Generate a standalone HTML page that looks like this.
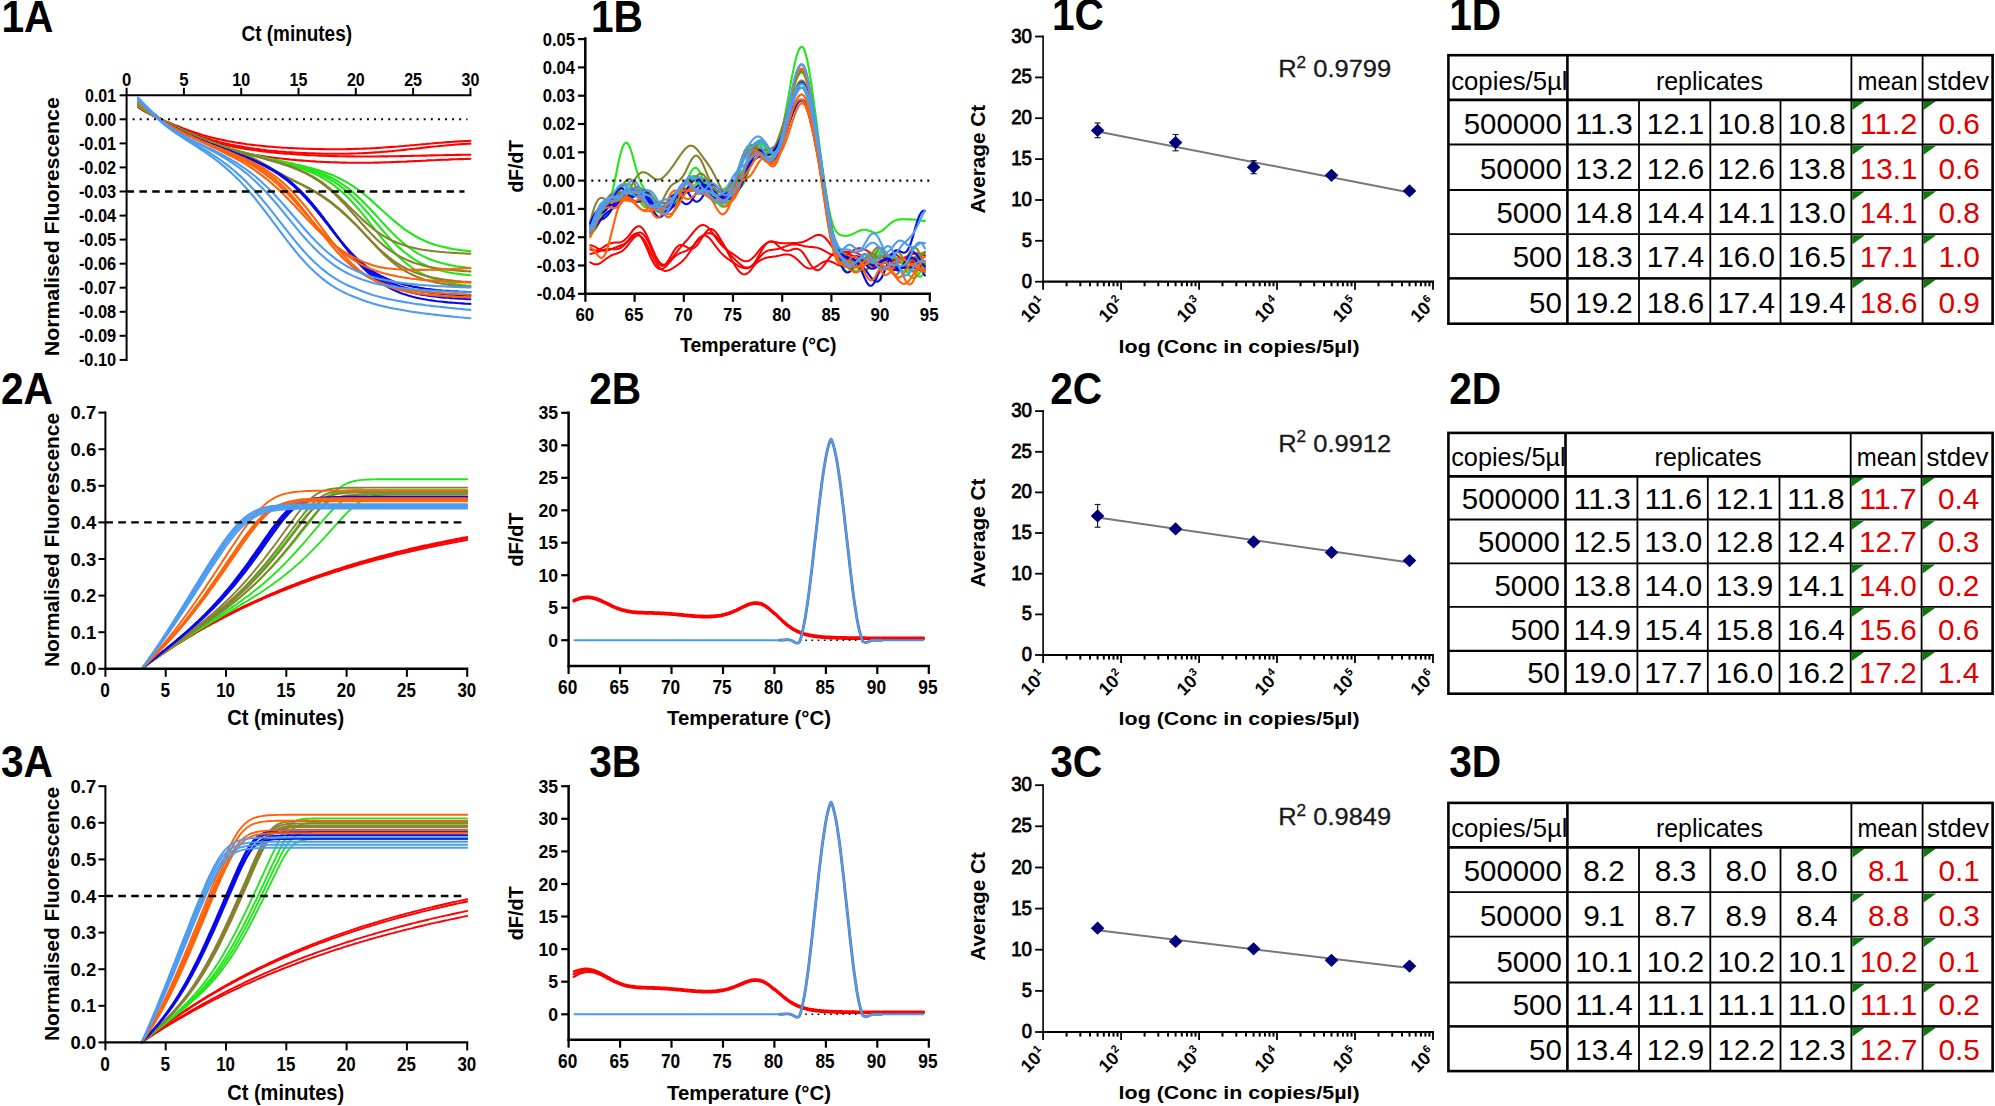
<!DOCTYPE html>
<html lang="en"><head><meta charset="utf-8"><title>Figure</title>
<style>html,body{margin:0;padding:0;background:#fff;}svg{display:block;}text{font-family:'Liberation Sans', Arial, Helvetica, sans-serif;}</style></head>
<body>
<svg width="1995" height="1106" viewBox="0 0 1995 1106">
<rect width="1995" height="1106" fill="#fff"/>
<text x="1.4" y="31.7" font-size="43.5" font-weight="bold" textLength="52" lengthAdjust="spacingAndGlyphs">1A</text>
<text x="590.9" y="31.8" font-size="43.5" font-weight="bold" textLength="52" lengthAdjust="spacingAndGlyphs">1B</text>
<text x="1051.9" y="30" font-size="43.5" font-weight="bold" textLength="52" lengthAdjust="spacingAndGlyphs">1C</text>
<text x="1449.2" y="29.8" font-size="43.5" font-weight="bold" textLength="52" lengthAdjust="spacingAndGlyphs">1D</text>
<text x="0.9" y="404.4" font-size="43.5" font-weight="bold" textLength="52" lengthAdjust="spacingAndGlyphs">2A</text>
<text x="589.2" y="404.4" font-size="43.5" font-weight="bold" textLength="52" lengthAdjust="spacingAndGlyphs">2B</text>
<text x="1050.2" y="404.4" font-size="43.5" font-weight="bold" textLength="52" lengthAdjust="spacingAndGlyphs">2C</text>
<text x="1449.2" y="404.4" font-size="43.5" font-weight="bold" textLength="52" lengthAdjust="spacingAndGlyphs">2D</text>
<text x="0.9" y="776.8" font-size="43.5" font-weight="bold" textLength="52" lengthAdjust="spacingAndGlyphs">3A</text>
<text x="589.2" y="776.8" font-size="43.5" font-weight="bold" textLength="52" lengthAdjust="spacingAndGlyphs">3B</text>
<text x="1050.2" y="776.8" font-size="43.5" font-weight="bold" textLength="52" lengthAdjust="spacingAndGlyphs">3C</text>
<text x="1449.2" y="776.8" font-size="43.5" font-weight="bold" textLength="52" lengthAdjust="spacingAndGlyphs">3D</text>
<polyline points="138.1,107.2 140.9,109.1 143.6,110.8 146.4,112.4 149.2,113.9 152,115.4 154.8,116.7 157.6,117.9 160.4,119.1 163.2,120.2 166,121.4 168.8,122.5 171.6,123.7 174.4,124.9 177.2,126 180,127.1 182.7,128.2 185.5,129.2 188.3,130.3 191.1,131.3 193.9,132.2 196.7,133.1 199.5,134 202.3,134.9 205.1,135.7 207.9,136.5 210.7,137.2 213.5,137.9 216.3,138.6 219.1,139.2 221.8,139.8 224.6,140.4 227.4,141 230.2,141.5 233,142 235.8,142.5 238.6,142.9 241.4,143.4 244.2,143.8 247,144.2 249.8,144.5 252.6,144.9 255.4,145.2 258.1,145.5 260.9,145.8 263.7,146.1 266.5,146.4 269.3,146.6 272.1,146.8 274.9,147.1 277.7,147.3 280.5,147.5 283.3,147.7 286.1,147.8 288.9,148 291.7,148.1 294.5,148.3 297.2,148.4 300,148.5 302.8,148.6 305.6,148.7 308.4,148.8 311.2,148.9 314,149 316.8,149 319.6,149.1 322.4,149.1 325.2,149.2 328,149.2 330.8,149.2 333.6,149.2 336.3,149.2 339.1,149.2 341.9,149.2 344.7,149.2 347.5,149.1 350.3,149.1 353.1,149 355.9,148.9 358.7,148.8 361.5,148.7 364.3,148.6 367.1,148.5 369.9,148.4 372.7,148.2 375.4,148.1 378.2,147.9 381,147.7 383.8,147.5 386.6,147.3 389.4,147.1 392.2,146.9 395,146.7 397.8,146.5 400.6,146.2 403.4,146 406.2,145.7 409,145.5 411.8,145.2 414.5,145 417.3,144.7 420.1,144.5 422.9,144.2 425.7,144 428.5,143.7 431.3,143.5 434.1,143.2 436.9,143 439.7,142.8 442.5,142.6 445.3,142.3 448.1,142.1 450.9,142 453.6,141.8 456.4,141.6 459.2,141.4 462,141.3 464.8,141.1 467.6,141 470.4,140.8" fill="none" stroke="#ff0000" stroke-width="2.1" stroke-linejoin="round" stroke-linecap="round"/>
<polyline points="138.1,105.2 140.9,107.3 143.6,109.2 146.4,111.1 149.2,112.9 152,114.6 154.8,116.1 157.6,117.6 160.4,119.1 163.2,120.4 166,121.8 168.8,123.1 171.6,124.5 174.4,125.8 177.2,127.1 180,128.3 182.7,129.5 185.5,130.7 188.3,131.9 191.1,133 193.9,134 196.7,135.1 199.5,136 202.3,137 205.1,137.9 207.9,138.8 210.7,139.6 213.5,140.4 216.3,141.1 219.1,141.9 221.8,142.6 224.6,143.2 227.4,143.9 230.2,144.5 233,145 235.8,145.6 238.6,146.1 241.4,146.6 244.2,147.1 247,147.5 249.8,148 252.6,148.4 255.4,148.8 258.1,149.1 260.9,149.5 263.7,149.8 266.5,150.2 269.3,150.5 272.1,150.7 274.9,151 277.7,151.3 280.5,151.5 283.3,151.7 286.1,152 288.9,152.2 291.7,152.3 294.5,152.5 297.2,152.7 300,152.8 302.8,153 305.6,153.1 308.4,153.2 311.2,153.3 314,153.4 316.8,153.5 319.6,153.6 322.4,153.7 325.2,153.7 328,153.7 330.8,153.8 333.6,153.8 336.3,153.8 339.1,153.8 341.9,153.8 344.7,153.7 347.5,153.7 350.3,153.6 353.1,153.5 355.9,153.5 358.7,153.3 361.5,153.2 364.3,153.1 367.1,153 369.9,152.8 372.7,152.6 375.4,152.4 378.2,152.2 381,152 383.8,151.8 386.6,151.6 389.4,151.3 392.2,151.1 395,150.8 397.8,150.5 400.6,150.2 403.4,149.9 406.2,149.6 409,149.3 411.8,149 414.5,148.7 417.3,148.4 420.1,148.1 422.9,147.7 425.7,147.4 428.5,147.1 431.3,146.8 434.1,146.5 436.9,146.3 439.7,146 442.5,145.7 445.3,145.5 448.1,145.2 450.9,145 453.6,144.8 456.4,144.5 459.2,144.3 462,144.1 464.8,144 467.6,143.8 470.4,143.6" fill="none" stroke="#ff0000" stroke-width="2.1" stroke-linejoin="round" stroke-linecap="round"/>
<polyline points="138.1,102.9 140.9,105.3 143.6,107.6 146.4,109.7 149.2,111.8 152,113.7 154.8,115.6 157.6,117.4 160.4,119 163.2,120.6 166,122.2 168.8,123.7 171.6,125.2 174.4,126.6 177.2,128 180,129.3 182.7,130.6 185.5,131.9 188.3,133.1 191.1,134.2 193.9,135.3 196.7,136.4 199.5,137.4 202.3,138.4 205.1,139.3 207.9,140.2 210.7,141 213.5,141.8 216.3,142.6 219.1,143.4 221.8,144.1 224.6,144.7 227.4,145.4 230.2,146 233,146.6 235.8,147.1 238.6,147.7 241.4,148.2 244.2,148.6 247,149.1 249.8,149.5 252.6,150 255.4,150.3 258.1,150.7 260.9,151.1 263.7,151.4 266.5,151.8 269.3,152.1 272.1,152.4 274.9,152.6 277.7,152.9 280.5,153.2 283.3,153.4 286.1,153.6 288.9,153.8 291.7,154 294.5,154.2 297.2,154.4 300,154.6 302.8,154.8 305.6,154.9 308.4,155.1 311.2,155.2 314,155.3 316.8,155.5 319.6,155.6 322.4,155.7 325.2,155.8 328,155.9 330.8,156 333.6,156.1 336.3,156.1 339.1,156.2 341.9,156.3 344.7,156.3 347.5,156.4 350.3,156.4 353.1,156.4 355.9,156.5 358.7,156.5 361.5,156.5 364.3,156.5 367.1,156.5 369.9,156.5 372.7,156.5 375.4,156.5 378.2,156.5 381,156.4 383.8,156.4 386.6,156.4 389.4,156.3 392.2,156.3 395,156.3 397.8,156.2 400.6,156.1 403.4,156.1 406.2,156 409,156 411.8,155.9 414.5,155.8 417.3,155.8 420.1,155.7 422.9,155.6 425.7,155.6 428.5,155.5 431.3,155.4 434.1,155.4 436.9,155.3 439.7,155.3 442.5,155.2 445.3,155.1 448.1,155.1 450.9,155 453.6,155 456.4,154.9 459.2,154.9 462,154.8 464.8,154.8 467.6,154.8 470.4,154.7" fill="none" stroke="#ff0000" stroke-width="2.1" stroke-linejoin="round" stroke-linecap="round"/>
<polyline points="138.1,100.9 140.9,103.5 143.6,106 146.4,108.4 149.2,110.7 152,112.9 154.8,115 157.6,117 160.4,119 163.2,120.8 166,122.6 168.8,124.3 171.6,126 174.4,127.6 177.2,129.2 180,130.7 182.7,132.2 185.5,133.6 188.3,134.9 191.1,136.2 193.9,137.4 196.7,138.6 199.5,139.8 202.3,140.9 205.1,141.9 207.9,142.9 210.7,143.9 213.5,144.8 216.3,145.7 219.1,146.6 221.8,147.4 224.6,148.2 227.4,149 230.2,149.7 233,150.4 235.8,151 238.6,151.7 241.4,152.3 244.2,152.9 247,153.4 249.8,154 252.6,154.5 255.4,155 258.1,155.4 260.9,155.9 263.7,156.3 266.5,156.7 269.3,157.1 272.1,157.5 274.9,157.9 277.7,158.2 280.5,158.5 283.3,158.8 286.1,159.1 288.9,159.4 291.7,159.7 294.5,159.9 297.2,160.2 300,160.4 302.8,160.6 305.6,160.8 308.4,161 311.2,161.2 314,161.4 316.8,161.6 319.6,161.7 322.4,161.9 325.2,162 328,162.1 330.8,162.2 333.6,162.3 336.3,162.4 339.1,162.5 341.9,162.6 344.7,162.6 347.5,162.7 350.3,162.7 353.1,162.7 355.9,162.8 358.7,162.8 361.5,162.8 364.3,162.8 367.1,162.7 369.9,162.7 372.7,162.7 375.4,162.6 378.2,162.6 381,162.5 383.8,162.4 386.6,162.3 389.4,162.2 392.2,162.1 395,162 397.8,161.9 400.6,161.8 403.4,161.7 406.2,161.6 409,161.4 411.8,161.3 414.5,161.1 417.3,161 420.1,160.9 422.9,160.7 425.7,160.6 428.5,160.4 431.3,160.3 434.1,160.2 436.9,160 439.7,159.9 442.5,159.8 445.3,159.7 448.1,159.6 450.9,159.4 453.6,159.3 456.4,159.2 459.2,159.1 462,159.1 464.8,159 467.6,158.9 470.4,158.8" fill="none" stroke="#ff0000" stroke-width="2.1" stroke-linejoin="round" stroke-linecap="round"/>
<polyline points="138.1,106.1 140.9,107.9 143.6,109.7 146.4,111.4 149.2,113 152,114.6 154.8,116.1 157.6,117.6 160.4,119.1 163.2,120.5 166,121.9 168.8,123.3 171.6,124.7 174.4,126.1 177.2,127.5 180,128.8 182.7,130.2 185.5,131.5 188.3,132.8 191.1,134 193.9,135.2 196.7,136.4 199.5,137.6 202.3,138.7 205.1,139.8 207.9,140.9 210.7,142 213.5,143 216.3,144 219.1,144.9 221.8,145.9 224.6,146.8 227.4,147.7 230.2,148.5 233,149.4 235.8,150.2 238.6,151 241.4,151.7 244.2,152.5 247,153.2 249.8,153.9 252.6,154.6 255.4,155.3 258.1,156 260.9,156.7 263.7,157.3 266.5,157.9 269.3,158.6 272.1,159.2 274.9,159.8 277.7,160.4 280.5,161 283.3,161.6 286.1,162.2 288.9,162.8 291.7,163.4 294.5,164 297.2,164.7 300,165.3 302.8,166 305.6,166.6 308.4,167.4 311.2,168.1 314,168.9 316.8,169.7 319.6,170.5 322.4,171.4 325.2,172.4 328,173.4 330.8,174.5 333.6,175.6 336.3,176.9 339.1,178.2 341.9,179.6 344.7,181.1 347.5,182.7 350.3,184.4 353.1,186.2 355.9,188.1 358.7,190.1 361.5,192.3 364.3,194.5 367.1,196.8 369.9,199.1 372.7,201.6 375.4,204.1 378.2,206.6 381,209.2 383.8,211.7 386.6,214.2 389.4,216.8 392.2,219.2 395,221.6 397.8,223.9 400.6,226.1 403.4,228.3 406.2,230.3 409,232.2 411.8,234 414.5,235.7 417.3,237.2 420.1,238.7 422.9,240 425.7,241.3 428.5,242.4 431.3,243.4 434.1,244.4 436.9,245.3 439.7,246.1 442.5,246.8 445.3,247.4 448.1,248 450.9,248.6 453.6,249.1 456.4,249.5 459.2,249.9 462,250.3 464.8,250.6 467.6,250.9 470.4,251.2" fill="none" stroke="#22e61a" stroke-width="2.1" stroke-linejoin="round" stroke-linecap="round"/>
<polyline points="138.1,105.4 140.9,107.3 143.6,109.1 146.4,110.9 149.2,112.6 152,114.3 154.8,115.9 157.6,117.5 160.4,119 163.2,120.5 166,122 168.8,123.5 171.6,124.9 174.4,126.3 177.2,127.7 180,129.1 182.7,130.4 185.5,131.7 188.3,133 191.1,134.3 193.9,135.5 196.7,136.7 199.5,137.8 202.3,139 205.1,140 207.9,141.1 210.7,142.1 213.5,143.2 216.3,144.1 219.1,145.1 221.8,146 224.6,146.9 227.4,147.8 230.2,148.7 233,149.5 235.8,150.3 238.6,151.1 241.4,151.9 244.2,152.6 247,153.4 249.8,154.1 252.6,154.8 255.4,155.5 258.1,156.2 260.9,156.9 263.7,157.5 266.5,158.2 269.3,158.8 272.1,159.5 274.9,160.1 277.7,160.8 280.5,161.4 283.3,162 286.1,162.7 288.9,163.4 291.7,164 294.5,164.7 297.2,165.4 300,166.2 302.8,166.9 305.6,167.7 308.4,168.6 311.2,169.5 314,170.4 316.8,171.4 319.6,172.4 322.4,173.5 325.2,174.7 328,176 330.8,177.4 333.6,178.9 336.3,180.4 339.1,182.1 341.9,184 344.7,185.9 347.5,187.9 350.3,190.1 353.1,192.4 355.9,194.9 358.7,197.5 361.5,200.1 364.3,202.9 367.1,205.8 369.9,208.7 372.7,211.7 375.4,214.8 378.2,217.9 381,220.9 383.8,224 386.6,227 389.4,229.9 392.2,232.8 395,235.5 397.8,238.2 400.6,240.7 403.4,243.1 406.2,245.4 409,247.5 411.8,249.5 414.5,251.3 417.3,253.1 420.1,254.6 422.9,256.1 425.7,257.4 428.5,258.7 431.3,259.8 434.1,260.8 436.9,261.7 439.7,262.6 442.5,263.3 445.3,264 448.1,264.6 450.9,265.2 453.6,265.7 456.4,266.2 459.2,266.6 462,267 464.8,267.4 467.6,267.7 470.4,268" fill="none" stroke="#22e61a" stroke-width="2.1" stroke-linejoin="round" stroke-linecap="round"/>
<polyline points="138.1,104.6 140.9,106.6 143.6,108.6 146.4,110.4 149.2,112.3 152,114 154.8,115.7 157.6,117.4 160.4,119 163.2,120.6 166,122.1 168.8,123.7 171.6,125.1 174.4,126.6 177.2,128 180,129.4 182.7,130.7 185.5,132 188.3,133.3 191.1,134.5 193.9,135.7 196.7,136.9 199.5,138.1 202.3,139.2 205.1,140.3 207.9,141.3 210.7,142.3 213.5,143.3 216.3,144.3 219.1,145.3 221.8,146.2 224.6,147.1 227.4,148 230.2,148.8 233,149.6 235.8,150.5 238.6,151.2 241.4,152 244.2,152.8 247,153.5 249.8,154.2 252.6,155 255.4,155.7 258.1,156.4 260.9,157 263.7,157.7 266.5,158.4 269.3,159.1 272.1,159.7 274.9,160.4 277.7,161.1 280.5,161.7 283.3,162.4 286.1,163.1 288.9,163.8 291.7,164.6 294.5,165.3 297.2,166.1 300,166.9 302.8,167.8 305.6,168.7 308.4,169.6 311.2,170.6 314,171.7 316.8,172.8 319.6,174 322.4,175.3 325.2,176.7 328,178.2 330.8,179.8 333.6,181.5 336.3,183.3 339.1,185.3 341.9,187.4 344.7,189.6 347.5,192 350.3,194.5 353.1,197.2 355.9,200 358.7,202.9 361.5,205.9 364.3,209 367.1,212.2 369.9,215.4 372.7,218.7 375.4,222 378.2,225.3 381,228.5 383.8,231.7 386.6,234.9 389.4,237.9 392.2,240.9 395,243.7 397.8,246.4 400.6,248.9 403.4,251.3 406.2,253.5 409,255.6 411.8,257.6 414.5,259.4 417.3,261.1 420.1,262.6 422.9,264 425.7,265.3 428.5,266.5 431.3,267.5 434.1,268.5 436.9,269.4 439.7,270.2 442.5,270.9 445.3,271.6 448.1,272.2 450.9,272.7 453.6,273.2 456.4,273.6 459.2,274 462,274.4 464.8,274.7 467.6,275 470.4,275.3" fill="none" stroke="#22e61a" stroke-width="2.1" stroke-linejoin="round" stroke-linecap="round"/>
<polyline points="138.1,103.9 140.9,106 143.6,108 146.4,110 149.2,111.9 152,113.8 154.8,115.6 157.6,117.3 160.4,119 163.2,120.7 166,122.3 168.8,123.8 171.6,125.4 174.4,126.8 177.2,128.3 180,129.6 182.7,131 185.5,132.3 188.3,133.6 191.1,134.8 193.9,136 196.7,137.2 199.5,138.3 202.3,139.4 205.1,140.5 207.9,141.5 210.7,142.6 213.5,143.5 216.3,144.5 219.1,145.5 221.8,146.4 224.6,147.3 227.4,148.1 230.2,149 233,149.8 235.8,150.6 238.6,151.4 241.4,152.2 244.2,153 247,153.7 249.8,154.5 252.6,155.2 255.4,155.9 258.1,156.6 260.9,157.3 263.7,158 266.5,158.7 269.3,159.4 272.1,160.2 274.9,160.9 277.7,161.6 280.5,162.3 283.3,163.1 286.1,163.8 288.9,164.6 291.7,165.4 294.5,166.3 297.2,167.1 300,168.1 302.8,169 305.6,170.1 308.4,171.2 311.2,172.3 314,173.6 316.8,174.9 319.6,176.3 322.4,177.8 325.2,179.4 328,181.2 330.8,183 333.6,185 336.3,187.2 339.1,189.4 341.9,191.9 344.7,194.4 347.5,197.1 350.3,200 353.1,203 355.9,206.1 358.7,209.3 361.5,212.6 364.3,216.1 367.1,219.5 369.9,223.1 372.7,226.6 375.4,230.2 378.2,233.7 381,237.1 383.8,240.5 386.6,243.8 389.4,247 392.2,250.1 395,253.1 397.8,255.9 400.6,258.5 403.4,261 406.2,263.3 409,265.5 411.8,267.5 414.5,269.4 417.3,271.1 420.1,272.7 422.9,274.1 425.7,275.5 428.5,276.7 431.3,277.8 434.1,278.8 436.9,279.7 439.7,280.6 442.5,281.3 445.3,282 448.1,282.6 450.9,283.2 453.6,283.7 456.4,284.2 459.2,284.6 462,285 464.8,285.3 467.6,285.7 470.4,285.9" fill="none" stroke="#22e61a" stroke-width="2.1" stroke-linejoin="round" stroke-linecap="round"/>
<polyline points="138.1,104.6 140.9,106.6 143.6,108.6 146.4,110.4 149.2,112.3 152,114 154.8,115.8 157.6,117.4 160.4,119 163.2,120.6 166,122.2 168.8,123.7 171.6,125.1 174.4,126.6 177.2,128 180,129.4 182.7,130.7 185.5,132 188.3,133.3 191.1,134.6 193.9,135.8 196.7,136.9 199.5,138.1 202.3,139.2 205.1,140.3 207.9,141.4 210.7,142.4 213.5,143.4 216.3,144.4 219.1,145.3 221.8,146.3 224.6,147.2 227.4,148.1 230.2,148.9 233,149.8 235.8,150.6 238.6,151.4 241.4,152.2 244.2,153 247,153.8 249.8,154.6 252.6,155.3 255.4,156.1 258.1,156.8 260.9,157.6 263.7,158.3 266.5,159.1 269.3,159.9 272.1,160.6 274.9,161.4 277.7,162.3 280.5,163.1 283.3,164 286.1,164.9 288.9,165.8 291.7,166.8 294.5,167.8 297.2,169 300,170.1 302.8,171.4 305.6,172.7 308.4,174.1 311.2,175.6 314,177.2 316.8,179 319.6,180.8 322.4,182.7 325.2,184.8 328,187 330.8,189.3 333.6,191.7 336.3,194.2 339.1,196.8 341.9,199.4 344.7,202.1 347.5,204.9 350.3,207.7 353.1,210.4 355.9,213.2 358.7,215.9 361.5,218.6 364.3,221.1 367.1,223.6 369.9,226 372.7,228.3 375.4,230.4 378.2,232.4 381,234.3 383.8,236.1 386.6,237.7 389.4,239.2 392.2,240.6 395,241.8 397.8,243 400.6,244.1 403.4,245 406.2,245.9 409,246.7 411.8,247.4 414.5,248.1 417.3,248.7 420.1,249.2 422.9,249.7 425.7,250.1 428.5,250.5 431.3,250.9 434.1,251.2 436.9,251.5 439.7,251.8 442.5,252 445.3,252.3 448.1,252.5 450.9,252.7 453.6,252.9 456.4,253 459.2,253.2 462,253.3 464.8,253.5 467.6,253.6 470.4,253.7" fill="none" stroke="#86822e" stroke-width="2.1" stroke-linejoin="round" stroke-linecap="round"/>
<polyline points="138.1,103.9 140.9,106 143.6,108 146.4,110 149.2,111.9 152,113.8 154.8,115.6 157.6,117.3 160.4,119 163.2,120.7 166,122.3 168.8,123.8 171.6,125.4 174.4,126.8 177.2,128.3 180,129.7 182.7,131 185.5,132.3 188.3,133.6 191.1,134.8 193.9,136 196.7,137.2 199.5,138.3 202.3,139.5 205.1,140.5 207.9,141.6 210.7,142.6 213.5,143.6 216.3,144.6 219.1,145.5 221.8,146.5 224.6,147.4 227.4,148.3 230.2,149.1 233,150 235.8,150.8 238.6,151.6 241.4,152.4 244.2,153.2 247,154 249.8,154.8 252.6,155.6 255.4,156.3 258.1,157.1 260.9,157.8 263.7,158.6 266.5,159.4 269.3,160.2 272.1,161 274.9,161.8 277.7,162.6 280.5,163.5 283.3,164.4 286.1,165.3 288.9,166.3 291.7,167.3 294.5,168.4 297.2,169.5 300,170.7 302.8,172 305.6,173.4 308.4,174.8 311.2,176.4 314,178 316.8,179.8 319.6,181.7 322.4,183.7 325.2,185.9 328,188.1 330.8,190.5 333.6,193.1 336.3,195.7 339.1,198.5 341.9,201.4 344.7,204.3 347.5,207.4 350.3,210.5 353.1,213.7 355.9,216.9 358.7,220 361.5,223.2 364.3,226.3 367.1,229.4 369.9,232.4 372.7,235.3 375.4,238 378.2,240.7 381,243.2 383.8,245.6 386.6,247.8 389.4,249.9 392.2,251.9 395,253.7 397.8,255.4 400.6,256.9 403.4,258.3 406.2,259.6 409,260.8 411.8,261.9 414.5,262.9 417.3,263.8 420.1,264.6 422.9,265.4 425.7,266 428.5,266.7 431.3,267.2 434.1,267.7 436.9,268.2 439.7,268.6 442.5,269 445.3,269.3 448.1,269.7 450.9,269.9 453.6,270.2 456.4,270.4 459.2,270.7 462,270.9 464.8,271.1 467.6,271.2 470.4,271.4" fill="none" stroke="#86822e" stroke-width="2.1" stroke-linejoin="round" stroke-linecap="round"/>
<polyline points="138.1,103.2 140.9,105.4 143.6,107.5 146.4,109.5 149.2,111.5 152,113.5 154.8,115.4 157.6,117.2 160.4,119 163.2,120.7 166,122.4 168.8,124 171.6,125.6 174.4,127.1 177.2,128.5 180,129.9 182.7,131.3 185.5,132.6 188.3,133.9 191.1,135.1 193.9,136.3 196.7,137.5 199.5,138.6 202.3,139.7 205.1,140.8 207.9,141.8 210.7,142.9 213.5,143.9 216.3,144.9 219.1,145.8 221.8,146.8 224.6,147.8 227.4,148.7 230.2,149.7 233,150.6 235.8,151.6 238.6,152.6 241.4,153.6 244.2,154.7 247,155.8 249.8,157 252.6,158.2 255.4,159.5 258.1,160.9 260.9,162.4 263.7,164 266.5,165.6 269.3,167.2 272.1,168.9 274.9,170.6 277.7,172.2 280.5,173.8 283.3,175.4 286.1,176.9 288.9,178.3 291.7,179.7 294.5,181.1 297.2,182.5 300,183.9 302.8,185.3 305.6,186.8 308.4,188.3 311.2,189.8 314,191.4 316.8,193.1 319.6,194.9 322.4,196.7 325.2,198.6 328,200.6 330.8,202.7 333.6,204.9 336.3,207.2 339.1,209.5 341.9,211.9 344.7,214.4 347.5,217 350.3,219.7 353.1,222.4 355.9,225.1 358.7,228 361.5,230.8 364.3,233.7 367.1,236.6 369.9,239.5 372.7,242.4 375.4,245.1 378.2,247.9 381,250.5 383.8,253 386.6,255.4 389.4,257.7 392.2,259.8 395,261.8 397.8,263.7 400.6,265.4 403.4,267 406.2,268.5 409,269.9 411.8,271.1 414.5,272.3 417.3,273.3 420.1,274.3 422.9,275.1 425.7,275.9 428.5,276.6 431.3,277.3 434.1,277.9 436.9,278.4 439.7,278.9 442.5,279.3 445.3,279.7 448.1,280.1 450.9,280.4 453.6,280.7 456.4,281 459.2,281.2 462,281.5 464.8,281.7 467.6,281.9 470.4,282.1" fill="none" stroke="#86822e" stroke-width="2.1" stroke-linejoin="round" stroke-linecap="round"/>
<polyline points="138.1,102.5 140.9,104.7 143.6,106.9 146.4,109.1 149.2,111.2 152,113.2 154.8,115.2 157.6,117.1 160.4,119 163.2,120.8 166,122.5 168.8,124.2 171.6,125.8 174.4,127.3 177.2,128.8 180,130.2 182.7,131.5 185.5,132.8 188.3,134.1 191.1,135.3 193.9,136.5 196.7,137.7 199.5,138.8 202.3,139.9 205.1,141 207.9,142 210.7,143 213.5,144 216.3,145 219.1,146 221.8,146.9 224.6,147.9 227.4,148.8 230.2,149.8 233,150.7 235.8,151.7 238.6,152.6 241.4,153.7 244.2,154.7 247,155.8 249.8,157 252.6,158.2 255.4,159.5 258.1,160.9 260.9,162.4 263.7,163.9 266.5,165.5 269.3,167.2 272.1,168.8 274.9,170.4 277.7,172.1 280.5,173.6 283.3,175.2 286.1,176.7 288.9,178.1 291.7,179.5 294.5,180.9 297.2,182.2 300,183.6 302.8,185 305.6,186.4 308.4,187.8 311.2,189.3 314,190.9 316.8,192.5 319.6,194.2 322.4,196 325.2,197.9 328,199.8 330.8,201.9 333.6,204.1 336.3,206.3 339.1,208.6 341.9,211.1 344.7,213.6 347.5,216.2 350.3,218.9 353.1,221.7 355.9,224.6 358.7,227.5 361.5,230.5 364.3,233.6 367.1,236.7 369.9,239.8 372.7,242.8 375.4,245.8 378.2,248.8 381,251.6 383.8,254.4 386.6,257 389.4,259.5 392.2,261.9 395,264.1 397.8,266.2 400.6,268.1 403.4,269.9 406.2,271.6 409,273.1 411.8,274.5 414.5,275.8 417.3,277 420.1,278 422.9,279 425.7,279.9 428.5,280.7 431.3,281.4 434.1,282.1 436.9,282.7 439.7,283.2 442.5,283.7 445.3,284.2 448.1,284.6 450.9,284.9 453.6,285.3 456.4,285.6 459.2,285.8 462,286.1 464.8,286.3 467.6,286.5 470.4,286.7" fill="none" stroke="#86822e" stroke-width="2.1" stroke-linejoin="round" stroke-linecap="round"/>
<polyline points="138.1,102.3 140.9,104.6 143.6,106.8 146.4,109 149.2,111.1 152,113.2 154.8,115.2 157.6,117.2 160.4,119.1 163.2,121 166,122.7 168.8,124.4 171.6,126.1 174.4,127.6 177.2,129.1 180,130.5 182.7,131.9 185.5,133.3 188.3,134.6 191.1,135.9 193.9,137.1 196.7,138.3 199.5,139.5 202.3,140.6 205.1,141.8 207.9,142.9 210.7,144 213.5,145 216.3,146.1 219.1,147.2 221.8,148.2 224.6,149.3 227.4,150.3 230.2,151.3 233,152.4 235.8,153.5 238.6,154.5 241.4,155.6 244.2,156.7 247,157.9 249.8,159 252.6,160.2 255.4,161.5 258.1,162.8 260.9,164.1 263.7,165.5 266.5,167 269.3,168.5 272.1,170.2 274.9,171.9 277.7,173.7 280.5,175.6 283.3,177.6 286.1,179.7 288.9,182 291.7,184.4 294.5,186.8 297.2,189.5 300,192.2 302.8,195.1 305.6,198.1 308.4,201.2 311.2,204.4 314,207.7 316.8,211.1 319.6,214.6 322.4,218.1 325.2,221.7 328,225.2 330.8,228.8 333.6,232.3 336.3,235.8 339.1,239.2 341.9,242.6 344.7,245.8 347.5,248.9 350.3,251.9 353.1,254.8 355.9,257.6 358.7,260.2 361.5,262.6 364.3,264.9 367.1,267.1 369.9,269.1 372.7,271 375.4,272.8 378.2,274.4 381,275.9 383.8,277.3 386.6,278.6 389.4,279.8 392.2,280.9 395,281.9 397.8,282.8 400.6,283.6 403.4,284.4 406.2,285.1 409,285.8 411.8,286.4 414.5,286.9 417.3,287.4 420.1,287.9 422.9,288.3 425.7,288.7 428.5,289 431.3,289.4 434.1,289.7 436.9,290 439.7,290.2 442.5,290.5 445.3,290.7 448.1,290.9 450.9,291.1 453.6,291.2 456.4,291.4 459.2,291.6 462,291.7 464.8,291.8 467.6,292 470.4,292.1" fill="none" stroke="#0808ee" stroke-width="2.1" stroke-linejoin="round" stroke-linecap="round"/>
<polyline points="138.1,101.6 140.9,103.9 143.6,106.3 146.4,108.5 149.2,110.7 152,112.9 154.8,115 157.6,117.1 160.4,119.1 163.2,121 166,122.9 168.8,124.6 171.6,126.3 174.4,127.8 177.2,129.3 180,130.8 182.7,132.2 185.5,133.5 188.3,134.8 191.1,136.1 193.9,137.3 196.7,138.5 199.5,139.7 202.3,140.8 205.1,141.9 207.9,143 210.7,144.1 213.5,145.1 216.3,146.2 219.1,147.2 221.8,148.2 224.6,149.3 227.4,150.3 230.2,151.3 233,152.3 235.8,153.4 238.6,154.4 241.4,155.5 244.2,156.6 247,157.7 249.8,158.8 252.6,160 255.4,161.2 258.1,162.4 260.9,163.7 263.7,165.1 266.5,166.5 269.3,168 272.1,169.6 274.9,171.3 277.7,173 280.5,174.9 283.3,176.8 286.1,178.9 288.9,181.1 291.7,183.4 294.5,185.8 297.2,188.4 300,191.1 302.8,194 305.6,196.9 308.4,200 311.2,203.2 314,206.5 316.8,210 319.6,213.4 322.4,217 325.2,220.6 328,224.3 330.8,227.9 333.6,231.6 336.3,235.2 339.1,238.7 341.9,242.2 344.7,245.6 347.5,249 350.3,252.2 353.1,255.2 355.9,258.2 358.7,260.9 361.5,263.6 364.3,266.1 367.1,268.4 369.9,270.6 372.7,272.7 375.4,274.6 378.2,276.4 381,278 383.8,279.6 386.6,281 389.4,282.3 392.2,283.4 395,284.5 397.8,285.6 400.6,286.5 403.4,287.3 406.2,288.1 409,288.8 411.8,289.5 414.5,290.1 417.3,290.6 420.1,291.1 422.9,291.6 425.7,292 428.5,292.4 431.3,292.7 434.1,293.1 436.9,293.4 439.7,293.6 442.5,293.9 445.3,294.1 448.1,294.4 450.9,294.6 453.6,294.8 456.4,294.9 459.2,295.1 462,295.2 464.8,295.4 467.6,295.5 470.4,295.6" fill="none" stroke="#0808ee" stroke-width="2.1" stroke-linejoin="round" stroke-linecap="round"/>
<polyline points="138.1,100.8 140.9,103.3 143.6,105.7 146.4,108.1 149.2,110.4 152,112.6 154.8,114.8 157.6,117 160.4,119.1 163.2,121.1 166,123 168.8,124.8 171.6,126.5 174.4,128.1 177.2,129.6 180,131 182.7,132.4 185.5,133.8 188.3,135.1 191.1,136.3 193.9,137.5 196.7,138.7 199.5,139.9 202.3,141 205.1,142.1 207.9,143.2 210.7,144.2 213.5,145.3 216.3,146.3 219.1,147.3 221.8,148.3 224.6,149.3 227.4,150.3 230.2,151.3 233,152.3 235.8,153.4 238.6,154.4 241.4,155.4 244.2,156.5 247,157.6 249.8,158.7 252.6,159.8 255.4,161 258.1,162.3 260.9,163.5 263.7,164.9 266.5,166.3 269.3,167.7 272.1,169.3 274.9,170.9 277.7,172.6 280.5,174.4 283.3,176.4 286.1,178.4 288.9,180.6 291.7,182.8 294.5,185.3 297.2,187.8 300,190.5 302.8,193.3 305.6,196.3 308.4,199.3 311.2,202.6 314,205.9 316.8,209.3 319.6,212.9 322.4,216.5 325.2,220.1 328,223.9 330.8,227.6 333.6,231.3 336.3,235.1 339.1,238.8 341.9,242.4 344.7,246 347.5,249.4 350.3,252.8 353.1,256 355.9,259.1 358.7,262 361.5,264.9 364.3,267.5 367.1,270 369.9,272.4 372.7,274.6 375.4,276.6 378.2,278.5 381,280.3 383.8,281.9 386.6,283.4 389.4,284.8 392.2,286.1 395,287.3 397.8,288.4 400.6,289.4 403.4,290.3 406.2,291.1 409,291.9 411.8,292.6 414.5,293.2 417.3,293.8 420.1,294.4 422.9,294.9 425.7,295.3 428.5,295.7 431.3,296.1 434.1,296.5 436.9,296.8 439.7,297.1 442.5,297.4 445.3,297.6 448.1,297.8 450.9,298.1 453.6,298.3 456.4,298.5 459.2,298.6 462,298.8 464.8,298.9 467.6,299.1 470.4,299.2" fill="none" stroke="#0808ee" stroke-width="2.1" stroke-linejoin="round" stroke-linecap="round"/>
<polyline points="138.1,100.1 140.9,102.7 143.6,105.2 146.4,107.6 149.2,110 152,112.4 154.8,114.6 157.6,116.9 160.4,119.1 163.2,121.2 166,123.1 168.8,125 171.6,126.7 174.4,128.3 177.2,129.9 180,131.3 182.7,132.7 185.5,134.1 188.3,135.4 191.1,136.6 193.9,137.8 196.7,139 199.5,140.1 202.3,141.3 205.1,142.4 207.9,143.4 210.7,144.5 213.5,145.5 216.3,146.5 219.1,147.6 221.8,148.6 224.6,149.6 227.4,150.6 230.2,151.6 233,152.6 235.8,153.6 238.6,154.6 241.4,155.7 244.2,156.7 247,157.8 249.8,159 252.6,160.1 255.4,161.3 258.1,162.5 260.9,163.8 263.7,165.2 266.5,166.6 269.3,168 272.1,169.6 274.9,171.2 277.7,172.9 280.5,174.7 283.3,176.7 286.1,178.7 288.9,180.8 291.7,183.1 294.5,185.5 297.2,188 300,190.7 302.8,193.5 305.6,196.4 308.4,199.5 311.2,202.7 314,206 316.8,209.5 319.6,213 322.4,216.6 325.2,220.3 328,224 330.8,227.8 333.6,231.6 336.3,235.4 339.1,239.2 341.9,242.9 344.7,246.5 347.5,250.1 350.3,253.6 353.1,257 355.9,260.2 358.7,263.3 361.5,266.3 364.3,269.1 367.1,271.8 369.9,274.3 372.7,276.6 375.4,278.9 378.2,280.9 381,282.9 383.8,284.6 386.6,286.3 389.4,287.8 392.2,289.3 395,290.6 397.8,291.8 400.6,292.9 403.4,293.9 406.2,294.8 409,295.7 411.8,296.5 414.5,297.2 417.3,297.9 420.1,298.5 422.9,299 425.7,299.5 428.5,300 431.3,300.4 434.1,300.8 436.9,301.2 439.7,301.5 442.5,301.8 445.3,302.1 448.1,302.4 450.9,302.6 453.6,302.8 456.4,303 459.2,303.2 462,303.4 464.8,303.6 467.6,303.7 470.4,303.9" fill="none" stroke="#0808ee" stroke-width="2.1" stroke-linejoin="round" stroke-linecap="round"/>
<polyline points="138.1,103 140.9,105.2 143.6,107.4 146.4,109.6 149.2,111.7 152,113.7 154.8,115.7 157.6,117.6 160.4,119.5 163.2,121.4 166,123.2 168.8,124.9 171.6,126.5 174.4,128.1 177.2,129.7 180,131.2 182.7,132.7 185.5,134.1 188.3,135.5 191.1,136.9 193.9,138.3 196.7,139.6 199.5,140.9 202.3,142.2 205.1,143.6 207.9,144.9 210.7,146.2 213.5,147.5 216.3,148.8 219.1,150.1 221.8,151.5 224.6,152.8 227.4,154.2 230.2,155.7 233,157.1 235.8,158.6 238.6,160.1 241.4,161.7 244.2,163.4 247,165.1 249.8,166.8 252.6,168.7 255.4,170.6 258.1,172.6 260.9,174.6 263.7,176.8 266.5,179 269.3,181.3 272.1,183.7 274.9,186.2 277.7,188.8 280.5,191.4 283.3,194.1 286.1,196.9 288.9,199.8 291.7,202.7 294.5,205.6 297.2,208.5 300,211.5 302.8,214.5 305.6,217.5 308.4,220.4 311.2,223.3 314,226.2 316.8,229 319.6,231.8 322.4,234.4 325.2,237 328,239.5 330.8,241.8 333.6,244.1 336.3,246.3 339.1,248.3 341.9,250.3 344.7,252.1 347.5,253.8 350.3,255.5 353.1,257 355.9,258.4 358.7,259.8 361.5,261 364.3,262.2 367.1,263.2 369.9,264.2 372.7,265.2 375.4,266 378.2,266.8 381,267.4 383.8,267.8 386.6,268.2 389.4,268.5 392.2,268.8 395,269 397.8,269.2 400.6,269.4 403.4,269.6 406.2,269.7 409,269.8 411.8,269.8 414.5,269.9 417.3,269.9 420.1,269.9 422.9,269.9 425.7,269.9 428.5,269.8 431.3,269.8 434.1,269.7 436.9,269.6 439.7,269.5 442.5,269.4 445.3,269.3 448.1,269.2 450.9,269.1 453.6,268.9 456.4,268.8 459.2,268.6 462,268.5 464.8,268.3 467.6,268.2 470.4,268" fill="none" stroke="#ff6208" stroke-width="2.1" stroke-linejoin="round" stroke-linecap="round"/>
<polyline points="138.1,102.2 140.9,104.5 143.6,106.8 146.4,109 149.2,111.1 152,113.3 154.8,115.3 157.6,117.4 160.4,119.3 163.2,121.2 166,123.1 168.8,124.8 171.6,126.5 174.4,128.1 177.2,129.6 180,131.1 182.7,132.5 185.5,133.9 188.3,135.3 191.1,136.6 193.9,137.9 196.7,139.2 199.5,140.5 202.3,141.7 205.1,142.9 207.9,144.2 210.7,145.4 213.5,146.6 216.3,147.8 219.1,149 221.8,150.2 224.6,151.5 227.4,152.7 230.2,154 233,155.3 235.8,156.7 238.6,158.1 241.4,159.5 244.2,160.9 247,162.5 249.8,164 252.6,165.7 255.4,167.4 258.1,169.2 260.9,171.1 263.7,173 266.5,175.1 269.3,177.3 272.1,179.5 274.9,181.9 277.7,184.3 280.5,186.9 283.3,189.5 286.1,192.3 288.9,195.1 291.7,198.1 294.5,201.1 297.2,204.2 300,207.3 302.8,210.5 305.6,213.7 308.4,216.9 311.2,220.1 314,223.3 316.8,226.5 319.6,229.6 322.4,232.7 325.2,235.7 328,238.6 330.8,241.4 333.6,244.1 336.3,246.7 339.1,249.2 341.9,251.5 344.7,253.7 347.5,255.8 350.3,257.8 353.1,259.6 355.9,261.4 358.7,263 361.5,264.5 364.3,265.9 367.1,267.2 369.9,268.4 372.7,269.5 375.4,270.6 378.2,271.5 381,272.4 383.8,273.3 386.6,274 389.4,274.7 392.2,275.3 395,275.9 397.8,276.5 400.6,277 403.4,277.5 406.2,277.9 409,278.3 411.8,278.7 414.5,279 417.3,279.3 420.1,279.6 422.9,279.9 425.7,280.2 428.5,280.4 431.3,280.6 434.1,280.8 436.9,281 439.7,281.2 442.5,281.4 445.3,281.5 448.1,281.7 450.9,281.8 453.6,282 456.4,282.1 459.2,282.2 462,282.3 464.8,282.4 467.6,282.5 470.4,282.6" fill="none" stroke="#ff6208" stroke-width="2.1" stroke-linejoin="round" stroke-linecap="round"/>
<polyline points="138.1,101.4 140.9,103.8 143.6,106.1 146.4,108.4 149.2,110.7 152,112.9 154.8,115 157.6,117.1 160.4,119.2 163.2,121.2 166,123 168.8,124.8 171.6,126.5 174.4,128.1 177.2,129.6 180,131.1 182.7,132.5 185.5,133.9 188.3,135.2 191.1,136.5 193.9,137.8 196.7,139 199.5,140.3 202.3,141.4 205.1,142.6 207.9,143.8 210.7,144.9 213.5,146.1 216.3,147.2 219.1,148.4 221.8,149.5 224.6,150.7 227.4,151.9 230.2,153 233,154.3 235.8,155.5 238.6,156.8 241.4,158.1 244.2,159.4 247,160.8 249.8,162.3 252.6,163.8 255.4,165.4 258.1,167.1 260.9,168.8 263.7,170.7 266.5,172.6 269.3,174.7 272.1,176.9 274.9,179.1 277.7,181.6 280.5,184.1 283.3,186.7 286.1,189.5 288.9,192.5 291.7,195.5 294.5,198.7 297.2,201.9 300,205.3 302.8,208.8 305.6,212.3 308.4,215.9 311.2,219.6 314,223.2 316.8,226.9 319.6,230.5 322.4,234.1 325.2,237.7 328,241.2 330.8,244.6 333.6,247.8 336.3,251 339.1,254 341.9,256.9 344.7,259.7 347.5,262.3 350.3,264.8 353.1,267.1 355.9,269.2 358.7,271.3 361.5,273.1 364.3,274.9 367.1,276.5 369.9,278 372.7,279.4 375.4,280.7 378.2,281.8 381,282.9 383.8,283.9 386.6,284.8 389.4,285.7 392.2,286.4 395,287.1 397.8,287.8 400.6,288.4 403.4,288.9 406.2,289.4 409,289.9 411.8,290.3 414.5,290.7 417.3,291.1 420.1,291.4 422.9,291.7 425.7,292 428.5,292.3 431.3,292.5 434.1,292.7 436.9,293 439.7,293.1 442.5,293.3 445.3,293.5 448.1,293.7 450.9,293.8 453.6,294 456.4,294.1 459.2,294.2 462,294.3 464.8,294.4 467.6,294.6 470.4,294.7" fill="none" stroke="#ff6208" stroke-width="2.1" stroke-linejoin="round" stroke-linecap="round"/>
<polyline points="138.1,100.6 140.9,103.1 143.6,105.6 146.4,108 149.2,110.3 152,112.6 154.8,114.8 157.6,117 160.4,119.1 163.2,121.2 166,123.1 168.8,124.9 171.6,126.6 174.4,128.3 177.2,129.8 180,131.3 182.7,132.7 185.5,134.1 188.3,135.4 191.1,136.6 193.9,137.9 196.7,139.1 199.5,140.3 202.3,141.4 205.1,142.6 207.9,143.7 210.7,144.8 213.5,145.9 216.3,147 219.1,148.1 221.8,149.1 224.6,150.2 227.4,151.3 230.2,152.4 233,153.6 235.8,154.7 238.6,155.9 241.4,157.1 244.2,158.3 247,159.6 249.8,160.9 252.6,162.3 255.4,163.8 258.1,165.3 260.9,166.8 263.7,168.5 266.5,170.2 269.3,172.1 272.1,174 274.9,176.1 277.7,178.2 280.5,180.5 283.3,182.9 286.1,185.5 288.9,188.2 291.7,191 294.5,193.9 297.2,197 300,200.2 302.8,203.5 305.6,206.9 308.4,210.4 311.2,214 314,217.7 316.8,221.4 319.6,225.1 322.4,228.8 325.2,232.5 328,236.2 330.8,239.8 333.6,243.4 336.3,246.8 339.1,250.2 341.9,253.4 344.7,256.5 347.5,259.4 350.3,262.2 353.1,264.9 355.9,267.4 358.7,269.8 361.5,272 364.3,274 367.1,275.9 369.9,277.7 372.7,279.4 375.4,280.9 378.2,282.3 381,283.6 383.8,284.8 386.6,285.9 389.4,286.9 392.2,287.8 395,288.7 397.8,289.5 400.6,290.2 403.4,290.8 406.2,291.4 409,292 411.8,292.5 414.5,292.9 417.3,293.4 420.1,293.8 422.9,294.1 425.7,294.5 428.5,294.8 431.3,295.1 434.1,295.3 436.9,295.6 439.7,295.8 442.5,296 445.3,296.2 448.1,296.4 450.9,296.5 453.6,296.7 456.4,296.9 459.2,297 462,297.1 464.8,297.2 467.6,297.4 470.4,297.5" fill="none" stroke="#ff6208" stroke-width="2.1" stroke-linejoin="round" stroke-linecap="round"/>
<polyline points="138.1,100.5 140.9,103.2 143.6,105.9 146.4,108.6 149.2,111.2 152,113.8 154.8,116.3 157.6,118.8 160.4,121.3 163.2,123.7 166,126 168.8,128.1 171.6,130.2 174.4,132.1 177.2,134.1 180,135.9 182.7,137.7 185.5,139.5 188.3,141.3 191.1,143.1 193.9,144.8 196.7,146.6 199.5,148.5 202.3,150.3 205.1,152.2 207.9,154.1 210.7,156.1 213.5,158.1 216.3,160.2 219.1,162.4 221.8,164.6 224.6,166.9 227.4,169.4 230.2,171.9 233,174.5 235.8,177.2 238.6,179.9 241.4,182.9 244.2,185.9 247,189 249.8,192.2 252.6,195.5 255.4,198.9 258.1,202.3 260.9,205.9 263.7,209.5 266.5,213.2 269.3,216.9 272.1,220.6 274.9,224.4 277.7,228.1 280.5,231.9 283.3,235.6 286.1,239.3 288.9,242.9 291.7,246.5 294.5,250 297.2,253.4 300,256.7 302.8,259.8 305.6,262.9 308.4,265.8 311.2,268.7 314,271.3 316.8,273.9 319.6,276.3 322.4,278.6 325.2,280.8 328,282.9 330.8,284.8 333.6,286.6 336.3,288.3 339.1,289.9 341.9,291.4 344.7,292.8 347.5,294.1 350.3,295.3 353.1,296.4 355.9,297.5 358.7,298.6 361.5,299.7 364.3,300.7 367.1,301.7 369.9,302.6 372.7,303.4 375.4,304.2 378.2,305 381,305.7 383.8,306.4 386.6,307 389.4,307.7 392.2,308.2 395,308.8 397.8,309.3 400.6,309.8 403.4,310.3 406.2,310.8 409,311.2 411.8,311.7 414.5,312.1 417.3,312.5 420.1,312.9 422.9,313.2 425.7,313.6 428.5,313.9 431.3,314.3 434.1,314.6 436.9,314.9 439.7,315.2 442.5,315.6 445.3,315.9 448.1,316.1 450.9,316.4 453.6,316.7 456.4,317 459.2,317.3 462,317.5 464.8,317.8 467.6,318 470.4,318.3" fill="none" stroke="#4d9cf0" stroke-width="2.1" stroke-linejoin="round" stroke-linecap="round"/>
<polyline points="138.1,99.5 140.9,102.3 143.6,105 146.4,107.7 149.2,110.4 152,113 154.8,115.6 157.6,118.1 160.4,120.7 163.2,123.1 166,125.4 168.8,127.5 171.6,129.5 174.4,131.4 177.2,133.2 180,135 182.7,136.7 185.5,138.4 188.3,140.1 191.1,141.7 193.9,143.4 196.7,145 199.5,146.6 202.3,148.3 205.1,150 207.9,151.7 210.7,153.5 213.5,155.3 216.3,157.1 219.1,159 221.8,161 224.6,163.1 227.4,165.2 230.2,167.4 233,169.7 235.8,172.1 238.6,174.6 241.4,177.1 244.2,179.8 247,182.6 249.8,185.5 252.6,188.4 255.4,191.5 258.1,194.7 260.9,197.9 263.7,201.3 266.5,204.7 269.3,208.2 272.1,211.7 274.9,215.2 277.7,218.8 280.5,222.4 283.3,226 286.1,229.6 288.9,233.2 291.7,236.7 294.5,240.1 297.2,243.5 300,246.8 302.8,250 305.6,253.1 308.4,256.1 311.2,258.9 314,261.7 316.8,264.3 319.6,266.8 322.4,269.2 325.2,271.4 328,273.6 330.8,275.6 333.6,277.4 336.3,279.2 339.1,280.9 341.9,282.4 344.7,283.9 347.5,285.2 350.3,286.5 353.1,287.6 355.9,288.7 358.7,289.9 361.5,291 364.3,292.1 367.1,293.1 369.9,294 372.7,294.9 375.4,295.7 378.2,296.5 381,297.2 383.8,297.9 386.6,298.6 389.4,299.2 392.2,299.8 395,300.3 397.8,300.9 400.6,301.4 403.4,301.9 406.2,302.4 409,302.8 411.8,303.2 414.5,303.7 417.3,304.1 420.1,304.4 422.9,304.8 425.7,305.2 428.5,305.5 431.3,305.9 434.1,306.2 436.9,306.5 439.7,306.8 442.5,307.1 445.3,307.4 448.1,307.7 450.9,308 453.6,308.3 456.4,308.6 459.2,308.8 462,309.1 464.8,309.4 467.6,309.6 470.4,309.9" fill="none" stroke="#4d9cf0" stroke-width="2.1" stroke-linejoin="round" stroke-linecap="round"/>
<polyline points="138.1,98.4 140.9,101.2 143.6,104 146.4,106.8 149.2,109.5 152,112.2 154.8,114.8 157.6,117.3 160.4,119.9 163.2,122.3 166,124.6 168.8,126.7 171.6,128.6 174.4,130.5 177.2,132.2 180,133.9 182.7,135.5 185.5,137 188.3,138.5 191.1,140 193.9,141.4 196.7,142.9 199.5,144.3 202.3,145.7 205.1,147.1 207.9,148.6 210.7,150.1 213.5,151.6 216.3,153.1 219.1,154.7 221.8,156.3 224.6,158 227.4,159.7 230.2,161.5 233,163.3 235.8,165.3 238.6,167.3 241.4,169.4 244.2,171.6 247,173.8 249.8,176.2 252.6,178.7 255.4,181.3 258.1,184 260.9,186.7 263.7,189.6 266.5,192.6 269.3,195.7 272.1,198.8 274.9,202 277.7,205.3 280.5,208.7 283.3,212 286.1,215.5 288.9,218.9 291.7,222.3 294.5,225.7 297.2,229.1 300,232.4 302.8,235.6 305.6,238.8 308.4,241.9 311.2,244.9 314,247.8 316.8,250.6 319.6,253.3 322.4,255.8 325.2,258.2 328,260.5 330.8,262.7 333.6,264.8 336.3,266.7 339.1,268.5 341.9,270.2 344.7,271.8 347.5,273.3 350.3,274.6 353.1,275.9 355.9,277.1 358.7,278.2 361.5,279.3 364.3,280.2 367.1,281.1 369.9,281.9 372.7,282.7 375.4,283.4 378.2,284.1 381,284.7 383.8,285.2 386.6,285.8 389.4,286.2 392.2,286.7 395,287.1 397.8,287.5 400.6,287.9 403.4,288.2 406.2,288.5 409,288.8 411.8,289.1 414.5,289.4 417.3,289.6 420.1,289.8 422.9,290.1 425.7,290.3 428.5,290.4 431.3,290.6 434.1,290.8 436.9,290.9 439.7,291.1 442.5,291.2 445.3,291.4 448.1,291.5 450.9,291.6 453.6,291.7 456.4,291.9 459.2,292 462,292.1 464.8,292.2 467.6,292.3 470.4,292.3" fill="none" stroke="#4d9cf0" stroke-width="2.1" stroke-linejoin="round" stroke-linecap="round"/>
<polyline points="138.1,97.5 140.9,100.5 143.6,103.4 146.4,106.2 149.2,109 152,111.7 154.8,114.4 157.6,117 160.4,119.6 163.2,122.1 166,124.4 168.8,126.5 171.6,128.5 174.4,130.3 177.2,132 180,133.7 182.7,135.2 185.5,136.7 188.3,138.2 191.1,139.6 193.9,140.9 196.7,142.3 199.5,143.6 202.3,144.9 205.1,146.3 207.9,147.6 210.7,148.9 213.5,150.3 216.3,151.7 219.1,153.1 221.8,154.5 224.6,156 227.4,157.6 230.2,159.1 233,160.8 235.8,162.5 238.6,164.2 241.4,166.1 244.2,168 247,170 249.8,172.1 252.6,174.2 255.4,176.5 258.1,178.9 260.9,181.3 263.7,183.9 266.5,186.5 269.3,189.3 272.1,192.1 274.9,195 277.7,198.1 280.5,201.1 283.3,204.3 286.1,207.5 288.9,210.7 291.7,214 294.5,217.2 297.2,220.5 300,223.8 302.8,227 305.6,230.2 308.4,233.3 311.2,236.4 314,239.3 316.8,242.2 319.6,245 322.4,247.7 325.2,250.2 328,252.7 330.8,255 333.6,257.2 336.3,259.3 339.1,261.2 341.9,263.1 344.7,264.8 347.5,266.5 350.3,268 353.1,269.4 355.9,270.7 358.7,272 361.5,273.1 364.3,274.2 367.1,275.2 369.9,276.1 372.7,276.9 375.4,277.7 378.2,278.5 381,279.1 383.8,279.8 386.6,280.3 389.4,280.9 392.2,281.4 395,281.9 397.8,282.3 400.6,282.7 403.4,283.1 406.2,283.4 409,283.7 411.8,284 414.5,284.3 417.3,284.6 420.1,284.8 422.9,285.1 425.7,285.3 428.5,285.5 431.3,285.7 434.1,285.9 436.9,286 439.7,286.2 442.5,286.3 445.3,286.5 448.1,286.6 450.9,286.8 453.6,286.9 456.4,287 459.2,287.1 462,287.2 464.8,287.3 467.6,287.4 470.4,287.5" fill="none" stroke="#4d9cf0" stroke-width="2.1" stroke-linejoin="round" stroke-linecap="round"/>
<line x1="132.6" y1="119.3" x2="467.5" y2="119.3" stroke="#000" stroke-width="2.1" stroke-dasharray="2 5.1"/>
<line x1="126.6" y1="191.5" x2="464.5" y2="191.5" stroke="#000" stroke-width="2.3" stroke-dasharray="7.5 5.3"/>
<line x1="125.6" y1="95.3" x2="471.4" y2="95.3" stroke="#000" stroke-width="2"/>
<line x1="126.6" y1="95.3" x2="126.6" y2="360.9" stroke="#000" stroke-width="2"/>
<line x1="126.6" y1="87.8" x2="126.6" y2="95.3" stroke="#000" stroke-width="2"/>
<text x="126.6" y="85.9" font-size="18.5" text-anchor="middle" font-weight="bold" textLength="9.3" lengthAdjust="spacingAndGlyphs">0</text>
<line x1="183.9" y1="87.8" x2="183.9" y2="95.3" stroke="#000" stroke-width="2"/>
<text x="183.9" y="85.9" font-size="18.5" text-anchor="middle" font-weight="bold" textLength="9.3" lengthAdjust="spacingAndGlyphs">5</text>
<line x1="241.2" y1="87.8" x2="241.2" y2="95.3" stroke="#000" stroke-width="2"/>
<text x="241.2" y="85.9" font-size="18.5" text-anchor="middle" font-weight="bold" textLength="17.8" lengthAdjust="spacingAndGlyphs">10</text>
<line x1="298.5" y1="87.8" x2="298.5" y2="95.3" stroke="#000" stroke-width="2"/>
<text x="298.5" y="85.9" font-size="18.5" text-anchor="middle" font-weight="bold" textLength="17.8" lengthAdjust="spacingAndGlyphs">15</text>
<line x1="355.8" y1="87.8" x2="355.8" y2="95.3" stroke="#000" stroke-width="2"/>
<text x="355.8" y="85.9" font-size="18.5" text-anchor="middle" font-weight="bold" textLength="17.8" lengthAdjust="spacingAndGlyphs">20</text>
<line x1="413.1" y1="87.8" x2="413.1" y2="95.3" stroke="#000" stroke-width="2"/>
<text x="413.1" y="85.9" font-size="18.5" text-anchor="middle" font-weight="bold" textLength="17.8" lengthAdjust="spacingAndGlyphs">25</text>
<line x1="470.4" y1="87.8" x2="470.4" y2="95.3" stroke="#000" stroke-width="2"/>
<text x="470.4" y="85.9" font-size="18.5" text-anchor="middle" font-weight="bold" textLength="17.8" lengthAdjust="spacingAndGlyphs">30</text>
<line x1="119.6" y1="95.3" x2="126.6" y2="95.3" stroke="#000" stroke-width="2"/>
<text x="116.2" y="101.5" font-size="19" text-anchor="end" font-weight="bold" textLength="31.2" lengthAdjust="spacingAndGlyphs">0.01</text>
<line x1="119.6" y1="119.3" x2="126.6" y2="119.3" stroke="#000" stroke-width="2"/>
<text x="116.2" y="125.5" font-size="19" text-anchor="end" font-weight="bold" textLength="31.2" lengthAdjust="spacingAndGlyphs">0.00</text>
<line x1="119.6" y1="143.4" x2="126.6" y2="143.4" stroke="#000" stroke-width="2"/>
<text x="116.2" y="149.6" font-size="19" text-anchor="end" font-weight="bold" textLength="37.3" lengthAdjust="spacingAndGlyphs">-0.01</text>
<line x1="119.6" y1="167.4" x2="126.6" y2="167.4" stroke="#000" stroke-width="2"/>
<text x="116.2" y="173.6" font-size="19" text-anchor="end" font-weight="bold" textLength="37.3" lengthAdjust="spacingAndGlyphs">-0.02</text>
<line x1="119.6" y1="191.5" x2="126.6" y2="191.5" stroke="#000" stroke-width="2"/>
<text x="116.2" y="197.7" font-size="19" text-anchor="end" font-weight="bold" textLength="37.3" lengthAdjust="spacingAndGlyphs">-0.03</text>
<line x1="119.6" y1="215.6" x2="126.6" y2="215.6" stroke="#000" stroke-width="2"/>
<text x="116.2" y="221.8" font-size="19" text-anchor="end" font-weight="bold" textLength="37.3" lengthAdjust="spacingAndGlyphs">-0.04</text>
<line x1="119.6" y1="239.6" x2="126.6" y2="239.6" stroke="#000" stroke-width="2"/>
<text x="116.2" y="245.8" font-size="19" text-anchor="end" font-weight="bold" textLength="37.3" lengthAdjust="spacingAndGlyphs">-0.05</text>
<line x1="119.6" y1="263.7" x2="126.6" y2="263.7" stroke="#000" stroke-width="2"/>
<text x="116.2" y="269.9" font-size="19" text-anchor="end" font-weight="bold" textLength="37.3" lengthAdjust="spacingAndGlyphs">-0.06</text>
<line x1="119.6" y1="287.7" x2="126.6" y2="287.7" stroke="#000" stroke-width="2"/>
<text x="116.2" y="293.9" font-size="19" text-anchor="end" font-weight="bold" textLength="37.3" lengthAdjust="spacingAndGlyphs">-0.07</text>
<line x1="119.6" y1="311.8" x2="126.6" y2="311.8" stroke="#000" stroke-width="2"/>
<text x="116.2" y="317.9" font-size="19" text-anchor="end" font-weight="bold" textLength="37.3" lengthAdjust="spacingAndGlyphs">-0.08</text>
<line x1="119.6" y1="335.8" x2="126.6" y2="335.8" stroke="#000" stroke-width="2"/>
<text x="116.2" y="342" font-size="19" text-anchor="end" font-weight="bold" textLength="37.3" lengthAdjust="spacingAndGlyphs">-0.09</text>
<line x1="119.6" y1="359.9" x2="126.6" y2="359.9" stroke="#000" stroke-width="2"/>
<text x="116.2" y="366.1" font-size="19" text-anchor="end" font-weight="bold" textLength="37.3" lengthAdjust="spacingAndGlyphs">-0.10</text>
<text x="241.5" y="41" font-size="22.7" font-weight="bold" textLength="110.5" lengthAdjust="spacingAndGlyphs">Ct (minutes)</text>
<text x="58.7" y="356.2" font-size="21" font-weight="bold" transform="rotate(-90 58.7 356.2)" textLength="259" lengthAdjust="spacingAndGlyphs">Normalised Fluorescence</text>
<polyline points="141.6,668.8 143.8,667.2 146,665.5 148.1,663.9 150.3,662.4 152.5,660.8 154.7,659.2 156.9,657.7 159.1,656.2 161.2,654.7 163.4,653.2 165.6,651.7 167.8,650.2 170,648.7 172.2,647.3 174.4,645.9 176.5,644.5 178.7,643.1 180.9,641.7 183.1,640.3 185.3,638.9 187.5,637.6 189.7,636.2 191.8,634.9 194,633.6 196.2,632.3 198.4,631 200.6,629.7 202.8,628.5 205,627.2 207.1,626 209.3,624.8 211.5,623.6 213.7,622.4 215.9,621.2 218.1,620 220.3,618.8 222.4,617.7 224.6,616.5 226.8,615.4 229,614.2 231.2,613.1 233.4,612 235.6,610.9 237.7,609.8 239.9,608.8 242.1,607.7 244.3,606.7 246.5,605.6 248.7,604.6 250.8,603.6 253,602.5 255.2,601.5 257.4,600.5 259.6,599.6 261.8,598.6 264,597.6 266.1,596.7 268.3,595.7 270.5,594.8 272.7,593.8 274.9,592.9 277.1,592 279.3,591.1 281.4,590.2 283.6,589.3 285.8,588.4 288,587.6 290.2,586.7 292.4,585.9 294.6,585 296.7,584.2 298.9,583.3 301.1,582.5 303.3,581.7 305.5,580.9 307.7,580.1 309.9,579.3 312,578.5 314.2,577.8 316.4,577 318.6,576.2 320.8,575.5 323,574.7 325.2,574 327.3,573.3 329.5,572.5 331.7,571.8 333.9,571.1 336.1,570.4 338.3,569.7 340.4,569 342.6,568.3 344.8,567.6 347,567 349.2,566.3 351.4,565.6 353.6,565 355.7,564.3 357.9,563.7 360.1,563.1 362.3,562.4 364.5,561.8 366.7,561.2 368.9,560.6 371,560 373.2,559.4 375.4,558.8 377.6,558.2 379.8,557.6 382,557 384.2,556.5 386.3,555.9 388.5,555.3 390.7,554.8 392.9,554.2 395.1,553.7 397.3,553.1 399.5,552.6 401.6,552.1 403.8,551.5 406,551 408.2,550.5 410.4,550 412.6,549.5 414.8,549 416.9,548.5 419.1,548 421.3,547.5 423.5,547 425.7,546.6 427.9,546.1 430,545.6 432.2,545.2 434.4,544.7 436.6,544.2 438.8,543.8 441,543.4 443.2,542.9 445.3,542.5 447.5,542 449.7,541.6 451.9,541.2 454.1,540.8 456.3,540.3 458.5,539.9 460.6,539.5 462.8,539.1 465,538.7 467.2,538.3" fill="none" stroke="#ff0000" stroke-width="1.9" stroke-linejoin="round" stroke-linecap="round"/>
<polyline points="141.6,668.8 143.8,667.2 146,665.6 148.1,664 150.3,662.4 152.5,660.9 154.7,659.4 156.9,657.8 159.1,656.3 161.2,654.8 163.4,653.4 165.6,651.9 167.8,650.4 170,649 172.2,647.6 174.4,646.2 176.5,644.8 178.7,643.4 180.9,642 183.1,640.7 185.3,639.3 187.5,638 189.7,636.7 191.8,635.4 194,634.1 196.2,632.8 198.4,631.5 200.6,630.2 202.8,629 205,627.8 207.1,626.5 209.3,625.3 211.5,624.1 213.7,622.9 215.9,621.8 218.1,620.6 220.3,619.4 222.4,618.3 224.6,617.2 226.8,616.1 229,614.9 231.2,613.8 233.4,612.7 235.6,611.7 237.7,610.6 239.9,609.5 242.1,608.5 244.3,607.5 246.5,606.4 248.7,605.4 250.8,604.4 253,603.4 255.2,602.4 257.4,601.4 259.6,600.4 261.8,599.5 264,598.5 266.1,597.6 268.3,596.6 270.5,595.7 272.7,594.8 274.9,593.9 277.1,593 279.3,592.1 281.4,591.2 283.6,590.3 285.8,589.5 288,588.6 290.2,587.8 292.4,586.9 294.6,586.1 296.7,585.3 298.9,584.4 301.1,583.6 303.3,582.8 305.5,582 307.7,581.2 309.9,580.5 312,579.7 314.2,578.9 316.4,578.2 318.6,577.4 320.8,576.7 323,575.9 325.2,575.2 327.3,574.5 329.5,573.8 331.7,573 333.9,572.3 336.1,571.6 338.3,571 340.4,570.3 342.6,569.6 344.8,568.9 347,568.3 349.2,567.6 351.4,567 353.6,566.3 355.7,565.7 357.9,565 360.1,564.4 362.3,563.8 364.5,563.2 366.7,562.6 368.9,562 371,561.4 373.2,560.8 375.4,560.2 377.6,559.6 379.8,559 382,558.5 384.2,557.9 386.3,557.3 388.5,556.8 390.7,556.2 392.9,555.7 395.1,555.1 397.3,554.6 399.5,554.1 401.6,553.6 403.8,553 406,552.5 408.2,552 410.4,551.5 412.6,551 414.8,550.5 416.9,550 419.1,549.6 421.3,549.1 423.5,548.6 425.7,548.1 427.9,547.7 430,547.2 432.2,546.7 434.4,546.3 436.6,545.8 438.8,545.4 441,545 443.2,544.5 445.3,544.1 447.5,543.7 449.7,543.2 451.9,542.8 454.1,542.4 456.3,542 458.5,541.6 460.6,541.2 462.8,540.8 465,540.4 467.2,540" fill="none" stroke="#ff0000" stroke-width="1.9" stroke-linejoin="round" stroke-linecap="round"/>
<polyline points="141.6,668.8 143.8,667.2 146,665.5 148.1,663.9 150.3,662.3 152.5,660.7 154.7,659.2 156.9,657.6 159.1,656.1 161.2,654.5 163.4,653 165.6,651.5 167.8,650.1 170,648.6 172.2,647.1 174.4,645.7 176.5,644.3 178.7,642.9 180.9,641.5 183.1,640.1 185.3,638.7 187.5,637.3 189.7,636 191.8,634.6 194,633.3 196.2,632 198.4,630.7 200.6,629.4 202.8,628.2 205,626.9 207.1,625.6 209.3,624.4 211.5,623.2 213.7,622 215.9,620.8 218.1,619.6 220.3,618.4 222.4,617.2 224.6,616.1 226.8,614.9 229,613.8 231.2,612.7 233.4,611.5 235.6,610.4 237.7,609.3 239.9,608.3 242.1,607.2 244.3,606.1 246.5,605.1 248.7,604 250.8,603 253,602 255.2,601 257.4,600 259.6,599 261.8,598 264,597 266.1,596 268.3,595.1 270.5,594.1 272.7,593.2 274.9,592.3 277.1,591.3 279.3,590.4 281.4,589.5 283.6,588.6 285.8,587.7 288,586.8 290.2,586 292.4,585.1 294.6,584.3 296.7,583.4 298.9,582.6 301.1,581.7 303.3,580.9 305.5,580.1 307.7,579.3 309.9,578.5 312,577.7 314.2,576.9 316.4,576.1 318.6,575.4 320.8,574.6 323,573.9 325.2,573.1 327.3,572.4 329.5,571.6 331.7,570.9 333.9,570.2 336.1,569.5 338.3,568.8 340.4,568.1 342.6,567.4 344.8,566.7 347,566 349.2,565.3 351.4,564.7 353.6,564 355.7,563.3 357.9,562.7 360.1,562 362.3,561.4 364.5,560.8 366.7,560.2 368.9,559.5 371,558.9 373.2,558.3 375.4,557.7 377.6,557.1 379.8,556.5 382,555.9 384.2,555.4 386.3,554.8 388.5,554.2 390.7,553.7 392.9,553.1 395.1,552.5 397.3,552 399.5,551.5 401.6,550.9 403.8,550.4 406,549.9 408.2,549.3 410.4,548.8 412.6,548.3 414.8,547.8 416.9,547.3 419.1,546.8 421.3,546.3 423.5,545.8 425.7,545.3 427.9,544.9 430,544.4 432.2,543.9 434.4,543.4 436.6,543 438.8,542.5 441,542.1 443.2,541.6 445.3,541.2 447.5,540.7 449.7,540.3 451.9,539.9 454.1,539.4 456.3,539 458.5,538.6 460.6,538.2 462.8,537.8 465,537.4 467.2,537" fill="none" stroke="#ff0000" stroke-width="1.9" stroke-linejoin="round" stroke-linecap="round"/>
<polyline points="141.6,668.8 143.8,667.1 146,665.4 148.1,663.8 150.3,662.1 152.5,660.5 154.7,658.8 156.9,657.2 159.1,655.6 161.2,654 163.4,652.4 165.6,650.8 167.8,649.2 170,647.6 172.2,646 174.4,644.4 176.5,642.8 178.7,641.2 180.9,639.7 183.1,638.1 185.3,636.5 187.5,634.9 189.7,633.3 191.8,631.7 194,630.1 196.2,628.5 198.4,626.9 200.6,625.3 202.8,623.7 205,622 207.1,620.3 209.3,618.7 211.5,617 213.7,615.3 215.9,613.5 218.1,611.8 220.3,610 222.4,608.2 224.6,606.4 226.8,604.5 229,602.6 231.2,600.7 233.4,598.8 235.6,596.8 237.7,594.8 239.9,592.7 242.1,590.6 244.3,588.5 246.5,586.4 248.7,584.2 250.8,582 253,579.7 255.2,577.4 257.4,575 259.6,572.7 261.8,570.2 264,567.8 266.1,565.3 268.3,562.8 270.5,560.2 272.7,557.6 274.9,555 277.1,552.4 279.3,549.7 281.4,547 283.6,544.2 285.8,541.5 288,538.7 290.2,535.9 292.4,533.1 294.6,530.3 296.7,527.5 298.9,524.7 301.1,522 303.3,519.2 305.5,516.5 307.7,513.9 309.9,511.3 312,508.9 314.2,506.5 316.4,504.4 318.6,502.3 320.8,500.5 323,498.9 325.2,497.5 327.3,496.3 329.5,495.2 331.7,494.4 333.9,493.7 336.1,493.2 338.3,492.7 340.4,492.4 342.6,492.1 344.8,491.9 347,491.8 349.2,491.7 351.4,491.6 353.6,491.5 355.7,491.5 357.9,491.4 360.1,491.4 362.3,491.4 364.5,491.3 366.7,491.3 368.9,491.3 371,491.3 373.2,491.3 375.4,491.3 377.6,491.3 379.8,491.3 382,491.3 384.2,491.3 386.3,491.3 388.5,491.3 390.7,491.3 392.9,491.3 395.1,491.3 397.3,491.3 399.5,491.3 401.6,491.3 403.8,491.3 406,491.3 408.2,491.3 410.4,491.3 412.6,491.3 414.8,491.3 416.9,491.3 419.1,491.3 421.3,491.3 423.5,491.3 425.7,491.3 427.9,491.3 430,491.3 432.2,491.3 434.4,491.3 436.6,491.3 438.8,491.3 441,491.3 443.2,491.3 445.3,491.3 447.5,491.3 449.7,491.3 451.9,491.3 454.1,491.3 456.3,491.3 458.5,491.3 460.6,491.3 462.8,491.3 465,491.3 467.2,491.3" fill="none" stroke="#22e61a" stroke-width="1.9" stroke-linejoin="round" stroke-linecap="round"/>
<polyline points="141.6,668.8 143.8,667.1 146,665.5 148.1,663.8 150.3,662.2 152.5,660.6 154.7,659 156.9,657.4 159.1,655.8 161.2,654.2 163.4,652.6 165.6,651.1 167.8,649.5 170,648 172.2,646.4 174.4,644.9 176.5,643.4 178.7,641.9 180.9,640.3 183.1,638.8 185.3,637.3 187.5,635.8 189.7,634.3 191.8,632.8 194,631.3 196.2,629.8 198.4,628.3 200.6,626.8 202.8,625.2 205,623.7 207.1,622.2 209.3,620.6 211.5,619.1 213.7,617.5 215.9,616 218.1,614.4 220.3,612.8 222.4,611.2 224.6,609.5 226.8,607.9 229,606.2 231.2,604.5 233.4,602.8 235.6,601 237.7,599.2 239.9,597.4 242.1,595.6 244.3,593.7 246.5,591.8 248.7,589.9 250.8,587.9 253,585.9 255.2,583.9 257.4,581.8 259.6,579.7 261.8,577.6 264,575.4 266.1,573.1 268.3,570.9 270.5,568.6 272.7,566.2 274.9,563.9 277.1,561.5 279.3,559 281.4,556.5 283.6,554 285.8,551.4 288,548.9 290.2,546.2 292.4,543.6 294.6,540.9 296.7,538.2 298.9,535.5 301.1,532.7 303.3,530 305.5,527.2 307.7,524.4 309.9,521.6 312,518.8 314.2,516 316.4,513.2 318.6,510.4 320.8,507.6 323,504.9 325.2,502.3 327.3,499.7 329.5,497.3 331.7,494.9 333.9,492.7 336.1,490.7 338.3,488.8 340.4,487.2 342.6,485.7 344.8,484.5 347,483.4 349.2,482.5 351.4,481.8 353.6,481.2 355.7,480.8 357.9,480.4 360.1,480.1 362.3,479.9 364.5,479.8 366.7,479.6 368.9,479.5 371,479.5 373.2,479.4 375.4,479.4 377.6,479.3 379.8,479.3 382,479.3 384.2,479.3 386.3,479.2 388.5,479.2 390.7,479.2 392.9,479.2 395.1,479.2 397.3,479.2 399.5,479.2 401.6,479.2 403.8,479.2 406,479.2 408.2,479.2 410.4,479.2 412.6,479.2 414.8,479.2 416.9,479.2 419.1,479.2 421.3,479.2 423.5,479.2 425.7,479.2 427.9,479.2 430,479.2 432.2,479.2 434.4,479.2 436.6,479.2 438.8,479.2 441,479.2 443.2,479.2 445.3,479.2 447.5,479.2 449.7,479.2 451.9,479.2 454.1,479.2 456.3,479.2 458.5,479.2 460.6,479.2 462.8,479.2 465,479.2 467.2,479.2" fill="none" stroke="#22e61a" stroke-width="1.9" stroke-linejoin="round" stroke-linecap="round"/>
<polyline points="141.6,668.8 143.8,667.1 146,665.5 148.1,663.9 150.3,662.3 152.5,660.7 154.7,659.1 156.9,657.5 159.1,655.9 161.2,654.4 163.4,652.8 165.6,651.3 167.8,649.8 170,648.3 172.2,646.8 174.4,645.3 176.5,643.8 178.7,642.4 180.9,640.9 183.1,639.4 185.3,638 187.5,636.5 189.7,635.1 191.8,633.7 194,632.3 196.2,630.8 198.4,629.4 200.6,628 202.8,626.6 205,625.2 207.1,623.8 209.3,622.3 211.5,620.9 213.7,619.5 215.9,618.1 218.1,616.6 220.3,615.2 222.4,613.8 224.6,612.3 226.8,610.8 229,609.4 231.2,607.9 233.4,606.4 235.6,604.9 237.7,603.3 239.9,601.8 242.1,600.2 244.3,598.6 246.5,597 248.7,595.4 250.8,593.7 253,592 255.2,590.3 257.4,588.5 259.6,586.8 261.8,584.9 264,583.1 266.1,581.2 268.3,579.3 270.5,577.3 272.7,575.4 274.9,573.3 277.1,571.3 279.3,569.2 281.4,567 283.6,564.8 285.8,562.6 288,560.4 290.2,558.1 292.4,555.7 294.6,553.4 296.7,551 298.9,548.5 301.1,546.1 303.3,543.6 305.5,541.1 307.7,538.5 309.9,535.9 312,533.4 314.2,530.8 316.4,528.2 318.6,525.6 320.8,523 323,520.4 325.2,517.9 327.3,515.4 329.5,513 331.7,510.7 333.9,508.4 336.1,506.4 338.3,504.4 340.4,502.6 342.6,501 344.8,499.6 347,498.4 349.2,497.4 351.4,496.5 353.6,495.8 355.7,495.2 357.9,494.8 360.1,494.4 362.3,494.1 364.5,493.9 366.7,493.7 368.9,493.6 371,493.5 373.2,493.4 375.4,493.3 377.6,493.3 379.8,493.2 382,493.2 384.2,493.2 386.3,493.2 388.5,493.2 390.7,493.1 392.9,493.1 395.1,493.1 397.3,493.1 399.5,493.1 401.6,493.1 403.8,493.1 406,493.1 408.2,493.1 410.4,493.1 412.6,493.1 414.8,493.1 416.9,493.1 419.1,493.1 421.3,493.1 423.5,493.1 425.7,493.1 427.9,493.1 430,493.1 432.2,493.1 434.4,493.1 436.6,493.1 438.8,493.1 441,493.1 443.2,493.1 445.3,493.1 447.5,493.1 449.7,493.1 451.9,493.1 454.1,493.1 456.3,493.1 458.5,493.1 460.6,493.1 462.8,493.1 465,493.1 467.2,493.1" fill="none" stroke="#22e61a" stroke-width="1.9" stroke-linejoin="round" stroke-linecap="round"/>
<polyline points="141.6,668.8 143.8,667.2 146,665.5 148.1,663.9 150.3,662.3 152.5,660.7 154.7,659.2 156.9,657.6 159.1,656.1 161.2,654.5 163.4,653 165.6,651.5 167.8,650 170,648.5 172.2,647.1 174.4,645.6 176.5,644.2 178.7,642.7 180.9,641.3 183.1,639.9 185.3,638.5 187.5,637.1 189.7,635.7 191.8,634.4 194,633 196.2,631.6 198.4,630.3 200.6,628.9 202.8,627.6 205,626.3 207.1,625 209.3,623.6 211.5,622.3 213.7,621 215.9,619.7 218.1,618.4 220.3,617.1 222.4,615.8 224.6,614.5 226.8,613.2 229,612 231.2,610.7 233.4,609.4 235.6,608.1 237.7,606.7 239.9,605.4 242.1,604.1 244.3,602.8 246.5,601.5 248.7,600.1 250.8,598.7 253,597.4 255.2,596 257.4,594.6 259.6,593.2 261.8,591.7 264,590.3 266.1,588.8 268.3,587.3 270.5,585.8 272.7,584.2 274.9,582.6 277.1,581 279.3,579.4 281.4,577.7 283.6,576 285.8,574.3 288,572.5 290.2,570.7 292.4,568.9 294.6,567 296.7,565.1 298.9,563.2 301.1,561.2 303.3,559.1 305.5,557.1 307.7,555 309.9,552.8 312,550.6 314.2,548.4 316.4,546.2 318.6,543.9 320.8,541.6 323,539.2 325.2,536.8 327.3,534.4 329.5,532 331.7,529.6 333.9,527.2 336.1,524.7 338.3,522.3 340.4,519.9 342.6,517.5 344.8,515.2 347,512.9 349.2,510.7 351.4,508.6 353.6,506.6 355.7,504.8 357.9,503.1 360.1,501.6 362.3,500.3 364.5,499.1 366.7,498.1 368.9,497.3 371,496.6 373.2,496 375.4,495.5 377.6,495.2 379.8,494.9 382,494.6 384.2,494.5 386.3,494.3 388.5,494.2 390.7,494.1 392.9,494.1 395.1,494 397.3,494 399.5,493.9 401.6,493.9 403.8,493.9 406,493.9 408.2,493.9 410.4,493.9 412.6,493.9 414.8,493.9 416.9,493.9 419.1,493.9 421.3,493.9 423.5,493.9 425.7,493.9 427.9,493.9 430,493.9 432.2,493.9 434.4,493.9 436.6,493.9 438.8,493.9 441,493.9 443.2,493.9 445.3,493.9 447.5,493.9 449.7,493.9 451.9,493.9 454.1,493.9 456.3,493.9 458.5,493.9 460.6,493.9 462.8,493.9 465,493.9 467.2,493.9" fill="none" stroke="#22e61a" stroke-width="1.9" stroke-linejoin="round" stroke-linecap="round"/>
<polyline points="141.6,668.8 143.8,667.1 146,665.4 148.1,663.7 150.3,662 152.5,660.3 154.7,658.7 156.9,657 159.1,655.3 161.2,653.7 163.4,652 165.6,650.4 167.8,648.7 170,647.1 172.2,645.5 174.4,643.8 176.5,642.2 178.7,640.5 180.9,638.9 183.1,637.2 185.3,635.5 187.5,633.9 189.7,632.2 191.8,630.5 194,628.8 196.2,627 198.4,625.3 200.6,623.6 202.8,621.8 205,620 207.1,618.2 209.3,616.3 211.5,614.5 213.7,612.6 215.9,610.7 218.1,608.7 220.3,606.7 222.4,604.7 224.6,602.7 226.8,600.6 229,598.5 231.2,596.3 233.4,594.1 235.6,591.9 237.7,589.6 239.9,587.3 242.1,584.9 244.3,582.5 246.5,580.1 248.7,577.6 250.8,575.1 253,572.5 255.2,569.9 257.4,567.2 259.6,564.5 261.8,561.8 264,559 266.1,556.2 268.3,553.4 270.5,550.5 272.7,547.6 274.9,544.7 277.1,541.7 279.3,538.7 281.4,535.7 283.6,532.7 285.8,529.7 288,526.7 290.2,523.7 292.4,520.7 294.6,517.7 296.7,514.8 298.9,512 301.1,509.2 303.3,506.6 305.5,504.1 307.7,501.7 309.9,499.5 312,497.6 314.2,495.8 316.4,494.3 318.6,493 320.8,491.9 323,491 325.2,490.3 327.3,489.7 329.5,489.2 331.7,488.8 333.9,488.6 336.1,488.3 338.3,488.2 340.4,488 342.6,487.9 344.8,487.9 347,487.8 349.2,487.8 351.4,487.7 353.6,487.7 355.7,487.7 357.9,487.7 360.1,487.7 362.3,487.7 364.5,487.6 366.7,487.6 368.9,487.6 371,487.6 373.2,487.6 375.4,487.6 377.6,487.6 379.8,487.6 382,487.6 384.2,487.6 386.3,487.6 388.5,487.6 390.7,487.6 392.9,487.6 395.1,487.6 397.3,487.6 399.5,487.6 401.6,487.6 403.8,487.6 406,487.6 408.2,487.6 410.4,487.6 412.6,487.6 414.8,487.6 416.9,487.6 419.1,487.6 421.3,487.6 423.5,487.6 425.7,487.6 427.9,487.6 430,487.6 432.2,487.6 434.4,487.6 436.6,487.6 438.8,487.6 441,487.6 443.2,487.6 445.3,487.6 447.5,487.6 449.7,487.6 451.9,487.6 454.1,487.6 456.3,487.6 458.5,487.6 460.6,487.6 462.8,487.6 465,487.6 467.2,487.6" fill="none" stroke="#86822e" stroke-width="1.9" stroke-linejoin="round" stroke-linecap="round"/>
<polyline points="141.6,668.8 143.8,667.1 146,665.4 148.1,663.8 150.3,662.1 152.5,660.4 154.7,658.8 156.9,657.2 159.1,655.5 161.2,653.9 163.4,652.3 165.6,650.7 167.8,649.1 170,647.5 172.2,645.9 174.4,644.3 176.5,642.7 178.7,641.1 180.9,639.5 183.1,637.9 185.3,636.3 187.5,634.7 189.7,633.1 191.8,631.5 194,629.9 196.2,628.3 198.4,626.6 200.6,625 202.8,623.3 205,621.6 207.1,619.9 209.3,618.2 211.5,616.5 213.7,614.7 215.9,613 218.1,611.2 220.3,609.3 222.4,607.5 224.6,605.6 226.8,603.7 229,601.8 231.2,599.8 233.4,597.8 235.6,595.7 237.7,593.6 239.9,591.5 242.1,589.3 244.3,587.1 246.5,584.9 248.7,582.6 250.8,580.3 253,577.9 255.2,575.5 257.4,573 259.6,570.5 261.8,568 264,565.4 266.1,562.8 268.3,560.1 270.5,557.4 272.7,554.7 274.9,551.9 277.1,549.1 279.3,546.3 281.4,543.4 283.6,540.5 285.8,537.6 288,534.7 290.2,531.7 292.4,528.8 294.6,525.9 296.7,522.9 298.9,520.1 301.1,517.2 303.3,514.4 305.5,511.7 307.7,509.1 309.9,506.6 312,504.3 314.2,502.2 316.4,500.2 318.6,498.5 320.8,497 323,495.7 325.2,494.6 327.3,493.7 329.5,492.9 331.7,492.3 333.9,491.8 336.1,491.5 338.3,491.2 340.4,490.9 342.6,490.8 344.8,490.6 347,490.5 349.2,490.4 351.4,490.4 353.6,490.3 355.7,490.3 357.9,490.3 360.1,490.3 362.3,490.2 364.5,490.2 366.7,490.2 368.9,490.2 371,490.2 373.2,490.2 375.4,490.2 377.6,490.2 379.8,490.2 382,490.2 384.2,490.2 386.3,490.2 388.5,490.2 390.7,490.2 392.9,490.2 395.1,490.2 397.3,490.2 399.5,490.2 401.6,490.2 403.8,490.2 406,490.2 408.2,490.2 410.4,490.2 412.6,490.2 414.8,490.2 416.9,490.2 419.1,490.2 421.3,490.2 423.5,490.2 425.7,490.2 427.9,490.2 430,490.2 432.2,490.2 434.4,490.2 436.6,490.2 438.8,490.2 441,490.2 443.2,490.2 445.3,490.2 447.5,490.2 449.7,490.2 451.9,490.2 454.1,490.2 456.3,490.2 458.5,490.2 460.6,490.2 462.8,490.2 465,490.2 467.2,490.2" fill="none" stroke="#86822e" stroke-width="1.9" stroke-linejoin="round" stroke-linecap="round"/>
<polyline points="141.6,668.8 143.8,667.1 146,665.5 148.1,663.8 150.3,662.1 152.5,660.5 154.7,658.9 156.9,657.3 159.1,655.7 161.2,654.1 163.4,652.5 165.6,650.9 167.8,649.3 170,647.7 172.2,646.2 174.4,644.6 176.5,643 178.7,641.5 180.9,639.9 183.1,638.4 185.3,636.8 187.5,635.3 189.7,633.7 191.8,632.2 194,630.6 196.2,629 198.4,627.5 200.6,625.9 202.8,624.3 205,622.7 207.1,621.1 209.3,619.4 211.5,617.8 213.7,616.1 215.9,614.5 218.1,612.8 220.3,611 222.4,609.3 224.6,607.5 226.8,605.8 229,603.9 231.2,602.1 233.4,600.2 235.6,598.3 237.7,596.3 239.9,594.4 242.1,592.3 244.3,590.3 246.5,588.2 248.7,586.1 250.8,583.9 253,581.7 255.2,579.4 257.4,577.1 259.6,574.8 261.8,572.4 264,569.9 266.1,567.5 268.3,565 270.5,562.4 272.7,559.8 274.9,557.2 277.1,554.5 279.3,551.8 281.4,549.1 283.6,546.3 285.8,543.5 288,540.7 290.2,537.8 292.4,535 294.6,532.1 296.7,529.2 298.9,526.4 301.1,523.5 303.3,520.7 305.5,517.9 307.7,515.2 309.9,512.6 312,510.1 314.2,507.8 316.4,505.5 318.6,503.5 320.8,501.7 323,500 325.2,498.6 327.3,497.4 329.5,496.4 331.7,495.6 333.9,494.9 336.1,494.3 338.3,493.9 340.4,493.5 342.6,493.3 344.8,493.1 347,492.9 349.2,492.8 351.4,492.7 353.6,492.6 355.7,492.6 357.9,492.5 360.1,492.5 362.3,492.5 364.5,492.4 366.7,492.4 368.9,492.4 371,492.4 373.2,492.4 375.4,492.4 377.6,492.4 379.8,492.4 382,492.4 384.2,492.4 386.3,492.4 388.5,492.4 390.7,492.4 392.9,492.4 395.1,492.4 397.3,492.4 399.5,492.4 401.6,492.4 403.8,492.4 406,492.4 408.2,492.4 410.4,492.4 412.6,492.4 414.8,492.4 416.9,492.4 419.1,492.4 421.3,492.4 423.5,492.4 425.7,492.4 427.9,492.4 430,492.4 432.2,492.4 434.4,492.4 436.6,492.4 438.8,492.4 441,492.4 443.2,492.4 445.3,492.4 447.5,492.4 449.7,492.4 451.9,492.4 454.1,492.4 456.3,492.4 458.5,492.4 460.6,492.4 462.8,492.4 465,492.4 467.2,492.4" fill="none" stroke="#86822e" stroke-width="1.9" stroke-linejoin="round" stroke-linecap="round"/>
<polyline points="141.6,668.8 143.8,667.1 146,665.5 148.1,663.8 150.3,662.2 152.5,660.6 154.7,659 156.9,657.4 159.1,655.8 161.2,654.2 163.4,652.6 165.6,651.1 167.8,649.5 170,648 172.2,646.4 174.4,644.9 176.5,643.4 178.7,641.9 180.9,640.3 183.1,638.8 185.3,637.3 187.5,635.8 189.7,634.3 191.8,632.8 194,631.3 196.2,629.8 198.4,628.3 200.6,626.8 202.8,625.3 205,623.7 207.1,622.2 209.3,620.7 211.5,619.1 213.7,617.5 215.9,616 218.1,614.4 220.3,612.8 222.4,611.2 224.6,609.5 226.8,607.9 229,606.2 231.2,604.5 233.4,602.7 235.6,601 237.7,599.2 239.9,597.4 242.1,595.5 244.3,593.6 246.5,591.7 248.7,589.8 250.8,587.8 253,585.7 255.2,583.7 257.4,581.6 259.6,579.4 261.8,577.2 264,575 266.1,572.7 268.3,570.4 270.5,568 272.7,565.6 274.9,563.2 277.1,560.7 279.3,558.1 281.4,555.6 283.6,553 285.8,550.3 288,547.7 290.2,545 292.4,542.2 294.6,539.5 296.7,536.7 298.9,533.9 301.1,531.1 303.3,528.3 305.5,525.6 307.7,522.8 309.9,520.1 312,517.5 314.2,514.9 316.4,512.5 318.6,510.1 320.8,507.9 323,505.9 325.2,504.1 327.3,502.4 329.5,501 331.7,499.8 333.9,498.8 336.1,497.9 338.3,497.2 340.4,496.6 342.6,496.2 344.8,495.8 347,495.5 349.2,495.3 351.4,495.1 353.6,495 355.7,494.9 357.9,494.8 360.1,494.8 362.3,494.7 364.5,494.7 366.7,494.7 368.9,494.6 371,494.6 373.2,494.6 375.4,494.6 377.6,494.6 379.8,494.6 382,494.6 384.2,494.6 386.3,494.6 388.5,494.6 390.7,494.6 392.9,494.6 395.1,494.6 397.3,494.6 399.5,494.6 401.6,494.6 403.8,494.6 406,494.6 408.2,494.6 410.4,494.6 412.6,494.6 414.8,494.6 416.9,494.6 419.1,494.6 421.3,494.6 423.5,494.6 425.7,494.6 427.9,494.6 430,494.6 432.2,494.6 434.4,494.6 436.6,494.6 438.8,494.6 441,494.6 443.2,494.6 445.3,494.6 447.5,494.6 449.7,494.6 451.9,494.6 454.1,494.6 456.3,494.6 458.5,494.6 460.6,494.6 462.8,494.6 465,494.6 467.2,494.6" fill="none" stroke="#86822e" stroke-width="1.9" stroke-linejoin="round" stroke-linecap="round"/>
<polyline points="141.6,668.8 143.8,667 146,665.2 148.1,663.5 150.3,661.7 152.5,659.9 154.7,658.1 156.9,656.4 159.1,654.6 161.2,652.8 163.4,651 165.6,649.2 167.8,647.4 170,645.6 172.2,643.8 174.4,642 176.5,640.1 178.7,638.3 180.9,636.4 183.1,634.5 185.3,632.6 187.5,630.6 189.7,628.7 191.8,626.7 194,624.7 196.2,622.6 198.4,620.6 200.6,618.4 202.8,616.3 205,614.1 207.1,611.9 209.3,609.7 211.5,607.4 213.7,605 215.9,602.7 218.1,600.2 220.3,597.8 222.4,595.3 224.6,592.7 226.8,590.1 229,587.5 231.2,584.8 233.4,582 235.6,579.2 237.7,576.4 239.9,573.6 242.1,570.6 244.3,567.7 246.5,564.7 248.7,561.7 250.8,558.6 253,555.6 255.2,552.5 257.4,549.3 259.6,546.2 261.8,543.1 264,539.9 266.1,536.8 268.3,533.7 270.5,530.6 272.7,527.6 274.9,524.7 277.1,521.9 279.3,519.1 281.4,516.5 283.6,514.1 285.8,511.8 288,509.7 290.2,507.8 292.4,506.2 294.6,504.7 296.7,503.4 298.9,502.3 301.1,501.4 303.3,500.7 305.5,500 307.7,499.5 309.9,499.1 312,498.8 314.2,498.5 316.4,498.3 318.6,498.1 320.8,498 323,497.9 325.2,497.8 327.3,497.8 329.5,497.7 331.7,497.7 333.9,497.6 336.1,497.6 338.3,497.6 340.4,497.6 342.6,497.6 344.8,497.5 347,497.5 349.2,497.5 351.4,497.5 353.6,497.5 355.7,497.5 357.9,497.5 360.1,497.5 362.3,497.5 364.5,497.5 366.7,497.5 368.9,497.5 371,497.5 373.2,497.5 375.4,497.5 377.6,497.5 379.8,497.5 382,497.5 384.2,497.5 386.3,497.5 388.5,497.5 390.7,497.5 392.9,497.5 395.1,497.5 397.3,497.5 399.5,497.5 401.6,497.5 403.8,497.5 406,497.5 408.2,497.5 410.4,497.5 412.6,497.5 414.8,497.5 416.9,497.5 419.1,497.5 421.3,497.5 423.5,497.5 425.7,497.5 427.9,497.5 430,497.5 432.2,497.5 434.4,497.5 436.6,497.5 438.8,497.5 441,497.5 443.2,497.5 445.3,497.5 447.5,497.5 449.7,497.5 451.9,497.5 454.1,497.5 456.3,497.5 458.5,497.5 460.6,497.5 462.8,497.5 465,497.5 467.2,497.5" fill="none" stroke="#0808ee" stroke-width="1.9" stroke-linejoin="round" stroke-linecap="round"/>
<polyline points="141.6,668.8 143.8,667 146,665.3 148.1,663.5 150.3,661.7 152.5,660 154.7,658.2 156.9,656.4 159.1,654.7 161.2,652.9 163.4,651.1 165.6,649.4 167.8,647.6 170,645.8 172.2,644 174.4,642.2 176.5,640.4 178.7,638.6 180.9,636.7 183.1,634.8 185.3,633 187.5,631.1 189.7,629.1 191.8,627.2 194,625.2 196.2,623.2 198.4,621.2 200.6,619.1 202.8,617 205,614.9 207.1,612.7 209.3,610.5 211.5,608.3 213.7,606 215.9,603.7 218.1,601.3 220.3,598.9 222.4,596.4 224.6,593.9 226.8,591.4 229,588.8 231.2,586.1 233.4,583.5 235.6,580.7 237.7,578 239.9,575.1 242.1,572.3 244.3,569.4 246.5,566.4 248.7,563.5 250.8,560.5 253,557.4 255.2,554.4 257.4,551.3 259.6,548.2 261.8,545.1 264,542 266.1,538.9 268.3,535.8 270.5,532.7 272.7,529.7 274.9,526.7 277.1,523.9 279.3,521.1 281.4,518.4 283.6,515.9 285.8,513.6 288,511.4 290.2,509.5 292.4,507.7 294.6,506.1 296.7,504.8 298.9,503.6 301.1,502.6 303.3,501.8 305.5,501.1 307.7,500.5 309.9,500.1 312,499.7 314.2,499.4 316.4,499.1 318.6,499 320.8,498.8 323,498.7 325.2,498.6 327.3,498.5 329.5,498.5 331.7,498.4 333.9,498.4 336.1,498.3 338.3,498.3 340.4,498.3 342.6,498.3 344.8,498.3 347,498.3 349.2,498.3 351.4,498.3 353.6,498.3 355.7,498.3 357.9,498.3 360.1,498.3 362.3,498.2 364.5,498.2 366.7,498.2 368.9,498.2 371,498.2 373.2,498.2 375.4,498.2 377.6,498.2 379.8,498.2 382,498.2 384.2,498.2 386.3,498.2 388.5,498.2 390.7,498.2 392.9,498.2 395.1,498.2 397.3,498.2 399.5,498.2 401.6,498.2 403.8,498.2 406,498.2 408.2,498.2 410.4,498.2 412.6,498.2 414.8,498.2 416.9,498.2 419.1,498.2 421.3,498.2 423.5,498.2 425.7,498.2 427.9,498.2 430,498.2 432.2,498.2 434.4,498.2 436.6,498.2 438.8,498.2 441,498.2 443.2,498.2 445.3,498.2 447.5,498.2 449.7,498.2 451.9,498.2 454.1,498.2 456.3,498.2 458.5,498.2 460.6,498.2 462.8,498.2 465,498.2 467.2,498.2" fill="none" stroke="#0808ee" stroke-width="1.9" stroke-linejoin="round" stroke-linecap="round"/>
<polyline points="141.6,668.8 143.8,667 146,665.3 148.1,663.5 150.3,661.8 152.5,660 154.7,658.3 156.9,656.5 159.1,654.8 161.2,653 163.4,651.3 165.6,649.5 167.8,647.8 170,646 172.2,644.2 174.4,642.4 176.5,640.6 178.7,638.8 180.9,637 183.1,635.2 185.3,633.3 187.5,631.5 189.7,629.6 191.8,627.6 194,625.7 196.2,623.7 198.4,621.8 200.6,619.7 202.8,617.7 205,615.6 207.1,613.5 209.3,611.3 211.5,609.1 213.7,606.9 215.9,604.6 218.1,602.3 220.3,599.9 222.4,597.5 224.6,595.1 226.8,592.6 229,590 231.2,587.5 233.4,584.8 235.6,582.2 237.7,579.4 239.9,576.7 242.1,573.9 244.3,571 246.5,568.1 248.7,565.2 250.8,562.2 253,559.2 255.2,556.2 257.4,553.2 259.6,550.1 261.8,547 264,543.9 266.1,540.9 268.3,537.8 270.5,534.7 272.7,531.7 274.9,528.8 277.1,525.9 279.3,523.1 281.4,520.4 283.6,517.8 285.8,515.4 288,513.2 290.2,511.1 292.4,509.2 294.6,507.6 296.7,506.1 298.9,504.9 301.1,503.8 303.3,502.9 305.5,502.1 307.7,501.5 309.9,501 312,500.6 314.2,500.3 316.4,500 318.6,499.8 320.8,499.6 323,499.5 325.2,499.4 327.3,499.3 329.5,499.2 331.7,499.2 333.9,499.1 336.1,499.1 338.3,499.1 340.4,499 342.6,499 344.8,499 347,499 349.2,499 351.4,499 353.6,499 355.7,499 357.9,499 360.1,499 362.3,499 364.5,499 366.7,499 368.9,499 371,499 373.2,499 375.4,499 377.6,499 379.8,499 382,499 384.2,499 386.3,499 388.5,499 390.7,499 392.9,499 395.1,499 397.3,499 399.5,499 401.6,499 403.8,499 406,499 408.2,499 410.4,499 412.6,499 414.8,499 416.9,499 419.1,499 421.3,499 423.5,499 425.7,499 427.9,499 430,499 432.2,499 434.4,499 436.6,499 438.8,499 441,499 443.2,499 445.3,499 447.5,499 449.7,499 451.9,499 454.1,499 456.3,499 458.5,499 460.6,499 462.8,499 465,499 467.2,499" fill="none" stroke="#0808ee" stroke-width="1.9" stroke-linejoin="round" stroke-linecap="round"/>
<polyline points="141.6,668.8 143.8,667 146,665.3 148.1,663.6 150.3,661.8 152.5,660.1 154.7,658.4 156.9,656.6 159.1,654.9 161.2,653.2 163.4,651.4 165.6,649.7 167.8,648 170,646.2 172.2,644.5 174.4,642.7 176.5,641 178.7,639.2 180.9,637.4 183.1,635.6 185.3,633.8 187.5,632 189.7,630.1 191.8,628.3 194,626.4 196.2,624.5 198.4,622.5 200.6,620.5 202.8,618.5 205,616.5 207.1,614.5 209.3,612.4 211.5,610.2 213.7,608.1 215.9,605.9 218.1,603.6 220.3,601.3 222.4,599 224.6,596.6 226.8,594.2 229,591.7 231.2,589.2 233.4,586.7 235.6,584.1 237.7,581.4 239.9,578.7 242.1,576 244.3,573.2 246.5,570.4 248.7,567.5 250.8,564.6 253,561.7 255.2,558.7 257.4,555.7 259.6,552.7 261.8,549.6 264,546.5 266.1,543.5 268.3,540.4 270.5,537.3 272.7,534.2 274.9,531.2 277.1,528.2 279.3,525.3 281.4,522.4 283.6,519.7 285.8,517.1 288,514.6 290.2,512.2 292.4,510.1 294.6,508.1 296.7,506.3 298.9,504.8 301.1,503.4 303.3,502.2 305.5,501.2 307.7,500.4 309.9,499.7 312,499.1 314.2,498.6 316.4,498.3 318.6,497.9 320.8,497.7 323,497.5 325.2,497.4 327.3,497.2 329.5,497.1 331.7,497.1 333.9,497 336.1,497 338.3,496.9 340.4,496.9 342.6,496.9 344.8,496.8 347,496.8 349.2,496.8 351.4,496.8 353.6,496.8 355.7,496.8 357.9,496.8 360.1,496.8 362.3,496.8 364.5,496.8 366.7,496.8 368.9,496.8 371,496.8 373.2,496.8 375.4,496.8 377.6,496.8 379.8,496.8 382,496.8 384.2,496.8 386.3,496.8 388.5,496.8 390.7,496.8 392.9,496.8 395.1,496.8 397.3,496.8 399.5,496.8 401.6,496.8 403.8,496.8 406,496.8 408.2,496.8 410.4,496.8 412.6,496.8 414.8,496.8 416.9,496.8 419.1,496.8 421.3,496.8 423.5,496.8 425.7,496.8 427.9,496.8 430,496.8 432.2,496.8 434.4,496.8 436.6,496.8 438.8,496.8 441,496.8 443.2,496.8 445.3,496.8 447.5,496.8 449.7,496.8 451.9,496.8 454.1,496.8 456.3,496.8 458.5,496.8 460.6,496.8 462.8,496.8 465,496.8 467.2,496.8" fill="none" stroke="#0808ee" stroke-width="1.9" stroke-linejoin="round" stroke-linecap="round"/>
<polyline points="141.6,668.8 143.8,666.5 146,664.1 148.1,661.7 150.3,659.3 152.5,656.8 154.7,654.3 156.9,651.8 159.1,649.3 161.2,646.7 163.4,644.1 165.6,641.4 167.8,638.8 170,636 172.2,633.3 174.4,630.5 176.5,627.7 178.7,624.8 180.9,621.9 183.1,619 185.3,616 187.5,613 189.7,610 191.8,606.9 194,603.8 196.2,600.7 198.4,597.5 200.6,594.3 202.8,591.1 205,587.9 207.1,584.6 209.3,581.4 211.5,578.1 213.7,574.8 215.9,571.4 218.1,568.1 220.3,564.8 222.4,561.4 224.6,558.1 226.8,554.7 229,551.4 231.2,548.1 233.4,544.8 235.6,541.5 237.7,538.2 239.9,535 242.1,531.8 244.3,528.7 246.5,525.7 248.7,522.7 250.8,519.9 253,517.1 255.2,514.5 257.4,512 259.6,509.6 261.8,507.4 264,505.4 266.1,503.5 268.3,501.8 270.5,500.2 272.7,498.9 274.9,497.7 277.1,496.6 279.3,495.7 281.4,494.9 283.6,494.2 285.8,493.6 288,493.1 290.2,492.7 292.4,492.3 294.6,492 296.7,491.8 298.9,491.6 301.1,491.4 303.3,491.3 305.5,491.1 307.7,491 309.9,491 312,490.9 314.2,490.8 316.4,490.8 318.6,490.8 320.8,490.7 323,490.7 325.2,490.7 327.3,490.6 329.5,490.6 331.7,490.6 333.9,490.6 336.1,490.6 338.3,490.6 340.4,490.6 342.6,490.6 344.8,490.6 347,490.6 349.2,490.6 351.4,490.6 353.6,490.6 355.7,490.6 357.9,490.6 360.1,490.6 362.3,490.6 364.5,490.6 366.7,490.6 368.9,490.6 371,490.6 373.2,490.6 375.4,490.6 377.6,490.6 379.8,490.6 382,490.6 384.2,490.6 386.3,490.6 388.5,490.6 390.7,490.6 392.9,490.6 395.1,490.6 397.3,490.6 399.5,490.6 401.6,490.6 403.8,490.6 406,490.6 408.2,490.6 410.4,490.6 412.6,490.6 414.8,490.6 416.9,490.6 419.1,490.6 421.3,490.6 423.5,490.6 425.7,490.6 427.9,490.6 430,490.6 432.2,490.6 434.4,490.6 436.6,490.6 438.8,490.6 441,490.6 443.2,490.6 445.3,490.6 447.5,490.6 449.7,490.6 451.9,490.6 454.1,490.6 456.3,490.6 458.5,490.6 460.6,490.6 462.8,490.6 465,490.6 467.2,490.6" fill="none" stroke="#ff6208" stroke-width="1.9" stroke-linejoin="round" stroke-linecap="round"/>
<polyline points="141.6,668.8 143.8,666.6 146,664.4 148.1,662.2 150.3,660 152.5,657.7 154.7,655.5 156.9,653.2 159.1,650.8 161.2,648.5 163.4,646.1 165.6,643.7 167.8,641.2 170,638.7 172.2,636.2 174.4,633.6 176.5,631.1 178.7,628.4 180.9,625.8 183.1,623.1 185.3,620.3 187.5,617.6 189.7,614.8 191.8,611.9 194,609 196.2,606.1 198.4,603.2 200.6,600.2 202.8,597.2 205,594.2 207.1,591.1 209.3,588 211.5,584.9 213.7,581.7 215.9,578.6 218.1,575.4 220.3,572.2 222.4,569 224.6,565.8 226.8,562.6 229,559.4 231.2,556.2 233.4,553 235.6,549.8 237.7,546.6 239.9,543.5 242.1,540.4 244.3,537.4 246.5,534.4 248.7,531.5 250.8,528.7 253,526 255.2,523.5 257.4,521 259.6,518.7 261.8,516.5 264,514.5 266.1,512.6 268.3,511 270.5,509.4 272.7,508.1 274.9,506.9 277.1,505.8 279.3,504.9 281.4,504.1 283.6,503.4 285.8,502.8 288,502.3 290.2,501.9 292.4,501.5 294.6,501.2 296.7,501 298.9,500.8 301.1,500.6 303.3,500.4 305.5,500.3 307.7,500.2 309.9,500.1 312,500.1 314.2,500 316.4,499.9 318.6,499.9 320.8,499.9 323,499.8 325.2,499.8 327.3,499.8 329.5,499.8 331.7,499.8 333.9,499.8 336.1,499.8 338.3,499.7 340.4,499.7 342.6,499.7 344.8,499.7 347,499.7 349.2,499.7 351.4,499.7 353.6,499.7 355.7,499.7 357.9,499.7 360.1,499.7 362.3,499.7 364.5,499.7 366.7,499.7 368.9,499.7 371,499.7 373.2,499.7 375.4,499.7 377.6,499.7 379.8,499.7 382,499.7 384.2,499.7 386.3,499.7 388.5,499.7 390.7,499.7 392.9,499.7 395.1,499.7 397.3,499.7 399.5,499.7 401.6,499.7 403.8,499.7 406,499.7 408.2,499.7 410.4,499.7 412.6,499.7 414.8,499.7 416.9,499.7 419.1,499.7 421.3,499.7 423.5,499.7 425.7,499.7 427.9,499.7 430,499.7 432.2,499.7 434.4,499.7 436.6,499.7 438.8,499.7 441,499.7 443.2,499.7 445.3,499.7 447.5,499.7 449.7,499.7 451.9,499.7 454.1,499.7 456.3,499.7 458.5,499.7 460.6,499.7 462.8,499.7 465,499.7 467.2,499.7" fill="none" stroke="#ff6208" stroke-width="1.9" stroke-linejoin="round" stroke-linecap="round"/>
<polyline points="141.6,668.8 143.8,666.7 146,664.5 148.1,662.3 150.3,660.1 152.5,657.9 154.7,655.6 156.9,653.4 159.1,651.1 161.2,648.8 163.4,646.4 165.6,644 167.8,641.6 170,639.2 172.2,636.7 174.4,634.2 176.5,631.6 178.7,629 180.9,626.4 183.1,623.8 185.3,621.1 187.5,618.3 189.7,615.6 191.8,612.8 194,609.9 196.2,607.1 198.4,604.2 200.6,601.2 202.8,598.3 205,595.3 207.1,592.2 209.3,589.2 211.5,586.1 213.7,583 215.9,579.9 218.1,576.7 220.3,573.5 222.4,570.4 224.6,567.2 226.8,564 229,560.8 231.2,557.6 233.4,554.4 235.6,551.3 237.7,548.2 239.9,545 242.1,542 244.3,539 246.5,536 248.7,533.1 250.8,530.3 253,527.7 255.2,525.1 257.4,522.6 259.6,520.3 261.8,518.1 264,516.1 266.1,514.2 268.3,512.5 270.5,511 272.7,509.6 274.9,508.4 277.1,507.4 279.3,506.4 281.4,505.6 283.6,504.9 285.8,504.3 288,503.8 290.2,503.4 292.4,503 294.6,502.7 296.7,502.5 298.9,502.2 301.1,502.1 303.3,501.9 305.5,501.8 307.7,501.7 309.9,501.6 312,501.5 314.2,501.5 316.4,501.4 318.6,501.4 320.8,501.3 323,501.3 325.2,501.3 327.3,501.3 329.5,501.3 331.7,501.2 333.9,501.2 336.1,501.2 338.3,501.2 340.4,501.2 342.6,501.2 344.8,501.2 347,501.2 349.2,501.2 351.4,501.2 353.6,501.2 355.7,501.2 357.9,501.2 360.1,501.2 362.3,501.2 364.5,501.2 366.7,501.2 368.9,501.2 371,501.2 373.2,501.2 375.4,501.2 377.6,501.2 379.8,501.2 382,501.2 384.2,501.2 386.3,501.2 388.5,501.2 390.7,501.2 392.9,501.2 395.1,501.2 397.3,501.2 399.5,501.2 401.6,501.2 403.8,501.2 406,501.2 408.2,501.2 410.4,501.2 412.6,501.2 414.8,501.2 416.9,501.2 419.1,501.2 421.3,501.2 423.5,501.2 425.7,501.2 427.9,501.2 430,501.2 432.2,501.2 434.4,501.2 436.6,501.2 438.8,501.2 441,501.2 443.2,501.2 445.3,501.2 447.5,501.2 449.7,501.2 451.9,501.2 454.1,501.2 456.3,501.2 458.5,501.2 460.6,501.2 462.8,501.2 465,501.2 467.2,501.2" fill="none" stroke="#ff6208" stroke-width="1.9" stroke-linejoin="round" stroke-linecap="round"/>
<polyline points="141.6,668.8 143.8,666.7 146,664.6 148.1,662.5 150.3,660.3 152.5,658.2 154.7,656 156.9,653.8 159.1,651.6 161.2,649.3 163.4,647.1 165.6,644.8 167.8,642.4 170,640.1 172.2,637.7 174.4,635.3 176.5,632.8 178.7,630.3 180.9,627.8 183.1,625.2 185.3,622.6 187.5,620 189.7,617.3 191.8,614.6 194,611.8 196.2,609.1 198.4,606.2 200.6,603.4 202.8,600.5 205,597.6 207.1,594.6 209.3,591.6 211.5,588.6 213.7,585.6 215.9,582.5 218.1,579.4 220.3,576.3 222.4,573.2 224.6,570.1 226.8,566.9 229,563.7 231.2,560.6 233.4,557.4 235.6,554.2 237.7,551.1 239.9,547.9 242.1,544.8 244.3,541.7 246.5,538.7 248.7,535.7 250.8,532.8 253,529.9 255.2,527.1 257.4,524.5 259.6,521.9 261.8,519.5 264,517.2 266.1,515 268.3,513 270.5,511.2 272.7,509.5 274.9,508 277.1,506.6 279.3,505.4 281.4,504.4 283.6,503.5 285.8,502.7 288,502 290.2,501.4 292.4,500.9 294.6,500.4 296.7,500.1 298.9,499.8 301.1,499.5 303.3,499.3 305.5,499.1 307.7,499 309.9,498.9 312,498.8 314.2,498.7 316.4,498.6 318.6,498.5 320.8,498.5 323,498.4 325.2,498.4 327.3,498.4 329.5,498.4 331.7,498.3 333.9,498.3 336.1,498.3 338.3,498.3 340.4,498.3 342.6,498.3 344.8,498.3 347,498.3 349.2,498.3 351.4,498.3 353.6,498.3 355.7,498.3 357.9,498.3 360.1,498.3 362.3,498.3 364.5,498.3 366.7,498.2 368.9,498.2 371,498.2 373.2,498.2 375.4,498.2 377.6,498.2 379.8,498.2 382,498.2 384.2,498.2 386.3,498.2 388.5,498.2 390.7,498.2 392.9,498.2 395.1,498.2 397.3,498.2 399.5,498.2 401.6,498.2 403.8,498.2 406,498.2 408.2,498.2 410.4,498.2 412.6,498.2 414.8,498.2 416.9,498.2 419.1,498.2 421.3,498.2 423.5,498.2 425.7,498.2 427.9,498.2 430,498.2 432.2,498.2 434.4,498.2 436.6,498.2 438.8,498.2 441,498.2 443.2,498.2 445.3,498.2 447.5,498.2 449.7,498.2 451.9,498.2 454.1,498.2 456.3,498.2 458.5,498.2 460.6,498.2 462.8,498.2 465,498.2 467.2,498.2" fill="none" stroke="#ff6208" stroke-width="1.9" stroke-linejoin="round" stroke-linecap="round"/>
<polyline points="141.6,668.8 143.8,665.8 146,662.7 148.1,659.5 150.3,656.4 152.5,653.2 154.7,650 156.9,646.7 159.1,643.5 161.2,640.2 163.4,636.8 165.6,633.5 167.8,630.1 170,626.7 172.2,623.2 174.4,619.8 176.5,616.3 178.7,612.8 180.9,609.3 183.1,605.8 185.3,602.2 187.5,598.7 189.7,595.1 191.8,591.6 194,588 196.2,584.4 198.4,580.9 200.6,577.3 202.8,573.8 205,570.3 207.1,566.8 209.3,563.3 211.5,559.8 213.7,556.4 215.9,553 218.1,549.7 220.3,546.5 222.4,543.3 224.6,540.2 226.8,537.2 229,534.3 231.2,531.5 233.4,528.8 235.6,526.3 237.7,524 239.9,521.8 242.1,519.7 244.3,517.8 246.5,516.1 248.7,514.6 250.8,513.2 253,511.9 255.2,510.8 257.4,509.9 259.6,509 261.8,508.3 264,507.7 266.1,507.1 268.3,506.7 270.5,506.3 272.7,505.9 274.9,505.7 277.1,505.4 279.3,505.2 281.4,505 283.6,504.9 285.8,504.8 288,504.7 290.2,504.6 292.4,504.5 294.6,504.4 296.7,504.4 298.9,504.3 301.1,504.3 303.3,504.3 305.5,504.2 307.7,504.2 309.9,504.2 312,504.2 314.2,504.2 316.4,504.2 318.6,504.2 320.8,504.1 323,504.1 325.2,504.1 327.3,504.1 329.5,504.1 331.7,504.1 333.9,504.1 336.1,504.1 338.3,504.1 340.4,504.1 342.6,504.1 344.8,504.1 347,504.1 349.2,504.1 351.4,504.1 353.6,504.1 355.7,504.1 357.9,504.1 360.1,504.1 362.3,504.1 364.5,504.1 366.7,504.1 368.9,504.1 371,504.1 373.2,504.1 375.4,504.1 377.6,504.1 379.8,504.1 382,504.1 384.2,504.1 386.3,504.1 388.5,504.1 390.7,504.1 392.9,504.1 395.1,504.1 397.3,504.1 399.5,504.1 401.6,504.1 403.8,504.1 406,504.1 408.2,504.1 410.4,504.1 412.6,504.1 414.8,504.1 416.9,504.1 419.1,504.1 421.3,504.1 423.5,504.1 425.7,504.1 427.9,504.1 430,504.1 432.2,504.1 434.4,504.1 436.6,504.1 438.8,504.1 441,504.1 443.2,504.1 445.3,504.1 447.5,504.1 449.7,504.1 451.9,504.1 454.1,504.1 456.3,504.1 458.5,504.1 460.6,504.1 462.8,504.1 465,504.1 467.2,504.1" fill="none" stroke="#4d9cf0" stroke-width="1.9" stroke-linejoin="round" stroke-linecap="round"/>
<polyline points="141.6,668.8 143.8,665.9 146,662.9 148.1,659.9 150.3,656.9 152.5,653.8 154.7,650.7 156.9,647.6 159.1,644.4 161.2,641.2 163.4,638 165.6,634.7 167.8,631.4 170,628.1 172.2,624.8 174.4,621.4 176.5,618 178.7,614.6 180.9,611.2 183.1,607.7 185.3,604.2 187.5,600.8 189.7,597.3 191.8,593.8 194,590.3 196.2,586.8 198.4,583.3 200.6,579.7 202.8,576.2 205,572.8 207.1,569.3 209.3,565.8 211.5,562.4 213.7,559 215.9,555.6 218.1,552.3 220.3,549.1 222.4,545.9 224.6,542.8 226.8,539.8 229,536.8 231.2,534 233.4,531.3 235.6,528.8 237.7,526.4 239.9,524.1 242.1,522 244.3,520.1 246.5,518.3 248.7,516.7 250.8,515.2 253,513.9 255.2,512.8 257.4,511.8 259.6,510.9 261.8,510.1 264,509.4 266.1,508.8 268.3,508.3 270.5,507.9 272.7,507.6 274.9,507.2 277.1,507 279.3,506.8 281.4,506.6 283.6,506.4 285.8,506.3 288,506.2 290.2,506.1 292.4,506 294.6,505.9 296.7,505.9 298.9,505.8 301.1,505.8 303.3,505.7 305.5,505.7 307.7,505.7 309.9,505.7 312,505.7 314.2,505.6 316.4,505.6 318.6,505.6 320.8,505.6 323,505.6 325.2,505.6 327.3,505.6 329.5,505.6 331.7,505.6 333.9,505.6 336.1,505.6 338.3,505.6 340.4,505.6 342.6,505.6 344.8,505.6 347,505.6 349.2,505.6 351.4,505.6 353.6,505.6 355.7,505.6 357.9,505.6 360.1,505.6 362.3,505.6 364.5,505.6 366.7,505.6 368.9,505.6 371,505.6 373.2,505.6 375.4,505.6 377.6,505.6 379.8,505.6 382,505.6 384.2,505.6 386.3,505.6 388.5,505.6 390.7,505.6 392.9,505.6 395.1,505.6 397.3,505.6 399.5,505.6 401.6,505.6 403.8,505.6 406,505.6 408.2,505.6 410.4,505.6 412.6,505.6 414.8,505.6 416.9,505.6 419.1,505.6 421.3,505.6 423.5,505.6 425.7,505.6 427.9,505.6 430,505.6 432.2,505.6 434.4,505.6 436.6,505.6 438.8,505.6 441,505.6 443.2,505.6 445.3,505.6 447.5,505.6 449.7,505.6 451.9,505.6 454.1,505.6 456.3,505.6 458.5,505.6 460.6,505.6 462.8,505.6 465,505.6 467.2,505.6" fill="none" stroke="#4d9cf0" stroke-width="1.9" stroke-linejoin="round" stroke-linecap="round"/>
<polyline points="141.6,668.8 143.8,666 146,663.1 148.1,660.2 150.3,657.3 152.5,654.3 154.7,651.3 156.9,648.3 159.1,645.2 161.2,642.1 163.4,639 165.6,635.8 167.8,632.6 170,629.4 172.2,626.1 174.4,622.9 176.5,619.5 178.7,616.2 180.9,612.9 183.1,609.5 185.3,606.1 187.5,602.7 189.7,599.2 191.8,595.8 194,592.4 196.2,588.9 198.4,585.4 200.6,582 202.8,578.5 205,575.1 207.1,571.6 209.3,568.2 211.5,564.8 213.7,561.4 215.9,558.1 218.1,554.8 220.3,551.5 222.4,548.4 224.6,545.2 226.8,542.2 229,539.3 231.2,536.4 233.4,533.7 235.6,531.1 237.7,528.7 239.9,526.4 242.1,524.2 244.3,522.2 246.5,520.4 248.7,518.7 250.8,517.2 253,515.9 255.2,514.7 257.4,513.6 259.6,512.7 261.8,511.8 264,511.1 266.1,510.5 268.3,510 270.5,509.5 272.7,509.2 274.9,508.8 277.1,508.6 279.3,508.3 281.4,508.1 283.6,507.9 285.8,507.8 288,507.7 290.2,507.6 292.4,507.5 294.6,507.4 296.7,507.4 298.9,507.3 301.1,507.3 303.3,507.2 305.5,507.2 307.7,507.2 309.9,507.1 312,507.1 314.2,507.1 316.4,507.1 318.6,507.1 320.8,507.1 323,507.1 325.2,507.1 327.3,507.1 329.5,507.1 331.7,507 333.9,507 336.1,507 338.3,507 340.4,507 342.6,507 344.8,507 347,507 349.2,507 351.4,507 353.6,507 355.7,507 357.9,507 360.1,507 362.3,507 364.5,507 366.7,507 368.9,507 371,507 373.2,507 375.4,507 377.6,507 379.8,507 382,507 384.2,507 386.3,507 388.5,507 390.7,507 392.9,507 395.1,507 397.3,507 399.5,507 401.6,507 403.8,507 406,507 408.2,507 410.4,507 412.6,507 414.8,507 416.9,507 419.1,507 421.3,507 423.5,507 425.7,507 427.9,507 430,507 432.2,507 434.4,507 436.6,507 438.8,507 441,507 443.2,507 445.3,507 447.5,507 449.7,507 451.9,507 454.1,507 456.3,507 458.5,507 460.6,507 462.8,507 465,507 467.2,507" fill="none" stroke="#4d9cf0" stroke-width="1.9" stroke-linejoin="round" stroke-linecap="round"/>
<polyline points="141.6,668.8 143.8,666.1 146,663.4 148.1,660.6 150.3,657.8 152.5,654.9 154.7,652.1 156.9,649.2 159.1,646.2 161.2,643.2 163.4,640.2 165.6,637.2 167.8,634.1 170,631 172.2,627.8 174.4,624.6 176.5,621.4 178.7,618.2 180.9,615 183.1,611.7 185.3,608.4 187.5,605 189.7,601.7 191.8,598.3 194,595 196.2,591.6 198.4,588.2 200.6,584.8 202.8,581.4 205,578 207.1,574.6 209.3,571.2 211.5,567.8 213.7,564.5 215.9,561.2 218.1,557.9 220.3,554.6 222.4,551.5 224.6,548.3 226.8,545.3 229,542.3 231.2,539.4 233.4,536.7 235.6,534 237.7,531.5 239.9,529.1 242.1,526.9 244.3,524.8 246.5,522.9 248.7,521.2 250.8,519.6 253,518.1 255.2,516.8 257.4,515.7 259.6,514.7 261.8,513.8 264,513 266.1,512.4 268.3,511.8 270.5,511.3 272.7,510.9 274.9,510.5 277.1,510.2 279.3,509.9 281.4,509.7 283.6,509.5 285.8,509.4 288,509.2 290.2,509.1 292.4,509 294.6,508.9 296.7,508.9 298.9,508.8 301.1,508.8 303.3,508.7 305.5,508.7 307.7,508.6 309.9,508.6 312,508.6 314.2,508.6 316.4,508.6 318.6,508.6 320.8,508.5 323,508.5 325.2,508.5 327.3,508.5 329.5,508.5 331.7,508.5 333.9,508.5 336.1,508.5 338.3,508.5 340.4,508.5 342.6,508.5 344.8,508.5 347,508.5 349.2,508.5 351.4,508.5 353.6,508.5 355.7,508.5 357.9,508.5 360.1,508.5 362.3,508.5 364.5,508.5 366.7,508.5 368.9,508.5 371,508.5 373.2,508.5 375.4,508.5 377.6,508.5 379.8,508.5 382,508.5 384.2,508.5 386.3,508.5 388.5,508.5 390.7,508.5 392.9,508.5 395.1,508.5 397.3,508.5 399.5,508.5 401.6,508.5 403.8,508.5 406,508.5 408.2,508.5 410.4,508.5 412.6,508.5 414.8,508.5 416.9,508.5 419.1,508.5 421.3,508.5 423.5,508.5 425.7,508.5 427.9,508.5 430,508.5 432.2,508.5 434.4,508.5 436.6,508.5 438.8,508.5 441,508.5 443.2,508.5 445.3,508.5 447.5,508.5 449.7,508.5 451.9,508.5 454.1,508.5 456.3,508.5 458.5,508.5 460.6,508.5 462.8,508.5 465,508.5 467.2,508.5" fill="none" stroke="#4d9cf0" stroke-width="1.9" stroke-linejoin="round" stroke-linecap="round"/>
<line x1="105.4" y1="522.4" x2="464" y2="522.4" stroke="#000" stroke-width="2.3" stroke-dasharray="7.6 5.3"/>
<line x1="104.4" y1="668.8" x2="468.2" y2="668.8" stroke="#000" stroke-width="2.4"/>
<line x1="105.4" y1="411.6" x2="105.4" y2="668.8" stroke="#000" stroke-width="2"/>
<line x1="105.4" y1="668.8" x2="105.4" y2="676.8" stroke="#000" stroke-width="2"/>
<text x="105" y="696.7" font-size="19.6" text-anchor="middle" font-weight="bold" textLength="9.6" lengthAdjust="spacingAndGlyphs">0</text>
<line x1="165.7" y1="668.8" x2="165.7" y2="676.8" stroke="#000" stroke-width="2"/>
<text x="165.3" y="696.7" font-size="19.6" text-anchor="middle" font-weight="bold" textLength="9.6" lengthAdjust="spacingAndGlyphs">5</text>
<line x1="226" y1="668.8" x2="226" y2="676.8" stroke="#000" stroke-width="2"/>
<text x="225.6" y="696.7" font-size="19.6" text-anchor="middle" font-weight="bold" textLength="18.8" lengthAdjust="spacingAndGlyphs">10</text>
<line x1="286.3" y1="668.8" x2="286.3" y2="676.8" stroke="#000" stroke-width="2"/>
<text x="285.9" y="696.7" font-size="19.6" text-anchor="middle" font-weight="bold" textLength="18.8" lengthAdjust="spacingAndGlyphs">15</text>
<line x1="346.6" y1="668.8" x2="346.6" y2="676.8" stroke="#000" stroke-width="2"/>
<text x="346.2" y="696.7" font-size="19.6" text-anchor="middle" font-weight="bold" textLength="18.8" lengthAdjust="spacingAndGlyphs">20</text>
<line x1="406.9" y1="668.8" x2="406.9" y2="676.8" stroke="#000" stroke-width="2"/>
<text x="406.5" y="696.7" font-size="19.6" text-anchor="middle" font-weight="bold" textLength="18.8" lengthAdjust="spacingAndGlyphs">25</text>
<line x1="467.2" y1="668.8" x2="467.2" y2="676.8" stroke="#000" stroke-width="2"/>
<text x="466.8" y="696.7" font-size="19.6" text-anchor="middle" font-weight="bold" textLength="18.8" lengthAdjust="spacingAndGlyphs">30</text>
<line x1="98.4" y1="668.8" x2="105.4" y2="668.8" stroke="#000" stroke-width="2"/>
<text x="96.2" y="675.3" font-size="18.7" text-anchor="end" font-weight="bold" textLength="25.6" lengthAdjust="spacingAndGlyphs">0.0</text>
<line x1="98.4" y1="632.2" x2="105.4" y2="632.2" stroke="#000" stroke-width="2"/>
<text x="96.2" y="638.7" font-size="18.7" text-anchor="end" font-weight="bold" textLength="25.6" lengthAdjust="spacingAndGlyphs">0.1</text>
<line x1="98.4" y1="595.6" x2="105.4" y2="595.6" stroke="#000" stroke-width="2"/>
<text x="96.2" y="602.1" font-size="18.7" text-anchor="end" font-weight="bold" textLength="25.6" lengthAdjust="spacingAndGlyphs">0.2</text>
<line x1="98.4" y1="559" x2="105.4" y2="559" stroke="#000" stroke-width="2"/>
<text x="96.2" y="565.5" font-size="18.7" text-anchor="end" font-weight="bold" textLength="25.6" lengthAdjust="spacingAndGlyphs">0.3</text>
<line x1="98.4" y1="522.4" x2="105.4" y2="522.4" stroke="#000" stroke-width="2"/>
<text x="96.2" y="528.9" font-size="18.7" text-anchor="end" font-weight="bold" textLength="25.6" lengthAdjust="spacingAndGlyphs">0.4</text>
<line x1="98.4" y1="485.8" x2="105.4" y2="485.8" stroke="#000" stroke-width="2"/>
<text x="96.2" y="492.3" font-size="18.7" text-anchor="end" font-weight="bold" textLength="25.6" lengthAdjust="spacingAndGlyphs">0.5</text>
<line x1="98.4" y1="449.2" x2="105.4" y2="449.2" stroke="#000" stroke-width="2"/>
<text x="96.2" y="455.7" font-size="18.7" text-anchor="end" font-weight="bold" textLength="25.6" lengthAdjust="spacingAndGlyphs">0.6</text>
<line x1="98.4" y1="412.6" x2="105.4" y2="412.6" stroke="#000" stroke-width="2"/>
<text x="96.2" y="419.1" font-size="18.7" text-anchor="end" font-weight="bold" textLength="25.6" lengthAdjust="spacingAndGlyphs">0.7</text>
<text x="227.2" y="724.8" font-size="21.5" font-weight="bold" textLength="117" lengthAdjust="spacingAndGlyphs">Ct (minutes)</text>
<text x="59.4" y="667" font-size="20.5" font-weight="bold" transform="rotate(-90 59.4 667)" textLength="254" lengthAdjust="spacingAndGlyphs">Normalised Fluorescence</text>
<polyline points="141.6,1042.4 143.8,1040.7 146,1038.9 148.1,1037.2 150.3,1035.5 152.5,1033.8 154.7,1032.2 156.9,1030.5 159.1,1028.9 161.2,1027.3 163.4,1025.7 165.6,1024.1 167.8,1022.5 170,1020.9 172.2,1019.4 174.4,1017.8 176.5,1016.3 178.7,1014.8 180.9,1013.3 183.1,1011.8 185.3,1010.4 187.5,1008.9 189.7,1007.5 191.8,1006 194,1004.6 196.2,1003.2 198.4,1001.8 200.6,1000.5 202.8,999.1 205,997.7 207.1,996.4 209.3,995.1 211.5,993.8 213.7,992.5 215.9,991.2 218.1,989.9 220.3,988.6 222.4,987.4 224.6,986.1 226.8,984.9 229,983.7 231.2,982.4 233.4,981.2 235.6,980 237.7,978.9 239.9,977.7 242.1,976.5 244.3,975.4 246.5,974.2 248.7,973.1 250.8,972 253,970.9 255.2,969.8 257.4,968.7 259.6,967.6 261.8,966.6 264,965.5 266.1,964.5 268.3,963.4 270.5,962.4 272.7,961.4 274.9,960.3 277.1,959.3 279.3,958.4 281.4,957.4 283.6,956.4 285.8,955.4 288,954.5 290.2,953.5 292.4,952.6 294.6,951.6 296.7,950.7 298.9,949.8 301.1,948.9 303.3,948 305.5,947.1 307.7,946.2 309.9,945.3 312,944.5 314.2,943.6 316.4,942.8 318.6,941.9 320.8,941.1 323,940.3 325.2,939.4 327.3,938.6 329.5,937.8 331.7,937 333.9,936.2 336.1,935.4 338.3,934.7 340.4,933.9 342.6,933.1 344.8,932.4 347,931.6 349.2,930.9 351.4,930.1 353.6,929.4 355.7,928.7 357.9,928 360.1,927.2 362.3,926.5 364.5,925.8 366.7,925.2 368.9,924.5 371,923.8 373.2,923.1 375.4,922.4 377.6,921.8 379.8,921.1 382,920.5 384.2,919.8 386.3,919.2 388.5,918.6 390.7,917.9 392.9,917.3 395.1,916.7 397.3,916.1 399.5,915.5 401.6,914.9 403.8,914.3 406,913.7 408.2,913.1 410.4,912.6 412.6,912 414.8,911.4 416.9,910.9 419.1,910.3 421.3,909.7 423.5,909.2 425.7,908.7 427.9,908.1 430,907.6 432.2,907.1 434.4,906.5 436.6,906 438.8,905.5 441,905 443.2,904.5 445.3,904 447.5,903.5 449.7,903 451.9,902.5 454.1,902 456.3,901.6 458.5,901.1 460.6,900.6 462.8,900.2 465,899.7 467.2,899.2" fill="none" stroke="#ff0000" stroke-width="1.9" stroke-linejoin="round" stroke-linecap="round"/>
<polyline points="141.6,1042.4 143.8,1040.7 146,1039 148.1,1037.3 150.3,1035.7 152.5,1034 154.7,1032.4 156.9,1030.8 159.1,1029.2 161.2,1027.6 163.4,1026 165.6,1024.4 167.8,1022.9 170,1021.4 172.2,1019.9 174.4,1018.3 176.5,1016.9 178.7,1015.4 180.9,1013.9 183.1,1012.5 185.3,1011 187.5,1009.6 189.7,1008.2 191.8,1006.8 194,1005.4 196.2,1004 198.4,1002.7 200.6,1001.3 202.8,1000 205,998.6 207.1,997.3 209.3,996 211.5,994.7 213.7,993.4 215.9,992.2 218.1,990.9 220.3,989.7 222.4,988.4 224.6,987.2 226.8,986 229,984.8 231.2,983.6 233.4,982.4 235.6,981.3 237.7,980.1 239.9,978.9 242.1,977.8 244.3,976.7 246.5,975.6 248.7,974.4 250.8,973.3 253,972.3 255.2,971.2 257.4,970.1 259.6,969 261.8,968 264,967 266.1,965.9 268.3,964.9 270.5,963.9 272.7,962.9 274.9,961.9 277.1,960.9 279.3,959.9 281.4,958.9 283.6,958 285.8,957 288,956.1 290.2,955.2 292.4,954.2 294.6,953.3 296.7,952.4 298.9,951.5 301.1,950.6 303.3,949.7 305.5,948.8 307.7,948 309.9,947.1 312,946.2 314.2,945.4 316.4,944.6 318.6,943.7 320.8,942.9 323,942.1 325.2,941.3 327.3,940.5 329.5,939.7 331.7,938.9 333.9,938.1 336.1,937.3 338.3,936.6 340.4,935.8 342.6,935 344.8,934.3 347,933.6 349.2,932.8 351.4,932.1 353.6,931.4 355.7,930.7 357.9,930 360.1,929.3 362.3,928.6 364.5,927.9 366.7,927.2 368.9,926.5 371,925.8 373.2,925.2 375.4,924.5 377.6,923.9 379.8,923.2 382,922.6 384.2,921.9 386.3,921.3 388.5,920.7 390.7,920.1 392.9,919.4 395.1,918.8 397.3,918.2 399.5,917.6 401.6,917 403.8,916.5 406,915.9 408.2,915.3 410.4,914.7 412.6,914.2 414.8,913.6 416.9,913 419.1,912.5 421.3,911.9 423.5,911.4 425.7,910.9 427.9,910.3 430,909.8 432.2,909.3 434.4,908.8 436.6,908.3 438.8,907.8 441,907.2 443.2,906.7 445.3,906.3 447.5,905.8 449.7,905.3 451.9,904.8 454.1,904.3 456.3,903.8 458.5,903.4 460.6,902.9 462.8,902.5 465,902 467.2,901.5" fill="none" stroke="#ff0000" stroke-width="1.9" stroke-linejoin="round" stroke-linecap="round"/>
<polyline points="141.6,1042.4 143.8,1040.9 146,1039.4 148.1,1037.9 150.3,1036.4 152.5,1034.9 154.7,1033.4 156.9,1032 159.1,1030.5 161.2,1029.1 163.4,1027.7 165.6,1026.3 167.8,1024.9 170,1023.5 172.2,1022.1 174.4,1020.8 176.5,1019.4 178.7,1018.1 180.9,1016.8 183.1,1015.5 185.3,1014.2 187.5,1012.9 189.7,1011.6 191.8,1010.3 194,1009.1 196.2,1007.8 198.4,1006.6 200.6,1005.3 202.8,1004.1 205,1002.9 207.1,1001.7 209.3,1000.5 211.5,999.3 213.7,998.1 215.9,997 218.1,995.8 220.3,994.7 222.4,993.6 224.6,992.4 226.8,991.3 229,990.2 231.2,989.1 233.4,988 235.6,986.9 237.7,985.9 239.9,984.8 242.1,983.8 244.3,982.7 246.5,981.7 248.7,980.7 250.8,979.6 253,978.6 255.2,977.6 257.4,976.6 259.6,975.6 261.8,974.7 264,973.7 266.1,972.7 268.3,971.8 270.5,970.8 272.7,969.9 274.9,969 277.1,968 279.3,967.1 281.4,966.2 283.6,965.3 285.8,964.4 288,963.5 290.2,962.7 292.4,961.8 294.6,960.9 296.7,960.1 298.9,959.2 301.1,958.4 303.3,957.5 305.5,956.7 307.7,955.9 309.9,955.1 312,954.3 314.2,953.5 316.4,952.7 318.6,951.9 320.8,951.1 323,950.3 325.2,949.6 327.3,948.8 329.5,948 331.7,947.3 333.9,946.5 336.1,945.8 338.3,945.1 340.4,944.3 342.6,943.6 344.8,942.9 347,942.2 349.2,941.5 351.4,940.8 353.6,940.1 355.7,939.4 357.9,938.7 360.1,938.1 362.3,937.4 364.5,936.7 366.7,936.1 368.9,935.4 371,934.8 373.2,934.1 375.4,933.5 377.6,932.9 379.8,932.2 382,931.6 384.2,931 386.3,930.4 388.5,929.8 390.7,929.2 392.9,928.6 395.1,928 397.3,927.4 399.5,926.8 401.6,926.2 403.8,925.7 406,925.1 408.2,924.5 410.4,924 412.6,923.4 414.8,922.9 416.9,922.3 419.1,921.8 421.3,921.3 423.5,920.7 425.7,920.2 427.9,919.7 430,919.2 432.2,918.6 434.4,918.1 436.6,917.6 438.8,917.1 441,916.6 443.2,916.1 445.3,915.6 447.5,915.2 449.7,914.7 451.9,914.2 454.1,913.7 456.3,913.3 458.5,912.8 460.6,912.3 462.8,911.9 465,911.4 467.2,911" fill="none" stroke="#ff0000" stroke-width="1.9" stroke-linejoin="round" stroke-linecap="round"/>
<polyline points="141.6,1042.4 143.8,1040.9 146,1039.5 148.1,1038.1 150.3,1036.6 152.5,1035.2 154.7,1033.8 156.9,1032.4 159.1,1031.1 161.2,1029.7 163.4,1028.3 165.6,1027 167.8,1025.7 170,1024.3 172.2,1023 174.4,1021.7 176.5,1020.4 178.7,1019.2 180.9,1017.9 183.1,1016.6 185.3,1015.4 187.5,1014.2 189.7,1012.9 191.8,1011.7 194,1010.5 196.2,1009.3 198.4,1008.1 200.6,1006.9 202.8,1005.8 205,1004.6 207.1,1003.4 209.3,1002.3 211.5,1001.2 213.7,1000 215.9,998.9 218.1,997.8 220.3,996.7 222.4,995.6 224.6,994.6 226.8,993.5 229,992.4 231.2,991.4 233.4,990.3 235.6,989.3 237.7,988.3 239.9,987.3 242.1,986.2 244.3,985.2 246.5,984.2 248.7,983.3 250.8,982.3 253,981.3 255.2,980.3 257.4,979.4 259.6,978.4 261.8,977.5 264,976.6 266.1,975.6 268.3,974.7 270.5,973.8 272.7,972.9 274.9,972 277.1,971.1 279.3,970.3 281.4,969.4 283.6,968.5 285.8,967.7 288,966.8 290.2,966 292.4,965.1 294.6,964.3 296.7,963.5 298.9,962.6 301.1,961.8 303.3,961 305.5,960.2 307.7,959.4 309.9,958.6 312,957.9 314.2,957.1 316.4,956.3 318.6,955.6 320.8,954.8 323,954.1 325.2,953.3 327.3,952.6 329.5,951.9 331.7,951.1 333.9,950.4 336.1,949.7 338.3,949 340.4,948.3 342.6,947.6 344.8,946.9 347,946.2 349.2,945.5 351.4,944.9 353.6,944.2 355.7,943.5 357.9,942.9 360.1,942.2 362.3,941.6 364.5,940.9 366.7,940.3 368.9,939.7 371,939 373.2,938.4 375.4,937.8 377.6,937.2 379.8,936.6 382,936 384.2,935.4 386.3,934.8 388.5,934.2 390.7,933.6 392.9,933.1 395.1,932.5 397.3,931.9 399.5,931.4 401.6,930.8 403.8,930.2 406,929.7 408.2,929.1 410.4,928.6 412.6,928.1 414.8,927.5 416.9,927 419.1,926.5 421.3,926 423.5,925.5 425.7,924.9 427.9,924.4 430,923.9 432.2,923.4 434.4,922.9 436.6,922.4 438.8,922 441,921.5 443.2,921 445.3,920.5 447.5,920.1 449.7,919.6 451.9,919.1 454.1,918.7 456.3,918.2 458.5,917.8 460.6,917.3 462.8,916.9 465,916.4 467.2,916" fill="none" stroke="#ff0000" stroke-width="1.9" stroke-linejoin="round" stroke-linecap="round"/>
<polyline points="141.6,1042.4 143.8,1040.6 146,1038.7 148.1,1036.9 150.3,1035.1 152.5,1033.3 154.7,1031.4 156.9,1029.6 159.1,1027.8 161.2,1025.9 163.4,1024.1 165.6,1022.2 167.8,1020.3 170,1018.4 172.2,1016.5 174.4,1014.6 176.5,1012.6 178.7,1010.6 180.9,1008.5 183.1,1006.4 185.3,1004.3 187.5,1002.1 189.7,999.8 191.8,997.5 194,995.1 196.2,992.6 198.4,990.1 200.6,987.5 202.8,984.7 205,981.9 207.1,979 209.3,976 211.5,972.9 213.7,969.7 215.9,966.4 218.1,963 220.3,959.5 222.4,955.9 224.6,952.1 226.8,948.3 229,944.4 231.2,940.4 233.4,936.3 235.6,932.1 237.7,927.8 239.9,923.5 242.1,919.1 244.3,914.6 246.5,910.1 248.7,905.5 250.8,900.9 253,896.2 255.2,891.5 257.4,886.8 259.6,882 261.8,877.2 264,872.4 266.1,867.6 268.3,862.8 270.5,858.1 272.7,853.4 274.9,848.8 277.1,844.3 279.3,840.1 281.4,836.1 283.6,832.5 285.8,829.3 288,826.6 290.2,824.4 292.4,822.7 294.6,821.4 296.7,820.5 298.9,819.8 301.1,819.4 303.3,819 305.5,818.8 307.7,818.7 309.9,818.6 312,818.5 314.2,818.5 316.4,818.5 318.6,818.4 320.8,818.4 323,818.4 325.2,818.4 327.3,818.4 329.5,818.4 331.7,818.4 333.9,818.4 336.1,818.4 338.3,818.4 340.4,818.4 342.6,818.4 344.8,818.4 347,818.4 349.2,818.4 351.4,818.4 353.6,818.4 355.7,818.4 357.9,818.4 360.1,818.4 362.3,818.4 364.5,818.4 366.7,818.4 368.9,818.4 371,818.4 373.2,818.4 375.4,818.4 377.6,818.4 379.8,818.4 382,818.4 384.2,818.4 386.3,818.4 388.5,818.4 390.7,818.4 392.9,818.4 395.1,818.4 397.3,818.4 399.5,818.4 401.6,818.4 403.8,818.4 406,818.4 408.2,818.4 410.4,818.4 412.6,818.4 414.8,818.4 416.9,818.4 419.1,818.4 421.3,818.4 423.5,818.4 425.7,818.4 427.9,818.4 430,818.4 432.2,818.4 434.4,818.4 436.6,818.4 438.8,818.4 441,818.4 443.2,818.4 445.3,818.4 447.5,818.4 449.7,818.4 451.9,818.4 454.1,818.4 456.3,818.4 458.5,818.4 460.6,818.4 462.8,818.4 465,818.4 467.2,818.4" fill="none" stroke="#22e61a" stroke-width="1.9" stroke-linejoin="round" stroke-linecap="round"/>
<polyline points="141.6,1042.4 143.8,1040.6 146,1038.8 148.1,1037 150.3,1035.2 152.5,1033.4 154.7,1031.6 156.9,1029.9 159.1,1028.1 161.2,1026.3 163.4,1024.5 165.6,1022.7 167.8,1020.9 170,1019.1 172.2,1017.3 174.4,1015.4 176.5,1013.6 178.7,1011.7 180.9,1009.8 183.1,1007.8 185.3,1005.9 187.5,1003.8 189.7,1001.8 191.8,999.7 194,997.5 196.2,995.3 198.4,993 200.6,990.6 202.8,988.2 205,985.7 207.1,983.1 209.3,980.4 211.5,977.6 213.7,974.8 215.9,971.8 218.1,968.7 220.3,965.5 222.4,962.3 224.6,958.9 226.8,955.4 229,951.8 231.2,948.1 233.4,944.3 235.6,940.4 237.7,936.4 239.9,932.3 242.1,928.2 244.3,924 246.5,919.6 248.7,915.3 250.8,910.8 253,906.3 255.2,901.8 257.4,897.2 259.6,892.5 261.8,887.9 264,883.2 266.1,878.4 268.3,873.7 270.5,869 272.7,864.2 274.9,859.6 277.1,855 279.3,850.5 281.4,846.2 283.6,842.1 285.8,838.4 288,835 290.2,832.1 292.4,829.7 294.6,827.8 296.7,826.3 298.9,825.3 301.1,824.5 303.3,823.9 305.5,823.6 307.7,823.3 309.9,823.1 312,823 314.2,823 316.4,822.9 318.6,822.9 320.8,822.8 323,822.8 325.2,822.8 327.3,822.8 329.5,822.8 331.7,822.8 333.9,822.8 336.1,822.8 338.3,822.8 340.4,822.8 342.6,822.8 344.8,822.8 347,822.8 349.2,822.8 351.4,822.8 353.6,822.8 355.7,822.8 357.9,822.8 360.1,822.8 362.3,822.8 364.5,822.8 366.7,822.8 368.9,822.8 371,822.8 373.2,822.8 375.4,822.8 377.6,822.8 379.8,822.8 382,822.8 384.2,822.8 386.3,822.8 388.5,822.8 390.7,822.8 392.9,822.8 395.1,822.8 397.3,822.8 399.5,822.8 401.6,822.8 403.8,822.8 406,822.8 408.2,822.8 410.4,822.8 412.6,822.8 414.8,822.8 416.9,822.8 419.1,822.8 421.3,822.8 423.5,822.8 425.7,822.8 427.9,822.8 430,822.8 432.2,822.8 434.4,822.8 436.6,822.8 438.8,822.8 441,822.8 443.2,822.8 445.3,822.8 447.5,822.8 449.7,822.8 451.9,822.8 454.1,822.8 456.3,822.8 458.5,822.8 460.6,822.8 462.8,822.8 465,822.8 467.2,822.8" fill="none" stroke="#22e61a" stroke-width="1.9" stroke-linejoin="round" stroke-linecap="round"/>
<polyline points="141.6,1042.4 143.8,1040.6 146,1038.8 148.1,1037 150.3,1035.3 152.5,1033.5 154.7,1031.7 156.9,1030 159.1,1028.2 161.2,1026.5 163.4,1024.7 165.6,1023 167.8,1021.2 170,1019.5 172.2,1017.7 174.4,1015.9 176.5,1014.1 178.7,1012.3 180.9,1010.5 183.1,1008.6 185.3,1006.7 187.5,1004.8 189.7,1002.8 191.8,1000.8 194,998.8 196.2,996.7 198.4,994.6 200.6,992.4 202.8,990.1 205,987.8 207.1,985.4 209.3,982.9 211.5,980.3 213.7,977.6 215.9,974.9 218.1,972 220.3,969.1 222.4,966 224.6,962.9 226.8,959.6 229,956.2 231.2,952.7 233.4,949.2 235.6,945.5 237.7,941.7 239.9,937.8 242.1,933.9 244.3,929.8 246.5,925.7 248.7,921.5 250.8,917.2 253,912.8 255.2,908.4 257.4,903.9 259.6,899.4 261.8,894.8 264,890.2 266.1,885.6 268.3,880.9 270.5,876.3 272.7,871.7 274.9,867.1 277.1,862.6 279.3,858.2 281.4,854 283.6,850.1 285.8,846.4 288,843.2 290.2,840.5 292.4,838.3 294.6,836.5 296.7,835.1 298.9,834.2 301.1,833.5 303.3,833 305.5,832.6 307.7,832.4 309.9,832.3 312,832.2 314.2,832.1 316.4,832 318.6,832 320.8,832 323,832 325.2,832 327.3,832 329.5,832 331.7,832 333.9,832 336.1,832 338.3,832 340.4,832 342.6,832 344.8,832 347,832 349.2,832 351.4,832 353.6,832 355.7,832 357.9,832 360.1,832 362.3,832 364.5,832 366.7,832 368.9,832 371,832 373.2,832 375.4,832 377.6,832 379.8,832 382,832 384.2,832 386.3,832 388.5,832 390.7,832 392.9,832 395.1,832 397.3,832 399.5,832 401.6,832 403.8,832 406,832 408.2,832 410.4,832 412.6,832 414.8,832 416.9,832 419.1,832 421.3,832 423.5,832 425.7,832 427.9,832 430,832 432.2,832 434.4,832 436.6,832 438.8,832 441,832 443.2,832 445.3,832 447.5,832 449.7,832 451.9,832 454.1,832 456.3,832 458.5,832 460.6,832 462.8,832 465,832 467.2,832" fill="none" stroke="#22e61a" stroke-width="1.9" stroke-linejoin="round" stroke-linecap="round"/>
<polyline points="141.6,1042.4 143.8,1040.6 146,1038.8 148.1,1037.1 150.3,1035.3 152.5,1033.6 154.7,1031.8 156.9,1030.1 159.1,1028.4 161.2,1026.6 163.4,1024.9 165.6,1023.2 167.8,1021.5 170,1019.8 172.2,1018 174.4,1016.3 176.5,1014.5 178.7,1012.8 180.9,1011 183.1,1009.2 185.3,1007.4 187.5,1005.6 189.7,1003.7 191.8,1001.8 194,999.9 196.2,997.9 198.4,995.9 200.6,993.9 202.8,991.8 205,989.6 207.1,987.4 209.3,985 211.5,982.7 213.7,980.2 215.9,977.6 218.1,975 220.3,972.3 222.4,969.4 224.6,966.5 226.8,963.5 229,960.4 231.2,957.1 233.4,953.8 235.6,950.3 237.7,946.8 239.9,943.1 242.1,939.4 244.3,935.5 246.5,931.6 248.7,927.5 250.8,923.4 253,919.2 255.2,915 257.4,910.6 259.6,906.2 261.8,901.8 264,897.3 266.1,892.8 268.3,888.2 270.5,883.7 272.7,879.1 274.9,874.6 277.1,870.1 279.3,865.8 281.4,861.6 283.6,857.6 285.8,854 288,850.7 290.2,847.9 292.4,845.6 294.6,843.8 296.7,842.4 298.9,841.3 301.1,840.6 303.3,840 305.5,839.7 307.7,839.4 309.9,839.2 312,839.1 314.2,839.1 316.4,839 318.6,839 320.8,838.9 323,838.9 325.2,838.9 327.3,838.9 329.5,838.9 331.7,838.9 333.9,838.9 336.1,838.9 338.3,838.9 340.4,838.9 342.6,838.9 344.8,838.9 347,838.9 349.2,838.9 351.4,838.9 353.6,838.9 355.7,838.9 357.9,838.9 360.1,838.9 362.3,838.9 364.5,838.9 366.7,838.9 368.9,838.9 371,838.9 373.2,838.9 375.4,838.9 377.6,838.9 379.8,838.9 382,838.9 384.2,838.9 386.3,838.9 388.5,838.9 390.7,838.9 392.9,838.9 395.1,838.9 397.3,838.9 399.5,838.9 401.6,838.9 403.8,838.9 406,838.9 408.2,838.9 410.4,838.9 412.6,838.9 414.8,838.9 416.9,838.9 419.1,838.9 421.3,838.9 423.5,838.9 425.7,838.9 427.9,838.9 430,838.9 432.2,838.9 434.4,838.9 436.6,838.9 438.8,838.9 441,838.9 443.2,838.9 445.3,838.9 447.5,838.9 449.7,838.9 451.9,838.9 454.1,838.9 456.3,838.9 458.5,838.9 460.6,838.9 462.8,838.9 465,838.9 467.2,838.9" fill="none" stroke="#22e61a" stroke-width="1.9" stroke-linejoin="round" stroke-linecap="round"/>
<polyline points="141.6,1042.4 143.8,1040.4 146,1038.5 148.1,1036.5 150.3,1034.5 152.5,1032.5 154.7,1030.4 156.9,1028.4 159.1,1026.3 161.2,1024.1 163.4,1022 165.6,1019.8 167.8,1017.5 170,1015.2 172.2,1012.8 174.4,1010.4 176.5,1007.9 178.7,1005.3 180.9,1002.6 183.1,999.9 185.3,997 187.5,994.1 189.7,991.1 191.8,987.9 194,984.7 196.2,981.3 198.4,977.9 200.6,974.3 202.8,970.6 205,966.8 207.1,962.9 209.3,958.9 211.5,954.8 213.7,950.6 215.9,946.3 218.1,941.9 220.3,937.4 222.4,932.8 224.6,928.2 226.8,923.4 229,918.7 231.2,913.8 233.4,908.9 235.6,904 237.7,899 239.9,893.9 242.1,888.9 244.3,883.8 246.5,878.7 248.7,873.6 250.8,868.5 253,863.5 255.2,858.5 257.4,853.7 259.6,848.9 261.8,844.4 264,840.2 266.1,836.4 268.3,833.1 270.5,830.2 272.7,827.9 274.9,826 277.1,824.7 279.3,823.6 281.4,822.9 283.6,822.4 285.8,822.1 288,821.8 290.2,821.7 292.4,821.6 294.6,821.5 296.7,821.4 298.9,821.4 301.1,821.4 303.3,821.4 305.5,821.4 307.7,821.3 309.9,821.3 312,821.3 314.2,821.3 316.4,821.3 318.6,821.3 320.8,821.3 323,821.3 325.2,821.3 327.3,821.3 329.5,821.3 331.7,821.3 333.9,821.3 336.1,821.3 338.3,821.3 340.4,821.3 342.6,821.3 344.8,821.3 347,821.3 349.2,821.3 351.4,821.3 353.6,821.3 355.7,821.3 357.9,821.3 360.1,821.3 362.3,821.3 364.5,821.3 366.7,821.3 368.9,821.3 371,821.3 373.2,821.3 375.4,821.3 377.6,821.3 379.8,821.3 382,821.3 384.2,821.3 386.3,821.3 388.5,821.3 390.7,821.3 392.9,821.3 395.1,821.3 397.3,821.3 399.5,821.3 401.6,821.3 403.8,821.3 406,821.3 408.2,821.3 410.4,821.3 412.6,821.3 414.8,821.3 416.9,821.3 419.1,821.3 421.3,821.3 423.5,821.3 425.7,821.3 427.9,821.3 430,821.3 432.2,821.3 434.4,821.3 436.6,821.3 438.8,821.3 441,821.3 443.2,821.3 445.3,821.3 447.5,821.3 449.7,821.3 451.9,821.3 454.1,821.3 456.3,821.3 458.5,821.3 460.6,821.3 462.8,821.3 465,821.3 467.2,821.3" fill="none" stroke="#86822e" stroke-width="1.9" stroke-linejoin="round" stroke-linecap="round"/>
<polyline points="141.6,1042.4 143.8,1040.5 146,1038.5 148.1,1036.5 150.3,1034.5 152.5,1032.5 154.7,1030.5 156.9,1028.5 159.1,1026.4 161.2,1024.3 163.4,1022.2 165.6,1020 167.8,1017.8 170,1015.5 172.2,1013.2 174.4,1010.8 176.5,1008.4 178.7,1005.8 180.9,1003.2 183.1,1000.5 185.3,997.8 187.5,994.9 189.7,991.9 191.8,988.9 194,985.7 196.2,982.4 198.4,979 200.6,975.5 202.8,971.9 205,968.2 207.1,964.4 209.3,960.4 211.5,956.4 213.7,952.2 215.9,948 218.1,943.6 220.3,939.2 222.4,934.7 224.6,930.1 226.8,925.4 229,920.7 231.2,915.9 233.4,911 235.6,906.1 237.7,901.2 239.9,896.2 242.1,891.1 244.3,886.1 246.5,881 248.7,875.9 250.8,870.9 253,865.9 255.2,860.9 257.4,856 259.6,851.3 261.8,846.8 264,842.6 266.1,838.8 268.3,835.4 270.5,832.5 272.7,830.2 274.9,828.3 277.1,826.9 279.3,825.9 281.4,825.2 283.6,824.6 285.8,824.3 288,824 290.2,823.9 292.4,823.8 294.6,823.7 296.7,823.6 298.9,823.6 301.1,823.6 303.3,823.6 305.5,823.6 307.7,823.5 309.9,823.5 312,823.5 314.2,823.5 316.4,823.5 318.6,823.5 320.8,823.5 323,823.5 325.2,823.5 327.3,823.5 329.5,823.5 331.7,823.5 333.9,823.5 336.1,823.5 338.3,823.5 340.4,823.5 342.6,823.5 344.8,823.5 347,823.5 349.2,823.5 351.4,823.5 353.6,823.5 355.7,823.5 357.9,823.5 360.1,823.5 362.3,823.5 364.5,823.5 366.7,823.5 368.9,823.5 371,823.5 373.2,823.5 375.4,823.5 377.6,823.5 379.8,823.5 382,823.5 384.2,823.5 386.3,823.5 388.5,823.5 390.7,823.5 392.9,823.5 395.1,823.5 397.3,823.5 399.5,823.5 401.6,823.5 403.8,823.5 406,823.5 408.2,823.5 410.4,823.5 412.6,823.5 414.8,823.5 416.9,823.5 419.1,823.5 421.3,823.5 423.5,823.5 425.7,823.5 427.9,823.5 430,823.5 432.2,823.5 434.4,823.5 436.6,823.5 438.8,823.5 441,823.5 443.2,823.5 445.3,823.5 447.5,823.5 449.7,823.5 451.9,823.5 454.1,823.5 456.3,823.5 458.5,823.5 460.6,823.5 462.8,823.5 465,823.5 467.2,823.5" fill="none" stroke="#86822e" stroke-width="1.9" stroke-linejoin="round" stroke-linecap="round"/>
<polyline points="141.6,1042.4 143.8,1040.5 146,1038.5 148.1,1036.6 150.3,1034.6 152.5,1032.6 154.7,1030.6 156.9,1028.6 159.1,1026.6 161.2,1024.5 163.4,1022.4 165.6,1020.3 167.8,1018.1 170,1015.9 172.2,1013.6 174.4,1011.3 176.5,1008.9 178.7,1006.4 180.9,1003.9 183.1,1001.2 185.3,998.5 187.5,995.7 189.7,992.8 191.8,989.9 194,986.8 196.2,983.6 198.4,980.3 200.6,976.9 202.8,973.3 205,969.7 207.1,965.9 209.3,962.1 211.5,958.1 213.7,954 215.9,949.9 218.1,945.6 220.3,941.2 222.4,936.8 224.6,932.3 226.8,927.6 229,923 231.2,918.2 233.4,913.4 235.6,908.5 237.7,903.6 239.9,898.6 242.1,893.6 244.3,888.6 246.5,883.6 248.7,878.5 250.8,873.5 253,868.5 255.2,863.5 257.4,858.7 259.6,854 261.8,849.4 264,845.2 266.1,841.3 268.3,837.9 270.5,835 272.7,832.6 274.9,830.7 277.1,829.2 279.3,828.2 281.4,827.4 283.6,826.9 285.8,826.5 288,826.3 290.2,826.1 292.4,826 294.6,825.9 296.7,825.8 298.9,825.8 301.1,825.8 303.3,825.8 305.5,825.8 307.7,825.7 309.9,825.7 312,825.7 314.2,825.7 316.4,825.7 318.6,825.7 320.8,825.7 323,825.7 325.2,825.7 327.3,825.7 329.5,825.7 331.7,825.7 333.9,825.7 336.1,825.7 338.3,825.7 340.4,825.7 342.6,825.7 344.8,825.7 347,825.7 349.2,825.7 351.4,825.7 353.6,825.7 355.7,825.7 357.9,825.7 360.1,825.7 362.3,825.7 364.5,825.7 366.7,825.7 368.9,825.7 371,825.7 373.2,825.7 375.4,825.7 377.6,825.7 379.8,825.7 382,825.7 384.2,825.7 386.3,825.7 388.5,825.7 390.7,825.7 392.9,825.7 395.1,825.7 397.3,825.7 399.5,825.7 401.6,825.7 403.8,825.7 406,825.7 408.2,825.7 410.4,825.7 412.6,825.7 414.8,825.7 416.9,825.7 419.1,825.7 421.3,825.7 423.5,825.7 425.7,825.7 427.9,825.7 430,825.7 432.2,825.7 434.4,825.7 436.6,825.7 438.8,825.7 441,825.7 443.2,825.7 445.3,825.7 447.5,825.7 449.7,825.7 451.9,825.7 454.1,825.7 456.3,825.7 458.5,825.7 460.6,825.7 462.8,825.7 465,825.7 467.2,825.7" fill="none" stroke="#86822e" stroke-width="1.9" stroke-linejoin="round" stroke-linecap="round"/>
<polyline points="141.6,1042.4 143.8,1040.5 146,1038.6 148.1,1036.6 150.3,1034.7 152.5,1032.7 154.7,1030.8 156.9,1028.8 159.1,1026.7 161.2,1024.7 163.4,1022.6 165.6,1020.5 167.8,1018.4 170,1016.2 172.2,1014 174.4,1011.7 176.5,1009.4 178.7,1006.9 180.9,1004.5 183.1,1001.9 185.3,999.3 187.5,996.5 189.7,993.7 191.8,990.8 194,987.8 196.2,984.7 198.4,981.5 200.6,978.1 202.8,974.7 205,971.1 207.1,967.5 209.3,963.7 211.5,959.8 213.7,955.8 215.9,951.7 218.1,947.5 220.3,943.2 222.4,938.8 224.6,934.4 226.8,929.8 229,925.2 231.2,920.5 233.4,915.7 235.6,910.9 237.7,906 239.9,901.1 242.1,896.1 244.3,891.1 246.5,886.1 248.7,881.1 250.8,876.1 253,871.1 255.2,866.1 257.4,861.2 259.6,856.5 261.8,851.9 264,847.7 266.1,843.7 268.3,840.2 270.5,837.1 272.7,834.6 274.9,832.6 277.1,831 279.3,829.9 281.4,829.1 283.6,828.5 285.8,828.1 288,827.8 290.2,827.6 292.4,827.5 294.6,827.4 296.7,827.3 298.9,827.3 301.1,827.2 303.3,827.2 305.5,827.2 307.7,827.2 309.9,827.2 312,827.2 314.2,827.2 316.4,827.2 318.6,827.2 320.8,827.2 323,827.2 325.2,827.2 327.3,827.2 329.5,827.2 331.7,827.2 333.9,827.2 336.1,827.2 338.3,827.2 340.4,827.2 342.6,827.2 344.8,827.2 347,827.2 349.2,827.2 351.4,827.2 353.6,827.2 355.7,827.2 357.9,827.2 360.1,827.2 362.3,827.2 364.5,827.2 366.7,827.2 368.9,827.2 371,827.2 373.2,827.2 375.4,827.2 377.6,827.2 379.8,827.2 382,827.2 384.2,827.2 386.3,827.2 388.5,827.2 390.7,827.2 392.9,827.2 395.1,827.2 397.3,827.2 399.5,827.2 401.6,827.2 403.8,827.2 406,827.2 408.2,827.2 410.4,827.2 412.6,827.2 414.8,827.2 416.9,827.2 419.1,827.2 421.3,827.2 423.5,827.2 425.7,827.2 427.9,827.2 430,827.2 432.2,827.2 434.4,827.2 436.6,827.2 438.8,827.2 441,827.2 443.2,827.2 445.3,827.2 447.5,827.2 449.7,827.2 451.9,827.2 454.1,827.2 456.3,827.2 458.5,827.2 460.6,827.2 462.8,827.2 465,827.2 467.2,827.2" fill="none" stroke="#86822e" stroke-width="1.9" stroke-linejoin="round" stroke-linecap="round"/>
<polyline points="141.6,1042.4 143.8,1040.1 146,1037.8 148.1,1035.4 150.3,1033 152.5,1030.5 154.7,1027.9 156.9,1025.3 159.1,1022.6 161.2,1019.9 163.4,1017 165.6,1014.1 167.8,1011.1 170,1007.9 172.2,1004.7 174.4,1001.4 176.5,997.9 178.7,994.4 180.9,990.7 183.1,987 185.3,983.1 187.5,979.1 189.7,975 191.8,970.8 194,966.5 196.2,962.1 198.4,957.6 200.6,953.1 202.8,948.4 205,943.7 207.1,938.9 209.3,934 211.5,929.1 213.7,924.1 215.9,919.1 218.1,914 220.3,908.9 222.4,903.8 224.6,898.7 226.8,893.5 229,888.4 231.2,883.3 233.4,878.2 235.6,873.3 237.7,868.4 239.9,863.6 242.1,859.1 244.3,854.8 246.5,850.8 248.7,847.1 250.8,843.9 253,841 255.2,838.6 257.4,836.7 259.6,835.1 261.8,833.9 264,832.9 266.1,832.2 268.3,831.6 270.5,831.2 272.7,830.9 274.9,830.7 277.1,830.5 279.3,830.4 281.4,830.3 283.6,830.3 285.8,830.2 288,830.2 290.2,830.2 292.4,830.2 294.6,830.2 296.7,830.1 298.9,830.1 301.1,830.1 303.3,830.1 305.5,830.1 307.7,830.1 309.9,830.1 312,830.1 314.2,830.1 316.4,830.1 318.6,830.1 320.8,830.1 323,830.1 325.2,830.1 327.3,830.1 329.5,830.1 331.7,830.1 333.9,830.1 336.1,830.1 338.3,830.1 340.4,830.1 342.6,830.1 344.8,830.1 347,830.1 349.2,830.1 351.4,830.1 353.6,830.1 355.7,830.1 357.9,830.1 360.1,830.1 362.3,830.1 364.5,830.1 366.7,830.1 368.9,830.1 371,830.1 373.2,830.1 375.4,830.1 377.6,830.1 379.8,830.1 382,830.1 384.2,830.1 386.3,830.1 388.5,830.1 390.7,830.1 392.9,830.1 395.1,830.1 397.3,830.1 399.5,830.1 401.6,830.1 403.8,830.1 406,830.1 408.2,830.1 410.4,830.1 412.6,830.1 414.8,830.1 416.9,830.1 419.1,830.1 421.3,830.1 423.5,830.1 425.7,830.1 427.9,830.1 430,830.1 432.2,830.1 434.4,830.1 436.6,830.1 438.8,830.1 441,830.1 443.2,830.1 445.3,830.1 447.5,830.1 449.7,830.1 451.9,830.1 454.1,830.1 456.3,830.1 458.5,830.1 460.6,830.1 462.8,830.1 465,830.1 467.2,830.1" fill="none" stroke="#0808ee" stroke-width="1.9" stroke-linejoin="round" stroke-linecap="round"/>
<polyline points="141.6,1042.4 143.8,1040.1 146,1037.9 148.1,1035.5 150.3,1033.1 152.5,1030.7 154.7,1028.2 156.9,1025.6 159.1,1023 161.2,1020.3 163.4,1017.5 165.6,1014.7 167.8,1011.7 170,1008.6 172.2,1005.5 174.4,1002.2 176.5,998.9 178.7,995.4 180.9,991.8 183.1,988.1 185.3,984.3 187.5,980.4 189.7,976.4 191.8,972.3 194,968.1 196.2,963.7 198.4,959.3 200.6,954.8 202.8,950.2 205,945.6 207.1,940.8 209.3,936 211.5,931.1 213.7,926.2 215.9,921.2 218.1,916.2 220.3,911.1 222.4,906 224.6,900.9 226.8,895.8 229,890.7 231.2,885.6 233.4,880.6 235.6,875.6 237.7,870.7 239.9,866 242.1,861.4 244.3,857.1 246.5,853.1 248.7,849.5 250.8,846.2 253,843.4 255.2,840.9 257.4,839 259.6,837.4 261.8,836.1 264,835.1 266.1,834.4 268.3,833.8 270.5,833.4 272.7,833.1 274.9,832.9 277.1,832.7 279.3,832.6 281.4,832.5 283.6,832.5 285.8,832.4 288,832.4 290.2,832.4 292.4,832.4 294.6,832.3 296.7,832.3 298.9,832.3 301.1,832.3 303.3,832.3 305.5,832.3 307.7,832.3 309.9,832.3 312,832.3 314.2,832.3 316.4,832.3 318.6,832.3 320.8,832.3 323,832.3 325.2,832.3 327.3,832.3 329.5,832.3 331.7,832.3 333.9,832.3 336.1,832.3 338.3,832.3 340.4,832.3 342.6,832.3 344.8,832.3 347,832.3 349.2,832.3 351.4,832.3 353.6,832.3 355.7,832.3 357.9,832.3 360.1,832.3 362.3,832.3 364.5,832.3 366.7,832.3 368.9,832.3 371,832.3 373.2,832.3 375.4,832.3 377.6,832.3 379.8,832.3 382,832.3 384.2,832.3 386.3,832.3 388.5,832.3 390.7,832.3 392.9,832.3 395.1,832.3 397.3,832.3 399.5,832.3 401.6,832.3 403.8,832.3 406,832.3 408.2,832.3 410.4,832.3 412.6,832.3 414.8,832.3 416.9,832.3 419.1,832.3 421.3,832.3 423.5,832.3 425.7,832.3 427.9,832.3 430,832.3 432.2,832.3 434.4,832.3 436.6,832.3 438.8,832.3 441,832.3 443.2,832.3 445.3,832.3 447.5,832.3 449.7,832.3 451.9,832.3 454.1,832.3 456.3,832.3 458.5,832.3 460.6,832.3 462.8,832.3 465,832.3 467.2,832.3" fill="none" stroke="#0808ee" stroke-width="1.9" stroke-linejoin="round" stroke-linecap="round"/>
<polyline points="141.6,1042.4 143.8,1040.2 146,1037.9 148.1,1035.6 150.3,1033.3 152.5,1030.9 154.7,1028.4 156.9,1025.9 159.1,1023.3 161.2,1020.7 163.4,1018 165.6,1015.2 167.8,1012.3 170,1009.3 172.2,1006.2 174.4,1003 176.5,999.7 178.7,996.3 180.9,992.8 183.1,989.2 185.3,985.5 187.5,981.6 189.7,977.7 191.8,973.7 194,969.5 196.2,965.2 198.4,960.9 200.6,956.4 202.8,951.9 205,947.3 207.1,942.6 209.3,937.8 211.5,933 213.7,928.1 215.9,923.2 218.1,918.2 220.3,913.2 222.4,908.1 224.6,903.1 226.8,898 229,893 231.2,888 233.4,883 235.6,878.2 237.7,873.4 239.9,868.9 242.1,864.5 244.3,860.5 246.5,856.7 248.7,853.4 250.8,850.5 253,848 255.2,845.9 257.4,844.2 259.6,842.9 261.8,841.9 264,841.1 266.1,840.5 268.3,840.1 270.5,839.8 272.7,839.5 274.9,839.4 277.1,839.2 279.3,839.1 281.4,839.1 283.6,839 285.8,839 288,839 290.2,839 292.4,838.9 294.6,838.9 296.7,838.9 298.9,838.9 301.1,838.9 303.3,838.9 305.5,838.9 307.7,838.9 309.9,838.9 312,838.9 314.2,838.9 316.4,838.9 318.6,838.9 320.8,838.9 323,838.9 325.2,838.9 327.3,838.9 329.5,838.9 331.7,838.9 333.9,838.9 336.1,838.9 338.3,838.9 340.4,838.9 342.6,838.9 344.8,838.9 347,838.9 349.2,838.9 351.4,838.9 353.6,838.9 355.7,838.9 357.9,838.9 360.1,838.9 362.3,838.9 364.5,838.9 366.7,838.9 368.9,838.9 371,838.9 373.2,838.9 375.4,838.9 377.6,838.9 379.8,838.9 382,838.9 384.2,838.9 386.3,838.9 388.5,838.9 390.7,838.9 392.9,838.9 395.1,838.9 397.3,838.9 399.5,838.9 401.6,838.9 403.8,838.9 406,838.9 408.2,838.9 410.4,838.9 412.6,838.9 414.8,838.9 416.9,838.9 419.1,838.9 421.3,838.9 423.5,838.9 425.7,838.9 427.9,838.9 430,838.9 432.2,838.9 434.4,838.9 436.6,838.9 438.8,838.9 441,838.9 443.2,838.9 445.3,838.9 447.5,838.9 449.7,838.9 451.9,838.9 454.1,838.9 456.3,838.9 458.5,838.9 460.6,838.9 462.8,838.9 465,838.9 467.2,838.9" fill="none" stroke="#0808ee" stroke-width="1.9" stroke-linejoin="round" stroke-linecap="round"/>
<polyline points="141.6,1042.4 143.8,1040.2 146,1038 148.1,1035.8 150.3,1033.5 152.5,1031.1 154.7,1028.7 156.9,1026.3 159.1,1023.8 161.2,1021.2 163.4,1018.6 165.6,1015.9 167.8,1013.1 170,1010.2 172.2,1007.2 174.4,1004.1 176.5,1000.9 178.7,997.7 180.9,994.3 183.1,990.8 185.3,987.2 187.5,983.4 189.7,979.6 191.8,975.7 194,971.6 196.2,967.5 198.4,963.2 200.6,958.9 202.8,954.4 205,949.9 207.1,945.3 209.3,940.6 211.5,935.8 213.7,931 215.9,926.1 218.1,921.2 220.3,916.2 222.4,911.2 224.6,906.2 226.8,901.1 229,896 231.2,891 233.4,886 235.6,881 237.7,876.1 239.9,871.3 242.1,866.7 244.3,862.3 246.5,858.1 248.7,854.3 250.8,850.8 253,847.8 255.2,845.1 257.4,842.9 259.6,841.1 261.8,839.7 264,838.6 266.1,837.7 268.3,837.1 270.5,836.6 272.7,836.2 274.9,836 277.1,835.8 279.3,835.6 281.4,835.5 283.6,835.4 285.8,835.4 288,835.3 290.2,835.3 292.4,835.3 294.6,835.3 296.7,835.3 298.9,835.3 301.1,835.3 303.3,835.3 305.5,835.3 307.7,835.2 309.9,835.2 312,835.2 314.2,835.2 316.4,835.2 318.6,835.2 320.8,835.2 323,835.2 325.2,835.2 327.3,835.2 329.5,835.2 331.7,835.2 333.9,835.2 336.1,835.2 338.3,835.2 340.4,835.2 342.6,835.2 344.8,835.2 347,835.2 349.2,835.2 351.4,835.2 353.6,835.2 355.7,835.2 357.9,835.2 360.1,835.2 362.3,835.2 364.5,835.2 366.7,835.2 368.9,835.2 371,835.2 373.2,835.2 375.4,835.2 377.6,835.2 379.8,835.2 382,835.2 384.2,835.2 386.3,835.2 388.5,835.2 390.7,835.2 392.9,835.2 395.1,835.2 397.3,835.2 399.5,835.2 401.6,835.2 403.8,835.2 406,835.2 408.2,835.2 410.4,835.2 412.6,835.2 414.8,835.2 416.9,835.2 419.1,835.2 421.3,835.2 423.5,835.2 425.7,835.2 427.9,835.2 430,835.2 432.2,835.2 434.4,835.2 436.6,835.2 438.8,835.2 441,835.2 443.2,835.2 445.3,835.2 447.5,835.2 449.7,835.2 451.9,835.2 454.1,835.2 456.3,835.2 458.5,835.2 460.6,835.2 462.8,835.2 465,835.2 467.2,835.2" fill="none" stroke="#0808ee" stroke-width="1.9" stroke-linejoin="round" stroke-linecap="round"/>
<polyline points="141.6,1042.4 143.8,1038.9 146,1035.2 148.1,1031.5 150.3,1027.6 152.5,1023.7 154.7,1019.6 156.9,1015.5 159.1,1011.2 161.2,1006.8 163.4,1002.3 165.6,997.7 167.8,993.1 170,988.3 172.2,983.5 174.4,978.6 176.5,973.6 178.7,968.6 180.9,963.5 183.1,958.3 185.3,953.1 187.5,947.8 189.7,942.6 191.8,937.2 194,931.9 196.2,926.5 198.4,921.1 200.6,915.7 202.8,910.3 205,904.8 207.1,899.4 209.3,894 211.5,888.6 213.7,883.2 215.9,877.9 218.1,872.6 220.3,867.4 222.4,862.3 224.6,857.4 226.8,852.6 229,848 231.2,843.6 233.4,839.5 235.6,835.7 237.7,832.3 239.9,829.3 242.1,826.6 244.3,824.3 246.5,822.4 248.7,820.8 250.8,819.5 253,818.4 255.2,817.6 257.4,817 259.6,816.4 261.8,816.1 264,815.7 266.1,815.5 268.3,815.3 270.5,815.2 272.7,815.1 274.9,815 277.1,814.9 279.3,814.9 281.4,814.9 283.6,814.8 285.8,814.8 288,814.8 290.2,814.8 292.4,814.8 294.6,814.8 296.7,814.8 298.9,814.8 301.1,814.8 303.3,814.8 305.5,814.8 307.7,814.8 309.9,814.8 312,814.8 314.2,814.8 316.4,814.7 318.6,814.7 320.8,814.7 323,814.7 325.2,814.7 327.3,814.7 329.5,814.7 331.7,814.7 333.9,814.7 336.1,814.7 338.3,814.7 340.4,814.7 342.6,814.7 344.8,814.7 347,814.7 349.2,814.7 351.4,814.7 353.6,814.7 355.7,814.7 357.9,814.7 360.1,814.7 362.3,814.7 364.5,814.7 366.7,814.7 368.9,814.7 371,814.7 373.2,814.7 375.4,814.7 377.6,814.7 379.8,814.7 382,814.7 384.2,814.7 386.3,814.7 388.5,814.7 390.7,814.7 392.9,814.7 395.1,814.7 397.3,814.7 399.5,814.7 401.6,814.7 403.8,814.7 406,814.7 408.2,814.7 410.4,814.7 412.6,814.7 414.8,814.7 416.9,814.7 419.1,814.7 421.3,814.7 423.5,814.7 425.7,814.7 427.9,814.7 430,814.7 432.2,814.7 434.4,814.7 436.6,814.7 438.8,814.7 441,814.7 443.2,814.7 445.3,814.7 447.5,814.7 449.7,814.7 451.9,814.7 454.1,814.7 456.3,814.7 458.5,814.7 460.6,814.7 462.8,814.7 465,814.7 467.2,814.7" fill="none" stroke="#ff6208" stroke-width="1.9" stroke-linejoin="round" stroke-linecap="round"/>
<polyline points="141.6,1042.4 143.8,1039.1 146,1035.7 148.1,1032.2 150.3,1028.6 152.5,1024.9 154.7,1021.1 156.9,1017.1 159.1,1013.1 161.2,1008.9 163.4,1004.7 165.6,1000.3 167.8,995.9 170,991.3 172.2,986.7 174.4,982 176.5,977.2 178.7,972.3 180.9,967.3 183.1,962.3 185.3,957.2 187.5,952.1 189.7,946.9 191.8,941.7 194,936.4 196.2,931.2 198.4,925.8 200.6,920.5 202.8,915.1 205,909.8 207.1,904.4 209.3,899 211.5,893.7 213.7,888.4 215.9,883.1 218.1,877.8 220.3,872.7 222.4,867.6 224.6,862.7 226.8,857.9 229,853.4 231.2,849 233.4,845 235.6,841.3 237.7,837.9 239.9,834.9 242.1,832.2 244.3,830 246.5,828.1 248.7,826.5 250.8,825.2 253,824.2 255.2,823.4 257.4,822.8 259.6,822.3 261.8,821.9 264,821.6 266.1,821.4 268.3,821.2 270.5,821 272.7,820.9 274.9,820.9 277.1,820.8 279.3,820.8 281.4,820.7 283.6,820.7 285.8,820.7 288,820.7 290.2,820.6 292.4,820.6 294.6,820.6 296.7,820.6 298.9,820.6 301.1,820.6 303.3,820.6 305.5,820.6 307.7,820.6 309.9,820.6 312,820.6 314.2,820.6 316.4,820.6 318.6,820.6 320.8,820.6 323,820.6 325.2,820.6 327.3,820.6 329.5,820.6 331.7,820.6 333.9,820.6 336.1,820.6 338.3,820.6 340.4,820.6 342.6,820.6 344.8,820.6 347,820.6 349.2,820.6 351.4,820.6 353.6,820.6 355.7,820.6 357.9,820.6 360.1,820.6 362.3,820.6 364.5,820.6 366.7,820.6 368.9,820.6 371,820.6 373.2,820.6 375.4,820.6 377.6,820.6 379.8,820.6 382,820.6 384.2,820.6 386.3,820.6 388.5,820.6 390.7,820.6 392.9,820.6 395.1,820.6 397.3,820.6 399.5,820.6 401.6,820.6 403.8,820.6 406,820.6 408.2,820.6 410.4,820.6 412.6,820.6 414.8,820.6 416.9,820.6 419.1,820.6 421.3,820.6 423.5,820.6 425.7,820.6 427.9,820.6 430,820.6 432.2,820.6 434.4,820.6 436.6,820.6 438.8,820.6 441,820.6 443.2,820.6 445.3,820.6 447.5,820.6 449.7,820.6 451.9,820.6 454.1,820.6 456.3,820.6 458.5,820.6 460.6,820.6 462.8,820.6 465,820.6 467.2,820.6" fill="none" stroke="#ff6208" stroke-width="1.9" stroke-linejoin="round" stroke-linecap="round"/>
<polyline points="141.6,1042.4 143.8,1039.3 146,1036 148.1,1032.7 150.3,1029.2 152.5,1025.7 154.7,1022 156.9,1018.2 159.1,1014.4 161.2,1010.4 163.4,1006.3 165.6,1002.1 167.8,997.8 170,993.4 172.2,988.9 174.4,984.3 176.5,979.6 178.7,974.9 180.9,970 183.1,965.1 185.3,960.2 187.5,955.1 189.7,950 191.8,944.9 194,939.7 196.2,934.5 198.4,929.2 200.6,924 202.8,918.7 205,913.4 207.1,908.1 209.3,902.8 211.5,897.5 213.7,892.2 215.9,887.1 218.1,881.9 220.3,876.9 222.4,872 224.6,867.3 226.8,862.7 229,858.4 231.2,854.4 233.4,850.7 235.6,847.3 237.7,844.3 239.9,841.7 242.1,839.4 244.3,837.5 246.5,836 248.7,834.7 250.8,833.7 253,832.9 255.2,832.3 257.4,831.8 259.6,831.4 261.8,831.1 264,830.9 266.1,830.7 268.3,830.6 270.5,830.4 272.7,830.4 274.9,830.3 277.1,830.3 279.3,830.2 281.4,830.2 283.6,830.2 285.8,830.2 288,830.2 290.2,830.1 292.4,830.1 294.6,830.1 296.7,830.1 298.9,830.1 301.1,830.1 303.3,830.1 305.5,830.1 307.7,830.1 309.9,830.1 312,830.1 314.2,830.1 316.4,830.1 318.6,830.1 320.8,830.1 323,830.1 325.2,830.1 327.3,830.1 329.5,830.1 331.7,830.1 333.9,830.1 336.1,830.1 338.3,830.1 340.4,830.1 342.6,830.1 344.8,830.1 347,830.1 349.2,830.1 351.4,830.1 353.6,830.1 355.7,830.1 357.9,830.1 360.1,830.1 362.3,830.1 364.5,830.1 366.7,830.1 368.9,830.1 371,830.1 373.2,830.1 375.4,830.1 377.6,830.1 379.8,830.1 382,830.1 384.2,830.1 386.3,830.1 388.5,830.1 390.7,830.1 392.9,830.1 395.1,830.1 397.3,830.1 399.5,830.1 401.6,830.1 403.8,830.1 406,830.1 408.2,830.1 410.4,830.1 412.6,830.1 414.8,830.1 416.9,830.1 419.1,830.1 421.3,830.1 423.5,830.1 425.7,830.1 427.9,830.1 430,830.1 432.2,830.1 434.4,830.1 436.6,830.1 438.8,830.1 441,830.1 443.2,830.1 445.3,830.1 447.5,830.1 449.7,830.1 451.9,830.1 454.1,830.1 456.3,830.1 458.5,830.1 460.6,830.1 462.8,830.1 465,830.1 467.2,830.1" fill="none" stroke="#ff6208" stroke-width="1.9" stroke-linejoin="round" stroke-linecap="round"/>
<polyline points="141.6,1042.4 143.8,1039.4 146,1036.3 148.1,1033.1 150.3,1029.8 152.5,1026.4 154.7,1022.9 156.9,1019.2 159.1,1015.5 161.2,1011.7 163.4,1007.7 165.6,1003.7 167.8,999.5 170,995.3 172.2,990.9 174.4,986.5 176.5,981.9 178.7,977.3 180.9,972.6 183.1,967.8 185.3,962.9 187.5,957.9 189.7,952.9 191.8,947.9 194,942.8 196.2,937.6 198.4,932.4 200.6,927.2 202.8,922 205,916.7 207.1,911.4 209.3,906.2 211.5,900.9 213.7,895.7 215.9,890.5 218.1,885.4 220.3,880.4 222.4,875.5 224.6,870.8 226.8,866.2 229,861.9 231.2,857.8 233.4,854.1 235.6,850.7 237.7,847.6 239.9,844.9 242.1,842.7 244.3,840.7 246.5,839.1 248.7,837.8 250.8,836.8 253,835.9 255.2,835.3 257.4,834.8 259.6,834.4 261.8,834.1 264,833.8 266.1,833.6 268.3,833.5 270.5,833.4 272.7,833.3 274.9,833.2 277.1,833.2 279.3,833.2 281.4,833.1 283.6,833.1 285.8,833.1 288,833.1 290.2,833.1 292.4,833.1 294.6,833.1 296.7,833.1 298.9,833.1 301.1,833.1 303.3,833.1 305.5,833.1 307.7,833.1 309.9,833.1 312,833.1 314.2,833 316.4,833 318.6,833 320.8,833 323,833 325.2,833 327.3,833 329.5,833 331.7,833 333.9,833 336.1,833 338.3,833 340.4,833 342.6,833 344.8,833 347,833 349.2,833 351.4,833 353.6,833 355.7,833 357.9,833 360.1,833 362.3,833 364.5,833 366.7,833 368.9,833 371,833 373.2,833 375.4,833 377.6,833 379.8,833 382,833 384.2,833 386.3,833 388.5,833 390.7,833 392.9,833 395.1,833 397.3,833 399.5,833 401.6,833 403.8,833 406,833 408.2,833 410.4,833 412.6,833 414.8,833 416.9,833 419.1,833 421.3,833 423.5,833 425.7,833 427.9,833 430,833 432.2,833 434.4,833 436.6,833 438.8,833 441,833 443.2,833 445.3,833 447.5,833 449.7,833 451.9,833 454.1,833 456.3,833 458.5,833 460.6,833 462.8,833 465,833 467.2,833" fill="none" stroke="#ff6208" stroke-width="1.9" stroke-linejoin="round" stroke-linecap="round"/>
<polyline points="141.6,1042.4 143.8,1037.5 146,1032.5 148.1,1027.4 150.3,1022.3 152.5,1017.1 154.7,1011.8 156.9,1006.5 159.1,1001.1 161.2,995.7 163.4,990.3 165.6,984.8 167.8,979.3 170,973.7 172.2,968.2 174.4,962.6 176.5,957 178.7,951.4 180.9,945.8 183.1,940.2 185.3,934.6 187.5,929 189.7,923.4 191.8,917.9 194,912.4 196.2,906.9 198.4,901.5 200.6,896.2 202.8,891 205,885.9 207.1,880.9 209.3,876.2 211.5,871.6 213.7,867.3 215.9,863.2 218.1,859.5 220.3,856.1 222.4,853.1 224.6,850.4 226.8,848.1 229,846.1 231.2,844.4 233.4,843.1 235.6,841.9 237.7,841 239.9,840.3 242.1,839.7 244.3,839.2 246.5,838.8 248.7,838.5 250.8,838.3 253,838.1 255.2,838 257.4,837.8 259.6,837.8 261.8,837.7 264,837.6 266.1,837.6 268.3,837.6 270.5,837.5 272.7,837.5 274.9,837.5 277.1,837.5 279.3,837.5 281.4,837.5 283.6,837.5 285.8,837.5 288,837.5 290.2,837.5 292.4,837.4 294.6,837.4 296.7,837.4 298.9,837.4 301.1,837.4 303.3,837.4 305.5,837.4 307.7,837.4 309.9,837.4 312,837.4 314.2,837.4 316.4,837.4 318.6,837.4 320.8,837.4 323,837.4 325.2,837.4 327.3,837.4 329.5,837.4 331.7,837.4 333.9,837.4 336.1,837.4 338.3,837.4 340.4,837.4 342.6,837.4 344.8,837.4 347,837.4 349.2,837.4 351.4,837.4 353.6,837.4 355.7,837.4 357.9,837.4 360.1,837.4 362.3,837.4 364.5,837.4 366.7,837.4 368.9,837.4 371,837.4 373.2,837.4 375.4,837.4 377.6,837.4 379.8,837.4 382,837.4 384.2,837.4 386.3,837.4 388.5,837.4 390.7,837.4 392.9,837.4 395.1,837.4 397.3,837.4 399.5,837.4 401.6,837.4 403.8,837.4 406,837.4 408.2,837.4 410.4,837.4 412.6,837.4 414.8,837.4 416.9,837.4 419.1,837.4 421.3,837.4 423.5,837.4 425.7,837.4 427.9,837.4 430,837.4 432.2,837.4 434.4,837.4 436.6,837.4 438.8,837.4 441,837.4 443.2,837.4 445.3,837.4 447.5,837.4 449.7,837.4 451.9,837.4 454.1,837.4 456.3,837.4 458.5,837.4 460.6,837.4 462.8,837.4 465,837.4 467.2,837.4" fill="none" stroke="#4d9cf0" stroke-width="1.9" stroke-linejoin="round" stroke-linecap="round"/>
<polyline points="141.6,1042.4 143.8,1037.7 146,1032.9 148.1,1028.1 150.3,1023.1 152.5,1018.1 154.7,1013 156.9,1007.8 159.1,1002.6 161.2,997.4 163.4,992 165.6,986.7 167.8,981.2 170,975.8 172.2,970.3 174.4,964.8 176.5,959.3 178.7,953.8 180.9,948.2 183.1,942.7 185.3,937.1 187.5,931.6 189.7,926.1 191.8,920.6 194,915.1 196.2,909.7 198.4,904.4 200.6,899.1 202.8,893.9 205,888.9 207.1,884 209.3,879.2 211.5,874.8 213.7,870.5 215.9,866.6 218.1,862.9 220.3,859.6 222.4,856.7 224.6,854.1 226.8,851.9 229,850 231.2,848.4 233.4,847.1 235.6,846 237.7,845.2 239.9,844.5 242.1,843.9 244.3,843.5 246.5,843.1 248.7,842.8 250.8,842.6 253,842.4 255.2,842.3 257.4,842.2 259.6,842.1 261.8,842.1 264,842 266.1,842 268.3,841.9 270.5,841.9 272.7,841.9 274.9,841.9 277.1,841.9 279.3,841.9 281.4,841.9 283.6,841.9 285.8,841.8 288,841.8 290.2,841.8 292.4,841.8 294.6,841.8 296.7,841.8 298.9,841.8 301.1,841.8 303.3,841.8 305.5,841.8 307.7,841.8 309.9,841.8 312,841.8 314.2,841.8 316.4,841.8 318.6,841.8 320.8,841.8 323,841.8 325.2,841.8 327.3,841.8 329.5,841.8 331.7,841.8 333.9,841.8 336.1,841.8 338.3,841.8 340.4,841.8 342.6,841.8 344.8,841.8 347,841.8 349.2,841.8 351.4,841.8 353.6,841.8 355.7,841.8 357.9,841.8 360.1,841.8 362.3,841.8 364.5,841.8 366.7,841.8 368.9,841.8 371,841.8 373.2,841.8 375.4,841.8 377.6,841.8 379.8,841.8 382,841.8 384.2,841.8 386.3,841.8 388.5,841.8 390.7,841.8 392.9,841.8 395.1,841.8 397.3,841.8 399.5,841.8 401.6,841.8 403.8,841.8 406,841.8 408.2,841.8 410.4,841.8 412.6,841.8 414.8,841.8 416.9,841.8 419.1,841.8 421.3,841.8 423.5,841.8 425.7,841.8 427.9,841.8 430,841.8 432.2,841.8 434.4,841.8 436.6,841.8 438.8,841.8 441,841.8 443.2,841.8 445.3,841.8 447.5,841.8 449.7,841.8 451.9,841.8 454.1,841.8 456.3,841.8 458.5,841.8 460.6,841.8 462.8,841.8 465,841.8 467.2,841.8" fill="none" stroke="#4d9cf0" stroke-width="1.9" stroke-linejoin="round" stroke-linecap="round"/>
<polyline points="141.6,1042.4 143.8,1038 146,1033.6 148.1,1029 150.3,1024.4 152.5,1019.6 154.7,1014.8 156.9,1009.9 159.1,1004.9 161.2,999.8 163.4,994.7 165.6,989.5 167.8,984.2 170,979 172.2,973.6 174.4,968.3 176.5,962.9 178.7,957.4 180.9,952 183.1,946.5 185.3,941.1 187.5,935.6 189.7,930.1 191.8,924.7 194,919.3 196.2,913.9 198.4,908.6 200.6,903.3 202.8,898.1 205,893.1 207.1,888.2 209.3,883.4 211.5,878.9 213.7,874.6 215.9,870.6 218.1,866.9 220.3,863.5 222.4,860.5 224.6,857.8 226.8,855.5 229,853.5 231.2,851.8 233.4,850.4 235.6,849.3 237.7,848.3 239.9,847.6 242.1,847 244.3,846.5 246.5,846.1 248.7,845.8 250.8,845.6 253,845.4 255.2,845.3 257.4,845.2 259.6,845.1 261.8,845 264,845 266.1,844.9 268.3,844.9 270.5,844.9 272.7,844.8 274.9,844.8 277.1,844.8 279.3,844.8 281.4,844.8 283.6,844.8 285.8,844.8 288,844.8 290.2,844.8 292.4,844.8 294.6,844.8 296.7,844.8 298.9,844.8 301.1,844.8 303.3,844.8 305.5,844.8 307.7,844.8 309.9,844.8 312,844.8 314.2,844.8 316.4,844.8 318.6,844.8 320.8,844.8 323,844.8 325.2,844.8 327.3,844.8 329.5,844.8 331.7,844.8 333.9,844.8 336.1,844.8 338.3,844.8 340.4,844.8 342.6,844.8 344.8,844.8 347,844.8 349.2,844.8 351.4,844.8 353.6,844.8 355.7,844.8 357.9,844.8 360.1,844.8 362.3,844.8 364.5,844.8 366.7,844.8 368.9,844.8 371,844.8 373.2,844.8 375.4,844.8 377.6,844.8 379.8,844.8 382,844.8 384.2,844.8 386.3,844.8 388.5,844.8 390.7,844.8 392.9,844.8 395.1,844.8 397.3,844.8 399.5,844.8 401.6,844.8 403.8,844.8 406,844.8 408.2,844.8 410.4,844.8 412.6,844.8 414.8,844.8 416.9,844.8 419.1,844.8 421.3,844.8 423.5,844.8 425.7,844.8 427.9,844.8 430,844.8 432.2,844.8 434.4,844.8 436.6,844.8 438.8,844.8 441,844.8 443.2,844.8 445.3,844.8 447.5,844.8 449.7,844.8 451.9,844.8 454.1,844.8 456.3,844.8 458.5,844.8 460.6,844.8 462.8,844.8 465,844.8 467.2,844.8" fill="none" stroke="#4d9cf0" stroke-width="1.9" stroke-linejoin="round" stroke-linecap="round"/>
<polyline points="141.6,1042.4 143.8,1038.3 146,1034.1 148.1,1029.9 150.3,1025.5 152.5,1021 154.7,1016.4 156.9,1011.7 159.1,1006.9 161.2,1002.1 163.4,997.1 165.6,992.1 167.8,987.1 170,981.9 172.2,976.8 174.4,971.5 176.5,966.3 178.7,961 180.9,955.6 183.1,950.2 185.3,944.9 187.5,939.5 189.7,934.1 191.8,928.7 194,923.3 196.2,918 198.4,912.7 200.6,907.4 202.8,902.3 205,897.2 207.1,892.3 209.3,887.5 211.5,883 213.7,878.6 215.9,874.6 218.1,870.8 220.3,867.3 222.4,864.2 224.6,861.4 226.8,859 229,856.9 231.2,855.2 233.4,853.7 235.6,852.5 237.7,851.5 239.9,850.7 242.1,850.1 244.3,849.6 246.5,849.2 248.7,848.9 250.8,848.6 253,848.4 255.2,848.2 257.4,848.1 259.6,848 261.8,848 264,847.9 266.1,847.9 268.3,847.8 270.5,847.8 272.7,847.8 274.9,847.7 277.1,847.7 279.3,847.7 281.4,847.7 283.6,847.7 285.8,847.7 288,847.7 290.2,847.7 292.4,847.7 294.6,847.7 296.7,847.7 298.9,847.7 301.1,847.7 303.3,847.7 305.5,847.7 307.7,847.7 309.9,847.7 312,847.7 314.2,847.7 316.4,847.7 318.6,847.7 320.8,847.7 323,847.7 325.2,847.7 327.3,847.7 329.5,847.7 331.7,847.7 333.9,847.7 336.1,847.7 338.3,847.7 340.4,847.7 342.6,847.7 344.8,847.7 347,847.7 349.2,847.7 351.4,847.7 353.6,847.7 355.7,847.7 357.9,847.7 360.1,847.7 362.3,847.7 364.5,847.7 366.7,847.7 368.9,847.7 371,847.7 373.2,847.7 375.4,847.7 377.6,847.7 379.8,847.7 382,847.7 384.2,847.7 386.3,847.7 388.5,847.7 390.7,847.7 392.9,847.7 395.1,847.7 397.3,847.7 399.5,847.7 401.6,847.7 403.8,847.7 406,847.7 408.2,847.7 410.4,847.7 412.6,847.7 414.8,847.7 416.9,847.7 419.1,847.7 421.3,847.7 423.5,847.7 425.7,847.7 427.9,847.7 430,847.7 432.2,847.7 434.4,847.7 436.6,847.7 438.8,847.7 441,847.7 443.2,847.7 445.3,847.7 447.5,847.7 449.7,847.7 451.9,847.7 454.1,847.7 456.3,847.7 458.5,847.7 460.6,847.7 462.8,847.7 465,847.7 467.2,847.7" fill="none" stroke="#4d9cf0" stroke-width="1.9" stroke-linejoin="round" stroke-linecap="round"/>
<line x1="105.4" y1="896" x2="464" y2="896" stroke="#000" stroke-width="2.3" stroke-dasharray="7.6 5.3"/>
<line x1="104.4" y1="1042.4" x2="468.2" y2="1042.4" stroke="#000" stroke-width="2.4"/>
<line x1="105.4" y1="785.2" x2="105.4" y2="1042.4" stroke="#000" stroke-width="2"/>
<line x1="105.4" y1="1042.4" x2="105.4" y2="1050.4" stroke="#000" stroke-width="2"/>
<text x="105" y="1070.9" font-size="19.6" text-anchor="middle" font-weight="bold" textLength="9.6" lengthAdjust="spacingAndGlyphs">0</text>
<line x1="165.7" y1="1042.4" x2="165.7" y2="1050.4" stroke="#000" stroke-width="2"/>
<text x="165.3" y="1070.9" font-size="19.6" text-anchor="middle" font-weight="bold" textLength="9.6" lengthAdjust="spacingAndGlyphs">5</text>
<line x1="226" y1="1042.4" x2="226" y2="1050.4" stroke="#000" stroke-width="2"/>
<text x="225.6" y="1070.9" font-size="19.6" text-anchor="middle" font-weight="bold" textLength="18.8" lengthAdjust="spacingAndGlyphs">10</text>
<line x1="286.3" y1="1042.4" x2="286.3" y2="1050.4" stroke="#000" stroke-width="2"/>
<text x="285.9" y="1070.9" font-size="19.6" text-anchor="middle" font-weight="bold" textLength="18.8" lengthAdjust="spacingAndGlyphs">15</text>
<line x1="346.6" y1="1042.4" x2="346.6" y2="1050.4" stroke="#000" stroke-width="2"/>
<text x="346.2" y="1070.9" font-size="19.6" text-anchor="middle" font-weight="bold" textLength="18.8" lengthAdjust="spacingAndGlyphs">20</text>
<line x1="406.9" y1="1042.4" x2="406.9" y2="1050.4" stroke="#000" stroke-width="2"/>
<text x="406.5" y="1070.9" font-size="19.6" text-anchor="middle" font-weight="bold" textLength="18.8" lengthAdjust="spacingAndGlyphs">25</text>
<line x1="467.2" y1="1042.4" x2="467.2" y2="1050.4" stroke="#000" stroke-width="2"/>
<text x="466.8" y="1070.9" font-size="19.6" text-anchor="middle" font-weight="bold" textLength="18.8" lengthAdjust="spacingAndGlyphs">30</text>
<line x1="98.4" y1="1042.4" x2="105.4" y2="1042.4" stroke="#000" stroke-width="2"/>
<text x="96.2" y="1048.9" font-size="18.7" text-anchor="end" font-weight="bold" textLength="25.6" lengthAdjust="spacingAndGlyphs">0.0</text>
<line x1="98.4" y1="1005.8" x2="105.4" y2="1005.8" stroke="#000" stroke-width="2"/>
<text x="96.2" y="1012.3" font-size="18.7" text-anchor="end" font-weight="bold" textLength="25.6" lengthAdjust="spacingAndGlyphs">0.1</text>
<line x1="98.4" y1="969.2" x2="105.4" y2="969.2" stroke="#000" stroke-width="2"/>
<text x="96.2" y="975.7" font-size="18.7" text-anchor="end" font-weight="bold" textLength="25.6" lengthAdjust="spacingAndGlyphs">0.2</text>
<line x1="98.4" y1="932.6" x2="105.4" y2="932.6" stroke="#000" stroke-width="2"/>
<text x="96.2" y="939.1" font-size="18.7" text-anchor="end" font-weight="bold" textLength="25.6" lengthAdjust="spacingAndGlyphs">0.3</text>
<line x1="98.4" y1="896" x2="105.4" y2="896" stroke="#000" stroke-width="2"/>
<text x="96.2" y="902.5" font-size="18.7" text-anchor="end" font-weight="bold" textLength="25.6" lengthAdjust="spacingAndGlyphs">0.4</text>
<line x1="98.4" y1="859.4" x2="105.4" y2="859.4" stroke="#000" stroke-width="2"/>
<text x="96.2" y="865.9" font-size="18.7" text-anchor="end" font-weight="bold" textLength="25.6" lengthAdjust="spacingAndGlyphs">0.5</text>
<line x1="98.4" y1="822.8" x2="105.4" y2="822.8" stroke="#000" stroke-width="2"/>
<text x="96.2" y="829.3" font-size="18.7" text-anchor="end" font-weight="bold" textLength="25.6" lengthAdjust="spacingAndGlyphs">0.6</text>
<line x1="98.4" y1="786.2" x2="105.4" y2="786.2" stroke="#000" stroke-width="2"/>
<text x="96.2" y="792.7" font-size="18.7" text-anchor="end" font-weight="bold" textLength="25.6" lengthAdjust="spacingAndGlyphs">0.7</text>
<text x="227.2" y="1099.9" font-size="21.5" font-weight="bold" textLength="117" lengthAdjust="spacingAndGlyphs">Ct (minutes)</text>
<text x="59.4" y="1041" font-size="20.5" font-weight="bold" transform="rotate(-90 59.4 1041)" textLength="254" lengthAdjust="spacingAndGlyphs">Normalised Fluorescence</text>
<polyline points="590.3,249.3 591.6,249.8 592.9,250.2 594.2,250.4 595.5,250.4 596.8,250.2 598.1,249.9 599.4,249.4 600.7,248.7 601.9,248 603.2,247.2 604.5,246.4 605.8,245.6 607.1,244.8 608.4,244.2 609.7,243.6 611,243.2 612.3,242.9 613.6,242.7 614.9,242.6 616.2,242.6 617.4,242.5 618.7,242.4 620,242.2 621.3,241.9 622.6,241.3 623.9,240.6 625.2,239.6 626.5,238.3 627.8,236.9 629.1,235.3 630.4,233.6 631.7,231.9 632.9,230.2 634.2,228.8 635.5,227.6 636.8,226.7 638.1,226.3 639.4,226.3 640.7,226.8 642,227.8 643.3,229.3 644.6,231.2 645.9,233.6 647.2,236.2 648.4,239.1 649.7,242.2 651,245.3 652.3,248.5 653.6,251.5 654.9,254.4 656.2,257 657.5,259.4 658.8,261.3 660.1,262.8 661.4,263.9 662.7,264.6 663.9,264.8 665.2,264.5 666.5,263.9 667.8,262.9 669.1,261.7 670.4,260.2 671.7,258.6 673,256.9 674.3,255.2 675.6,253.4 676.9,251.8 678.2,250.1 679.4,248.6 680.7,247.1 682,245.6 683.3,244.2 684.6,242.7 685.9,241.3 687.2,239.8 688.5,238.3 689.8,236.7 691.1,235.1 692.4,233.5 693.7,231.9 695,230.4 696.2,229 697.5,227.7 698.8,226.6 700.1,225.8 701.4,225.3 702.7,225 704,225.1 705.3,225.6 706.6,226.3 707.9,227.3 709.2,228.6 710.5,230.2 711.7,231.9 713,233.7 714.3,235.6 715.6,237.5 716.9,239.3 718.2,241.1 719.5,242.7 720.8,244.3 722.1,245.7 723.4,246.9 724.7,248.1 726,249.1 727.2,250.1 728.5,251 729.8,251.8 731.1,252.7 732.4,253.6 733.7,254.5 735,255.4 736.3,256.4 737.6,257.3 738.9,258.3 740.2,259.1 741.5,259.9 742.7,260.5 744,261 745.3,261.2 746.6,261.2 747.9,261 749.2,260.5 750.5,259.8 751.8,258.8 753.1,257.6 754.4,256.3 755.7,254.8 757,253.2 758.2,251.6 759.5,250 760.8,248.4 762.1,247 763.4,245.7 764.7,244.6 766,243.7 767.3,242.9 768.6,242.4 769.9,242 771.2,241.8 772.5,241.8 773.7,241.8 775,242 776.3,242.2 777.6,242.4 778.9,242.7 780.2,242.9 781.5,243.1 782.8,243.2 784.1,243.3 785.4,243.3 786.7,243.3 788,243.3 789.2,243.3 790.5,243.2 791.8,243.1 793.1,243.1 794.4,243 795.7,243 797,242.9 798.3,242.8 799.6,242.6 800.9,242.4 802.2,242.1 803.5,241.8 804.7,241.3 806,240.8 807.3,240.1 808.6,239.4 809.9,238.7 811.2,237.9 812.5,237.1 813.8,236.4 815.1,235.7 816.4,235.2 817.7,234.9 819,234.8 820.2,234.9 821.5,235.3 822.8,236 824.1,236.9 825.4,238.1 826.7,239.5 828,241.1 829.3,242.8 830.6,244.7 831.9,246.5 833.2,248.3 834.5,250.1 835.8,251.6 837,253 838.3,254.1 839.6,255 840.9,255.6 842.2,255.9 843.5,255.9 844.8,255.6 846.1,255.1 847.4,254.5 848.7,253.7 850,252.8 851.3,251.8 852.5,250.9 853.8,250.1 855.1,249.4 856.4,248.8 857.7,248.4 859,248.2 860.3,248.2 861.6,248.4 862.9,248.8 864.2,249.2 865.5,249.9 866.8,250.5 868,251.3 869.3,252 870.6,252.8 871.9,253.5 873.2,254.1 874.5,254.7 875.8,255.2 877.1,255.6 878.4,256 879.7,256.3 881,256.6 882.3,256.8 883.5,257 884.8,257.3 886.1,257.5 887.4,257.8 888.7,258 890,258.3 891.3,258.6 892.6,258.8 893.9,259.1 895.2,259.2 896.5,259.3 897.8,259.3 899,259.2 900.3,259 901.6,258.6 902.9,258.2 904.2,257.7 905.5,257.1 906.8,256.5 908.1,255.9 909.4,255.3 910.7,254.8 912,254.3 913.3,253.9 914.5,253.7 915.8,253.6 917.1,253.6 918.4,253.8 919.7,254 921,254.4 922.3,254.8 923.6,255.3 924.9,255.7" fill="none" stroke="#ff0000" stroke-width="2" stroke-linejoin="round" stroke-linecap="round"/>
<polyline points="590.3,245.3 591.6,245.5 592.9,245.9 594.2,246.4 595.5,247.1 596.8,247.8 598.1,248.6 599.4,249.3 600.7,249.9 601.9,250.4 603.2,250.7 604.5,250.8 605.8,250.8 607.1,250.6 608.4,250.2 609.7,249.8 611,249.3 612.3,248.8 613.6,248.2 614.9,247.7 616.2,247.2 617.4,246.7 618.7,246.3 620,245.8 621.3,245.3 622.6,244.8 623.9,244.1 625.2,243.3 626.5,242.4 627.8,241.4 629.1,240.2 630.4,239 631.7,237.7 632.9,236.4 634.2,235.2 635.5,234.1 636.8,233.2 638.1,232.7 639.4,232.5 640.7,232.6 642,233.2 643.3,234.3 644.6,235.7 645.9,237.6 647.2,239.8 648.4,242.4 649.7,245.2 651,248.1 652.3,251.1 653.6,254.1 654.9,256.9 656.2,259.5 657.5,261.8 658.8,263.6 660.1,264.9 661.4,265.7 662.7,265.9 663.9,265.5 665.2,264.6 666.5,263.2 667.8,261.4 669.1,259.3 670.4,257 671.7,254.7 673,252.4 674.3,250.3 675.6,248.5 676.9,247 678.2,245.9 679.4,245.2 680.7,245 682,245 683.3,245.4 684.6,246 685.9,246.7 687.2,247.4 688.5,248.1 689.8,248.6 691.1,248.8 692.4,248.6 693.7,248.2 695,247.3 696.2,246.1 697.5,244.6 698.8,242.8 700.1,240.8 701.4,238.8 702.7,236.7 704,234.7 705.3,232.8 706.6,231.3 707.9,230.1 709.2,229.3 710.5,229 711.7,229.1 713,229.6 714.3,230.6 715.6,231.9 716.9,233.6 718.2,235.5 719.5,237.5 720.8,239.7 722.1,241.9 723.4,244.1 724.7,246.3 726,248.4 727.2,250.3 728.5,252.1 729.8,253.8 731.1,255.4 732.4,256.9 733.7,258.2 735,259.6 736.3,260.8 737.6,262 738.9,263.2 740.2,264.3 741.5,265.3 742.7,266.1 744,266.8 745.3,267.4 746.6,267.6 747.9,267.6 749.2,267.4 750.5,266.7 751.8,265.8 753.1,264.5 754.4,262.9 755.7,261 757,258.9 758.2,256.6 759.5,254.3 760.8,251.9 762.1,249.6 763.4,247.5 764.7,245.6 766,244 767.3,242.7 768.6,241.8 769.9,241.4 771.2,241.3 772.5,241.5 773.7,242.1 775,243 776.3,244 777.6,245.2 778.9,246.4 780.2,247.5 781.5,248.6 782.8,249.4 784.1,250.1 785.4,250.5 786.7,250.7 788,250.7 789.2,250.5 790.5,250.2 791.8,249.7 793.1,249.3 794.4,249 795.7,248.8 797,248.8 798.3,249.1 799.6,249.7 800.9,250.6 802.2,251.9 803.5,253.4 804.7,255.3 806,257.3 807.3,259.4 808.6,261.5 809.9,263.6 811.2,265.5 812.5,267.2 813.8,268.6 815.1,269.5 816.4,270.1 817.7,270.2 819,269.9 820.2,269.1 821.5,268 822.8,266.6 824.1,265 825.4,263.3 826.7,261.4 828,259.6 829.3,257.9 830.6,256.3 831.9,255 833.2,253.8 834.5,252.9 835.8,252.3 837,251.8 838.3,251.6 839.6,251.5 840.9,251.5 842.2,251.6 843.5,251.7 844.8,251.8 846.1,251.9 847.4,252 848.7,252 850,252 851.3,252 852.5,252.1 853.8,252.2 855.1,252.5 856.4,252.9 857.7,253.4 859,254.1 860.3,255 861.6,256.1 862.9,257.4 864.2,258.8 865.5,260.2 866.8,261.7 868,263.1 869.3,264.4 870.6,265.6 871.9,266.4 873.2,267 874.5,267.3 875.8,267.2 877.1,266.8 878.4,266 879.7,265 881,263.7 882.3,262.3 883.5,260.7 884.8,259.2 886.1,257.7 887.4,256.4 888.7,255.2 890,254.4 891.3,253.9 892.6,253.7 893.9,253.8 895.2,254.2 896.5,254.9 897.8,255.8 899,256.9 900.3,258.1 901.6,259.2 902.9,260.3 904.2,261.2 905.5,261.9 906.8,262.4 908.1,262.6 909.4,262.5 910.7,262.2 912,261.6 913.3,260.9 914.5,260 915.8,259 917.1,258.1 918.4,257.2 919.7,256.4 921,255.9 922.3,255.5 923.6,255.3 924.9,255.4" fill="none" stroke="#ff0000" stroke-width="2" stroke-linejoin="round" stroke-linecap="round"/>
<polyline points="590.3,254.1 591.6,253.8 592.9,253.4 594.2,253 595.5,252.6 596.8,252.1 598.1,251.7 599.4,251.2 600.7,250.7 601.9,250.3 603.2,249.9 604.5,249.6 605.8,249.3 607.1,249.1 608.4,249 609.7,249 611,249.1 612.3,249.1 613.6,249.2 614.9,249.2 616.2,249.2 617.4,249 618.7,248.7 620,248.2 621.3,247.5 622.6,246.5 623.9,245.4 625.2,244 626.5,242.5 627.8,240.9 629.1,239.3 630.4,237.7 631.7,236.2 632.9,235 634.2,234.2 635.5,233.7 636.8,233.6 638.1,234.1 639.4,235.1 640.7,236.5 642,238.4 643.3,240.7 644.6,243.3 645.9,246.2 647.2,249.1 648.4,252.2 649.7,255.1 651,258 652.3,260.6 653.6,263 654.9,265 656.2,266.6 657.5,267.9 658.8,268.7 660.1,269.1 661.4,269.1 662.7,268.7 663.9,268 665.2,267 666.5,265.7 667.8,264.3 669.1,262.8 670.4,261.3 671.7,259.8 673,258.4 674.3,257.1 675.6,255.9 676.9,255 678.2,254.2 679.4,253.5 680.7,252.9 682,252.4 683.3,251.9 684.6,251.5 685.9,250.9 687.2,250.3 688.5,249.5 689.8,248.6 691.1,247.6 692.4,246.4 693.7,245.1 695,243.7 696.2,242.3 697.5,240.8 698.8,239.4 700.1,238.1 701.4,236.8 702.7,235.7 704,234.7 705.3,234 706.6,233.5 707.9,233.2 709.2,233.1 710.5,233.3 711.7,233.7 713,234.3 714.3,235.1 715.6,236.1 716.9,237.3 718.2,238.6 719.5,240 720.8,241.6 722.1,243.4 723.4,245.3 724.7,247.2 726,249.3 727.2,251.5 728.5,253.8 729.8,256.2 731.1,258.5 732.4,260.9 733.7,263.2 735,265.4 736.3,267.5 737.6,269.4 738.9,271 740.2,272.4 741.5,273.4 742.7,274.1 744,274.4 745.3,274.3 746.6,273.8 747.9,273 749.2,271.9 750.5,270.5 751.8,268.8 753.1,267 754.4,265.1 755.7,263.1 757,261.1 758.2,259.3 759.5,257.5 760.8,255.9 762.1,254.5 763.4,253.3 764.7,252.3 766,251.5 767.3,250.9 768.6,250.4 769.9,250.1 771.2,249.9 772.5,249.7 773.7,249.6 775,249.4 776.3,249.2 777.6,249 778.9,248.7 780.2,248.3 781.5,247.9 782.8,247.4 784.1,246.9 785.4,246.4 786.7,245.9 788,245.5 789.2,245.1 790.5,244.8 791.8,244.5 793.1,244.4 794.4,244.4 795.7,244.4 797,244.6 798.3,244.8 799.6,245 800.9,245.3 802.2,245.6 803.5,245.9 804.7,246.2 806,246.4 807.3,246.6 808.6,246.8 809.9,246.9 811.2,247 812.5,247.1 813.8,247.2 815.1,247.4 816.4,247.6 817.7,247.9 819,248.3 820.2,248.8 821.5,249.3 822.8,250 824.1,250.6 825.4,251.4 826.7,252.1 828,252.9 829.3,253.6 830.6,254.2 831.9,254.7 833.2,255.2 834.5,255.5 835.8,255.7 837,255.8 838.3,255.7 839.6,255.6 840.9,255.4 842.2,255.2 843.5,254.9 844.8,254.7 846.1,254.5 847.4,254.4 848.7,254.5 850,254.7 851.3,255 852.5,255.5 853.8,256.1 855.1,256.9 856.4,257.8 857.7,258.8 859,259.8 860.3,260.9 861.6,261.9 862.9,262.8 864.2,263.6 865.5,264.3 866.8,264.8 868,265.1 869.3,265.3 870.6,265.2 871.9,265 873.2,264.5 874.5,264 875.8,263.4 877.1,262.7 878.4,262 879.7,261.3 881,260.7 882.3,260.1 883.5,259.7 884.8,259.4 886.1,259.2 887.4,259.2 888.7,259.3 890,259.6 891.3,259.9 892.6,260.3 893.9,260.7 895.2,261.2 896.5,261.6 897.8,262 899,262.3 900.3,262.5 901.6,262.7 902.9,262.8 904.2,262.8 905.5,262.8 906.8,262.7 908.1,262.6 909.4,262.5 910.7,262.4 912,262.4 913.3,262.4 914.5,262.4 915.8,262.6 917.1,262.8 918.4,263 919.7,263.3 921,263.7 922.3,264.1 923.6,264.4 924.9,264.8" fill="none" stroke="#ff0000" stroke-width="2" stroke-linejoin="round" stroke-linecap="round"/>
<polyline points="590.3,262.2 591.6,263.1 592.9,263.7 594.2,264.2 595.5,264.3 596.8,264.3 598.1,264 599.4,263.5 600.7,262.8 601.9,262 603.2,261 604.5,260 605.8,259 607.1,258.1 608.4,257.2 609.7,256.4 611,255.6 612.3,255 613.6,254.5 614.9,254.1 616.2,253.7 617.4,253.3 618.7,252.8 620,252.2 621.3,251.6 622.6,250.7 623.9,249.6 625.2,248.4 626.5,247 627.8,245.4 629.1,243.7 630.4,242 631.7,240.3 632.9,238.8 634.2,237.5 635.5,236.4 636.8,235.7 638.1,235.4 639.4,235.6 640.7,236.2 642,237.3 643.3,238.8 644.6,240.6 645.9,242.8 647.2,245.2 648.4,247.8 649.7,250.5 651,253.2 652.3,255.9 653.6,258.5 654.9,260.9 656.2,263.1 657.5,265.1 658.8,266.9 660.1,268.3 661.4,269.4 662.7,270.2 663.9,270.7 665.2,270.9 666.5,270.8 667.8,270.6 669.1,270.1 670.4,269.5 671.7,268.8 673,268 674.3,267.2 675.6,266.4 676.9,265.5 678.2,264.6 679.4,263.6 680.7,262.6 682,261.5 683.3,260.2 684.6,258.9 685.9,257.3 687.2,255.7 688.5,253.8 689.8,251.9 691.1,249.8 692.4,247.8 693.7,245.7 695,243.6 696.2,241.7 697.5,240 698.8,238.4 700.1,237.2 701.4,236.3 702.7,235.7 704,235.5 705.3,235.6 706.6,236.1 707.9,236.9 709.2,238 710.5,239.4 711.7,240.9 713,242.6 714.3,244.3 715.6,246.1 716.9,247.8 718.2,249.5 719.5,251.1 720.8,252.6 722.1,254 723.4,255.2 724.7,256.4 726,257.4 727.2,258.4 728.5,259.3 729.8,260.2 731.1,261.1 732.4,262 733.7,262.8 735,263.7 736.3,264.5 737.6,265.3 738.9,266.1 740.2,266.8 741.5,267.3 742.7,267.8 744,268.1 745.3,268.2 746.6,268.2 747.9,268 749.2,267.6 750.5,267 751.8,266.4 753.1,265.5 754.4,264.7 755.7,263.7 757,262.8 758.2,261.8 759.5,260.9 760.8,260.1 762.1,259.4 763.4,258.8 764.7,258.2 766,257.8 767.3,257.5 768.6,257.2 769.9,257 771.2,256.9 772.5,256.7 773.7,256.5 775,256.4 776.3,256.2 777.6,255.9 778.9,255.7 780.2,255.4 781.5,255.1 782.8,254.8 784.1,254.6 785.4,254.4 786.7,254.4 788,254.4 789.2,254.6 790.5,255 791.8,255.6 793.1,256.3 794.4,257.1 795.7,258.2 797,259.3 798.3,260.5 799.6,261.8 800.9,263.1 802.2,264.3 803.5,265.5 804.7,266.5 806,267.3 807.3,268 808.6,268.4 809.9,268.6 811.2,268.6 812.5,268.3 813.8,267.8 815.1,267.2 816.4,266.4 817.7,265.6 819,264.7 820.2,263.8 821.5,263 822.8,262.3 824.1,261.7 825.4,261.3 826.7,261.1 828,261 829.3,261.2 830.6,261.5 831.9,262 833.2,262.5 834.5,263.1 835.8,263.8 837,264.4 838.3,265 839.6,265.5 840.9,265.9 842.2,266.2 843.5,266.4 844.8,266.4 846.1,266.3 847.4,266.1 848.7,265.8 850,265.5 851.3,265.2 852.5,264.8 853.8,264.5 855.1,264.2 856.4,264 857.7,263.8 859,263.8 860.3,263.7 861.6,263.8 862.9,263.9 864.2,264 865.5,264.2 866.8,264.4 868,264.6 869.3,264.8 870.6,265 871.9,265.2 873.2,265.4 874.5,265.6 875.8,265.7 877.1,266 878.4,266.2 879.7,266.5 881,266.8 882.3,267.1 883.5,267.5 884.8,267.9 886.1,268.4 887.4,268.8 888.7,269.2 890,269.6 891.3,269.8 892.6,270 893.9,270 895.2,269.9 896.5,269.6 897.8,269.2 899,268.6 900.3,267.8 901.6,266.9 902.9,265.9 904.2,264.9 905.5,263.8 906.8,262.7 908.1,261.7 909.4,260.8 910.7,260.1 912,259.6 913.3,259.2 914.5,259.1 915.8,259.2 917.1,259.5 918.4,260.1 919.7,260.8 921,261.6 922.3,262.6 923.6,263.5 924.9,264.5" fill="none" stroke="#ff0000" stroke-width="2" stroke-linejoin="round" stroke-linecap="round"/>
<polyline points="590.3,221.9 591.6,219.3 592.9,217.2 594.2,215.5 595.5,214.3 596.8,213.4 598.1,212.9 599.4,212.6 600.7,212.5 601.9,212.3 603.2,211.8 604.5,211.1 605.8,209.7 607.1,207.8 608.4,205.1 609.7,201.6 611,197.2 612.3,192.2 613.6,186.5 614.9,180.3 616.2,173.9 617.4,167.6 618.7,161.4 620,155.8 621.3,151 622.6,147.1 623.9,144.4 625.2,142.9 626.5,142.6 627.8,143.6 629.1,145.7 630.4,148.7 631.7,152.5 632.9,156.9 634.2,161.6 635.5,166.3 636.8,170.9 638.1,175.1 639.4,179 640.7,182.3 642,185.1 643.3,187.4 644.6,189.3 645.9,190.6 647.2,191.7 648.4,192.8 649.7,193.8 651,194.9 652.3,196.1 653.6,197.6 654.9,199.3 656.2,201.1 657.5,202.9 658.8,204.8 660.1,206.6 661.4,208.1 662.7,209.4 663.9,210.3 665.2,210.7 666.5,210.7 667.8,210.3 669.1,209.5 670.4,208.4 671.7,207 673,205.3 674.3,203.6 675.6,201.9 676.9,200.2 678.2,198.5 679.4,197 680.7,195.7 682,194.4 683.3,193.3 684.6,192.2 685.9,191.3 687.2,190.3 688.5,189.4 689.8,188.4 691.1,187.5 692.4,186.5 693.7,185.5 695,184.6 696.2,183.8 697.5,183.1 698.8,182.6 700.1,182.4 701.4,182.3 702.7,182.5 704,183 705.3,183.7 706.6,184.6 707.9,185.7 709.2,186.9 710.5,188.1 711.7,189.2 713,190.2 714.3,191 715.6,191.6 716.9,191.9 718.2,191.9 719.5,191.6 720.8,191.1 722.1,190.4 723.4,189.5 724.7,188.6 726,187.8 727.2,187 728.5,186.5 729.8,186.1 731.1,186.1 732.4,186.2 733.7,186.6 735,187 736.3,187.4 737.6,187.7 738.9,187.7 740.2,187.2 741.5,186.3 742.7,184.7 744,182.6 745.3,179.9 746.6,176.6 747.9,172.9 749.2,168.7 750.5,164.4 751.8,160.1 753.1,155.9 754.4,152.2 755.7,148.9 757,146.4 758.2,144.6 759.5,143.7 760.8,143.6 762.1,144.2 763.4,145.4 764.7,147 766,148.9 767.3,150.8 768.6,152.6 769.9,154 771.2,154.8 772.5,155 773.7,154.3 775,152.8 776.3,150.3 777.6,147.1 778.9,142.9 780.2,138.1 781.5,132.6 782.8,126.6 784.1,120.1 785.4,113.3 786.7,106.3 788,99.1 789.2,91.9 790.5,84.7 791.8,77.7 793.1,71.1 794.4,65 795.7,59.5 797,54.8 798.3,51.1 799.6,48.5 800.9,47 802.2,46.7 803.5,47.9 804.7,50.7 806,54.9 807.3,60.4 808.6,67.1 809.9,74.8 811.2,83.2 812.5,92.3 813.8,101.8 815.1,111.5 816.4,121.4 817.7,131.4 819,141.3 820.2,151.1 821.5,160.8 822.8,170.4 824.1,179.6 825.4,188.3 826.7,196.5 828,204 829.3,210.7 830.6,216.5 831.9,221.4 833.2,225.3 834.5,228.4 835.8,230.8 837,232.6 838.3,233.8 839.6,234.6 840.9,235.2 842.2,235.5 843.5,235.7 844.8,235.7 846.1,235.7 847.4,235.6 848.7,235.4 850,235.1 851.3,234.6 852.5,234.1 853.8,233.5 855.1,232.9 856.4,232.2 857.7,231.5 859,230.9 860.3,230.4 861.6,230 862.9,229.8 864.2,229.7 865.5,229.8 866.8,230 868,230.4 869.3,230.8 870.6,231.3 871.9,231.8 873.2,232.3 874.5,232.6 875.8,232.7 877.1,232.7 878.4,232.5 879.7,232 881,231.4 882.3,230.6 883.5,229.6 884.8,228.5 886.1,227.3 887.4,226.1 888.7,225 890,223.8 891.3,222.8 892.6,221.9 893.9,221.2 895.2,220.6 896.5,220.1 897.8,219.8 899,219.5 900.3,219.4 901.6,219.3 902.9,219.3 904.2,219.3 905.5,219.3 906.8,219.3 908.1,219.4 909.4,219.4 910.7,219.4 912,219.5 913.3,219.5 914.5,219.6 915.8,219.8 917.1,219.9 918.4,220.1 919.7,220.3 921,220.5 922.3,220.7 923.6,220.9 924.9,220.9" fill="none" stroke="#22e61a" stroke-width="2.1" stroke-linejoin="round" stroke-linecap="round"/>
<polyline points="590.3,230.3 591.6,228 592.9,225.7 594.2,223.5 595.5,221.3 596.8,219.2 598.1,217.2 599.4,215.2 600.7,213.4 601.9,211.7 603.2,210 604.5,208.5 605.8,207 607.1,205.7 608.4,204.3 609.7,203 611,201.6 612.3,200.1 613.6,198.6 614.9,197 616.2,195.3 617.4,193.5 618.7,191.7 620,189.9 621.3,188.2 622.6,186.7 623.9,185.4 625.2,184.5 626.5,184 627.8,183.9 629.1,184.3 630.4,185.2 631.7,186.6 632.9,188.3 634.2,190.4 635.5,192.8 636.8,195.3 638.1,197.8 639.4,200.2 640.7,202.4 642,204.3 643.3,205.9 644.6,207 645.9,207.5 647.2,207.7 648.4,207.5 649.7,207 651,206.3 652.3,205.5 653.6,204.7 654.9,203.9 656.2,203.2 657.5,202.8 658.8,202.5 660.1,202.5 661.4,202.7 662.7,203 663.9,203.5 665.2,204 666.5,204.5 667.8,204.9 669.1,205.1 670.4,205.1 671.7,204.8 673,204.1 674.3,203.1 675.6,201.8 676.9,200.1 678.2,198.1 679.4,195.9 680.7,193.5 682,191 683.3,188.6 684.6,186.1 685.9,183.9 687.2,181.8 688.5,180 689.8,178.5 691.1,177.4 692.4,176.6 693.7,176.1 695,176 696.2,176.1 697.5,176.5 698.8,177.2 700.1,178.1 701.4,179.1 702.7,180.3 704,181.7 705.3,183.2 706.6,184.9 707.9,186.8 709.2,188.8 710.5,190.9 711.7,193.1 713,195.3 714.3,197.6 715.6,199.7 716.9,201.8 718.2,203.6 719.5,205 720.8,206.1 722.1,206.7 723.4,206.7 724.7,206.3 726,205.2 727.2,203.7 728.5,201.8 729.8,199.5 731.1,196.8 732.4,194 733.7,191.1 735,188.2 736.3,185.3 737.6,182.4 738.9,179.6 740.2,176.9 741.5,174.2 742.7,171.6 744,169.1 745.3,166.6 746.6,164.1 747.9,161.5 749.2,158.8 750.5,156.1 751.8,153.4 753.1,150.8 754.4,148.3 755.7,146.2 757,144.4 758.2,143.1 759.5,142.3 760.8,142.2 762.1,142.7 763.4,143.8 764.7,145.4 766,147.4 767.3,149.6 768.6,152 769.9,154.2 771.2,156.2 772.5,157.6 773.7,158.5 775,158.5 776.3,157.8 777.6,156.1 778.9,153.7 780.2,150.4 781.5,146.5 782.8,142 784.1,137.1 785.4,132 786.7,126.6 788,121.3 789.2,116 790.5,110.9 791.8,106.1 793.1,101.6 794.4,97.7 795.7,94.3 797,91.4 798.3,89.3 799.6,87.9 800.9,87.3 802.2,87.5 803.5,88.6 804.7,90.8 806,93.8 807.3,97.7 808.6,102.4 809.9,107.7 811.2,113.6 812.5,119.9 813.8,126.6 815.1,133.5 816.4,140.8 817.7,148.3 819,156 820.2,164 821.5,172.2 822.8,180.6 824.1,189.1 825.4,197.5 826.7,205.7 828,213.5 829.3,220.7 830.6,227.1 831.9,232.7 833.2,237.5 834.5,241.5 835.8,244.8 837,247.6 838.3,249.9 839.6,251.9 840.9,253.7 842.2,255.5 843.5,257.2 844.8,259.1 846.1,261 847.4,262.9 848.7,264.9 850,266.7 851.3,268.3 852.5,269.7 853.8,270.6 855.1,271.1 856.4,271 857.7,270.5 859,269.4 860.3,268 861.6,266.2 862.9,264.2 864.2,262.1 865.5,260.1 866.8,258.2 868,256.6 869.3,255.3 870.6,254.5 871.9,254.1 873.2,254.1 874.5,254.5 875.8,255.2 877.1,256.1 878.4,257.1 879.7,258.2 881,259.1 882.3,259.8 883.5,260.3 884.8,260.5 886.1,260.5 887.4,260.2 888.7,259.7 890,259 891.3,258.4 892.6,257.9 893.9,257.5 895.2,257.4 896.5,257.7 897.8,258.3 899,259.4 900.3,260.9 901.6,262.7 902.9,264.8 904.2,267.1 905.5,269.4 906.8,271.6 908.1,273.7 909.4,275.5 910.7,276.8 912,277.7 913.3,278.1 914.5,278 915.8,277.3 917.1,276.1 918.4,274.6 919.7,272.7 921,270.5 922.3,268.3 923.6,265.9 924.9,263.7" fill="none" stroke="#22e61a" stroke-width="2.1" stroke-linejoin="round" stroke-linecap="round"/>
<polyline points="590.3,235.1 591.6,233.8 592.9,232.4 594.2,230.9 595.5,229.1 596.8,227.1 598.1,224.8 599.4,222.3 600.7,219.4 601.9,216.4 603.2,213.2 604.5,210 605.8,206.8 607.1,203.7 608.4,200.9 609.7,198.5 611,196.4 612.3,194.8 613.6,193.6 614.9,192.9 616.2,192.5 617.4,192.6 618.7,192.8 620,193.3 621.3,193.9 622.6,194.4 623.9,194.9 625.2,195.2 626.5,195.3 627.8,195.2 629.1,194.9 630.4,194.3 631.7,193.6 632.9,192.8 634.2,191.9 635.5,191 636.8,190.2 638.1,189.7 639.4,189.3 640.7,189.2 642,189.5 643.3,190.1 644.6,191 645.9,192 647.2,193.3 648.4,194.9 649.7,196.6 651,198.5 652.3,200.4 653.6,202.2 654.9,204 656.2,205.7 657.5,207.1 658.8,208.4 660.1,209.3 661.4,210 662.7,210.4 663.9,210.5 665.2,210.3 666.5,209.8 667.8,209 669.1,208 670.4,206.7 671.7,205.1 673,203.3 674.3,201.4 675.6,199.2 676.9,196.9 678.2,194.4 679.4,192 680.7,189.5 682,187.1 683.3,184.9 684.6,182.8 685.9,181.1 687.2,179.8 688.5,178.9 689.8,178.4 691.1,178.4 692.4,178.8 693.7,179.6 695,180.8 696.2,182.2 697.5,183.8 698.8,185.5 700.1,187.2 701.4,188.8 702.7,190.2 704,191.4 705.3,192.4 706.6,193.2 707.9,193.8 709.2,194.2 710.5,194.6 711.7,195 713,195.5 714.3,196.1 715.6,196.8 716.9,197.7 718.2,198.7 719.5,199.7 720.8,200.8 722.1,201.8 723.4,202.7 724.7,203.2 726,203.3 727.2,202.9 728.5,202 729.8,200.4 731.1,198.2 732.4,195.5 733.7,192.1 735,188.3 736.3,184.1 737.6,179.5 738.9,174.9 740.2,170.2 741.5,165.5 742.7,161.2 744,157.3 745.3,153.9 746.6,151 747.9,148.7 749.2,146.9 750.5,145.7 751.8,145.1 753.1,144.9 754.4,145.2 755.7,145.9 757,146.9 758.2,148.1 759.5,149.6 760.8,151.1 762.1,152.7 763.4,154.2 764.7,155.7 766,157 767.3,158.1 768.6,159 769.9,159.4 771.2,159.5 772.5,159 773.7,158.1 775,156.5 776.3,154.4 777.6,151.6 778.9,148.2 780.2,144.3 781.5,139.9 782.8,135.1 784.1,129.9 785.4,124.4 786.7,118.7 788,113 789.2,107.2 790.5,101.5 791.8,96 793.1,90.8 794.4,86.1 795.7,81.9 797,78.3 798.3,75.6 799.6,73.7 800.9,72.7 802.2,72.7 803.5,73.8 804.7,76.1 806,79.5 807.3,83.8 808.6,89.1 809.9,95.1 811.2,101.6 812.5,108.6 813.8,115.8 815.1,123.3 816.4,131 817.7,138.8 819,146.8 820.2,155 821.5,163.4 822.8,172.1 824.1,181 825.4,190 826.7,199.1 828,207.9 829.3,216.3 830.6,224.2 831.9,231.4 833.2,237.9 834.5,243.5 835.8,248.3 837,252.4 838.3,255.7 839.6,258.2 840.9,260.2 842.2,261.6 843.5,262.5 844.8,263.1 846.1,263.3 847.4,263.4 848.7,263.4 850,263.5 851.3,263.7 852.5,264 853.8,264.5 855.1,265.3 856.4,266.2 857.7,267.2 859,268.3 860.3,269.3 861.6,270 862.9,270.6 864.2,270.8 865.5,270.6 866.8,270 868,269 869.3,267.6 870.6,266 871.9,264.1 873.2,262.1 874.5,260.1 875.8,258.2 877.1,256.5 878.4,255 879.7,254 881,253.3 882.3,253.1 883.5,253.2 884.8,253.8 886.1,254.7 887.4,255.9 888.7,257.3 890,258.9 891.3,260.5 892.6,262.2 893.9,263.8 895.2,265.3 896.5,266.6 897.8,267.9 899,268.9 900.3,269.8 901.6,270.5 902.9,271 904.2,271.3 905.5,271.4 906.8,271.3 908.1,270.9 909.4,270.3 910.7,269.4 912,268.3 913.3,266.9 914.5,265.3 915.8,263.5 917.1,261.5 918.4,259.5 919.7,257.5 921,255.7 922.3,254 923.6,252.6 924.9,251.6" fill="none" stroke="#22e61a" stroke-width="2.1" stroke-linejoin="round" stroke-linecap="round"/>
<polyline points="590.3,223.7 591.6,221 592.9,218.9 594.2,217.4 595.5,216.3 596.8,215.6 598.1,215.2 599.4,214.9 600.7,214.5 601.9,214.1 603.2,213.3 604.5,212.2 605.8,210.7 607.1,208.9 608.4,206.7 609.7,204.2 611,201.4 612.3,198.6 613.6,195.9 614.9,193.3 616.2,190.9 617.4,188.9 618.7,187.4 620,186.3 621.3,185.7 622.6,185.5 623.9,185.8 625.2,186.4 626.5,187.2 627.8,188.2 629.1,189.3 630.4,190.3 631.7,191.3 632.9,192.2 634.2,193 635.5,193.6 636.8,194.1 638.1,194.6 639.4,195 640.7,195.6 642,196.2 643.3,197.1 644.6,198.1 645.9,199.1 647.2,200.4 648.4,201.9 649.7,203.5 651,205.2 652.3,206.9 653.6,208.4 654.9,209.8 656.2,211 657.5,211.8 658.8,212.3 660.1,212.5 661.4,212.3 662.7,211.8 663.9,211 665.2,210 666.5,209 667.8,207.8 669.1,206.6 670.4,205.4 671.7,204.3 673,203.2 674.3,202 675.6,200.8 676.9,199.5 678.2,198 679.4,196.2 680.7,194.1 682,191.8 683.3,189.1 684.6,186.3 685.9,183.2 687.2,180.1 688.5,177 689.8,174.2 691.1,171.8 692.4,169.8 693.7,168.4 695,167.8 696.2,167.9 697.5,168.8 698.8,170.4 700.1,172.7 701.4,175.5 702.7,178.7 704,182.1 705.3,185.7 706.6,189.2 707.9,192.4 709.2,195.3 710.5,197.8 711.7,199.8 713,201.3 714.3,202.3 715.6,202.9 716.9,203 718.2,202.9 719.5,202.5 720.8,201.9 722.1,201.3 723.4,200.6 724.7,200 726,199.3 727.2,198.7 728.5,198 729.8,197.3 731.1,196.4 732.4,195.4 733.7,194.2 735,192.6 736.3,190.6 737.6,188.2 738.9,185.5 740.2,182.3 741.5,178.7 742.7,174.9 744,171.1 745.3,167.3 746.6,163.5 747.9,159.9 749.2,156.6 750.5,153.7 751.8,151.2 753.1,149.2 754.4,147.7 755.7,146.8 757,146.3 758.2,146.3 759.5,146.7 760.8,147.4 762.1,148.3 763.4,149.3 764.7,150.4 766,151.4 767.3,152.3 768.6,153 769.9,153.5 771.2,153.6 772.5,153.4 773.7,152.7 775,151.6 776.3,149.9 777.6,147.8 778.9,145 780.2,141.8 781.5,138 782.8,133.7 784.1,129 785.4,123.8 786.7,118.3 788,112.6 789.2,106.7 790.5,100.8 791.8,94.9 793.1,89.4 794.4,84.3 795.7,79.7 797,75.9 798.3,72.9 799.6,70.8 800.9,69.8 802.2,69.7 803.5,71 804.7,73.5 806,77.2 807.3,82 808.6,87.8 809.9,94.4 811.2,101.6 812.5,109.3 813.8,117.4 815.1,125.7 816.4,134.1 817.7,142.6 819,151 820.2,159.5 821.5,167.9 822.8,176.3 824.1,184.6 825.4,192.8 826.7,200.8 828,208.4 829.3,215.7 830.6,222.5 831.9,228.9 833.2,234.7 834.5,240.2 835.8,245.2 837,249.8 838.3,254.1 839.6,258.1 840.9,261.7 842.2,264.8 843.5,267.5 844.8,269.6 846.1,271.1 847.4,272 848.7,272.2 850,271.9 851.3,271 852.5,269.7 853.8,268.2 855.1,266.5 856.4,264.9 857.7,263.3 859,262 860.3,260.9 861.6,260.1 862.9,259.4 864.2,259 865.5,258.7 866.8,258.4 868,258.1 869.3,257.7 870.6,257.1 871.9,256.4 873.2,255.6 874.5,254.7 875.8,253.8 877.1,252.9 878.4,252.1 879.7,251.6 881,251.3 882.3,251.4 883.5,251.8 884.8,252.7 886.1,253.8 887.4,255.3 888.7,256.9 890,258.6 891.3,260.4 892.6,262 893.9,263.5 895.2,264.7 896.5,265.6 897.8,266.2 899,266.5 900.3,266.6 901.6,266.5 902.9,266.4 904.2,266.3 905.5,266.3 906.8,266.6 908.1,267.1 909.4,267.9 910.7,269 912,270.3 913.3,271.7 914.5,273.1 915.8,274.5 917.1,275.6 918.4,276.3 919.7,276.6 921,276.4 922.3,275.5 923.6,274.1 924.9,272.1" fill="none" stroke="#22e61a" stroke-width="2.1" stroke-linejoin="round" stroke-linecap="round"/>
<polyline points="590.3,232 591.6,230 592.9,227.9 594.2,225.6 595.5,223.3 596.8,220.7 598.1,218 599.4,215.1 600.7,212.2 601.9,209.3 603.2,206.4 604.5,203.6 605.8,201 607.1,198.8 608.4,196.9 609.7,195.3 611,194.2 612.3,193.5 613.6,193.1 614.9,193.1 616.2,193.3 617.4,193.6 618.7,194 620,194.3 621.3,194.5 622.6,194.5 623.9,194.1 625.2,193.5 626.5,192.4 627.8,191 629.1,189.3 630.4,187.4 631.7,185.2 632.9,183 634.2,180.8 635.5,178.6 636.8,176.7 638.1,175.1 639.4,173.8 640.7,172.8 642,172.3 643.3,172.2 644.6,172.4 645.9,172.8 647.2,173.4 648.4,174.2 649.7,175.2 651,176.2 652.3,177.2 653.6,178.1 654.9,178.8 656.2,179.3 657.5,179.6 658.8,179.5 660.1,179.2 661.4,178.7 662.7,177.9 663.9,176.8 665.2,175.6 666.5,174.2 667.8,172.7 669.1,171.1 670.4,169.4 671.7,167.6 673,165.8 674.3,164 675.6,162.1 676.9,160.2 678.2,158.3 679.4,156.4 680.7,154.6 682,152.8 683.3,151.1 684.6,149.5 685.9,148.2 687.2,147.1 688.5,146.3 689.8,145.8 691.1,145.7 692.4,145.9 693.7,146.5 695,147.4 696.2,148.6 697.5,150 698.8,151.6 700.1,153.3 701.4,155 702.7,156.8 704,158.6 705.3,160.4 706.6,162.2 707.9,164.1 709.2,166 710.5,168 711.7,170.1 713,172.4 714.3,174.8 715.6,177.3 716.9,180 718.2,182.7 719.5,185.3 720.8,187.8 722.1,190 723.4,191.8 724.7,193.1 726,193.8 727.2,193.8 728.5,193.2 729.8,191.8 731.1,189.7 732.4,186.9 733.7,183.6 735,179.9 736.3,175.8 737.6,171.5 738.9,167.2 740.2,163 741.5,159 742.7,155.3 744,152.3 745.3,149.8 746.6,147.8 747.9,146.4 749.2,145.6 750.5,145.2 751.8,145.2 753.1,145.6 754.4,146.2 755.7,147 757,147.9 758.2,148.9 759.5,149.8 760.8,150.7 762.1,151.6 763.4,152.4 764.7,153 766,153.5 767.3,153.9 768.6,154.1 769.9,154.1 771.2,153.8 772.5,153.3 773.7,152.4 775,151.2 776.3,149.5 777.6,147.4 778.9,144.8 780.2,141.8 781.5,138.4 782.8,134.5 784.1,130.4 785.4,125.9 786.7,121.2 788,116.3 789.2,111.4 790.5,106.5 791.8,101.7 793.1,97.1 794.4,92.8 795.7,89.1 797,85.9 798.3,83.3 799.6,81.5 800.9,80.6 802.2,80.5 803.5,81.3 804.7,83.3 806,86.2 807.3,90.1 808.6,94.7 809.9,100.1 811.2,105.9 812.5,112.2 813.8,118.9 815.1,125.8 816.4,133 817.7,140.4 819,148.1 820.2,156 821.5,164.3 822.8,172.8 824.1,181.6 825.4,190.4 826.7,199.2 828,207.7 829.3,215.8 830.6,223.3 831.9,229.9 833.2,235.8 834.5,240.7 835.8,244.8 837,248.1 838.3,250.6 839.6,252.5 840.9,253.9 842.2,254.8 843.5,255.4 844.8,255.8 846.1,256.2 847.4,256.6 848.7,257.1 850,257.9 851.3,258.9 852.5,260.2 853.8,261.7 855.1,263.4 856.4,265.2 857.7,267 859,268.6 860.3,269.9 861.6,270.9 862.9,271.3 864.2,271.2 865.5,270.4 866.8,269.2 868,267.4 869.3,265.2 870.6,262.6 871.9,260 873.2,257.3 874.5,254.7 875.8,252.5 877.1,250.6 878.4,249.3 879.7,248.5 881,248.4 882.3,248.8 883.5,249.8 884.8,251.3 886.1,253.1 887.4,255.2 888.7,257.4 890,259.7 891.3,261.8 892.6,263.7 893.9,265.4 895.2,266.6 896.5,267.6 897.8,268.1 899,268.2 900.3,268.1 901.6,267.6 902.9,266.9 904.2,266 905.5,265 906.8,263.9 908.1,262.8 909.4,261.6 910.7,260.5 912,259.4 913.3,258.3 914.5,257.3 915.8,256.3 917.1,255.4 918.4,254.6 919.7,254 921,253.4 922.3,253.1 923.6,252.9 924.9,253" fill="none" stroke="#86822e" stroke-width="2.1" stroke-linejoin="round" stroke-linecap="round"/>
<polyline points="590.3,222.5 591.6,219.4 592.9,216.7 594.2,214.5 595.5,212.7 596.8,211.2 598.1,209.9 599.4,208.8 600.7,207.8 601.9,206.7 603.2,205.7 604.5,204.5 605.8,203.3 607.1,202 608.4,200.7 609.7,199.3 611,198 612.3,196.7 613.6,195.7 614.9,194.7 616.2,194 617.4,193.5 618.7,193.1 620,192.9 621.3,192.7 622.6,192.6 623.9,192.5 625.2,192.3 626.5,192.1 627.8,191.6 629.1,191 630.4,190.4 631.7,189.6 632.9,188.8 634.2,188.1 635.5,187.5 636.8,187.2 638.1,187.1 639.4,187.5 640.7,188.2 642,189.4 643.3,191 644.6,193 645.9,195.1 647.2,197.4 648.4,199.7 649.7,202 651,204 652.3,205.7 653.6,207 654.9,207.7 656.2,207.8 657.5,207.3 658.8,206.2 660.1,204.6 661.4,202.5 662.7,200.2 663.9,197.7 665.2,195.1 666.5,192.6 667.8,190.3 669.1,188.3 670.4,186.6 671.7,185.3 673,184.2 674.3,183.4 675.6,182.7 676.9,182 678.2,181.2 679.4,180.3 680.7,179.1 682,177.5 683.3,175.6 684.6,173.4 685.9,170.9 687.2,168.2 688.5,165.5 689.8,162.8 691.1,160.4 692.4,158.4 693.7,156.8 695,155.9 696.2,155.6 697.5,156 698.8,157.1 700.1,158.8 701.4,161 702.7,163.7 704,166.6 705.3,169.8 706.6,172.9 707.9,176 709.2,178.9 710.5,181.6 711.7,184 713,186 714.3,187.8 715.6,189.3 716.9,190.6 718.2,191.5 719.5,192.3 720.8,192.8 722.1,193.1 723.4,193.2 724.7,193.1 726,192.7 727.2,192 728.5,191 729.8,189.6 731.1,187.9 732.4,185.9 733.7,183.5 735,180.7 736.3,177.7 737.6,174.5 738.9,171 740.2,167.5 741.5,164 742.7,160.7 744,157.7 745.3,155.1 746.6,152.8 747.9,151 749.2,149.6 750.5,148.7 751.8,148.1 753.1,147.8 754.4,147.9 755.7,148.1 757,148.4 758.2,148.7 759.5,149.1 760.8,149.4 762.1,149.6 763.4,149.7 764.7,149.7 766,149.6 767.3,149.4 768.6,149.2 769.9,148.8 771.2,148.4 772.5,147.8 773.7,147 775,146 776.3,144.7 777.6,143 778.9,140.8 780.2,138.1 781.5,134.8 782.8,131 784.1,126.6 785.4,121.7 786.7,116.3 788,110.5 789.2,104.4 790.5,98.2 791.8,92.1 793.1,86.1 794.4,80.6 795.7,75.7 797,71.4 798.3,68.1 799.6,65.7 800.9,64.4 802.2,64.2 803.5,65.3 804.7,67.7 806,71.4 807.3,76.2 808.6,82 809.9,88.7 811.2,96.1 812.5,104 813.8,112.3 815.1,120.9 816.4,129.6 817.7,138.4 819,147.2 820.2,156.1 821.5,165 822.8,173.8 824.1,182.6 825.4,191.3 826.7,199.7 828,207.7 829.3,215.1 830.6,222 831.9,228.2 833.2,233.7 834.5,238.5 835.8,242.7 837,246.4 838.3,249.5 839.6,252.1 840.9,254.3 842.2,256.1 843.5,257.5 844.8,258.5 846.1,259.2 847.4,259.7 848.7,259.9 850,260 851.3,260.1 852.5,260.2 853.8,260.3 855.1,260.5 856.4,260.8 857.7,261.2 859,261.6 860.3,261.9 861.6,262.1 862.9,262.2 864.2,261.9 865.5,261.3 866.8,260.3 868,259 869.3,257.4 870.6,255.5 871.9,253.6 873.2,251.6 874.5,249.9 875.8,248.4 877.1,247.5 878.4,247.1 879.7,247.4 881,248.5 882.3,250.2 883.5,252.5 884.8,255.3 886.1,258.5 887.4,261.9 888.7,265.2 890,268.3 891.3,270.9 892.6,273 893.9,274.3 895.2,274.9 896.5,274.6 897.8,273.7 899,272.1 900.3,270 901.6,267.6 902.9,265.1 904.2,262.6 905.5,260.4 906.8,258.7 908.1,257.4 909.4,256.7 910.7,256.7 912,257.1 913.3,258.1 914.5,259.4 915.8,260.8 917.1,262.3 918.4,263.6 919.7,264.7 921,265.3 922.3,265.4 923.6,264.9 924.9,263.9" fill="none" stroke="#86822e" stroke-width="2.1" stroke-linejoin="round" stroke-linecap="round"/>
<polyline points="590.3,227.7 591.6,225.4 592.9,223 594.2,220.6 595.5,218.1 596.8,215.6 598.1,213.3 599.4,211.1 600.7,209 601.9,207.2 603.2,205.7 604.5,204.4 605.8,203.4 607.1,202.5 608.4,201.8 609.7,201.2 611,200.5 612.3,199.7 613.6,198.7 614.9,197.5 616.2,196 617.4,194.3 618.7,192.3 620,190.1 621.3,187.9 622.6,185.6 623.9,183.5 625.2,181.7 626.5,180.3 627.8,179.4 629.1,179 630.4,179.3 631.7,180.2 632.9,181.6 634.2,183.6 635.5,186 636.8,188.7 638.1,191.5 639.4,194.3 640.7,197 642,199.4 643.3,201.5 644.6,203.1 645.9,204.1 647.2,204.7 648.4,204.9 649.7,204.7 651,204.3 652.3,203.8 653.6,203.2 654.9,202.6 656.2,202.2 657.5,201.9 658.8,201.8 660.1,201.9 661.4,202.1 662.7,202.4 663.9,202.7 665.2,203 666.5,203.1 667.8,203.1 669.1,202.8 670.4,202.2 671.7,201.2 673,200 674.3,198.4 675.6,196.6 676.9,194.7 678.2,192.5 679.4,190.4 680.7,188.3 682,186.3 683.3,184.6 684.6,183 685.9,181.8 687.2,180.8 688.5,180.1 689.8,179.6 691.1,179.4 692.4,179.3 693.7,179.2 695,179.3 696.2,179.3 697.5,179.3 698.8,179.2 700.1,179.1 701.4,179 702.7,178.9 704,179 705.3,179.2 706.6,179.6 707.9,180.4 709.2,181.5 710.5,182.9 711.7,184.6 713,186.7 714.3,189 715.6,191.4 716.9,193.8 718.2,196.1 719.5,198.2 720.8,199.8 722.1,200.9 723.4,201.5 724.7,201.4 726,200.7 727.2,199.4 728.5,197.6 729.8,195.4 731.1,192.8 732.4,190.1 733.7,187.4 735,184.6 736.3,182 737.6,179.6 738.9,177.3 740.2,175.1 741.5,173.1 742.7,171.1 744,169.3 745.3,167.4 746.6,165.3 747.9,163.1 749.2,160.6 750.5,158 751.8,155.2 753.1,152.3 754.4,149.5 755.7,146.8 757,144.4 758.2,142.5 759.5,141.1 760.8,140.3 762.1,140.2 763.4,140.8 764.7,141.9 766,143.6 767.3,145.5 768.6,147.6 769.9,149.6 771.2,151.4 772.5,152.7 773.7,153.3 775,153.1 776.3,152 777.6,150.1 778.9,147.2 780.2,143.6 781.5,139.2 782.8,134.2 784.1,128.7 785.4,123 786.7,117.1 788,111.1 789.2,105.1 790.5,99.4 791.8,93.9 793.1,88.8 794.4,84.2 795.7,80.2 797,76.8 798.3,74.2 799.6,72.4 800.9,71.5 802.2,71.5 803.5,72.7 804.7,74.9 806,78.3 807.3,82.6 808.6,87.8 809.9,93.7 811.2,100.3 812.5,107.4 813.8,114.9 815.1,122.8 816.4,131 817.7,139.4 819,148.1 820.2,157.1 821.5,166.4 822.8,175.8 824.1,185.3 825.4,194.7 826.7,203.9 828,212.4 829.3,220.2 830.6,227.1 831.9,233 833.2,237.8 834.5,241.6 835.8,244.6 837,246.8 838.3,248.4 839.6,249.6 840.9,250.7 842.2,251.6 843.5,252.7 844.8,253.9 846.1,255.3 847.4,257 848.7,258.8 850,260.6 851.3,262.4 852.5,264.1 853.8,265.4 855.1,266.3 856.4,266.6 857.7,266.5 859,265.8 860.3,264.7 861.6,263.1 862.9,261.4 864.2,259.5 865.5,257.7 866.8,256 868,254.7 869.3,253.8 870.6,253.4 871.9,253.4 873.2,253.9 874.5,254.8 875.8,255.9 877.1,257.1 878.4,258.4 879.7,259.5 881,260.3 882.3,260.8 883.5,260.9 884.8,260.5 886.1,259.7 887.4,258.6 888.7,257.2 890,255.7 891.3,254.3 892.6,252.9 893.9,251.9 895.2,251.3 896.5,251.2 897.8,251.6 899,252.5 900.3,254 901.6,255.8 902.9,258 904.2,260.3 905.5,262.7 906.8,265 908.1,267 909.4,268.7 910.7,269.9 912,270.7 913.3,271.1 914.5,270.9 915.8,270.4 917.1,269.6 918.4,268.6 919.7,267.4 921,266.2 922.3,265.1 923.6,264.1 924.9,263.3" fill="none" stroke="#86822e" stroke-width="2.1" stroke-linejoin="round" stroke-linecap="round"/>
<polyline points="590.3,221.7 591.6,216.6 592.9,212 594.2,207.9 595.5,204.5 596.8,201.8 598.1,199.8 599.4,198.6 600.7,197.9 601.9,197.9 603.2,198.2 604.5,198.8 605.8,199.6 607.1,200.3 608.4,200.9 609.7,201.2 611,201.2 612.3,200.8 613.6,200.1 614.9,199.1 616.2,197.8 617.4,196.5 618.7,195 620,193.7 621.3,192.5 622.6,191.5 623.9,190.7 625.2,190.3 626.5,190.1 627.8,190.2 629.1,190.4 630.4,190.8 631.7,191.2 632.9,191.5 634.2,191.7 635.5,191.8 636.8,191.7 638.1,191.4 639.4,191.1 640.7,190.7 642,190.3 643.3,190.1 644.6,190.1 645.9,190.2 647.2,190.7 648.4,191.7 649.7,193 651,194.8 652.3,196.9 653.6,199.2 654.9,201.6 656.2,203.9 657.5,206 658.8,207.7 660.1,209 661.4,209.7 662.7,209.8 663.9,209.3 665.2,208.3 666.5,206.7 667.8,204.7 669.1,202.6 670.4,200.3 671.7,198 673,195.9 674.3,194.1 675.6,192.6 676.9,191.5 678.2,190.7 679.4,190.2 680.7,190 682,189.8 683.3,189.6 684.6,189.4 685.9,188.9 687.2,188.2 688.5,187.2 689.8,185.9 691.1,184.3 692.4,182.5 693.7,180.6 695,178.7 696.2,176.9 697.5,175.4 698.8,174.2 700.1,173.6 701.4,173.5 702.7,174.1 704,175.2 705.3,176.9 706.6,179 707.9,181.5 709.2,184.3 710.5,187.1 711.7,189.8 713,192.4 714.3,194.6 715.6,196.3 716.9,197.5 718.2,198.2 719.5,198.2 720.8,197.7 722.1,196.7 723.4,195.2 724.7,193.5 726,191.5 727.2,189.5 728.5,187.5 729.8,185.7 731.1,184 732.4,182.5 733.7,181.3 735,180.1 736.3,179.1 737.6,178.1 738.9,177 740.2,175.8 741.5,174.3 742.7,172.7 744,170.9 745.3,168.9 746.6,166.7 747.9,164.4 749.2,162.1 750.5,159.9 751.8,157.8 753.1,156 754.4,154.5 755.7,153.4 757,152.7 758.2,152.4 759.5,152.4 760.8,152.8 762.1,153.3 763.4,153.8 764.7,154.4 766,154.7 767.3,154.8 768.6,154.5 769.9,153.7 771.2,152.6 772.5,150.9 773.7,148.8 775,146.3 776.3,143.4 777.6,140.2 778.9,136.7 780.2,133 781.5,129.1 782.8,125.1 784.1,120.9 785.4,116.5 786.7,112 788,107.4 789.2,102.7 790.5,97.9 791.8,93.1 793.1,88.4 794.4,83.9 795.7,79.9 797,76.3 798.3,73.4 799.6,71.3 800.9,70.1 802.2,69.8 803.5,70.7 804.7,72.8 806,76.1 807.3,80.5 808.6,85.9 809.9,92.1 811.2,99.1 812.5,106.6 813.8,114.7 815.1,123.1 816.4,131.9 817.7,140.8 819,150 820.2,159.2 821.5,168.5 822.8,177.7 824.1,186.8 825.4,195.6 826.7,203.8 828,211.5 829.3,218.3 830.6,224.4 831.9,229.6 833.2,234 834.5,237.8 835.8,241.1 837,244 838.3,246.7 839.6,249.3 840.9,251.8 842.2,254.2 843.5,256.6 844.8,258.8 846.1,260.8 847.4,262.5 848.7,263.8 850,264.5 851.3,264.7 852.5,264.4 853.8,263.6 855.1,262.4 856.4,261 857.7,259.4 859,257.8 860.3,256.4 861.6,255.3 862.9,254.5 864.2,254.1 865.5,254.1 866.8,254.4 868,254.9 869.3,255.6 870.6,256.3 871.9,257 873.2,257.5 874.5,257.8 875.8,257.9 877.1,257.7 878.4,257.4 879.7,256.9 881,256.5 882.3,256.1 883.5,255.8 884.8,255.9 886.1,256.3 887.4,257.1 888.7,258.2 890,259.7 891.3,261.5 892.6,263.4 893.9,265.2 895.2,266.9 896.5,268.2 897.8,269.1 899,269.3 900.3,269 901.6,267.9 902.9,266.2 904.2,264 905.5,261.3 906.8,258.5 908.1,255.6 909.4,252.8 910.7,250.5 912,248.7 913.3,247.6 914.5,247.3 915.8,247.8 917.1,249.1 918.4,251.1 919.7,253.7 921,256.7 922.3,259.8 923.6,262.9 924.9,265.7" fill="none" stroke="#86822e" stroke-width="2.1" stroke-linejoin="round" stroke-linecap="round"/>
<polyline points="590.3,230.5 591.6,228.1 592.9,226 594.2,224.3 595.5,222.9 596.8,221.8 598.1,221.1 599.4,220.4 600.7,219.9 601.9,219.4 603.2,218.8 604.5,218 605.8,217 607.1,215.7 608.4,214.2 609.7,212.4 611,210.4 612.3,208.3 613.6,206.2 614.9,204.1 616.2,202.2 617.4,200.5 618.7,199 620,198 621.3,197.3 622.6,196.9 623.9,196.8 625.2,196.9 626.5,197.1 627.8,197.4 629.1,197.6 630.4,197.6 631.7,197.5 632.9,197.1 634.2,196.5 635.5,195.7 636.8,194.7 638.1,193.7 639.4,192.6 640.7,191.8 642,191.2 643.3,190.9 644.6,191 645.9,191.5 647.2,192.5 648.4,193.9 649.7,195.8 651,197.9 652.3,200.2 653.6,202.5 654.9,204.6 656.2,206.5 657.5,207.9 658.8,208.8 660.1,209.1 661.4,208.8 662.7,207.9 663.9,206.6 665.2,204.8 666.5,202.9 667.8,200.9 669.1,199.1 670.4,197.5 671.7,196.2 673,195.5 674.3,195.3 675.6,195.6 676.9,196.3 678.2,197.4 679.4,198.8 680.7,200.2 682,201.6 683.3,202.8 684.6,203.7 685.9,204.1 687.2,204.1 688.5,203.6 689.8,202.5 691.1,201.1 692.4,199.3 693.7,197.2 695,195.1 696.2,193 697.5,191.1 698.8,189.4 700.1,188.1 701.4,187.1 702.7,186.6 704,186.4 705.3,186.7 706.6,187.3 707.9,188.1 709.2,189.1 710.5,190.1 711.7,191.3 713,192.3 714.3,193.3 715.6,194.2 716.9,195 718.2,195.6 719.5,196 720.8,196.4 722.1,196.6 723.4,196.8 724.7,196.8 726,196.8 727.2,196.7 728.5,196.4 729.8,196 731.1,195.4 732.4,194.5 733.7,193.3 735,191.8 736.3,189.8 737.6,187.3 738.9,184.4 740.2,181.1 741.5,177.5 742.7,173.6 744,169.7 745.3,165.8 746.6,162.1 747.9,158.7 749.2,155.7 750.5,153.2 751.8,151.4 753.1,150.2 754.4,149.7 755.7,149.8 757,150.4 758.2,151.6 759.5,153 760.8,154.7 762.1,156.5 763.4,158.1 764.7,159.6 766,160.7 767.3,161.4 768.6,161.8 769.9,161.6 771.2,161 772.5,159.9 773.7,158.4 775,156.5 776.3,154.3 777.6,151.7 778.9,148.8 780.2,145.7 781.5,142.3 782.8,138.7 784.1,134.8 785.4,130.6 786.7,126.2 788,121.6 789.2,116.8 790.5,111.8 791.8,106.9 793.1,102 794.4,97.4 795.7,93.2 797,89.6 798.3,86.6 799.6,84.4 800.9,83 802.2,82.6 803.5,83.3 804.7,85.2 806,88.2 807.3,92.2 808.6,97.1 809.9,102.9 811.2,109.3 812.5,116.3 813.8,123.8 815.1,131.6 816.4,139.8 817.7,148.1 819,156.7 820.2,165.3 821.5,174.1 822.8,182.9 824.1,191.6 825.4,200 826.7,208.1 828,215.7 829.3,222.5 830.6,228.6 831.9,233.9 833.2,238.4 834.5,242.2 835.8,245.4 837,248 838.3,250.1 839.6,251.9 840.9,253.4 842.2,254.6 843.5,255.6 844.8,256.3 846.1,256.8 847.4,257.2 848.7,257.5 850,257.7 851.3,258 852.5,258.4 853.8,259.1 855.1,260.1 856.4,261.5 857.7,263.3 859,265.5 860.3,268.1 861.6,271 862.9,274 864.2,277 865.5,279.8 866.8,282.2 868,284.1 869.3,285.4 870.6,285.8 871.9,285.4 873.2,284.2 874.5,282.3 875.8,279.8 877.1,276.7 878.4,273.5 879.7,270.1 881,266.9 882.3,264.1 883.5,261.8 884.8,260.2 886.1,259.2 887.4,259 888.7,259.4 890,260.4 891.3,261.8 892.6,263.5 893.9,265.1 895.2,266.6 896.5,267.8 897.8,268.5 899,268.6 900.3,268.1 901.6,267 902.9,265.4 904.2,263.4 905.5,261.1 906.8,258.8 908.1,256.6 909.4,254.7 910.7,253.2 912,252.3 913.3,252.1 914.5,252.5 915.8,253.5 917.1,255 918.4,256.9 919.7,259.1 921,261.3 922.3,263.4 923.6,265.3 924.9,266.7" fill="none" stroke="#0808ee" stroke-width="2.1" stroke-linejoin="round" stroke-linecap="round"/>
<polyline points="590.3,232.9 591.6,231.7 592.9,230.4 594.2,228.9 595.5,227.3 596.8,225.5 598.1,223.6 599.4,221.7 600.7,219.9 601.9,218.1 603.2,216.4 604.5,215 605.8,213.7 607.1,212.5 608.4,211.5 609.7,210.6 611,209.7 612.3,208.8 613.6,207.8 614.9,206.6 616.2,205.3 617.4,203.8 618.7,202.1 620,200.3 621.3,198.5 622.6,196.6 623.9,194.8 625.2,193.1 626.5,191.6 627.8,190.5 629.1,189.6 630.4,189.1 631.7,188.9 632.9,189 634.2,189.4 635.5,190.1 636.8,190.9 638.1,191.8 639.4,192.7 640.7,193.6 642,194.5 643.3,195.3 644.6,196.1 645.9,196.6 647.2,197.2 648.4,197.8 649.7,198.6 651,199.5 652.3,200.5 653.6,201.8 654.9,203.3 656.2,204.9 657.5,206.6 658.8,208.3 660.1,209.8 661.4,211.2 662.7,212.2 663.9,212.9 665.2,213 666.5,212.6 667.8,211.7 669.1,210.2 670.4,208.3 671.7,206 673,203.4 674.3,200.6 675.6,197.9 676.9,195.4 678.2,193.1 679.4,191.3 680.7,189.9 682,189.2 683.3,189 684.6,189.4 685.9,190.3 687.2,191.7 688.5,193.3 689.8,195.1 691.1,197 692.4,198.7 693.7,200.1 695,201.1 696.2,201.7 697.5,201.6 698.8,201.1 700.1,199.9 701.4,198.4 702.7,196.4 704,194.3 705.3,192 706.6,189.8 707.9,187.8 709.2,186.2 710.5,185 711.7,184.3 713,184.2 714.3,184.6 715.6,185.5 716.9,186.7 718.2,188.2 719.5,189.9 720.8,191.5 722.1,193 723.4,194.3 724.7,195.2 726,195.8 727.2,195.9 728.5,195.7 729.8,195 731.1,194 732.4,192.8 733.7,191.3 735,189.7 736.3,187.9 737.6,186.1 738.9,184.1 740.2,182.1 741.5,180 742.7,177.7 744,175.5 745.3,173.2 746.6,170.7 747.9,168.1 749.2,165.4 750.5,162.7 751.8,160 753.1,157.5 754.4,155.2 755.7,153.2 757,151.7 758.2,150.7 759.5,150.3 760.8,150.5 762.1,151.2 763.4,152.3 764.7,153.9 766,155.7 767.3,157.5 768.6,159.3 769.9,160.8 771.2,161.8 772.5,162.3 773.7,162.1 775,161.3 776.3,159.7 777.6,157.5 778.9,154.6 780.2,151.3 781.5,147.6 782.8,143.6 784.1,139.5 785.4,135.3 786.7,131.1 788,127 789.2,123 790.5,119.2 791.8,115.6 793.1,112.2 794.4,109 795.7,106.3 797,103.9 798.3,102 799.6,100.6 800.9,99.9 802.2,99.7 803.5,100.4 804.7,101.8 806,104 807.3,107 808.6,110.6 809.9,114.8 811.2,119.5 812.5,124.6 813.8,130.2 815.1,136.2 816.4,142.6 817.7,149.4 819,156.8 820.2,164.7 821.5,173.1 822.8,182 824.1,191.2 825.4,200.6 826.7,209.9 828,218.9 829.3,227.3 830.6,234.8 831.9,241.2 833.2,246.6 834.5,250.9 835.8,254.2 837,256.4 838.3,257.9 839.6,258.7 840.9,258.9 842.2,258.9 843.5,258.6 844.8,258.2 846.1,257.9 847.4,257.7 848.7,257.7 850,257.9 851.3,258.2 852.5,258.8 853.8,259.5 855.1,260.4 856.4,261.3 857.7,262.3 859,263.4 860.3,264.6 861.6,265.8 862.9,267.1 864.2,268.5 865.5,270.1 866.8,271.7 868,273.4 869.3,275.2 870.6,276.9 871.9,278.5 873.2,279.8 874.5,280.9 875.8,281.5 877.1,281.7 878.4,281.2 879.7,280.2 881,278.6 882.3,276.4 883.5,273.7 884.8,270.7 886.1,267.4 887.4,264.1 888.7,260.9 890,257.9 891.3,255.2 892.6,253.1 893.9,251.6 895.2,250.6 896.5,250.2 897.8,250.3 899,250.7 900.3,251.4 901.6,252.1 902.9,252.6 904.2,252.7 905.5,252.3 906.8,251.2 908.1,249.4 909.4,246.8 910.7,243.5 912,239.5 913.3,235.2 914.5,230.6 915.8,226.1 917.1,221.8 918.4,218 919.7,215 921,212.7 922.3,211.3 923.6,210.7 924.9,211" fill="none" stroke="#0808ee" stroke-width="2.1" stroke-linejoin="round" stroke-linecap="round"/>
<polyline points="590.3,223.3 591.6,220.1 592.9,217.3 594.2,214.9 595.5,212.8 596.8,211.2 598.1,209.9 599.4,209 600.7,208.3 601.9,207.8 603.2,207.5 604.5,207.2 605.8,206.9 607.1,206.7 608.4,206.3 609.7,205.9 611,205.3 612.3,204.7 613.6,204 614.9,203.2 616.2,202.5 617.4,201.7 618.7,200.9 620,200.3 621.3,199.7 622.6,199.1 623.9,198.6 625.2,198.2 626.5,197.8 627.8,197.4 629.1,197 630.4,196.6 631.7,196.1 632.9,195.6 634.2,195.1 635.5,194.7 636.8,194.3 638.1,194 639.4,194 640.7,194.2 642,194.6 643.3,195.5 644.6,196.7 645.9,198.1 647.2,199.8 648.4,201.9 649.7,204.2 651,206.6 652.3,209 653.6,211.4 654.9,213.4 656.2,215.1 657.5,216.4 658.8,217.1 660.1,217.2 661.4,216.6 662.7,215.5 663.9,213.9 665.2,211.8 666.5,209.4 667.8,206.8 669.1,204.1 670.4,201.5 671.7,199.1 673,197 674.3,195.3 675.6,193.9 676.9,193 678.2,192.4 679.4,192.1 680.7,192 682,192.1 683.3,192.2 684.6,192.3 685.9,192.3 687.2,192.2 688.5,191.9 689.8,191.4 691.1,190.7 692.4,189.9 693.7,189 695,188 696.2,187.1 697.5,186.2 698.8,185.5 700.1,185 701.4,184.7 702.7,184.6 704,184.7 705.3,185.1 706.6,185.6 707.9,186.4 709.2,187.3 710.5,188.3 711.7,189.4 713,190.6 714.3,191.8 715.6,193 716.9,194.1 718.2,195.1 719.5,196.1 720.8,197 722.1,197.7 723.4,198.2 724.7,198.7 726,198.9 727.2,199 728.5,198.9 729.8,198.6 731.1,198.1 732.4,197.3 733.7,196.4 735,195.1 736.3,193.6 737.6,191.8 738.9,189.7 740.2,187.3 741.5,184.7 742.7,181.8 744,179 745.3,176.1 746.6,173.3 747.9,170.5 749.2,167.9 750.5,165.5 751.8,163.3 753.1,161.4 754.4,159.9 755.7,158.7 757,157.7 758.2,157.1 759.5,156.7 760.8,156.4 762.1,156.3 763.4,156.2 764.7,156 766,155.8 767.3,155.5 768.6,155 769.9,154.3 771.2,153.3 772.5,152.1 773.7,150.7 775,149 776.3,147 777.6,144.8 778.9,142.3 780.2,139.6 781.5,136.6 782.8,133.3 784.1,129.8 785.4,126.1 786.7,122.1 788,117.8 789.2,113.4 790.5,108.9 791.8,104.4 793.1,99.9 794.4,95.7 795.7,91.9 797,88.5 798.3,85.8 799.6,83.8 800.9,82.7 802.2,82.5 803.5,83.3 804.7,85.3 806,88.3 807.3,92.4 808.6,97.3 809.9,103.1 811.2,109.5 812.5,116.5 813.8,123.9 815.1,131.7 816.4,139.9 817.7,148.3 819,157 820.2,165.9 821.5,175 822.8,184.2 824.1,193.5 825.4,202.6 826.7,211.4 828,219.8 829.3,227.4 830.6,234.2 831.9,240.2 833.2,245.2 834.5,249.4 835.8,252.8 837,255.4 838.3,257.4 839.6,258.8 840.9,259.8 842.2,260.4 843.5,260.6 844.8,260.5 846.1,260.2 847.4,259.6 848.7,258.9 850,258.2 851.3,257.4 852.5,256.8 853.8,256.3 855.1,256.1 856.4,256.1 857.7,256.5 859,257.2 860.3,258.2 861.6,259.5 862.9,261 864.2,262.5 865.5,264.1 866.8,265.6 868,266.8 869.3,267.8 870.6,268.5 871.9,268.8 873.2,268.8 874.5,268.4 875.8,267.7 877.1,266.8 878.4,265.8 879.7,264.8 881,263.8 882.3,263.1 883.5,262.7 884.8,262.6 886.1,262.8 887.4,263.4 888.7,264.3 890,265.3 891.3,266.5 892.6,267.7 893.9,268.8 895.2,269.7 896.5,270.2 897.8,270.4 899,270.2 900.3,269.5 901.6,268.4 902.9,267 904.2,265.4 905.5,263.6 906.8,261.9 908.1,260.4 909.4,259.1 910.7,258.3 912,257.9 913.3,258.1 914.5,258.9 915.8,260.2 917.1,261.9 918.4,264 919.7,266.4 921,268.9 922.3,271.3 923.6,273.6 924.9,275.5" fill="none" stroke="#0808ee" stroke-width="2.1" stroke-linejoin="round" stroke-linecap="round"/>
<polyline points="590.3,225.8 591.6,222.6 592.9,220 594.2,218 595.5,216.5 596.8,215.3 598.1,214.6 599.4,214 600.7,213.4 601.9,212.9 603.2,212.2 604.5,211.2 605.8,210 607.1,208.4 608.4,206.4 609.7,204.2 611,201.8 612.3,199.3 613.6,196.8 614.9,194.5 616.2,192.4 617.4,190.6 618.7,189.3 620,188.6 621.3,188.3 622.6,188.6 623.9,189.4 625.2,190.6 626.5,192.1 627.8,193.8 629.1,195.5 630.4,197.2 631.7,198.7 632.9,200 634.2,200.9 635.5,201.5 636.8,201.8 638.1,201.7 639.4,201.5 640.7,201 642,200.6 643.3,200.1 644.6,199.8 645.9,199.6 647.2,199.7 648.4,200.1 649.7,200.9 651,201.9 652.3,203.3 653.6,204.8 654.9,206.5 656.2,208.1 657.5,209.6 658.8,211 660.1,212 661.4,212.8 662.7,213.2 663.9,213.2 665.2,212.9 666.5,212.3 667.8,211.4 669.1,210.4 670.4,209.3 671.7,208 673,206.8 674.3,205.5 675.6,204.2 676.9,202.9 678.2,201.5 679.4,200.1 680.7,198.5 682,196.8 683.3,195 684.6,193 685.9,190.9 687.2,188.8 688.5,186.6 689.8,184.6 691.1,182.7 692.4,181.1 693.7,179.8 695,179 696.2,178.6 697.5,178.8 698.8,179.5 700.1,180.6 701.4,182.1 702.7,183.9 704,186 705.3,188.1 706.6,190.2 707.9,192.2 709.2,194 710.5,195.5 711.7,196.6 713,197.4 714.3,197.8 715.6,197.9 716.9,197.6 718.2,197.2 719.5,196.6 720.8,195.9 722.1,195.2 723.4,194.6 724.7,194.1 726,193.7 727.2,193.5 728.5,193.4 729.8,193.4 731.1,193.4 732.4,193.4 733.7,193.2 735,192.8 736.3,192 737.6,190.9 738.9,189.3 740.2,187.2 741.5,184.6 742.7,181.6 744,178.4 745.3,175.1 746.6,171.6 747.9,168.1 749.2,164.8 750.5,161.8 751.8,159.2 753.1,157.1 754.4,155.6 755.7,154.6 757,154.2 758.2,154.4 759.5,155 760.8,156 762.1,157.2 763.4,158.6 764.7,159.9 766,161.1 767.3,162 768.6,162.6 769.9,162.9 771.2,162.6 772.5,161.9 773.7,160.7 775,159 776.3,156.9 777.6,154.3 778.9,151.5 780.2,148.3 781.5,145 782.8,141.5 784.1,137.8 785.4,134.1 786.7,130.3 788,126.4 789.2,122.6 790.5,118.9 791.8,115.3 793.1,111.9 794.4,108.8 795.7,106.1 797,103.8 798.3,102 799.6,100.9 800.9,100.4 802.2,100.6 803.5,101.7 804.7,103.6 806,106.3 807.3,109.8 808.6,114.1 809.9,118.9 811.2,124.3 812.5,130.1 813.8,136.3 815.1,142.7 816.4,149.4 817.7,156.4 819,163.5 820.2,170.8 821.5,178.3 822.8,185.9 824.1,193.6 825.4,201.3 826.7,208.9 828,216.2 829.3,223.1 830.6,229.5 831.9,235.5 833.2,240.9 834.5,245.9 835.8,250.4 837,254.6 838.3,258.3 839.6,261.8 840.9,264.8 842.2,267.4 843.5,269.6 844.8,271.2 846.1,272.2 847.4,272.5 848.7,272.2 850,271.3 851.3,269.8 852.5,268 853.8,265.9 855.1,263.8 856.4,261.8 857.7,260.1 859,258.8 860.3,258 861.6,257.6 862.9,257.8 864.2,258.4 865.5,259.4 866.8,260.6 868,261.8 869.3,263.1 870.6,264.1 871.9,264.9 873.2,265.3 874.5,265.4 875.8,265.1 877.1,264.5 878.4,263.6 879.7,262.5 881,261.4 882.3,260.4 883.5,259.5 884.8,258.8 886.1,258.5 887.4,258.5 888.7,258.8 890,259.5 891.3,260.4 892.6,261.6 893.9,262.8 895.2,264 896.5,265.2 897.8,266.2 899,267 900.3,267.5 901.6,267.8 902.9,267.9 904.2,267.9 905.5,267.7 906.8,267.4 908.1,267.2 909.4,267.1 910.7,267.1 912,267.2 913.3,267.5 914.5,267.9 915.8,268.5 917.1,269 918.4,269.5 919.7,269.9 921,270.1 922.3,270 923.6,269.8 924.9,269.2" fill="none" stroke="#0808ee" stroke-width="2.1" stroke-linejoin="round" stroke-linecap="round"/>
<polyline points="590.3,247.5 591.6,248 592.9,249.1 594.2,250.5 595.5,252.3 596.8,254 598.1,255.7 599.4,257 600.7,257.8 601.9,257.9 603.2,257.1 604.5,255.4 605.8,252.8 607.1,249.4 608.4,245.2 609.7,240.3 611,235.1 612.3,229.7 613.6,224.4 614.9,219.3 616.2,214.6 617.4,210.6 618.7,207.2 620,204.5 621.3,202.5 622.6,201.2 623.9,200.5 625.2,200.3 626.5,200.4 627.8,200.6 629.1,200.9 630.4,201.2 631.7,201.4 632.9,201.4 634.2,201.2 635.5,200.9 636.8,200.5 638.1,200.1 639.4,199.8 640.7,199.7 642,199.9 643.3,200.5 644.6,201.5 645.9,202.7 647.2,204.3 648.4,206.3 649.7,208.4 651,210.7 652.3,212.9 653.6,214.8 654.9,216.3 656.2,217.4 657.5,217.7 658.8,217.4 660.1,216.4 661.4,214.7 662.7,212.3 663.9,209.5 665.2,206.4 666.5,203.2 667.8,200.1 669.1,197.1 670.4,194.6 671.7,192.7 673,191.3 674.3,190.6 675.6,190.5 676.9,190.9 678.2,191.8 679.4,193 680.7,194.4 682,195.7 683.3,197 684.6,198 685.9,198.7 687.2,199 688.5,199 689.8,198.6 691.1,197.9 692.4,197 693.7,196 695,195.1 696.2,194.2 697.5,193.5 698.8,193.1 700.1,192.9 701.4,193.1 702.7,193.5 704,194.1 705.3,194.9 706.6,195.8 707.9,196.7 709.2,197.7 710.5,198.5 711.7,199.3 713,199.9 714.3,200.4 715.6,200.7 716.9,201 718.2,201.2 719.5,201.4 720.8,201.5 722.1,201.7 723.4,201.9 724.7,202 726,202.2 727.2,202.3 728.5,202.2 729.8,202 731.1,201.5 732.4,200.6 733.7,199.2 735,197.4 736.3,195 737.6,192.1 738.9,188.6 740.2,184.7 741.5,180.4 742.7,175.8 744,171.4 745.3,167 746.6,162.9 747.9,159.1 749.2,155.9 750.5,153.3 751.8,151.5 753.1,150.3 754.4,149.8 755.7,150 757,150.8 758.2,152 759.5,153.6 760.8,155.3 762.1,157.1 763.4,158.8 764.7,160.3 766,161.6 767.3,162.5 768.6,163.1 769.9,163.2 771.2,163.1 772.5,162.6 773.7,161.7 775,160.6 776.3,159.2 777.6,157.6 778.9,155.7 780.2,153.5 781.5,151.2 782.8,148.5 784.1,145.6 785.4,142.4 786.7,139 788,135.3 789.2,131.4 790.5,127.4 791.8,123.3 793.1,119.3 794.4,115.5 795.7,112.1 797,109 798.3,106.5 799.6,104.7 800.9,103.6 802.2,103.2 803.5,103.7 804.7,105.1 806,107.5 807.3,110.7 808.6,114.6 809.9,119.2 811.2,124.5 812.5,130.2 813.8,136.4 815.1,143 816.4,150 817.7,157.3 819,164.9 820.2,172.7 821.5,180.9 822.8,189.2 824.1,197.6 825.4,205.9 826.7,214.1 828,221.9 829.3,229.1 830.6,235.7 831.9,241.5 833.2,246.6 834.5,250.9 835.8,254.5 837,257.4 838.3,259.8 839.6,261.5 840.9,262.7 842.2,263.4 843.5,263.6 844.8,263.3 846.1,262.6 847.4,261.6 848.7,260.4 850,259.1 851.3,257.8 852.5,256.8 853.8,256.2 855.1,256.2 856.4,256.7 857.7,257.9 859,259.7 860.3,262 861.6,264.8 862.9,267.8 864.2,270.9 865.5,273.8 866.8,276.4 868,278.4 869.3,279.8 870.6,280.4 871.9,280.3 873.2,279.4 874.5,277.8 875.8,275.7 877.1,273.2 878.4,270.6 879.7,268.1 881,265.8 882.3,264 883.5,262.8 884.8,262.3 886.1,262.5 887.4,263.4 888.7,264.9 890,266.8 891.3,268.9 892.6,271.2 893.9,273.3 895.2,275.2 896.5,276.6 897.8,277.4 899,277.6 900.3,277.1 901.6,276.1 902.9,274.6 904.2,272.8 905.5,270.8 906.8,268.8 908.1,267 909.4,265.5 910.7,264.5 912,264 913.3,264 914.5,264.5 915.8,265.4 917.1,266.6 918.4,268 919.7,269.3 921,270.5 922.3,271.3 923.6,271.7 924.9,271.6" fill="none" stroke="#ff6208" stroke-width="2.1" stroke-linejoin="round" stroke-linecap="round"/>
<polyline points="590.3,231.2 591.6,228.2 592.9,225.4 594.2,222.7 595.5,220.2 596.8,217.7 598.1,215.5 599.4,213.5 600.7,211.7 601.9,210.3 603.2,209.1 604.5,208.3 605.8,207.7 607.1,207.5 608.4,207.4 609.7,207.5 611,207.7 612.3,207.9 613.6,208 614.9,207.9 616.2,207.5 617.4,206.8 618.7,205.8 620,204.5 621.3,202.9 622.6,201.2 623.9,199.2 625.2,197.3 626.5,195.4 627.8,193.8 629.1,192.4 630.4,191.4 631.7,190.9 632.9,190.8 634.2,191.2 635.5,192 636.8,193.3 638.1,194.9 639.4,196.6 640.7,198.6 642,200.5 643.3,202.4 644.6,204.1 645.9,205.5 647.2,206.6 648.4,207.5 649.7,208.2 651,208.7 652.3,209 653.6,209.3 654.9,209.5 656.2,209.8 657.5,210.1 658.8,210.6 660.1,211.1 661.4,211.7 662.7,212.3 663.9,213 665.2,213.5 666.5,214 667.8,214.3 669.1,214.3 670.4,214 671.7,213.4 673,212.5 674.3,211.2 675.6,209.5 676.9,207.6 678.2,205.4 679.4,203.1 680.7,200.7 682,198.4 683.3,196.2 684.6,194.2 685.9,192.5 687.2,191 688.5,190 689.8,189.2 691.1,188.8 692.4,188.7 693.7,188.8 695,189.1 696.2,189.4 697.5,189.8 698.8,190.2 700.1,190.4 701.4,190.6 702.7,190.7 704,190.8 705.3,190.8 706.6,190.8 707.9,190.9 709.2,191.1 710.5,191.5 711.7,192 713,192.8 714.3,193.8 715.6,194.9 716.9,196.1 718.2,197.3 719.5,198.4 720.8,199.3 722.1,200 723.4,200.3 724.7,200.1 726,199.6 727.2,198.6 728.5,197.2 729.8,195.6 731.1,193.7 732.4,191.8 733.7,189.8 735,187.9 736.3,186.1 737.6,184.6 738.9,183.2 740.2,182.1 741.5,181.1 742.7,180.3 744,179.8 745.3,179.2 746.6,178.6 747.9,177.7 749.2,176.7 750.5,175.4 751.8,173.8 753.1,171.9 754.4,169.8 755.7,167.6 757,165.4 758.2,163.3 759.5,161.4 760.8,159.7 762.1,158.5 763.4,157.6 764.7,157.2 766,157.1 767.3,157.3 768.6,157.6 769.9,158 771.2,158.3 772.5,158.2 773.7,157.7 775,156.6 776.3,154.8 777.6,152.3 778.9,149.1 780.2,145.1 781.5,140.4 782.8,135.2 784.1,129.6 785.4,123.6 786.7,117.4 788,111.1 789.2,104.8 790.5,98.6 791.8,92.7 793.1,87.2 794.4,82.2 795.7,77.8 797,74.1 798.3,71.3 799.6,69.4 800.9,68.5 802.2,68.6 803.5,70 804.7,72.6 806,76.5 807.3,81.4 808.6,87.3 809.9,94.1 811.2,101.4 812.5,109.3 813.8,117.6 815.1,126.1 816.4,134.9 817.7,143.9 819,153.1 820.2,162.4 821.5,172 822.8,181.7 824.1,191.5 825.4,201.2 826.7,210.6 828,219.5 829.3,227.8 830.6,235.2 831.9,241.7 833.2,247.2 834.5,251.7 835.8,255.2 837,258 838.3,260.1 839.6,261.7 840.9,262.9 842.2,263.8 843.5,264.7 844.8,265.5 846.1,266.3 847.4,267.3 848.7,268.3 850,269.3 851.3,270.3 852.5,271.3 853.8,272 855.1,272.4 856.4,272.5 857.7,272.2 859,271.5 860.3,270.5 861.6,269.1 862.9,267.5 864.2,265.9 865.5,264.2 866.8,262.7 868,261.5 869.3,260.7 870.6,260.4 871.9,260.5 873.2,261.2 874.5,262.4 875.8,263.9 877.1,265.7 878.4,267.7 879.7,269.7 881,271.5 882.3,273.1 883.5,274.2 884.8,274.9 886.1,275 887.4,274.6 888.7,273.7 890,272.4 891.3,270.7 892.6,268.8 893.9,266.7 895.2,264.8 896.5,263 897.8,261.5 899,260.3 900.3,259.5 901.6,259.2 902.9,259.3 904.2,259.7 905.5,260.4 906.8,261.3 908.1,262.4 909.4,263.4 910.7,264.5 912,265.4 913.3,266.1 914.5,266.7 915.8,267.1 917.1,267.5 918.4,267.7 919.7,268 921,268.3 922.3,268.8 923.6,269.4 924.9,270.2" fill="none" stroke="#ff6208" stroke-width="2.1" stroke-linejoin="round" stroke-linecap="round"/>
<polyline points="590.3,236.2 591.6,234 592.9,231.6 594.2,229 595.5,226.1 596.8,223 598.1,219.8 599.4,216.5 600.7,213.2 601.9,210.1 603.2,207.3 604.5,204.8 605.8,202.7 607.1,201.1 608.4,199.8 609.7,199 611,198.5 612.3,198.3 613.6,198.2 614.9,198.2 616.2,198.3 617.4,198.3 618.7,198.2 620,198.1 621.3,197.8 622.6,197.6 623.9,197.3 625.2,197.1 626.5,197 627.8,197.2 629.1,197.6 630.4,198.3 631.7,199.2 632.9,200.4 634.2,201.9 635.5,203.4 636.8,205 638.1,206.5 639.4,207.8 640.7,208.9 642,209.7 643.3,210.2 644.6,210.2 645.9,209.8 647.2,209.1 648.4,208.2 649.7,207.2 651,206.3 652.3,205.6 653.6,205.2 654.9,205.1 656.2,205.4 657.5,206.2 658.8,207.3 660.1,208.8 661.4,210.5 662.7,212.3 663.9,214 665.2,215.4 666.5,216.6 667.8,217.2 669.1,217.1 670.4,216.5 671.7,215.1 673,213 674.3,210.3 675.6,207.2 676.9,203.7 678.2,200 679.4,196.3 680.7,192.7 682,189.6 683.3,186.9 684.6,184.8 685.9,183.4 687.2,182.7 688.5,182.6 689.8,183.2 691.1,184.2 692.4,185.6 693.7,187.2 695,188.9 696.2,190.5 697.5,191.8 698.8,192.9 700.1,193.6 701.4,193.9 702.7,193.9 704,193.6 705.3,193.1 706.6,192.6 707.9,192.2 709.2,191.9 710.5,192 711.7,192.4 713,193.2 714.3,194.4 715.6,196 716.9,197.8 718.2,199.7 719.5,201.7 720.8,203.5 722.1,205 723.4,206 724.7,206.6 726,206.5 727.2,205.9 728.5,204.7 729.8,203 731.1,200.9 732.4,198.5 733.7,195.9 735,193.2 736.3,190.5 737.6,187.9 738.9,185.3 740.2,183 741.5,180.7 742.7,178.6 744,176.7 745.3,174.8 746.6,172.9 747.9,171 749.2,168.9 750.5,166.8 751.8,164.6 753.1,162.5 754.4,160.4 755.7,158.5 757,157 758.2,155.8 759.5,155.2 760.8,155.1 762.1,155.6 763.4,156.5 764.7,157.9 766,159.6 767.3,161.5 768.6,163.3 769.9,164.9 771.2,166 772.5,166.5 773.7,166.2 775,165.1 776.3,163.2 777.6,160.5 778.9,157 780.2,152.8 781.5,148.3 782.8,143.4 784.1,138.4 785.4,133.4 786.7,128.6 788,123.9 789.2,119.6 790.5,115.6 791.8,111.9 793.1,108.7 794.4,105.9 795.7,103.6 797,101.7 798.3,100.4 799.6,99.7 800.9,99.5 802.2,100 803.5,101.2 804.7,103.3 806,106.1 807.3,109.7 808.6,113.8 809.9,118.5 811.2,123.7 812.5,129.2 813.8,135.1 815.1,141.3 816.4,147.9 817.7,154.8 819,162.1 820.2,169.8 821.5,178 822.8,186.6 824.1,195.5 825.4,204.7 826.7,213.7 828,222.5 829.3,230.7 830.6,238.2 831.9,244.7 833.2,250.2 834.5,254.7 835.8,258.2 837,260.8 838.3,262.6 839.6,263.8 840.9,264.6 842.2,265 843.5,265.2 844.8,265.4 846.1,265.6 847.4,265.9 848.7,266.2 850,266.7 851.3,267.1 852.5,267.5 853.8,267.8 855.1,267.8 856.4,267.5 857.7,267 859,266.2 860.3,265.1 861.6,263.8 862.9,262.4 864.2,261.1 865.5,260 866.8,259.1 868,258.6 869.3,258.5 870.6,258.9 871.9,259.7 873.2,260.9 874.5,262.4 875.8,264 877.1,265.7 878.4,267.3 879.7,268.6 881,269.5 882.3,270 883.5,270 884.8,269.5 886.1,268.5 887.4,267.3 888.7,265.9 890,264.5 891.3,263.3 892.6,262.4 893.9,262 895.2,262.1 896.5,262.9 897.8,264.4 899,266.5 900.3,269 901.6,271.9 902.9,274.9 904.2,277.8 905.5,280.4 906.8,282.5 908.1,283.9 909.4,284.5 910.7,284.3 912,283.1 913.3,281.1 914.5,278.4 915.8,275.2 917.1,271.7 918.4,268.1 919.7,264.7 921,261.7 922.3,259.3 923.6,257.6 924.9,256.8" fill="none" stroke="#ff6208" stroke-width="2.1" stroke-linejoin="round" stroke-linecap="round"/>
<polyline points="590.3,237.1 591.6,233.8 592.9,230.4 594.2,226.9 595.5,223.5 596.8,220.2 598.1,217.1 599.4,214.2 600.7,211.6 601.9,209.3 603.2,207.4 604.5,205.8 605.8,204.6 607.1,203.7 608.4,203.1 609.7,202.6 611,202.3 612.3,202.1 613.6,201.9 614.9,201.6 616.2,201.3 617.4,201 618.7,200.5 620,200.1 621.3,199.7 622.6,199.3 623.9,199 625.2,198.8 626.5,198.8 627.8,199.1 629.1,199.5 630.4,200.2 631.7,201.1 632.9,202.1 634.2,203.3 635.5,204.6 636.8,205.8 638.1,207 639.4,208.2 640.7,209.1 642,210 643.3,210.6 644.6,211.1 645.9,211.2 647.2,211.2 648.4,211.2 649.7,211 651,210.8 652.3,210.7 653.6,210.5 654.9,210.3 656.2,210.2 657.5,210 658.8,209.8 660.1,209.5 661.4,209.1 662.7,208.6 663.9,207.8 665.2,206.9 666.5,205.8 667.8,204.5 669.1,203.1 670.4,201.5 671.7,199.9 673,198.3 674.3,196.8 675.6,195.3 676.9,194 678.2,192.9 679.4,192 680.7,191.3 682,190.8 683.3,190.6 684.6,190.4 685.9,190.5 687.2,190.6 688.5,190.7 689.8,190.9 691.1,191 692.4,191 693.7,191 695,190.9 696.2,190.8 697.5,190.6 698.8,190.4 700.1,190.2 701.4,190.1 702.7,190.3 704,190.6 705.3,191.2 706.6,192.1 707.9,193.4 709.2,195 710.5,196.9 711.7,199.1 713,201.5 714.3,203.9 715.6,206.4 716.9,208.7 718.2,210.8 719.5,212.4 720.8,213.6 722.1,214.2 723.4,214.2 724.7,213.6 726,212.3 727.2,210.4 728.5,208 729.8,205.1 731.1,201.9 732.4,198.5 733.7,194.9 735,191.3 736.3,187.7 737.6,184.2 738.9,180.8 740.2,177.6 741.5,174.5 742.7,171.6 744,168.9 745.3,166.5 746.6,164.1 747.9,161.9 749.2,159.8 750.5,157.9 751.8,156.2 753.1,154.7 754.4,153.5 755.7,152.7 757,152.2 758.2,152.1 759.5,152.5 760.8,153.2 762.1,154.3 763.4,155.7 764.7,157.2 766,158.9 767.3,160.5 768.6,162 769.9,163.1 771.2,163.8 772.5,164 773.7,163.6 775,162.6 776.3,160.9 777.6,158.6 778.9,155.7 780.2,152.3 781.5,148.4 782.8,144.3 784.1,139.9 785.4,135.4 786.7,130.8 788,126.1 789.2,121.5 790.5,117.1 791.8,112.8 793.1,108.7 794.4,105 795.7,101.7 797,99 798.3,96.8 799.6,95.3 800.9,94.5 802.2,94.4 803.5,95.3 804.7,97.2 806,100 807.3,103.7 808.6,108.1 809.9,113.3 811.2,119 812.5,125.3 813.8,132 815.1,139.1 816.4,146.5 817.7,154.4 819,162.5 820.2,171 821.5,179.8 822.8,188.8 824.1,197.9 825.4,206.8 826.7,215.5 828,223.6 829.3,231 830.6,237.4 831.9,242.9 833.2,247.3 834.5,250.7 835.8,253.2 837,255.1 838.3,256.3 839.6,257.2 840.9,257.8 842.2,258.3 843.5,258.8 844.8,259.4 846.1,260.1 847.4,260.9 848.7,261.8 850,262.9 851.3,263.9 852.5,264.9 853.8,265.8 855.1,266.5 856.4,267 857.7,267.2 859,267.1 860.3,266.8 861.6,266.3 862.9,265.7 864.2,264.9 865.5,264.2 866.8,263.5 868,263 869.3,262.5 870.6,262.2 871.9,262.1 873.2,262.1 874.5,262.3 875.8,262.6 877.1,263 878.4,263.4 879.7,263.9 881,264.5 882.3,265.1 883.5,265.8 884.8,266.5 886.1,267.3 887.4,268.2 888.7,269.2 890,270.4 891.3,271.7 892.6,273.1 893.9,274.7 895.2,276.3 896.5,277.9 897.8,279.5 899,281 900.3,282.2 901.6,283.1 902.9,283.7 904.2,283.9 905.5,283.6 906.8,282.9 908.1,281.8 909.4,280.3 910.7,278.5 912,276.4 913.3,274.2 914.5,271.9 915.8,269.7 917.1,267.6 918.4,265.8 919.7,264.2 921,262.9 922.3,262 923.6,261.3 924.9,260.8" fill="none" stroke="#ff6208" stroke-width="2.1" stroke-linejoin="round" stroke-linecap="round"/>
<polyline points="590.3,228.1 591.6,225.4 592.9,222.8 594.2,220.2 595.5,217.6 596.8,215.1 598.1,212.6 599.4,210.1 600.7,207.8 601.9,205.6 603.2,203.5 604.5,201.7 605.8,200.2 607.1,198.9 608.4,198 609.7,197.3 611,196.9 612.3,196.6 613.6,196.5 614.9,196.5 616.2,196.4 617.4,196.3 618.7,196.1 620,195.7 621.3,195.1 622.6,194.3 623.9,193.4 625.2,192.3 626.5,191.2 627.8,190.2 629.1,189.3 630.4,188.6 631.7,188.2 632.9,188.2 634.2,188.5 635.5,189.3 636.8,190.4 638.1,191.9 639.4,193.6 640.7,195.6 642,197.6 643.3,199.6 644.6,201.5 645.9,203.1 647.2,204.4 648.4,205.3 649.7,205.9 651,206.2 652.3,206.1 653.6,205.8 654.9,205.2 656.2,204.4 657.5,203.6 658.8,202.7 660.1,201.8 661.4,201.1 662.7,200.4 663.9,199.9 665.2,199.5 666.5,199.2 667.8,199 669.1,198.7 670.4,198.4 671.7,198 673,197.3 674.3,196.4 675.6,195.3 676.9,193.9 678.2,192.2 679.4,190.3 680.7,188.2 682,186.1 683.3,183.9 684.6,181.9 685.9,180 687.2,178.5 688.5,177.4 689.8,176.7 691.1,176.4 692.4,176.6 693.7,177.3 695,178.4 696.2,179.7 697.5,181.3 698.8,183.1 700.1,184.9 701.4,186.7 702.7,188.5 704,190.1 705.3,191.6 706.6,193 707.9,194.2 709.2,195.4 710.5,196.5 711.7,197.5 713,198.6 714.3,199.7 715.6,200.7 716.9,201.7 718.2,202.6 719.5,203.3 720.8,203.7 722.1,203.7 723.4,203.4 724.7,202.5 726,201.1 727.2,199.1 728.5,196.6 729.8,193.6 731.1,190.2 732.4,186.5 733.7,182.6 735,178.6 736.3,174.6 737.6,170.7 738.9,166.9 740.2,163.3 741.5,159.9 742.7,156.7 744,153.9 745.3,151.3 746.6,148.9 747.9,146.6 749.2,144.5 750.5,142.6 751.8,140.8 753.1,139.2 754.4,138 755.7,137.1 757,136.5 758.2,136.4 759.5,136.7 760.8,137.5 762.1,138.6 763.4,140.1 764.7,141.8 766,143.8 767.3,145.8 768.6,147.8 769.9,149.6 771.2,151.1 772.5,152.1 773.7,152.6 775,152.4 776.3,151.3 777.6,149.5 778.9,146.8 780.2,143.2 781.5,138.9 782.8,133.9 784.1,128.3 785.4,122.3 786.7,115.9 788,109.4 789.2,102.8 790.5,96.4 791.8,90.2 793.1,84.4 794.4,79.1 795.7,74.5 797,70.7 798.3,67.7 799.6,65.7 800.9,64.7 802.2,64.8 803.5,66.1 804.7,68.6 806,72.4 807.3,77.2 808.6,82.9 809.9,89.5 811.2,96.7 812.5,104.3 813.8,112.3 815.1,120.5 816.4,129 817.7,137.5 819,146.3 820.2,155.1 821.5,164.2 822.8,173.3 824.1,182.6 825.4,191.7 826.7,200.7 828,209.2 829.3,217.1 830.6,224.2 831.9,230.3 833.2,235.5 834.5,239.7 835.8,243 837,245.5 838.3,247.2 839.6,248.3 840.9,248.9 842.2,249.2 843.5,249.4 844.8,249.4 846.1,249.4 847.4,249.6 848.7,249.8 850,250.2 851.3,250.7 852.5,251.2 853.8,251.7 855.1,252 856.4,252.1 857.7,251.8 859,251.2 860.3,250.2 861.6,248.8 862.9,247 864.2,244.9 865.5,242.7 866.8,240.4 868,238.2 869.3,236.3 870.6,234.8 871.9,233.7 873.2,233.3 874.5,233.5 875.8,234.4 877.1,235.8 878.4,237.8 879.7,240.3 881,243 882.3,245.8 883.5,248.5 884.8,251.1 886.1,253.3 887.4,255.1 888.7,256.3 890,256.9 891.3,257 892.6,256.6 893.9,255.6 895.2,254.3 896.5,252.8 897.8,251 899,249.3 900.3,247.5 901.6,245.9 902.9,244.4 904.2,243 905.5,241.7 906.8,240.5 908.1,239.4 909.4,238.1 910.7,236.8 912,235.2 913.3,233.4 914.5,231.4 915.8,229.1 917.1,226.6 918.4,223.8 919.7,221 921,218.2 922.3,215.4 923.6,212.7 924.9,210.4" fill="none" stroke="#4d9cf0" stroke-width="2.1" stroke-linejoin="round" stroke-linecap="round"/>
<polyline points="590.3,231.9 591.6,230 592.9,227.9 594.2,225.5 595.5,222.8 596.8,219.9 598.1,216.8 599.4,213.7 600.7,210.6 601.9,207.6 603.2,204.9 604.5,202.6 605.8,200.6 607.1,199.2 608.4,198.2 609.7,197.6 611,197.4 612.3,197.5 613.6,197.6 614.9,197.8 616.2,197.8 617.4,197.6 618.7,197 620,196.1 621.3,194.9 622.6,193.2 623.9,191.3 625.2,189.2 626.5,187.1 627.8,185.1 629.1,183.3 630.4,181.8 631.7,180.9 632.9,180.5 634.2,180.7 635.5,181.6 636.8,183 638.1,185 639.4,187.4 640.7,190.1 642,192.9 643.3,195.7 644.6,198.4 645.9,200.8 647.2,202.8 648.4,204.5 649.7,205.8 651,206.7 652.3,207.3 653.6,207.6 654.9,207.6 656.2,207.5 657.5,207.2 658.8,206.9 660.1,206.6 661.4,206.2 662.7,205.8 663.9,205.3 665.2,204.8 666.5,204.2 667.8,203.4 669.1,202.4 670.4,201.2 671.7,199.7 673,198 674.3,196.1 675.6,194 676.9,191.9 678.2,189.7 679.4,187.7 680.7,185.9 682,184.4 683.3,183.4 684.6,182.7 685.9,182.6 687.2,182.9 688.5,183.7 689.8,184.9 691.1,186.4 692.4,188 693.7,189.6 695,191.1 696.2,192.4 697.5,193.3 698.8,193.7 700.1,193.7 701.4,193.2 702.7,192.2 704,190.9 705.3,189.4 706.6,187.8 707.9,186.2 709.2,184.9 710.5,183.9 711.7,183.3 713,183.3 714.3,183.9 715.6,184.9 716.9,186.3 718.2,188.1 719.5,189.9 720.8,191.8 722.1,193.4 723.4,194.6 724.7,195.3 726,195.4 727.2,194.8 728.5,193.5 729.8,191.6 731.1,189.2 732.4,186.3 733.7,183.2 735,179.8 736.3,176.5 737.6,173.2 738.9,170.1 740.2,167.2 741.5,164.4 742.7,161.9 744,159.7 745.3,157.7 746.6,155.7 747.9,153.7 749.2,151.8 750.5,149.8 751.8,147.8 753.1,145.9 754.4,144.2 755.7,142.7 757,141.5 758.2,140.7 759.5,140.4 760.8,140.5 762.1,141.2 763.4,142.3 764.7,143.8 766,145.6 767.3,147.5 768.6,149.5 769.9,151.4 771.2,153 772.5,154.2 773.7,154.8 775,154.7 776.3,153.8 777.6,152.2 778.9,149.8 780.2,146.7 781.5,142.9 782.8,138.6 784.1,133.9 785.4,128.9 786.7,123.7 788,118.4 789.2,113.3 790.5,108.2 791.8,103.4 793.1,99 794.4,95 795.7,91.5 797,88.5 798.3,86.3 799.6,84.7 800.9,83.9 802.2,83.8 803.5,84.7 804.7,86.6 806,89.4 807.3,93 808.6,97.3 809.9,102.2 811.2,107.7 812.5,113.7 813.8,120 815.1,126.7 816.4,133.8 817.7,141.3 819,149.2 820.2,157.6 821.5,166.5 822.8,175.9 824.1,185.6 825.4,195.4 826.7,205.2 828,214.6 829.3,223.4 830.6,231.2 831.9,237.9 833.2,243.4 834.5,247.6 835.8,250.5 837,252.2 838.3,252.9 839.6,252.7 840.9,251.9 842.2,250.6 843.5,249.1 844.8,247.6 846.1,246.3 847.4,245.4 848.7,244.8 850,244.8 851.3,245.2 852.5,245.9 853.8,247 855.1,248.1 856.4,249.2 857.7,250.1 859,250.7 860.3,250.9 861.6,250.7 862.9,250 864.2,249.1 865.5,247.9 866.8,246.5 868,245.2 869.3,244.1 870.6,243.3 871.9,242.8 873.2,242.7 874.5,243.1 875.8,243.9 877.1,245.1 878.4,246.5 879.7,247.9 881,249.4 882.3,250.7 883.5,251.7 884.8,252.2 886.1,252.4 887.4,252 888.7,251.3 890,250.1 891.3,248.6 892.6,247 893.9,245.3 895.2,243.7 896.5,242.4 897.8,241.4 899,240.8 900.3,240.6 901.6,240.8 902.9,241.4 904.2,242.3 905.5,243.3 906.8,244.4 908.1,245.4 909.4,246.3 910.7,246.9 912,247.1 913.3,247 914.5,246.6 915.8,246 917.1,245.2 918.4,244.3 919.7,243.5 921,242.9 922.3,242.7 923.6,242.8 924.9,243.3" fill="none" stroke="#4d9cf0" stroke-width="2.1" stroke-linejoin="round" stroke-linecap="round"/>
<polyline points="590.3,228.5 591.6,224.8 592.9,221.2 594.2,217.7 595.5,214.3 596.8,211.2 598.1,208.5 599.4,206.1 600.7,204.2 601.9,202.7 603.2,201.6 604.5,200.9 605.8,200.5 607.1,200.4 608.4,200.5 609.7,200.6 611,200.8 612.3,200.9 613.6,200.8 614.9,200.6 616.2,200.1 617.4,199.5 618.7,198.6 620,197.7 621.3,196.6 622.6,195.6 623.9,194.6 625.2,193.7 626.5,193 627.8,192.5 629.1,192.1 630.4,191.9 631.7,191.9 632.9,191.9 634.2,192 635.5,192.2 636.8,192.2 638.1,192.2 639.4,192.1 640.7,191.9 642,191.6 643.3,191.3 644.6,191 645.9,190.6 647.2,190.3 648.4,190.4 649.7,190.7 651,191.4 652.3,192.5 653.6,194 654.9,195.7 656.2,197.8 657.5,200 658.8,202.2 660.1,204.3 661.4,206.2 662.7,207.7 663.9,208.8 665.2,209.3 666.5,209.2 667.8,208.6 669.1,207.3 670.4,205.6 671.7,203.4 673,200.9 674.3,198.2 675.6,195.5 676.9,192.9 678.2,190.4 679.4,188.3 680.7,186.5 682,185.2 683.3,184.3 684.6,183.9 685.9,183.8 687.2,184.1 688.5,184.7 689.8,185.5 691.1,186.4 692.4,187.4 693.7,188.2 695,189 696.2,189.7 697.5,190.1 698.8,190.5 700.1,190.6 701.4,190.7 702.7,190.7 704,190.7 705.3,190.8 706.6,190.9 707.9,191.1 709.2,191.5 710.5,192 711.7,192.6 713,193.3 714.3,194 715.6,194.6 716.9,195.1 718.2,195.3 719.5,195.2 720.8,194.8 722.1,194 723.4,192.8 724.7,191.2 726,189.3 727.2,187.1 728.5,184.8 729.8,182.4 731.1,180.1 732.4,177.8 733.7,175.7 735,173.8 736.3,172.2 737.6,170.7 738.9,169.4 740.2,168.2 741.5,167.1 742.7,166 744,165 745.3,164 746.6,162.9 747.9,161.6 749.2,160.3 750.5,158.9 751.8,157.6 753.1,156.3 754.4,155.2 755.7,154.3 757,153.8 758.2,153.6 759.5,153.8 760.8,154.4 762.1,155.2 763.4,156.3 764.7,157.5 766,158.7 767.3,159.8 768.6,160.5 769.9,160.9 771.2,160.7 772.5,159.9 773.7,158.4 775,156.2 776.3,153.5 777.6,150.1 778.9,146.3 780.2,142.1 781.5,137.7 782.8,133 784.1,128.3 785.4,123.6 786.7,119 788,114.4 789.2,109.9 790.5,105.6 791.8,101.5 793.1,97.7 794.4,94.1 795.7,91 797,88.3 798.3,86.1 799.6,84.6 800.9,83.8 802.2,83.8 803.5,84.7 804.7,86.5 806,89.3 807.3,93 808.6,97.4 809.9,102.5 811.2,108.2 812.5,114.4 813.8,120.9 815.1,127.8 816.4,135.1 817.7,142.7 819,150.6 820.2,158.9 821.5,167.5 822.8,176.4 824.1,185.4 825.4,194.5 826.7,203.4 828,211.8 829.3,219.7 830.6,226.8 831.9,233.1 833.2,238.4 834.5,243 835.8,246.7 837,249.8 838.3,252.4 839.6,254.6 840.9,256.5 842.2,258.2 843.5,259.7 844.8,261 846.1,262.2 847.4,263.2 848.7,264 850,264.6 851.3,264.7 852.5,264.6 853.8,264 855.1,263.1 856.4,262 857.7,260.6 859,259.2 860.3,257.7 861.6,256.4 862.9,255.4 864.2,254.7 865.5,254.4 866.8,254.6 868,255.2 869.3,256.2 870.6,257.5 871.9,259.1 873.2,260.9 874.5,262.6 875.8,264.3 877.1,265.8 878.4,267 879.7,267.8 881,268.3 882.3,268.5 883.5,268.3 884.8,267.8 886.1,267.2 887.4,266.5 888.7,265.9 890,265.3 891.3,264.9 892.6,264.6 893.9,264.6 895.2,264.8 896.5,265.2 897.8,265.6 899,265.9 900.3,266.1 901.6,266.1 902.9,265.7 904.2,265 905.5,263.8 906.8,262.1 908.1,260.1 909.4,257.7 910.7,255.1 912,252.3 913.3,249.7 914.5,247.2 915.8,245.2 917.1,243.6 918.4,242.7 919.7,242.4 921,242.9 922.3,244.1 923.6,245.9 924.9,248.3" fill="none" stroke="#4d9cf0" stroke-width="2.1" stroke-linejoin="round" stroke-linecap="round"/>
<polyline points="590.3,230.3 591.6,227.3 592.9,224.5 594.2,221.7 595.5,219.2 596.8,216.8 598.1,214.7 599.4,212.7 600.7,211 601.9,209.3 603.2,207.8 604.5,206.3 605.8,204.7 607.1,203.1 608.4,201.4 609.7,199.5 611,197.6 612.3,195.5 613.6,193.4 614.9,191.4 616.2,189.5 617.4,187.7 618.7,186.3 620,185.2 621.3,184.6 622.6,184.4 623.9,184.6 625.2,185.3 626.5,186.3 627.8,187.7 629.1,189.2 630.4,190.9 631.7,192.5 632.9,193.9 634.2,195.2 635.5,196.1 636.8,196.7 638.1,196.9 639.4,196.9 640.7,196.6 642,196.1 643.3,195.7 644.6,195.2 645.9,194.8 647.2,194.8 648.4,195.1 649.7,195.9 651,197.1 652.3,198.8 653.6,200.8 654.9,203.1 656.2,205.5 657.5,207.9 658.8,210.1 660.1,212 661.4,213.4 662.7,214.3 663.9,214.5 665.2,214 666.5,212.9 667.8,211.1 669.1,208.9 670.4,206.2 671.7,203.4 673,200.3 674.3,197.3 675.6,194.5 676.9,191.8 678.2,189.5 679.4,187.4 680.7,185.7 682,184.4 683.3,183.3 684.6,182.5 685.9,181.8 687.2,181.3 688.5,180.8 689.8,180.3 691.1,179.9 692.4,179.4 693.7,178.9 695,178.4 696.2,178 697.5,177.7 698.8,177.5 700.1,177.5 701.4,177.8 702.7,178.4 704,179.3 705.3,180.4 706.6,181.9 707.9,183.6 709.2,185.5 710.5,187.6 711.7,189.7 713,191.8 714.3,193.8 715.6,195.7 716.9,197.3 718.2,198.6 719.5,199.6 720.8,200.3 722.1,200.6 723.4,200.6 724.7,200.3 726,199.7 727.2,198.9 728.5,197.9 729.8,196.7 731.1,195.4 732.4,194 733.7,192.4 735,190.6 736.3,188.5 737.6,186.2 738.9,183.5 740.2,180.6 741.5,177.2 742.7,173.6 744,169.8 745.3,165.9 746.6,161.9 747.9,157.9 749.2,154.2 750.5,150.8 751.8,147.8 753.1,145.4 754.4,143.7 755.7,142.7 757,142.5 758.2,143 759.5,144.2 760.8,145.9 762.1,148.1 763.4,150.4 764.7,152.8 766,155.1 767.3,157 768.6,158.5 769.9,159.3 771.2,159.5 772.5,159 773.7,157.7 775,155.7 776.3,153.1 777.6,150 778.9,146.5 780.2,142.6 781.5,138.6 782.8,134.4 784.1,130.2 785.4,126 786.7,121.7 788,117.6 789.2,113.5 790.5,109.4 791.8,105.5 793.1,101.8 794.4,98.3 795.7,95.2 797,92.5 798.3,90.4 799.6,88.8 800.9,88 802.2,87.9 803.5,88.7 804.7,90.5 806,93.1 807.3,96.7 808.6,101 809.9,106 811.2,111.6 812.5,117.7 813.8,124.3 815.1,131.2 816.4,138.4 817.7,145.9 819,153.7 820.2,161.9 821.5,170.2 822.8,178.8 824.1,187.4 825.4,196 826.7,204.3 828,212.3 829.3,219.7 830.6,226.3 831.9,232.3 833.2,237.5 834.5,242 835.8,245.9 837,249.3 838.3,252.3 839.6,255 840.9,257.4 842.2,259.6 843.5,261.5 844.8,263.2 846.1,264.5 847.4,265.5 848.7,266.1 850,266.2 851.3,265.9 852.5,265.3 853.8,264.3 855.1,263.1 856.4,261.8 857.7,260.6 859,259.5 860.3,258.7 861.6,258.2 862.9,258 864.2,258.3 865.5,258.8 866.8,259.5 868,260.4 869.3,261.3 870.6,262 871.9,262.4 873.2,262.5 874.5,262.1 875.8,261.2 877.1,259.9 878.4,258.2 879.7,256.2 881,254 882.3,251.7 883.5,249.7 884.8,247.9 886.1,246.7 887.4,246.1 888.7,246.2 890,247 891.3,248.5 892.6,250.8 893.9,253.5 895.2,256.7 896.5,260.1 897.8,263.6 899,266.8 900.3,269.7 901.6,272.2 902.9,274 904.2,275.1 905.5,275.6 906.8,275.3 908.1,274.5 909.4,273.2 910.7,271.5 912,269.6 913.3,267.7 914.5,265.9 915.8,264.3 917.1,263 918.4,262 919.7,261.4 921,261.1 922.3,261.2 923.6,261.5 924.9,261.9" fill="none" stroke="#4d9cf0" stroke-width="2.1" stroke-linejoin="round" stroke-linecap="round"/>
<line x1="591.3" y1="180.6" x2="930" y2="180.6" stroke="#000" stroke-width="2.1" stroke-dasharray="2 5"/>
<line x1="585.3" y1="37.3" x2="585.3" y2="295" stroke="#000" stroke-width="2.5"/>
<line x1="584.3" y1="293.8" x2="931" y2="293.8" stroke="#000" stroke-width="2.5"/>
<line x1="577.9" y1="39.1" x2="585.3" y2="39.1" stroke="#000" stroke-width="2.2"/>
<text x="575" y="45.5" font-size="18.5" text-anchor="end" font-weight="bold" textLength="32.3" lengthAdjust="spacingAndGlyphs">0.05</text>
<line x1="577.9" y1="67.4" x2="585.3" y2="67.4" stroke="#000" stroke-width="2.2"/>
<text x="575" y="73.8" font-size="18.5" text-anchor="end" font-weight="bold" textLength="32.3" lengthAdjust="spacingAndGlyphs">0.04</text>
<line x1="577.9" y1="95.7" x2="585.3" y2="95.7" stroke="#000" stroke-width="2.2"/>
<text x="575" y="102.1" font-size="18.5" text-anchor="end" font-weight="bold" textLength="32.3" lengthAdjust="spacingAndGlyphs">0.03</text>
<line x1="577.9" y1="124" x2="585.3" y2="124" stroke="#000" stroke-width="2.2"/>
<text x="575" y="130.4" font-size="18.5" text-anchor="end" font-weight="bold" textLength="32.3" lengthAdjust="spacingAndGlyphs">0.02</text>
<line x1="577.9" y1="152.3" x2="585.3" y2="152.3" stroke="#000" stroke-width="2.2"/>
<text x="575" y="158.7" font-size="18.5" text-anchor="end" font-weight="bold" textLength="32.3" lengthAdjust="spacingAndGlyphs">0.01</text>
<line x1="577.9" y1="180.6" x2="585.3" y2="180.6" stroke="#000" stroke-width="2.2"/>
<text x="575" y="187" font-size="18.5" text-anchor="end" font-weight="bold" textLength="32.3" lengthAdjust="spacingAndGlyphs">0.00</text>
<line x1="577.9" y1="208.9" x2="585.3" y2="208.9" stroke="#000" stroke-width="2.2"/>
<text x="575" y="215.3" font-size="18.5" text-anchor="end" font-weight="bold" textLength="38.3" lengthAdjust="spacingAndGlyphs">-0.01</text>
<line x1="577.9" y1="237.2" x2="585.3" y2="237.2" stroke="#000" stroke-width="2.2"/>
<text x="575" y="243.6" font-size="18.5" text-anchor="end" font-weight="bold" textLength="38.3" lengthAdjust="spacingAndGlyphs">-0.02</text>
<line x1="577.9" y1="265.5" x2="585.3" y2="265.5" stroke="#000" stroke-width="2.2"/>
<text x="575" y="271.9" font-size="18.5" text-anchor="end" font-weight="bold" textLength="38.3" lengthAdjust="spacingAndGlyphs">-0.03</text>
<line x1="577.9" y1="293.8" x2="585.3" y2="293.8" stroke="#000" stroke-width="2.2"/>
<text x="575" y="300.2" font-size="18.5" text-anchor="end" font-weight="bold" textLength="38.3" lengthAdjust="spacingAndGlyphs">-0.04</text>
<line x1="585.4" y1="293.8" x2="585.4" y2="301.8" stroke="#000" stroke-width="2.2"/>
<text x="584.8" y="321.3" font-size="19.2" text-anchor="middle" font-weight="bold" textLength="18.8" lengthAdjust="spacingAndGlyphs">60</text>
<line x1="634.6" y1="293.8" x2="634.6" y2="301.8" stroke="#000" stroke-width="2.2"/>
<text x="634" y="321.3" font-size="19.2" text-anchor="middle" font-weight="bold" textLength="18.8" lengthAdjust="spacingAndGlyphs">65</text>
<line x1="683.8" y1="293.8" x2="683.8" y2="301.8" stroke="#000" stroke-width="2.2"/>
<text x="683.2" y="321.3" font-size="19.2" text-anchor="middle" font-weight="bold" textLength="18.8" lengthAdjust="spacingAndGlyphs">70</text>
<line x1="733" y1="293.8" x2="733" y2="301.8" stroke="#000" stroke-width="2.2"/>
<text x="732.4" y="321.3" font-size="19.2" text-anchor="middle" font-weight="bold" textLength="18.8" lengthAdjust="spacingAndGlyphs">75</text>
<line x1="782.2" y1="293.8" x2="782.2" y2="301.8" stroke="#000" stroke-width="2.2"/>
<text x="781.6" y="321.3" font-size="19.2" text-anchor="middle" font-weight="bold" textLength="18.8" lengthAdjust="spacingAndGlyphs">80</text>
<line x1="831.4" y1="293.8" x2="831.4" y2="301.8" stroke="#000" stroke-width="2.2"/>
<text x="830.8" y="321.3" font-size="19.2" text-anchor="middle" font-weight="bold" textLength="18.8" lengthAdjust="spacingAndGlyphs">85</text>
<line x1="880.6" y1="293.8" x2="880.6" y2="301.8" stroke="#000" stroke-width="2.2"/>
<text x="880" y="321.3" font-size="19.2" text-anchor="middle" font-weight="bold" textLength="18.8" lengthAdjust="spacingAndGlyphs">90</text>
<line x1="929.8" y1="293.8" x2="929.8" y2="301.8" stroke="#000" stroke-width="2.2"/>
<text x="929.2" y="321.3" font-size="19.2" text-anchor="middle" font-weight="bold" textLength="18.8" lengthAdjust="spacingAndGlyphs">95</text>
<text x="680" y="352.2" font-size="20.5" font-weight="bold" textLength="156.5" lengthAdjust="spacingAndGlyphs">Temperature (°C)</text>
<text x="522.6" y="192.5" font-size="20" font-weight="bold" transform="rotate(-90 522.6 192.5)" textLength="52.5" lengthAdjust="spacingAndGlyphs">dF/dT</text>
<polyline points="573.7,601.6 574.9,601.1 576.1,600.6 577.3,600.1 578.4,599.7 579.6,599.3 580.8,599 581.9,598.7 583.1,598.5 584.3,598.3 585.4,598.2 586.6,598.1 587.8,598.1 589,598.2 590.1,598.3 591.3,598.4 592.5,598.6 593.6,598.9 594.8,599.2 596,599.6 597.2,600 598.3,600.4 599.5,600.9 600.7,601.4 601.8,601.9 603,602.4 604.2,603 605.3,603.5 606.5,604.1 607.7,604.7 608.9,605.3 610,605.8 611.2,606.4 612.4,606.9 613.5,607.5 614.7,608 615.9,608.5 617,608.9 618.2,609.4 619.4,609.8 620.6,610.2 621.7,610.6 622.9,610.9 624.1,611.2 625.2,611.5 626.4,611.8 627.6,612 628.7,612.2 629.9,612.4 631.1,612.6 632.3,612.7 633.4,612.9 634.6,613 635.8,613.1 636.9,613.2 638.1,613.3 639.3,613.3 640.5,613.4 641.6,613.4 642.8,613.5 644,613.5 645.1,613.6 646.3,613.6 647.5,613.6 648.6,613.7 649.8,613.7 651,613.7 652.2,613.7 653.3,613.8 654.5,613.8 655.7,613.9 656.8,613.9 658,613.9 659.2,614 660.3,614.1 661.5,614.1 662.7,614.2 663.9,614.2 665,614.3 666.2,614.4 667.4,614.5 668.5,614.6 669.7,614.6 670.9,614.7 672,614.8 673.2,614.9 674.4,615 675.6,615.1 676.7,615.2 677.9,615.4 679.1,615.5 680.2,615.6 681.4,615.7 682.6,615.8 683.8,615.9 684.9,616 686.1,616.1 687.3,616.3 688.4,616.4 689.6,616.5 690.8,616.6 691.9,616.7 693.1,616.8 694.3,616.9 695.5,616.9 696.6,617 697.8,617.1 699,617.2 700.1,617.2 701.3,617.3 702.5,617.3 703.6,617.3 704.8,617.4 706,617.4 707.2,617.4 708.3,617.4 709.5,617.3 710.7,617.3 711.8,617.2 713,617.2 714.2,617.1 715.3,617 716.5,616.8 717.7,616.7 718.9,616.5 720,616.3 721.2,616.1 722.4,615.9 723.5,615.6 724.7,615.3 725.9,615 727.1,614.7 728.2,614.3 729.4,613.9 730.6,613.5 731.7,613 732.9,612.5 734.1,612 735.2,611.5 736.4,610.9 737.6,610.4 738.8,609.8 739.9,609.2 741.1,608.6 742.3,608.1 743.4,607.5 744.6,606.9 745.8,606.4 746.9,605.9 748.1,605.4 749.3,605 750.5,604.6 751.6,604.3 752.8,604.1 754,603.9 755.1,603.8 756.3,603.8 757.5,603.9 758.6,604.1 759.8,604.3 761,604.7 762.2,605.1 763.3,605.7 764.5,606.3 765.7,607 766.8,607.8 768,608.7 769.2,609.6 770.3,610.6 771.5,611.7 772.7,612.8 773.9,614 775,614.4 776.2,615.6 777.4,616.7 778.5,617.9 779.7,619 780.9,620.2 782.1,621.3 783.2,622.4 784.4,623.4 785.6,624.4 786.7,625.4 787.9,626.3 789.1,627.2 790.2,628 791.4,628.8 792.6,629.5 793.8,630.2 794.9,630.9 796.1,631.5 797.3,632.1 798.4,632.6 799.6,633.1 800.8,633.5 801.9,634 803.1,634.4 804.3,634.7 805.5,635.1 806.6,635.4 807.8,635.7 809,635.9 810.1,636.2 811.3,636.4 812.5,636.6 813.6,636.8 814.8,637 816,637.1 817.2,637.3 818.3,637.4 819.5,637.5 820.7,637.7 821.8,637.8 823,637.9 824.2,638 825.4,638 826.5,638.1 827.7,638.2 828.9,638.2 830,638.3 831.2,638.4 832.4,638.4 833.5,638.5 834.7,638.5 835.9,638.5 837.1,638.6 838.2,638.6 839.4,638.6 840.6,638.7 841.7,638.7 842.9,638.7 844.1,638.8 845.2,638.8 846.4,638.8 847.6,638.8 848.8,638.8 849.9,638.9 851.1,638.9 852.3,638.9 853.4,638.9 854.6,638.9 855.8,638.9 856.9,638.9 858.1,638.9 859.3,639 860.5,639 861.6,639 862.8,639 864,639 865.1,639 866.3,639 867.5,639 868.7,639 869.8,639 871,639 872.2,639 873.3,639 874.5,639.1 875.7,639.1 876.8,639.1 878,639.1 879.2,639.1 880.4,639.1 881.5,639.1 882.7,639.1 883.9,639.1 885,639.1 886.2,639.1 887.4,639.1 888.5,639.1 889.7,639.1 890.9,639.1 892.1,639.1 893.2,639.1 894.4,639.1 895.6,639.1 896.7,639.1 897.9,639.1 899.1,639.1 900.2,639.1 901.4,639.1 902.6,639.1 903.8,639.1 904.9,639.1 906.1,639.1 907.3,639.1 908.4,639.1 909.6,639.1 910.8,639.1 912,639.1 913.1,639.1 914.3,639.1 915.5,639.1 916.6,639.1 917.8,639.1 919,639.1 920.1,639.1 921.3,639.1 922.5,639.1 923.7,639.1" fill="none" stroke="#ff0000" stroke-width="2.2" stroke-linejoin="round" stroke-linecap="round"/>
<polyline points="573.7,600.8 574.9,600.3 576.1,599.8 577.3,599.4 578.4,598.9 579.6,598.6 580.8,598.2 581.9,597.9 583.1,597.7 584.3,597.5 585.4,597.4 586.6,597.4 587.8,597.3 589,597.4 590.1,597.5 591.3,597.7 592.5,597.9 593.6,598.1 594.8,598.4 596,598.8 597.2,599.2 598.3,599.6 599.5,600.1 600.7,600.6 601.8,601.1 603,601.6 604.2,602.2 605.3,602.8 606.5,603.3 607.7,603.9 608.9,604.5 610,605.1 611.2,605.6 612.4,606.2 613.5,606.7 614.7,607.2 615.9,607.7 617,608.1 618.2,608.6 619.4,609 620.6,609.4 621.7,609.8 622.9,610.1 624.1,610.4 625.2,610.7 626.4,611 627.6,611.2 628.7,611.4 629.9,611.6 631.1,611.8 632.3,612 633.4,612.1 634.6,612.2 635.8,612.3 636.9,612.4 638.1,612.5 639.3,612.5 640.5,612.6 641.6,612.7 642.8,612.7 644,612.7 645.1,612.8 646.3,612.8 647.5,612.8 648.6,612.9 649.8,612.9 651,612.9 652.2,613 653.3,613 654.5,613 655.7,613.1 656.8,613.1 658,613.2 659.2,613.2 660.3,613.3 661.5,613.3 662.7,613.4 663.9,613.5 665,613.5 666.2,613.6 667.4,613.7 668.5,613.8 669.7,613.9 670.9,614 672,614.1 673.2,614.2 674.4,614.3 675.6,614.4 676.7,614.5 677.9,614.6 679.1,614.7 680.2,614.8 681.4,614.9 682.6,615 683.8,615.1 684.9,615.3 686.1,615.4 687.3,615.5 688.4,615.6 689.6,615.7 690.8,615.8 691.9,615.9 693.1,616 694.3,616.1 695.5,616.2 696.6,616.2 697.8,616.3 699,616.4 700.1,616.4 701.3,616.5 702.5,616.5 703.6,616.6 704.8,616.6 706,616.6 707.2,616.6 708.3,616.6 709.5,616.5 710.7,616.5 711.8,616.4 713,616.4 714.2,616.3 715.3,616.2 716.5,616.1 717.7,615.9 718.9,615.7 720,615.6 721.2,615.3 722.4,615.1 723.5,614.8 724.7,614.5 725.9,614.2 727.1,613.9 728.2,613.5 729.4,613.1 730.6,612.7 731.7,612.2 732.9,611.7 734.1,611.2 735.2,610.7 736.4,610.2 737.6,609.6 738.8,609 739.9,608.4 741.1,607.9 742.3,607.3 743.4,606.7 744.6,606.2 745.8,605.6 746.9,605.1 748.1,604.7 749.3,604.2 750.5,603.9 751.6,603.6 752.8,603.3 754,603.1 755.1,603 756.3,603 757.5,603.1 758.6,603.3 759.8,603.5 761,603.9 762.2,604.3 763.3,604.9 764.5,605.5 765.7,606.2 766.8,607 768,607.9 769.2,608.8 770.3,609.8 771.5,610.9 772.7,612 773.9,613.2 775,613.7 776.2,614.8 777.4,616 778.5,617.1 779.7,618.3 780.9,619.4 782.1,620.5 783.2,621.6 784.4,622.6 785.6,623.6 786.7,624.6 787.9,625.5 789.1,626.4 790.2,627.2 791.4,628 792.6,628.8 793.8,629.5 794.9,630.1 796.1,630.7 797.3,631.3 798.4,631.8 799.6,632.3 800.8,632.8 801.9,633.2 803.1,633.6 804.3,634 805.5,634.3 806.6,634.6 807.8,634.9 809,635.2 810.1,635.4 811.3,635.6 812.5,635.8 813.6,636 814.8,636.2 816,636.4 817.2,636.5 818.3,636.6 819.5,636.8 820.7,636.9 821.8,637 823,637.1 824.2,637.2 825.4,637.3 826.5,637.3 827.7,637.4 828.9,637.5 830,637.5 831.2,637.6 832.4,637.6 833.5,637.7 834.7,637.7 835.9,637.8 837.1,637.8 838.2,637.8 839.4,637.9 840.6,637.9 841.7,637.9 842.9,637.9 844.1,638 845.2,638 846.4,638 847.6,638 848.8,638.1 849.9,638.1 851.1,638.1 852.3,638.1 853.4,638.1 854.6,638.1 855.8,638.1 856.9,638.2 858.1,638.2 859.3,638.2 860.5,638.2 861.6,638.2 862.8,638.2 864,638.2 865.1,638.2 866.3,638.2 867.5,638.2 868.7,638.2 869.8,638.3 871,638.3 872.2,638.3 873.3,638.3 874.5,638.3 875.7,638.3 876.8,638.3 878,638.3 879.2,638.3 880.4,638.3 881.5,638.3 882.7,638.3 883.9,638.3 885,638.3 886.2,638.3 887.4,638.3 888.5,638.3 889.7,638.3 890.9,638.3 892.1,638.3 893.2,638.3 894.4,638.3 895.6,638.3 896.7,638.3 897.9,638.3 899.1,638.3 900.2,638.3 901.4,638.3 902.6,638.3 903.8,638.3 904.9,638.3 906.1,638.4 907.3,638.4 908.4,638.4 909.6,638.4 910.8,638.4 912,638.4 913.1,638.4 914.3,638.4 915.5,638.4 916.6,638.4 917.8,638.4 919,638.4 920.1,638.4 921.3,638.4 922.5,638.4 923.7,638.4" fill="none" stroke="#ff0000" stroke-width="2.2" stroke-linejoin="round" stroke-linecap="round"/>
<polyline points="573.7,600 574.9,599.5 576.1,599 577.3,598.6 578.4,598.2 579.6,597.8 580.8,597.4 581.9,597.2 583.1,596.9 584.3,596.8 585.4,596.6 586.6,596.6 587.8,596.6 589,596.6 590.1,596.7 591.3,596.9 592.5,597.1 593.6,597.4 594.8,597.7 596,598 597.2,598.4 598.3,598.8 599.5,599.3 600.7,599.8 601.8,600.3 603,600.9 604.2,601.4 605.3,602 606.5,602.6 607.7,603.1 608.9,603.7 610,604.3 611.2,604.8 612.4,605.4 613.5,605.9 614.7,606.4 615.9,606.9 617,607.4 618.2,607.8 619.4,608.2 620.6,608.6 621.7,609 622.9,609.3 624.1,609.6 625.2,609.9 626.4,610.2 627.6,610.4 628.7,610.7 629.9,610.9 631.1,611 632.3,611.2 633.4,611.3 634.6,611.4 635.8,611.5 636.9,611.6 638.1,611.7 639.3,611.8 640.5,611.8 641.6,611.9 642.8,611.9 644,612 645.1,612 646.3,612 647.5,612.1 648.6,612.1 649.8,612.1 651,612.2 652.2,612.2 653.3,612.2 654.5,612.3 655.7,612.3 656.8,612.3 658,612.4 659.2,612.4 660.3,612.5 661.5,612.6 662.7,612.6 663.9,612.7 665,612.8 666.2,612.8 667.4,612.9 668.5,613 669.7,613.1 670.9,613.2 672,613.3 673.2,613.4 674.4,613.5 675.6,613.6 676.7,613.7 677.9,613.8 679.1,613.9 680.2,614 681.4,614.1 682.6,614.2 683.8,614.4 684.9,614.5 686.1,614.6 687.3,614.7 688.4,614.8 689.6,614.9 690.8,615 691.9,615.1 693.1,615.2 694.3,615.3 695.5,615.4 696.6,615.5 697.8,615.5 699,615.6 700.1,615.7 701.3,615.7 702.5,615.7 703.6,615.8 704.8,615.8 706,615.8 707.2,615.8 708.3,615.8 709.5,615.8 710.7,615.7 711.8,615.7 713,615.6 714.2,615.5 715.3,615.4 716.5,615.3 717.7,615.1 718.9,615 720,614.8 721.2,614.6 722.4,614.3 723.5,614.1 724.7,613.8 725.9,613.4 727.1,613.1 728.2,612.7 729.4,612.3 730.6,611.9 731.7,611.4 732.9,611 734.1,610.5 735.2,609.9 736.4,609.4 737.6,608.8 738.8,608.2 739.9,607.7 741.1,607.1 742.3,606.5 743.4,605.9 744.6,605.4 745.8,604.8 746.9,604.3 748.1,603.9 749.3,603.5 750.5,603.1 751.6,602.8 752.8,602.5 754,602.4 755.1,602.3 756.3,602.3 757.5,602.3 758.6,602.5 759.8,602.8 761,603.1 762.2,603.6 763.3,604.1 764.5,604.7 765.7,605.4 766.8,606.2 768,607.1 769.2,608.1 770.3,609.1 771.5,610.1 772.7,611.2 773.9,612.4 775,612.9 776.2,614 777.4,615.2 778.5,616.3 779.7,617.5 780.9,618.6 782.1,619.7 783.2,620.8 784.4,621.8 785.6,622.9 786.7,623.8 787.9,624.7 789.1,625.6 790.2,626.5 791.4,627.2 792.6,628 793.8,628.7 794.9,629.3 796.1,629.9 797.3,630.5 798.4,631 799.6,631.5 800.8,632 801.9,632.4 803.1,632.8 804.3,633.2 805.5,633.5 806.6,633.8 807.8,634.1 809,634.4 810.1,634.6 811.3,634.8 812.5,635.1 813.6,635.2 814.8,635.4 816,635.6 817.2,635.7 818.3,635.9 819.5,636 820.7,636.1 821.8,636.2 823,636.3 824.2,636.4 825.4,636.5 826.5,636.6 827.7,636.6 828.9,636.7 830,636.7 831.2,636.8 832.4,636.8 833.5,636.9 834.7,636.9 835.9,637 837.1,637 838.2,637.1 839.4,637.1 840.6,637.1 841.7,637.1 842.9,637.2 844.1,637.2 845.2,637.2 846.4,637.2 847.6,637.3 848.8,637.3 849.9,637.3 851.1,637.3 852.3,637.3 853.4,637.3 854.6,637.4 855.8,637.4 856.9,637.4 858.1,637.4 859.3,637.4 860.5,637.4 861.6,637.4 862.8,637.4 864,637.4 865.1,637.4 866.3,637.5 867.5,637.5 868.7,637.5 869.8,637.5 871,637.5 872.2,637.5 873.3,637.5 874.5,637.5 875.7,637.5 876.8,637.5 878,637.5 879.2,637.5 880.4,637.5 881.5,637.5 882.7,637.5 883.9,637.5 885,637.5 886.2,637.5 887.4,637.5 888.5,637.5 889.7,637.5 890.9,637.5 892.1,637.5 893.2,637.6 894.4,637.6 895.6,637.6 896.7,637.6 897.9,637.6 899.1,637.6 900.2,637.6 901.4,637.6 902.6,637.6 903.8,637.6 904.9,637.6 906.1,637.6 907.3,637.6 908.4,637.6 909.6,637.6 910.8,637.6 912,637.6 913.1,637.6 914.3,637.6 915.5,637.6 916.6,637.6 917.8,637.6 919,637.6 920.1,637.6 921.3,637.6 922.5,637.6 923.7,637.6" fill="none" stroke="#ff0000" stroke-width="2.2" stroke-linejoin="round" stroke-linecap="round"/>
<line x1="805.3" y1="640.2" x2="861.9" y2="640.2" stroke="#000" stroke-width="1.6" stroke-dasharray="1.6 4.6"/>
<line x1="573.7" y1="640.2" x2="784.7" y2="640.2" stroke="#3f9cf4" stroke-width="2"/>
<line x1="877.3" y1="640.2" x2="923.7" y2="640.2" stroke="#3f9cf4" stroke-width="2"/>
<polyline points="779.7,640.2 780.9,640.1 782.1,640.1 783.2,640 784.4,639.9 785.6,639.8 786.7,639.8 787.9,639.8 789.1,639.9 790.2,640 791.4,640.5 792.6,641 793.8,641.7 794.9,642.4 796.1,643 797.3,643.1 798.4,642.8 799.6,641.7 800.8,638.2 801.9,633.8 803.1,628.8 804.3,622.9 805.5,616.4 806.6,609.1 807.8,601.1 809,592.4 810.1,583.2 811.3,573.5 812.5,563.5 813.6,553.2 814.8,542.7 816,532.3 817.2,521.9 818.3,511.6 819.5,501.7 820.7,492.2 821.8,483.2 823,474.8 824.2,467.1 825.4,460.1 826.5,453.9 827.7,448.7 828.9,444.3 830,440.9 831.2,439.1 832.4,441.8 833.5,445.5 834.7,450.1 835.9,455.7 837.1,462 838.2,469.2 839.4,477.2 840.6,485.8 841.7,495 842.9,504.6 844.1,514.6 845.2,524.9 846.4,535.3 847.6,545.8 848.8,556.2 849.9,566.5 851.1,576.4 852.3,586 853.4,595 854.6,603.5 855.8,611.3 856.9,618.4 858.1,624.6 859.3,630.1 860.5,634.7 861.6,638.5 862.8,641.4 864,642 865.1,642.4 866.3,642.5 867.5,642.2 868.7,641.7 869.8,641.2 871,640.7 872.2,640.2 873.3,640.2 874.5,640.2 875.7,640.2 876.8,640.2 878,640.2 879.2,640.2 880.4,640.2 881.5,640.2" fill="none" stroke="#5f7298" stroke-width="2.9" stroke-linejoin="round" stroke-linecap="round"/>
<polyline points="779.7,640.2 780.9,640.1 782.1,640.1 783.2,640 784.4,639.9 785.6,639.8 786.7,639.8 787.9,639.8 789.1,639.9 790.2,640 791.4,640.5 792.6,641 793.8,641.7 794.9,642.4 796.1,643 797.3,643.1 798.4,642.8 799.6,641.7 800.8,638.2 801.9,633.8 803.1,628.8 804.3,622.9 805.5,616.4 806.6,609.1 807.8,601.1 809,592.4 810.1,583.2 811.3,573.5 812.5,563.5 813.6,553.2 814.8,542.7 816,532.3 817.2,521.9 818.3,511.6 819.5,501.7 820.7,492.2 821.8,483.2 823,474.8 824.2,467.1 825.4,460.1 826.5,453.9 827.7,448.7 828.9,444.3 830,440.9 831.2,439.1 832.4,441.8 833.5,445.5 834.7,450.1 835.9,455.7 837.1,462 838.2,469.2 839.4,477.2 840.6,485.8 841.7,495 842.9,504.6 844.1,514.6 845.2,524.9 846.4,535.3 847.6,545.8 848.8,556.2 849.9,566.5 851.1,576.4 852.3,586 853.4,595 854.6,603.5 855.8,611.3 856.9,618.4 858.1,624.6 859.3,630.1 860.5,634.7 861.6,638.5 862.8,641.4 864,642 865.1,642.4 866.3,642.5 867.5,642.2 868.7,641.7 869.8,641.2 871,640.7 872.2,640.2 873.3,640.2 874.5,640.2 875.7,640.2 876.8,640.2 878,640.2 879.2,640.2 880.4,640.2 881.5,640.2" fill="none" stroke="#4d9cf0" stroke-width="1.9" stroke-linejoin="round" stroke-linecap="round"/>
<line x1="568.6" y1="411.6" x2="568.6" y2="667.2" stroke="#000" stroke-width="2.5"/>
<line x1="567.6" y1="666" x2="930" y2="666" stroke="#000" stroke-width="2.5"/>
<line x1="561.2" y1="640.2" x2="568.6" y2="640.2" stroke="#000" stroke-width="2.2"/>
<text x="558" y="646.7" font-size="18.5" text-anchor="end" font-weight="bold" textLength="9.8" lengthAdjust="spacingAndGlyphs">0</text>
<line x1="561.2" y1="607.7" x2="568.6" y2="607.7" stroke="#000" stroke-width="2.2"/>
<text x="558" y="614.2" font-size="18.5" text-anchor="end" font-weight="bold" textLength="9.8" lengthAdjust="spacingAndGlyphs">5</text>
<line x1="561.2" y1="575.2" x2="568.6" y2="575.2" stroke="#000" stroke-width="2.2"/>
<text x="558" y="581.7" font-size="18.5" text-anchor="end" font-weight="bold" textLength="19.6" lengthAdjust="spacingAndGlyphs">10</text>
<line x1="561.2" y1="542.7" x2="568.6" y2="542.7" stroke="#000" stroke-width="2.2"/>
<text x="558" y="549.2" font-size="18.5" text-anchor="end" font-weight="bold" textLength="19.6" lengthAdjust="spacingAndGlyphs">15</text>
<line x1="561.2" y1="510.3" x2="568.6" y2="510.3" stroke="#000" stroke-width="2.2"/>
<text x="558" y="516.8" font-size="18.5" text-anchor="end" font-weight="bold" textLength="19.6" lengthAdjust="spacingAndGlyphs">20</text>
<line x1="561.2" y1="477.8" x2="568.6" y2="477.8" stroke="#000" stroke-width="2.2"/>
<text x="558" y="484.3" font-size="18.5" text-anchor="end" font-weight="bold" textLength="19.6" lengthAdjust="spacingAndGlyphs">25</text>
<line x1="561.2" y1="445.3" x2="568.6" y2="445.3" stroke="#000" stroke-width="2.2"/>
<text x="558" y="451.8" font-size="18.5" text-anchor="end" font-weight="bold" textLength="19.6" lengthAdjust="spacingAndGlyphs">30</text>
<line x1="561.2" y1="412.8" x2="568.6" y2="412.8" stroke="#000" stroke-width="2.2"/>
<text x="558" y="419.3" font-size="18.5" text-anchor="end" font-weight="bold" textLength="19.6" lengthAdjust="spacingAndGlyphs">35</text>
<line x1="568.6" y1="666" x2="568.6" y2="674" stroke="#000" stroke-width="2.2"/>
<text x="567.7" y="694.3" font-size="19.4" text-anchor="middle" font-weight="bold" textLength="19.2" lengthAdjust="spacingAndGlyphs">60</text>
<line x1="620.1" y1="666" x2="620.1" y2="674" stroke="#000" stroke-width="2.2"/>
<text x="619.2" y="694.3" font-size="19.4" text-anchor="middle" font-weight="bold" textLength="19.2" lengthAdjust="spacingAndGlyphs">65</text>
<line x1="671.5" y1="666" x2="671.5" y2="674" stroke="#000" stroke-width="2.2"/>
<text x="670.6" y="694.3" font-size="19.4" text-anchor="middle" font-weight="bold" textLength="19.2" lengthAdjust="spacingAndGlyphs">70</text>
<line x1="723" y1="666" x2="723" y2="674" stroke="#000" stroke-width="2.2"/>
<text x="722.1" y="694.3" font-size="19.4" text-anchor="middle" font-weight="bold" textLength="19.2" lengthAdjust="spacingAndGlyphs">75</text>
<line x1="774.4" y1="666" x2="774.4" y2="674" stroke="#000" stroke-width="2.2"/>
<text x="773.5" y="694.3" font-size="19.4" text-anchor="middle" font-weight="bold" textLength="19.2" lengthAdjust="spacingAndGlyphs">80</text>
<line x1="825.9" y1="666" x2="825.9" y2="674" stroke="#000" stroke-width="2.2"/>
<text x="825" y="694.3" font-size="19.4" text-anchor="middle" font-weight="bold" textLength="19.2" lengthAdjust="spacingAndGlyphs">85</text>
<line x1="877.3" y1="666" x2="877.3" y2="674" stroke="#000" stroke-width="2.2"/>
<text x="876.4" y="694.3" font-size="19.4" text-anchor="middle" font-weight="bold" textLength="19.2" lengthAdjust="spacingAndGlyphs">90</text>
<line x1="928.8" y1="666" x2="928.8" y2="674" stroke="#000" stroke-width="2.2"/>
<text x="927.9" y="694.3" font-size="19.4" text-anchor="middle" font-weight="bold" textLength="19.2" lengthAdjust="spacingAndGlyphs">95</text>
<text x="667" y="725.2" font-size="20.5" font-weight="bold" textLength="164" lengthAdjust="spacingAndGlyphs">Temperature (°C)</text>
<text x="522.6" y="566.6" font-size="20" font-weight="bold" transform="rotate(-90 522.6 566.6)" textLength="54" lengthAdjust="spacingAndGlyphs">dF/dT</text>
<polyline points="573.7,976.9 574.9,976.2 576.1,975.5 577.3,974.9 578.4,974.3 579.6,973.8 580.8,973.3 581.9,972.9 583.1,972.6 584.3,972.3 585.4,972.1 586.6,972 587.8,971.9 589,971.9 590.1,972 591.3,972.1 592.5,972.3 593.6,972.5 594.8,972.8 596,973.2 597.2,973.6 598.3,974.1 599.5,974.6 600.7,975.1 601.8,975.6 603,976.2 604.2,976.8 605.3,977.4 606.5,978.1 607.7,978.7 608.9,979.3 610,979.9 611.2,980.5 612.4,981.1 613.5,981.7 614.7,982.3 615.9,982.8 617,983.3 618.2,983.8 619.4,984.3 620.6,984.7 621.7,985.2 622.9,985.5 624.1,985.9 625.2,986.2 626.4,986.5 627.6,986.8 628.7,987 629.9,987.2 631.1,987.4 632.3,987.6 633.4,987.7 634.6,987.9 635.8,988 636.9,988.1 638.1,988.2 639.3,988.3 640.5,988.3 641.6,988.4 642.8,988.5 644,988.5 645.1,988.5 646.3,988.6 647.5,988.6 648.6,988.6 649.8,988.7 651,988.7 652.2,988.7 653.3,988.8 654.5,988.8 655.7,988.9 656.8,988.9 658,988.9 659.2,989 660.3,989.1 661.5,989.1 662.7,989.2 663.9,989.2 665,989.3 666.2,989.4 667.4,989.5 668.5,989.6 669.7,989.7 670.9,989.7 672,989.8 673.2,989.9 674.4,990 675.6,990.1 676.7,990.3 677.9,990.4 679.1,990.5 680.2,990.6 681.4,990.7 682.6,990.8 683.8,990.9 684.9,991 686.1,991.2 687.3,991.3 688.4,991.4 689.6,991.5 690.8,991.6 691.9,991.7 693.1,991.8 694.3,991.9 695.5,992 696.6,992 697.8,992.1 699,992.2 700.1,992.2 701.3,992.3 702.5,992.3 703.6,992.4 704.8,992.4 706,992.4 707.2,992.4 708.3,992.4 709.5,992.4 710.7,992.3 711.8,992.3 713,992.2 714.2,992.1 715.3,992.1 716.5,991.9 717.7,991.8 718.9,991.7 720,991.5 721.2,991.3 722.4,991.1 723.5,990.9 724.7,990.6 725.9,990.3 727.1,990 728.2,989.7 729.4,989.4 730.6,989 731.7,988.6 732.9,988.2 734.1,987.8 735.2,987.3 736.4,986.8 737.6,986.3 738.8,985.9 739.9,985.4 741.1,984.9 742.3,984.4 743.4,983.9 744.6,983.4 745.8,983 746.9,982.5 748.1,982.1 749.3,981.8 750.5,981.5 751.6,981.2 752.8,981 754,980.9 755.1,980.8 756.3,980.8 757.5,980.9 758.6,981.1 759.8,981.3 761,981.6 762.2,982 763.3,982.5 764.5,983.1 765.7,983.7 766.8,984.4 768,985.2 769.2,986 770.3,986.9 771.5,987.9 772.7,988.9 773.9,989.9 775,990.3 776.2,991.3 777.4,992.4 778.5,993.4 779.7,994.4 780.9,995.4 782.1,996.5 783.2,997.4 784.4,998.4 785.6,999.3 786.7,1000.2 787.9,1001 789.1,1001.9 790.2,1002.6 791.4,1003.4 792.6,1004 793.8,1004.7 794.9,1005.3 796.1,1005.9 797.3,1006.4 798.4,1006.9 799.6,1007.4 800.8,1007.8 801.9,1008.2 803.1,1008.6 804.3,1009 805.5,1009.3 806.6,1009.6 807.8,1009.9 809,1010.1 810.1,1010.3 811.3,1010.6 812.5,1010.8 813.6,1010.9 814.8,1011.1 816,1011.3 817.2,1011.4 818.3,1011.5 819.5,1011.7 820.7,1011.8 821.8,1011.9 823,1012 824.2,1012.1 825.4,1012.1 826.5,1012.2 827.7,1012.3 828.9,1012.4 830,1012.4 831.2,1012.5 832.4,1012.5 833.5,1012.6 834.7,1012.6 835.9,1012.6 837.1,1012.7 838.2,1012.7 839.4,1012.7 840.6,1012.8 841.7,1012.8 842.9,1012.8 844.1,1012.8 845.2,1012.9 846.4,1012.9 847.6,1012.9 848.8,1012.9 849.9,1012.9 851.1,1013 852.3,1013 853.4,1013 854.6,1013 855.8,1013 856.9,1013 858.1,1013 859.3,1013.1 860.5,1013.1 861.6,1013.1 862.8,1013.1 864,1013.1 865.1,1013.1 866.3,1013.1 867.5,1013.1 868.7,1013.1 869.8,1013.1 871,1013.1 872.2,1013.1 873.3,1013.1 874.5,1013.1 875.7,1013.2 876.8,1013.2 878,1013.2 879.2,1013.2 880.4,1013.2 881.5,1013.2 882.7,1013.2 883.9,1013.2 885,1013.2 886.2,1013.2 887.4,1013.2 888.5,1013.2 889.7,1013.2 890.9,1013.2 892.1,1013.2 893.2,1013.2 894.4,1013.2 895.6,1013.2 896.7,1013.2 897.9,1013.2 899.1,1013.2 900.2,1013.2 901.4,1013.2 902.6,1013.2 903.8,1013.2 904.9,1013.2 906.1,1013.2 907.3,1013.2 908.4,1013.2 909.6,1013.2 910.8,1013.2 912,1013.2 913.1,1013.2 914.3,1013.2 915.5,1013.2 916.6,1013.2 917.8,1013.2 919,1013.2 920.1,1013.2 921.3,1013.2 922.5,1013.2 923.7,1013.2" fill="none" stroke="#ff0000" stroke-width="2.2" stroke-linejoin="round" stroke-linecap="round"/>
<polyline points="573.7,974.2 574.9,973.6 576.1,973.1 577.3,972.6 578.4,972.1 579.6,971.7 580.8,971.3 581.9,971 583.1,970.7 584.3,970.5 585.4,970.4 586.6,970.3 587.8,970.3 589,970.4 590.1,970.5 591.3,970.7 592.5,970.9 593.6,971.2 594.8,971.6 596,972 597.2,972.4 598.3,972.9 599.5,973.4 600.7,974 601.8,974.5 603,975.2 604.2,975.8 605.3,976.4 606.5,977 607.7,977.7 608.9,978.3 610,979 611.2,979.6 612.4,980.2 613.5,980.8 614.7,981.4 615.9,981.9 617,982.4 618.2,982.9 619.4,983.4 620.6,983.9 621.7,984.3 622.9,984.7 624.1,985 625.2,985.4 626.4,985.7 627.6,985.9 628.7,986.2 629.9,986.4 631.1,986.6 632.3,986.8 633.4,986.9 634.6,987.1 635.8,987.2 636.9,987.3 638.1,987.4 639.3,987.5 640.5,987.5 641.6,987.6 642.8,987.6 644,987.7 645.1,987.7 646.3,987.8 647.5,987.8 648.6,987.8 649.8,987.9 651,987.9 652.2,987.9 653.3,988 654.5,988 655.7,988.1 656.8,988.1 658,988.2 659.2,988.2 660.3,988.3 661.5,988.3 662.7,988.4 663.9,988.5 665,988.5 666.2,988.6 667.4,988.7 668.5,988.8 669.7,988.9 670.9,989 672,989.1 673.2,989.2 674.4,989.3 675.6,989.4 676.7,989.5 677.9,989.6 679.1,989.7 680.2,989.8 681.4,989.9 682.6,990 683.8,990.1 684.9,990.3 686.1,990.4 687.3,990.5 688.4,990.6 689.6,990.7 690.8,990.8 691.9,990.9 693.1,991 694.3,991.1 695.5,991.2 696.6,991.2 697.8,991.3 699,991.4 700.1,991.4 701.3,991.5 702.5,991.5 703.6,991.6 704.8,991.6 706,991.6 707.2,991.6 708.3,991.6 709.5,991.6 710.7,991.6 711.8,991.5 713,991.4 714.2,991.4 715.3,991.3 716.5,991.2 717.7,991 718.9,990.9 720,990.7 721.2,990.5 722.4,990.3 723.5,990.1 724.7,989.8 725.9,989.6 727.1,989.3 728.2,988.9 729.4,988.6 730.6,988.2 731.7,987.8 732.9,987.4 734.1,987 735.2,986.5 736.4,986 737.6,985.6 738.8,985.1 739.9,984.6 741.1,984.1 742.3,983.6 743.4,983.1 744.6,982.6 745.8,982.2 746.9,981.7 748.1,981.4 749.3,981 750.5,980.7 751.6,980.4 752.8,980.2 754,980.1 755.1,980 756.3,980 757.5,980.1 758.6,980.3 759.8,980.5 761,980.8 762.2,981.2 763.3,981.7 764.5,982.3 765.7,982.9 766.8,983.6 768,984.4 769.2,985.3 770.3,986.2 771.5,987.1 772.7,988.1 773.9,989.2 775,989.5 776.2,990.5 777.4,991.6 778.5,992.6 779.7,993.6 780.9,994.7 782.1,995.7 783.2,996.7 784.4,997.6 785.6,998.5 786.7,999.4 787.9,1000.3 789.1,1001.1 790.2,1001.8 791.4,1002.6 792.6,1003.3 793.8,1003.9 794.9,1004.5 796.1,1005.1 797.3,1005.6 798.4,1006.1 799.6,1006.6 800.8,1007 801.9,1007.4 803.1,1007.8 804.3,1008.2 805.5,1008.5 806.6,1008.8 807.8,1009.1 809,1009.3 810.1,1009.6 811.3,1009.8 812.5,1010 813.6,1010.2 814.8,1010.3 816,1010.5 817.2,1010.6 818.3,1010.8 819.5,1010.9 820.7,1011 821.8,1011.1 823,1011.2 824.2,1011.3 825.4,1011.4 826.5,1011.4 827.7,1011.5 828.9,1011.6 830,1011.6 831.2,1011.7 832.4,1011.7 833.5,1011.8 834.7,1011.8 835.9,1011.9 837.1,1011.9 838.2,1011.9 839.4,1012 840.6,1012 841.7,1012 842.9,1012 844.1,1012.1 845.2,1012.1 846.4,1012.1 847.6,1012.1 848.8,1012.1 849.9,1012.2 851.1,1012.2 852.3,1012.2 853.4,1012.2 854.6,1012.2 855.8,1012.2 856.9,1012.3 858.1,1012.3 859.3,1012.3 860.5,1012.3 861.6,1012.3 862.8,1012.3 864,1012.3 865.1,1012.3 866.3,1012.3 867.5,1012.3 868.7,1012.3 869.8,1012.3 871,1012.4 872.2,1012.4 873.3,1012.4 874.5,1012.4 875.7,1012.4 876.8,1012.4 878,1012.4 879.2,1012.4 880.4,1012.4 881.5,1012.4 882.7,1012.4 883.9,1012.4 885,1012.4 886.2,1012.4 887.4,1012.4 888.5,1012.4 889.7,1012.4 890.9,1012.4 892.1,1012.4 893.2,1012.4 894.4,1012.4 895.6,1012.4 896.7,1012.4 897.9,1012.4 899.1,1012.4 900.2,1012.4 901.4,1012.4 902.6,1012.4 903.8,1012.4 904.9,1012.4 906.1,1012.4 907.3,1012.4 908.4,1012.4 909.6,1012.4 910.8,1012.4 912,1012.5 913.1,1012.5 914.3,1012.5 915.5,1012.5 916.6,1012.5 917.8,1012.5 919,1012.5 920.1,1012.5 921.3,1012.5 922.5,1012.5 923.7,1012.5" fill="none" stroke="#ff0000" stroke-width="2.2" stroke-linejoin="round" stroke-linecap="round"/>
<polyline points="573.7,971.5 574.9,971 576.1,970.6 577.3,970.2 578.4,969.9 579.6,969.6 580.8,969.3 581.9,969.1 583.1,968.9 584.3,968.8 585.4,968.7 586.6,968.7 587.8,968.8 589,968.9 590.1,969.1 591.3,969.3 592.5,969.6 593.6,969.9 594.8,970.3 596,970.7 597.2,971.2 598.3,971.7 599.5,972.3 600.7,972.8 601.8,973.4 603,974.1 604.2,974.7 605.3,975.4 606.5,976 607.7,976.7 608.9,977.3 610,978 611.2,978.6 612.4,979.3 613.5,979.9 614.7,980.5 615.9,981 617,981.5 618.2,982.1 619.4,982.5 620.6,983 621.7,983.4 622.9,983.8 624.1,984.2 625.2,984.5 626.4,984.8 627.6,985.1 628.7,985.3 629.9,985.6 631.1,985.8 632.3,985.9 633.4,986.1 634.6,986.2 635.8,986.4 636.9,986.5 638.1,986.6 639.3,986.7 640.5,986.7 641.6,986.8 642.8,986.8 644,986.9 645.1,986.9 646.3,987 647.5,987 648.6,987 649.8,987.1 651,987.1 652.2,987.2 653.3,987.2 654.5,987.2 655.7,987.3 656.8,987.3 658,987.4 659.2,987.4 660.3,987.5 661.5,987.5 662.7,987.6 663.9,987.7 665,987.7 666.2,987.8 667.4,987.9 668.5,988 669.7,988.1 670.9,988.2 672,988.3 673.2,988.4 674.4,988.5 675.6,988.6 676.7,988.7 677.9,988.8 679.1,988.9 680.2,989 681.4,989.1 682.6,989.2 683.8,989.4 684.9,989.5 686.1,989.6 687.3,989.7 688.4,989.8 689.6,989.9 690.8,990 691.9,990.1 693.1,990.2 694.3,990.3 695.5,990.4 696.6,990.5 697.8,990.5 699,990.6 700.1,990.7 701.3,990.7 702.5,990.8 703.6,990.8 704.8,990.8 706,990.8 707.2,990.8 708.3,990.8 709.5,990.8 710.7,990.8 711.8,990.7 713,990.7 714.2,990.6 715.3,990.5 716.5,990.4 717.7,990.2 718.9,990.1 720,989.9 721.2,989.7 722.4,989.5 723.5,989.3 724.7,989.1 725.9,988.8 727.1,988.5 728.2,988.2 729.4,987.8 730.6,987.4 731.7,987 732.9,986.6 734.1,986.2 735.2,985.7 736.4,985.3 737.6,984.8 738.8,984.3 739.9,983.8 741.1,983.3 742.3,982.8 743.4,982.3 744.6,981.8 745.8,981.4 746.9,981 748.1,980.6 749.3,980.2 750.5,979.9 751.6,979.7 752.8,979.5 754,979.3 755.1,979.3 756.3,979.3 757.5,979.3 758.6,979.5 759.8,979.7 761,980.1 762.2,980.5 763.3,980.9 764.5,981.5 765.7,982.1 766.8,982.9 768,983.6 769.2,984.5 770.3,985.4 771.5,986.3 772.7,987.3 773.9,988.4 775,988.7 776.2,989.8 777.4,990.8 778.5,991.8 779.7,992.9 780.9,993.9 782.1,994.9 783.2,995.9 784.4,996.8 785.6,997.7 786.7,998.6 787.9,999.5 789.1,1000.3 790.2,1001.1 791.4,1001.8 792.6,1002.5 793.8,1003.1 794.9,1003.7 796.1,1004.3 797.3,1004.9 798.4,1005.4 799.6,1005.8 800.8,1006.3 801.9,1006.7 803.1,1007 804.3,1007.4 805.5,1007.7 806.6,1008 807.8,1008.3 809,1008.5 810.1,1008.8 811.3,1009 812.5,1009.2 813.6,1009.4 814.8,1009.6 816,1009.7 817.2,1009.9 818.3,1010 819.5,1010.1 820.7,1010.2 821.8,1010.3 823,1010.4 824.2,1010.5 825.4,1010.6 826.5,1010.7 827.7,1010.7 828.9,1010.8 830,1010.8 831.2,1010.9 832.4,1010.9 833.5,1011 834.7,1011 835.9,1011.1 837.1,1011.1 838.2,1011.1 839.4,1011.2 840.6,1011.2 841.7,1011.2 842.9,1011.3 844.1,1011.3 845.2,1011.3 846.4,1011.3 847.6,1011.3 848.8,1011.4 849.9,1011.4 851.1,1011.4 852.3,1011.4 853.4,1011.4 854.6,1011.4 855.8,1011.5 856.9,1011.5 858.1,1011.5 859.3,1011.5 860.5,1011.5 861.6,1011.5 862.8,1011.5 864,1011.5 865.1,1011.5 866.3,1011.5 867.5,1011.5 868.7,1011.6 869.8,1011.6 871,1011.6 872.2,1011.6 873.3,1011.6 874.5,1011.6 875.7,1011.6 876.8,1011.6 878,1011.6 879.2,1011.6 880.4,1011.6 881.5,1011.6 882.7,1011.6 883.9,1011.6 885,1011.6 886.2,1011.6 887.4,1011.6 888.5,1011.6 889.7,1011.6 890.9,1011.6 892.1,1011.6 893.2,1011.6 894.4,1011.6 895.6,1011.6 896.7,1011.6 897.9,1011.7 899.1,1011.7 900.2,1011.7 901.4,1011.7 902.6,1011.7 903.8,1011.7 904.9,1011.7 906.1,1011.7 907.3,1011.7 908.4,1011.7 909.6,1011.7 910.8,1011.7 912,1011.7 913.1,1011.7 914.3,1011.7 915.5,1011.7 916.6,1011.7 917.8,1011.7 919,1011.7 920.1,1011.7 921.3,1011.7 922.5,1011.7 923.7,1011.7" fill="none" stroke="#ff0000" stroke-width="2.2" stroke-linejoin="round" stroke-linecap="round"/>
<line x1="805.3" y1="1014.3" x2="861.9" y2="1014.3" stroke="#000" stroke-width="1.6" stroke-dasharray="1.6 4.6"/>
<line x1="573.7" y1="1014.3" x2="784.7" y2="1014.3" stroke="#3f9cf4" stroke-width="2"/>
<line x1="877.3" y1="1014.3" x2="923.7" y2="1014.3" stroke="#3f9cf4" stroke-width="2"/>
<polyline points="779.7,1014.3 780.9,1014.2 782.1,1014.2 783.2,1014.1 784.4,1014 785.6,1013.9 786.7,1013.9 787.9,1013.9 789.1,1014 790.2,1014.1 791.4,1014.6 792.6,1015.1 793.8,1015.8 794.9,1016.5 796.1,1017.1 797.3,1017.2 798.4,1016.9 799.6,1015.8 800.8,1012.1 801.9,1007.5 803.1,1002.2 804.3,996.1 805.5,989.2 806.6,981.5 807.8,973 809,963.9 810.1,954.2 811.3,944 812.5,933.4 813.6,922.5 814.8,911.5 816,900.4 817.2,889.5 818.3,878.7 819.5,868.2 820.7,858.2 821.8,848.7 823,839.8 824.2,831.7 825.4,824.3 826.5,817.8 827.7,812.3 828.9,807.7 830,804.1 831.2,802.2 832.4,805 833.5,808.9 834.7,813.8 835.9,819.6 837.1,826.4 838.2,834 839.4,842.3 840.6,851.4 841.7,861.1 842.9,871.3 844.1,881.8 845.2,892.7 846.4,903.7 847.6,914.8 848.8,925.7 849.9,936.5 851.1,947 852.3,957.1 853.4,966.7 854.6,975.6 855.8,983.8 856.9,991.3 858.1,997.9 859.3,1003.6 860.5,1008.5 861.6,1012.5 862.8,1015.5 864,1016.1 865.1,1016.5 866.3,1016.6 867.5,1016.3 868.7,1015.8 869.8,1015.3 871,1014.8 872.2,1014.3 873.3,1014.3 874.5,1014.3 875.7,1014.3 876.8,1014.3 878,1014.3 879.2,1014.3 880.4,1014.3 881.5,1014.3" fill="none" stroke="#5f7298" stroke-width="2.9" stroke-linejoin="round" stroke-linecap="round"/>
<polyline points="779.7,1014.3 780.9,1014.2 782.1,1014.2 783.2,1014.1 784.4,1014 785.6,1013.9 786.7,1013.9 787.9,1013.9 789.1,1014 790.2,1014.1 791.4,1014.6 792.6,1015.1 793.8,1015.8 794.9,1016.5 796.1,1017.1 797.3,1017.2 798.4,1016.9 799.6,1015.8 800.8,1012.1 801.9,1007.5 803.1,1002.2 804.3,996.1 805.5,989.2 806.6,981.5 807.8,973 809,963.9 810.1,954.2 811.3,944 812.5,933.4 813.6,922.5 814.8,911.5 816,900.4 817.2,889.5 818.3,878.7 819.5,868.2 820.7,858.2 821.8,848.7 823,839.8 824.2,831.7 825.4,824.3 826.5,817.8 827.7,812.3 828.9,807.7 830,804.1 831.2,802.2 832.4,805 833.5,808.9 834.7,813.8 835.9,819.6 837.1,826.4 838.2,834 839.4,842.3 840.6,851.4 841.7,861.1 842.9,871.3 844.1,881.8 845.2,892.7 846.4,903.7 847.6,914.8 848.8,925.7 849.9,936.5 851.1,947 852.3,957.1 853.4,966.7 854.6,975.6 855.8,983.8 856.9,991.3 858.1,997.9 859.3,1003.6 860.5,1008.5 861.6,1012.5 862.8,1015.5 864,1016.1 865.1,1016.5 866.3,1016.6 867.5,1016.3 868.7,1015.8 869.8,1015.3 871,1014.8 872.2,1014.3 873.3,1014.3 874.5,1014.3 875.7,1014.3 876.8,1014.3 878,1014.3 879.2,1014.3 880.4,1014.3 881.5,1014.3" fill="none" stroke="#4d9cf0" stroke-width="1.9" stroke-linejoin="round" stroke-linecap="round"/>
<line x1="568.6" y1="785" x2="568.6" y2="1040.9" stroke="#000" stroke-width="2.5"/>
<line x1="567.6" y1="1039.7" x2="930" y2="1039.7" stroke="#000" stroke-width="2.5"/>
<line x1="561.2" y1="1014.3" x2="568.6" y2="1014.3" stroke="#000" stroke-width="2.2"/>
<text x="558" y="1020.8" font-size="18.5" text-anchor="end" font-weight="bold" textLength="9.8" lengthAdjust="spacingAndGlyphs">0</text>
<line x1="561.2" y1="981.7" x2="568.6" y2="981.7" stroke="#000" stroke-width="2.2"/>
<text x="558" y="988.2" font-size="18.5" text-anchor="end" font-weight="bold" textLength="9.8" lengthAdjust="spacingAndGlyphs">5</text>
<line x1="561.2" y1="949.1" x2="568.6" y2="949.1" stroke="#000" stroke-width="2.2"/>
<text x="558" y="955.6" font-size="18.5" text-anchor="end" font-weight="bold" textLength="19.6" lengthAdjust="spacingAndGlyphs">10</text>
<line x1="561.2" y1="916.5" x2="568.6" y2="916.5" stroke="#000" stroke-width="2.2"/>
<text x="558" y="923" font-size="18.5" text-anchor="end" font-weight="bold" textLength="19.6" lengthAdjust="spacingAndGlyphs">15</text>
<line x1="561.2" y1="884" x2="568.6" y2="884" stroke="#000" stroke-width="2.2"/>
<text x="558" y="890.5" font-size="18.5" text-anchor="end" font-weight="bold" textLength="19.6" lengthAdjust="spacingAndGlyphs">20</text>
<line x1="561.2" y1="851.4" x2="568.6" y2="851.4" stroke="#000" stroke-width="2.2"/>
<text x="558" y="857.9" font-size="18.5" text-anchor="end" font-weight="bold" textLength="19.6" lengthAdjust="spacingAndGlyphs">25</text>
<line x1="561.2" y1="818.8" x2="568.6" y2="818.8" stroke="#000" stroke-width="2.2"/>
<text x="558" y="825.3" font-size="18.5" text-anchor="end" font-weight="bold" textLength="19.6" lengthAdjust="spacingAndGlyphs">30</text>
<line x1="561.2" y1="786.2" x2="568.6" y2="786.2" stroke="#000" stroke-width="2.2"/>
<text x="558" y="792.7" font-size="18.5" text-anchor="end" font-weight="bold" textLength="19.6" lengthAdjust="spacingAndGlyphs">35</text>
<line x1="568.6" y1="1039.7" x2="568.6" y2="1047.7" stroke="#000" stroke-width="2.2"/>
<text x="567.7" y="1068.3" font-size="19.4" text-anchor="middle" font-weight="bold" textLength="19.2" lengthAdjust="spacingAndGlyphs">60</text>
<line x1="620.1" y1="1039.7" x2="620.1" y2="1047.7" stroke="#000" stroke-width="2.2"/>
<text x="619.2" y="1068.3" font-size="19.4" text-anchor="middle" font-weight="bold" textLength="19.2" lengthAdjust="spacingAndGlyphs">65</text>
<line x1="671.5" y1="1039.7" x2="671.5" y2="1047.7" stroke="#000" stroke-width="2.2"/>
<text x="670.6" y="1068.3" font-size="19.4" text-anchor="middle" font-weight="bold" textLength="19.2" lengthAdjust="spacingAndGlyphs">70</text>
<line x1="723" y1="1039.7" x2="723" y2="1047.7" stroke="#000" stroke-width="2.2"/>
<text x="722.1" y="1068.3" font-size="19.4" text-anchor="middle" font-weight="bold" textLength="19.2" lengthAdjust="spacingAndGlyphs">75</text>
<line x1="774.4" y1="1039.7" x2="774.4" y2="1047.7" stroke="#000" stroke-width="2.2"/>
<text x="773.5" y="1068.3" font-size="19.4" text-anchor="middle" font-weight="bold" textLength="19.2" lengthAdjust="spacingAndGlyphs">80</text>
<line x1="825.9" y1="1039.7" x2="825.9" y2="1047.7" stroke="#000" stroke-width="2.2"/>
<text x="825" y="1068.3" font-size="19.4" text-anchor="middle" font-weight="bold" textLength="19.2" lengthAdjust="spacingAndGlyphs">85</text>
<line x1="877.3" y1="1039.7" x2="877.3" y2="1047.7" stroke="#000" stroke-width="2.2"/>
<text x="876.4" y="1068.3" font-size="19.4" text-anchor="middle" font-weight="bold" textLength="19.2" lengthAdjust="spacingAndGlyphs">90</text>
<line x1="928.8" y1="1039.7" x2="928.8" y2="1047.7" stroke="#000" stroke-width="2.2"/>
<text x="927.9" y="1068.3" font-size="19.4" text-anchor="middle" font-weight="bold" textLength="19.2" lengthAdjust="spacingAndGlyphs">95</text>
<text x="667" y="1099.9" font-size="20.5" font-weight="bold" textLength="164" lengthAdjust="spacingAndGlyphs">Temperature (°C)</text>
<text x="522.6" y="940.3" font-size="20" font-weight="bold" transform="rotate(-90 522.6 940.3)" textLength="54" lengthAdjust="spacingAndGlyphs">dF/dT</text>
<line x1="1097.6" y1="131.6" x2="1409.5" y2="192.5" stroke="#777" stroke-width="2"/>
<line x1="1097.6" y1="123" x2="1097.6" y2="137.7" stroke="#222" stroke-width="1.2"/>
<line x1="1094.6" y1="123" x2="1100.6" y2="123" stroke="#222" stroke-width="1.2"/>
<line x1="1094.6" y1="137.7" x2="1100.6" y2="137.7" stroke="#222" stroke-width="1.2"/>
<polygon points="1090.8,130.4 1097.6,123.8 1104.4,130.4 1097.6,137" fill="#00007a"/>
<line x1="1175.6" y1="134.5" x2="1175.6" y2="150.8" stroke="#222" stroke-width="1.2"/>
<line x1="1172.6" y1="134.5" x2="1178.6" y2="134.5" stroke="#222" stroke-width="1.2"/>
<line x1="1172.6" y1="150.8" x2="1178.6" y2="150.8" stroke="#222" stroke-width="1.2"/>
<polygon points="1168.8,142.6 1175.6,136 1182.4,142.6 1175.6,149.2" fill="#00007a"/>
<line x1="1253.6" y1="160.6" x2="1253.6" y2="173.7" stroke="#222" stroke-width="1.2"/>
<line x1="1250.6" y1="160.6" x2="1256.6" y2="160.6" stroke="#222" stroke-width="1.2"/>
<line x1="1250.6" y1="173.7" x2="1256.6" y2="173.7" stroke="#222" stroke-width="1.2"/>
<polygon points="1246.8,167.2 1253.6,160.6 1260.4,167.2 1253.6,173.8" fill="#00007a"/>
<polygon points="1324.7,175.3 1331.5,168.7 1338.3,175.3 1331.5,181.9" fill="#00007a"/>
<polygon points="1402.7,190.9 1409.5,184.3 1416.3,190.9 1409.5,197.5" fill="#00007a"/>
<line x1="1043.1" y1="35.5" x2="1043.1" y2="282.7" stroke="#000" stroke-width="1.6"/>
<line x1="1042.1" y1="281.7" x2="1434" y2="281.7" stroke="#000" stroke-width="2.2"/>
<line x1="1035.1" y1="281.7" x2="1043.1" y2="281.7" stroke="#000" stroke-width="1.8"/>
<text x="1032" y="287.7" font-size="20" text-anchor="end" textLength="10.2" lengthAdjust="spacingAndGlyphs" stroke="#000" stroke-width="0.8">0</text>
<line x1="1035.1" y1="240.8" x2="1043.1" y2="240.8" stroke="#000" stroke-width="1.8"/>
<text x="1032" y="246.8" font-size="20" text-anchor="end" textLength="10.2" lengthAdjust="spacingAndGlyphs" stroke="#000" stroke-width="0.8">5</text>
<line x1="1035.1" y1="200" x2="1043.1" y2="200" stroke="#000" stroke-width="1.8"/>
<text x="1032" y="206" font-size="20" text-anchor="end" textLength="20.8" lengthAdjust="spacingAndGlyphs" stroke="#000" stroke-width="0.8">10</text>
<line x1="1035.1" y1="159.1" x2="1043.1" y2="159.1" stroke="#000" stroke-width="1.8"/>
<text x="1032" y="165.1" font-size="20" text-anchor="end" textLength="20.8" lengthAdjust="spacingAndGlyphs" stroke="#000" stroke-width="0.8">15</text>
<line x1="1035.1" y1="118.2" x2="1043.1" y2="118.2" stroke="#000" stroke-width="1.8"/>
<text x="1032" y="124.2" font-size="20" text-anchor="end" textLength="20.8" lengthAdjust="spacingAndGlyphs" stroke="#000" stroke-width="0.8">20</text>
<line x1="1035.1" y1="77.4" x2="1043.1" y2="77.4" stroke="#000" stroke-width="1.8"/>
<text x="1032" y="83.4" font-size="20" text-anchor="end" textLength="20.8" lengthAdjust="spacingAndGlyphs" stroke="#000" stroke-width="0.8">25</text>
<line x1="1035.1" y1="36.5" x2="1043.1" y2="36.5" stroke="#000" stroke-width="1.8"/>
<text x="1032" y="42.5" font-size="20" text-anchor="end" textLength="20.8" lengthAdjust="spacingAndGlyphs" stroke="#000" stroke-width="0.8">30</text>
<line x1="1043.1" y1="281.7" x2="1043.1" y2="289.7" stroke="#000" stroke-width="1.8"/>
<line x1="1066.6" y1="281.7" x2="1066.6" y2="286.3" stroke="#000" stroke-width="2"/>
<line x1="1080.3" y1="281.7" x2="1080.3" y2="286.3" stroke="#000" stroke-width="2"/>
<line x1="1090" y1="281.7" x2="1090" y2="286.3" stroke="#000" stroke-width="2"/>
<line x1="1097.6" y1="281.7" x2="1097.6" y2="286.3" stroke="#000" stroke-width="2"/>
<line x1="1103.8" y1="281.7" x2="1103.8" y2="286.3" stroke="#000" stroke-width="2"/>
<line x1="1109" y1="281.7" x2="1109" y2="286.3" stroke="#000" stroke-width="2"/>
<line x1="1113.5" y1="281.7" x2="1113.5" y2="286.3" stroke="#000" stroke-width="2"/>
<line x1="1117.5" y1="281.7" x2="1117.5" y2="286.3" stroke="#000" stroke-width="2"/>
<text x="1027.9" y="323.3" font-size="18" font-weight="bold" transform="rotate(-45 1027.9 323.3)">10<tspan font-size="11" dy="-7.5" dx="0.6">1</tspan></text>
<line x1="1121.1" y1="281.7" x2="1121.1" y2="289.7" stroke="#000" stroke-width="1.8"/>
<line x1="1144.6" y1="281.7" x2="1144.6" y2="286.3" stroke="#000" stroke-width="2"/>
<line x1="1158.3" y1="281.7" x2="1158.3" y2="286.3" stroke="#000" stroke-width="2"/>
<line x1="1168" y1="281.7" x2="1168" y2="286.3" stroke="#000" stroke-width="2"/>
<line x1="1175.6" y1="281.7" x2="1175.6" y2="286.3" stroke="#000" stroke-width="2"/>
<line x1="1181.8" y1="281.7" x2="1181.8" y2="286.3" stroke="#000" stroke-width="2"/>
<line x1="1187" y1="281.7" x2="1187" y2="286.3" stroke="#000" stroke-width="2"/>
<line x1="1191.5" y1="281.7" x2="1191.5" y2="286.3" stroke="#000" stroke-width="2"/>
<line x1="1195.5" y1="281.7" x2="1195.5" y2="286.3" stroke="#000" stroke-width="2"/>
<text x="1105.9" y="323.3" font-size="18" font-weight="bold" transform="rotate(-45 1105.9 323.3)">10<tspan font-size="11" dy="-7.5" dx="0.6">2</tspan></text>
<line x1="1199.1" y1="281.7" x2="1199.1" y2="289.7" stroke="#000" stroke-width="1.8"/>
<line x1="1222.5" y1="281.7" x2="1222.5" y2="286.3" stroke="#000" stroke-width="2"/>
<line x1="1236.3" y1="281.7" x2="1236.3" y2="286.3" stroke="#000" stroke-width="2"/>
<line x1="1246" y1="281.7" x2="1246" y2="286.3" stroke="#000" stroke-width="2"/>
<line x1="1253.6" y1="281.7" x2="1253.6" y2="286.3" stroke="#000" stroke-width="2"/>
<line x1="1259.7" y1="281.7" x2="1259.7" y2="286.3" stroke="#000" stroke-width="2"/>
<line x1="1265" y1="281.7" x2="1265" y2="286.3" stroke="#000" stroke-width="2"/>
<line x1="1269.5" y1="281.7" x2="1269.5" y2="286.3" stroke="#000" stroke-width="2"/>
<line x1="1273.5" y1="281.7" x2="1273.5" y2="286.3" stroke="#000" stroke-width="2"/>
<text x="1183.9" y="323.3" font-size="18" font-weight="bold" transform="rotate(-45 1183.9 323.3)">10<tspan font-size="11" dy="-7.5" dx="0.6">3</tspan></text>
<line x1="1277" y1="281.7" x2="1277" y2="289.7" stroke="#000" stroke-width="1.8"/>
<line x1="1300.5" y1="281.7" x2="1300.5" y2="286.3" stroke="#000" stroke-width="2"/>
<line x1="1314.2" y1="281.7" x2="1314.2" y2="286.3" stroke="#000" stroke-width="2"/>
<line x1="1324" y1="281.7" x2="1324" y2="286.3" stroke="#000" stroke-width="2"/>
<line x1="1331.5" y1="281.7" x2="1331.5" y2="286.3" stroke="#000" stroke-width="2"/>
<line x1="1337.7" y1="281.7" x2="1337.7" y2="286.3" stroke="#000" stroke-width="2"/>
<line x1="1342.9" y1="281.7" x2="1342.9" y2="286.3" stroke="#000" stroke-width="2"/>
<line x1="1347.5" y1="281.7" x2="1347.5" y2="286.3" stroke="#000" stroke-width="2"/>
<line x1="1351.5" y1="281.7" x2="1351.5" y2="286.3" stroke="#000" stroke-width="2"/>
<text x="1261.9" y="323.3" font-size="18" font-weight="bold" transform="rotate(-45 1261.9 323.3)">10<tspan font-size="11" dy="-7.5" dx="0.6">4</tspan></text>
<line x1="1355" y1="281.7" x2="1355" y2="289.7" stroke="#000" stroke-width="1.8"/>
<line x1="1378.5" y1="281.7" x2="1378.5" y2="286.3" stroke="#000" stroke-width="2"/>
<line x1="1392.2" y1="281.7" x2="1392.2" y2="286.3" stroke="#000" stroke-width="2"/>
<line x1="1402" y1="281.7" x2="1402" y2="286.3" stroke="#000" stroke-width="2"/>
<line x1="1409.5" y1="281.7" x2="1409.5" y2="286.3" stroke="#000" stroke-width="2"/>
<line x1="1415.7" y1="281.7" x2="1415.7" y2="286.3" stroke="#000" stroke-width="2"/>
<line x1="1420.9" y1="281.7" x2="1420.9" y2="286.3" stroke="#000" stroke-width="2"/>
<line x1="1425.4" y1="281.7" x2="1425.4" y2="286.3" stroke="#000" stroke-width="2"/>
<line x1="1429.4" y1="281.7" x2="1429.4" y2="286.3" stroke="#000" stroke-width="2"/>
<text x="1339.9" y="323.3" font-size="18" font-weight="bold" transform="rotate(-45 1339.9 323.3)">10<tspan font-size="11" dy="-7.5" dx="0.6">5</tspan></text>
<line x1="1433" y1="281.7" x2="1433" y2="289.7" stroke="#000" stroke-width="1.8"/>
<text x="1417.8" y="323.3" font-size="18" font-weight="bold" transform="rotate(-45 1417.8 323.3)">10<tspan font-size="11" dy="-7.5" dx="0.6">6</tspan></text>
<text x="1118.6" y="352.7" font-size="18.5" font-weight="bold" textLength="241" lengthAdjust="spacingAndGlyphs">log (Conc in copies/5µl)</text>
<text x="984.7" y="213.4" font-size="21" font-weight="bold" transform="rotate(-90 984.7 213.4)" textLength="108.5" lengthAdjust="spacingAndGlyphs">Average Ct</text>
<text x="1278.2" y="77" font-size="24.5" textLength="113" lengthAdjust="spacingAndGlyphs" fill="#1a1a1a" stroke="#1a1a1a" stroke-width="0.3">R<tspan font-size="16.5" dy="-9.5">2</tspan><tspan dy="9.5"> 0.9799</tspan></text>
<line x1="1097.6" y1="517.5" x2="1409.5" y2="562.6" stroke="#777" stroke-width="2"/>
<line x1="1097.6" y1="504.5" x2="1097.6" y2="527.2" stroke="#222" stroke-width="1.2"/>
<line x1="1094.6" y1="504.5" x2="1100.6" y2="504.5" stroke="#222" stroke-width="1.2"/>
<line x1="1094.6" y1="527.2" x2="1100.6" y2="527.2" stroke="#222" stroke-width="1.2"/>
<polygon points="1090.8,515.9 1097.6,509.3 1104.4,515.9 1097.6,522.5" fill="#00007a"/>
<polygon points="1168.8,528.9 1175.6,522.3 1182.4,528.9 1175.6,535.5" fill="#00007a"/>
<polygon points="1246.8,541.9 1253.6,535.3 1260.4,541.9 1253.6,548.5" fill="#00007a"/>
<polygon points="1324.7,552.4 1331.5,545.8 1338.3,552.4 1331.5,559" fill="#00007a"/>
<polygon points="1402.7,560.6 1409.5,554 1416.3,560.6 1409.5,567.2" fill="#00007a"/>
<line x1="1043.1" y1="410.1" x2="1043.1" y2="656" stroke="#000" stroke-width="1.6"/>
<line x1="1042.1" y1="655" x2="1434" y2="655" stroke="#000" stroke-width="2.2"/>
<line x1="1035.1" y1="655" x2="1043.1" y2="655" stroke="#000" stroke-width="1.8"/>
<text x="1032" y="661" font-size="20" text-anchor="end" textLength="10.2" lengthAdjust="spacingAndGlyphs" stroke="#000" stroke-width="0.8">0</text>
<line x1="1035.1" y1="614.4" x2="1043.1" y2="614.4" stroke="#000" stroke-width="1.8"/>
<text x="1032" y="620.4" font-size="20" text-anchor="end" textLength="10.2" lengthAdjust="spacingAndGlyphs" stroke="#000" stroke-width="0.8">5</text>
<line x1="1035.1" y1="573.7" x2="1043.1" y2="573.7" stroke="#000" stroke-width="1.8"/>
<text x="1032" y="579.7" font-size="20" text-anchor="end" textLength="20.8" lengthAdjust="spacingAndGlyphs" stroke="#000" stroke-width="0.8">10</text>
<line x1="1035.1" y1="533" x2="1043.1" y2="533" stroke="#000" stroke-width="1.8"/>
<text x="1032" y="539" font-size="20" text-anchor="end" textLength="20.8" lengthAdjust="spacingAndGlyphs" stroke="#000" stroke-width="0.8">15</text>
<line x1="1035.1" y1="492.4" x2="1043.1" y2="492.4" stroke="#000" stroke-width="1.8"/>
<text x="1032" y="498.4" font-size="20" text-anchor="end" textLength="20.8" lengthAdjust="spacingAndGlyphs" stroke="#000" stroke-width="0.8">20</text>
<line x1="1035.1" y1="451.8" x2="1043.1" y2="451.8" stroke="#000" stroke-width="1.8"/>
<text x="1032" y="457.8" font-size="20" text-anchor="end" textLength="20.8" lengthAdjust="spacingAndGlyphs" stroke="#000" stroke-width="0.8">25</text>
<line x1="1035.1" y1="411.1" x2="1043.1" y2="411.1" stroke="#000" stroke-width="1.8"/>
<text x="1032" y="417.1" font-size="20" text-anchor="end" textLength="20.8" lengthAdjust="spacingAndGlyphs" stroke="#000" stroke-width="0.8">30</text>
<line x1="1043.1" y1="655" x2="1043.1" y2="663" stroke="#000" stroke-width="1.8"/>
<line x1="1066.6" y1="655" x2="1066.6" y2="659.6" stroke="#000" stroke-width="2"/>
<line x1="1080.3" y1="655" x2="1080.3" y2="659.6" stroke="#000" stroke-width="2"/>
<line x1="1090" y1="655" x2="1090" y2="659.6" stroke="#000" stroke-width="2"/>
<line x1="1097.6" y1="655" x2="1097.6" y2="659.6" stroke="#000" stroke-width="2"/>
<line x1="1103.8" y1="655" x2="1103.8" y2="659.6" stroke="#000" stroke-width="2"/>
<line x1="1109" y1="655" x2="1109" y2="659.6" stroke="#000" stroke-width="2"/>
<line x1="1113.5" y1="655" x2="1113.5" y2="659.6" stroke="#000" stroke-width="2"/>
<line x1="1117.5" y1="655" x2="1117.5" y2="659.6" stroke="#000" stroke-width="2"/>
<text x="1027.9" y="696.6" font-size="18" font-weight="bold" transform="rotate(-45 1027.9 696.6)">10<tspan font-size="11" dy="-7.5" dx="0.6">1</tspan></text>
<line x1="1121.1" y1="655" x2="1121.1" y2="663" stroke="#000" stroke-width="1.8"/>
<line x1="1144.6" y1="655" x2="1144.6" y2="659.6" stroke="#000" stroke-width="2"/>
<line x1="1158.3" y1="655" x2="1158.3" y2="659.6" stroke="#000" stroke-width="2"/>
<line x1="1168" y1="655" x2="1168" y2="659.6" stroke="#000" stroke-width="2"/>
<line x1="1175.6" y1="655" x2="1175.6" y2="659.6" stroke="#000" stroke-width="2"/>
<line x1="1181.8" y1="655" x2="1181.8" y2="659.6" stroke="#000" stroke-width="2"/>
<line x1="1187" y1="655" x2="1187" y2="659.6" stroke="#000" stroke-width="2"/>
<line x1="1191.5" y1="655" x2="1191.5" y2="659.6" stroke="#000" stroke-width="2"/>
<line x1="1195.5" y1="655" x2="1195.5" y2="659.6" stroke="#000" stroke-width="2"/>
<text x="1105.9" y="696.6" font-size="18" font-weight="bold" transform="rotate(-45 1105.9 696.6)">10<tspan font-size="11" dy="-7.5" dx="0.6">2</tspan></text>
<line x1="1199.1" y1="655" x2="1199.1" y2="663" stroke="#000" stroke-width="1.8"/>
<line x1="1222.5" y1="655" x2="1222.5" y2="659.6" stroke="#000" stroke-width="2"/>
<line x1="1236.3" y1="655" x2="1236.3" y2="659.6" stroke="#000" stroke-width="2"/>
<line x1="1246" y1="655" x2="1246" y2="659.6" stroke="#000" stroke-width="2"/>
<line x1="1253.6" y1="655" x2="1253.6" y2="659.6" stroke="#000" stroke-width="2"/>
<line x1="1259.7" y1="655" x2="1259.7" y2="659.6" stroke="#000" stroke-width="2"/>
<line x1="1265" y1="655" x2="1265" y2="659.6" stroke="#000" stroke-width="2"/>
<line x1="1269.5" y1="655" x2="1269.5" y2="659.6" stroke="#000" stroke-width="2"/>
<line x1="1273.5" y1="655" x2="1273.5" y2="659.6" stroke="#000" stroke-width="2"/>
<text x="1183.9" y="696.6" font-size="18" font-weight="bold" transform="rotate(-45 1183.9 696.6)">10<tspan font-size="11" dy="-7.5" dx="0.6">3</tspan></text>
<line x1="1277" y1="655" x2="1277" y2="663" stroke="#000" stroke-width="1.8"/>
<line x1="1300.5" y1="655" x2="1300.5" y2="659.6" stroke="#000" stroke-width="2"/>
<line x1="1314.2" y1="655" x2="1314.2" y2="659.6" stroke="#000" stroke-width="2"/>
<line x1="1324" y1="655" x2="1324" y2="659.6" stroke="#000" stroke-width="2"/>
<line x1="1331.5" y1="655" x2="1331.5" y2="659.6" stroke="#000" stroke-width="2"/>
<line x1="1337.7" y1="655" x2="1337.7" y2="659.6" stroke="#000" stroke-width="2"/>
<line x1="1342.9" y1="655" x2="1342.9" y2="659.6" stroke="#000" stroke-width="2"/>
<line x1="1347.5" y1="655" x2="1347.5" y2="659.6" stroke="#000" stroke-width="2"/>
<line x1="1351.5" y1="655" x2="1351.5" y2="659.6" stroke="#000" stroke-width="2"/>
<text x="1261.9" y="696.6" font-size="18" font-weight="bold" transform="rotate(-45 1261.9 696.6)">10<tspan font-size="11" dy="-7.5" dx="0.6">4</tspan></text>
<line x1="1355" y1="655" x2="1355" y2="663" stroke="#000" stroke-width="1.8"/>
<line x1="1378.5" y1="655" x2="1378.5" y2="659.6" stroke="#000" stroke-width="2"/>
<line x1="1392.2" y1="655" x2="1392.2" y2="659.6" stroke="#000" stroke-width="2"/>
<line x1="1402" y1="655" x2="1402" y2="659.6" stroke="#000" stroke-width="2"/>
<line x1="1409.5" y1="655" x2="1409.5" y2="659.6" stroke="#000" stroke-width="2"/>
<line x1="1415.7" y1="655" x2="1415.7" y2="659.6" stroke="#000" stroke-width="2"/>
<line x1="1420.9" y1="655" x2="1420.9" y2="659.6" stroke="#000" stroke-width="2"/>
<line x1="1425.4" y1="655" x2="1425.4" y2="659.6" stroke="#000" stroke-width="2"/>
<line x1="1429.4" y1="655" x2="1429.4" y2="659.6" stroke="#000" stroke-width="2"/>
<text x="1339.9" y="696.6" font-size="18" font-weight="bold" transform="rotate(-45 1339.9 696.6)">10<tspan font-size="11" dy="-7.5" dx="0.6">5</tspan></text>
<line x1="1433" y1="655" x2="1433" y2="663" stroke="#000" stroke-width="1.8"/>
<text x="1417.8" y="696.6" font-size="18" font-weight="bold" transform="rotate(-45 1417.8 696.6)">10<tspan font-size="11" dy="-7.5" dx="0.6">6</tspan></text>
<text x="1118.6" y="725.2" font-size="18.5" font-weight="bold" textLength="241" lengthAdjust="spacingAndGlyphs">log (Conc in copies/5µl)</text>
<text x="984.7" y="587.2" font-size="21" font-weight="bold" transform="rotate(-90 984.7 587.2)" textLength="108.5" lengthAdjust="spacingAndGlyphs">Average Ct</text>
<text x="1278.2" y="451.7" font-size="24.5" textLength="113" lengthAdjust="spacingAndGlyphs" fill="#1a1a1a" stroke="#1a1a1a" stroke-width="0.3">R<tspan font-size="16.5" dy="-9.5">2</tspan><tspan dy="9.5"> 0.9912</tspan></text>
<line x1="1097.6" y1="930.3" x2="1409.5" y2="968.1" stroke="#777" stroke-width="2"/>
<polygon points="1090.8,928.2 1097.6,921.6 1104.4,928.2 1097.6,934.8" fill="#00007a"/>
<polygon points="1168.8,941.4 1175.6,934.8 1182.4,941.4 1175.6,948" fill="#00007a"/>
<polygon points="1246.8,948.8 1253.6,942.2 1260.4,948.8 1253.6,955.4" fill="#00007a"/>
<polygon points="1324.7,960.3 1331.5,953.7 1338.3,960.3 1331.5,966.9" fill="#00007a"/>
<polygon points="1402.7,966.1 1409.5,959.5 1416.3,966.1 1409.5,972.7" fill="#00007a"/>
<line x1="1043.1" y1="784.2" x2="1043.1" y2="1033" stroke="#000" stroke-width="1.6"/>
<line x1="1042.1" y1="1032" x2="1434" y2="1032" stroke="#000" stroke-width="2.2"/>
<line x1="1035.1" y1="1032" x2="1043.1" y2="1032" stroke="#000" stroke-width="1.8"/>
<text x="1032" y="1038" font-size="20" text-anchor="end" textLength="10.2" lengthAdjust="spacingAndGlyphs" stroke="#000" stroke-width="0.8">0</text>
<line x1="1035.1" y1="990.9" x2="1043.1" y2="990.9" stroke="#000" stroke-width="1.8"/>
<text x="1032" y="996.9" font-size="20" text-anchor="end" textLength="10.2" lengthAdjust="spacingAndGlyphs" stroke="#000" stroke-width="0.8">5</text>
<line x1="1035.1" y1="949.7" x2="1043.1" y2="949.7" stroke="#000" stroke-width="1.8"/>
<text x="1032" y="955.7" font-size="20" text-anchor="end" textLength="20.8" lengthAdjust="spacingAndGlyphs" stroke="#000" stroke-width="0.8">10</text>
<line x1="1035.1" y1="908.6" x2="1043.1" y2="908.6" stroke="#000" stroke-width="1.8"/>
<text x="1032" y="914.6" font-size="20" text-anchor="end" textLength="20.8" lengthAdjust="spacingAndGlyphs" stroke="#000" stroke-width="0.8">15</text>
<line x1="1035.1" y1="867.5" x2="1043.1" y2="867.5" stroke="#000" stroke-width="1.8"/>
<text x="1032" y="873.5" font-size="20" text-anchor="end" textLength="20.8" lengthAdjust="spacingAndGlyphs" stroke="#000" stroke-width="0.8">20</text>
<line x1="1035.1" y1="826.3" x2="1043.1" y2="826.3" stroke="#000" stroke-width="1.8"/>
<text x="1032" y="832.3" font-size="20" text-anchor="end" textLength="20.8" lengthAdjust="spacingAndGlyphs" stroke="#000" stroke-width="0.8">25</text>
<line x1="1035.1" y1="785.2" x2="1043.1" y2="785.2" stroke="#000" stroke-width="1.8"/>
<text x="1032" y="791.2" font-size="20" text-anchor="end" textLength="20.8" lengthAdjust="spacingAndGlyphs" stroke="#000" stroke-width="0.8">30</text>
<line x1="1043.1" y1="1032" x2="1043.1" y2="1040" stroke="#000" stroke-width="1.8"/>
<line x1="1066.6" y1="1032" x2="1066.6" y2="1036.6" stroke="#000" stroke-width="2"/>
<line x1="1080.3" y1="1032" x2="1080.3" y2="1036.6" stroke="#000" stroke-width="2"/>
<line x1="1090" y1="1032" x2="1090" y2="1036.6" stroke="#000" stroke-width="2"/>
<line x1="1097.6" y1="1032" x2="1097.6" y2="1036.6" stroke="#000" stroke-width="2"/>
<line x1="1103.8" y1="1032" x2="1103.8" y2="1036.6" stroke="#000" stroke-width="2"/>
<line x1="1109" y1="1032" x2="1109" y2="1036.6" stroke="#000" stroke-width="2"/>
<line x1="1113.5" y1="1032" x2="1113.5" y2="1036.6" stroke="#000" stroke-width="2"/>
<line x1="1117.5" y1="1032" x2="1117.5" y2="1036.6" stroke="#000" stroke-width="2"/>
<text x="1027.9" y="1073.6" font-size="18" font-weight="bold" transform="rotate(-45 1027.9 1073.6)">10<tspan font-size="11" dy="-7.5" dx="0.6">1</tspan></text>
<line x1="1121.1" y1="1032" x2="1121.1" y2="1040" stroke="#000" stroke-width="1.8"/>
<line x1="1144.6" y1="1032" x2="1144.6" y2="1036.6" stroke="#000" stroke-width="2"/>
<line x1="1158.3" y1="1032" x2="1158.3" y2="1036.6" stroke="#000" stroke-width="2"/>
<line x1="1168" y1="1032" x2="1168" y2="1036.6" stroke="#000" stroke-width="2"/>
<line x1="1175.6" y1="1032" x2="1175.6" y2="1036.6" stroke="#000" stroke-width="2"/>
<line x1="1181.8" y1="1032" x2="1181.8" y2="1036.6" stroke="#000" stroke-width="2"/>
<line x1="1187" y1="1032" x2="1187" y2="1036.6" stroke="#000" stroke-width="2"/>
<line x1="1191.5" y1="1032" x2="1191.5" y2="1036.6" stroke="#000" stroke-width="2"/>
<line x1="1195.5" y1="1032" x2="1195.5" y2="1036.6" stroke="#000" stroke-width="2"/>
<text x="1105.9" y="1073.6" font-size="18" font-weight="bold" transform="rotate(-45 1105.9 1073.6)">10<tspan font-size="11" dy="-7.5" dx="0.6">2</tspan></text>
<line x1="1199.1" y1="1032" x2="1199.1" y2="1040" stroke="#000" stroke-width="1.8"/>
<line x1="1222.5" y1="1032" x2="1222.5" y2="1036.6" stroke="#000" stroke-width="2"/>
<line x1="1236.3" y1="1032" x2="1236.3" y2="1036.6" stroke="#000" stroke-width="2"/>
<line x1="1246" y1="1032" x2="1246" y2="1036.6" stroke="#000" stroke-width="2"/>
<line x1="1253.6" y1="1032" x2="1253.6" y2="1036.6" stroke="#000" stroke-width="2"/>
<line x1="1259.7" y1="1032" x2="1259.7" y2="1036.6" stroke="#000" stroke-width="2"/>
<line x1="1265" y1="1032" x2="1265" y2="1036.6" stroke="#000" stroke-width="2"/>
<line x1="1269.5" y1="1032" x2="1269.5" y2="1036.6" stroke="#000" stroke-width="2"/>
<line x1="1273.5" y1="1032" x2="1273.5" y2="1036.6" stroke="#000" stroke-width="2"/>
<text x="1183.9" y="1073.6" font-size="18" font-weight="bold" transform="rotate(-45 1183.9 1073.6)">10<tspan font-size="11" dy="-7.5" dx="0.6">3</tspan></text>
<line x1="1277" y1="1032" x2="1277" y2="1040" stroke="#000" stroke-width="1.8"/>
<line x1="1300.5" y1="1032" x2="1300.5" y2="1036.6" stroke="#000" stroke-width="2"/>
<line x1="1314.2" y1="1032" x2="1314.2" y2="1036.6" stroke="#000" stroke-width="2"/>
<line x1="1324" y1="1032" x2="1324" y2="1036.6" stroke="#000" stroke-width="2"/>
<line x1="1331.5" y1="1032" x2="1331.5" y2="1036.6" stroke="#000" stroke-width="2"/>
<line x1="1337.7" y1="1032" x2="1337.7" y2="1036.6" stroke="#000" stroke-width="2"/>
<line x1="1342.9" y1="1032" x2="1342.9" y2="1036.6" stroke="#000" stroke-width="2"/>
<line x1="1347.5" y1="1032" x2="1347.5" y2="1036.6" stroke="#000" stroke-width="2"/>
<line x1="1351.5" y1="1032" x2="1351.5" y2="1036.6" stroke="#000" stroke-width="2"/>
<text x="1261.9" y="1073.6" font-size="18" font-weight="bold" transform="rotate(-45 1261.9 1073.6)">10<tspan font-size="11" dy="-7.5" dx="0.6">4</tspan></text>
<line x1="1355" y1="1032" x2="1355" y2="1040" stroke="#000" stroke-width="1.8"/>
<line x1="1378.5" y1="1032" x2="1378.5" y2="1036.6" stroke="#000" stroke-width="2"/>
<line x1="1392.2" y1="1032" x2="1392.2" y2="1036.6" stroke="#000" stroke-width="2"/>
<line x1="1402" y1="1032" x2="1402" y2="1036.6" stroke="#000" stroke-width="2"/>
<line x1="1409.5" y1="1032" x2="1409.5" y2="1036.6" stroke="#000" stroke-width="2"/>
<line x1="1415.7" y1="1032" x2="1415.7" y2="1036.6" stroke="#000" stroke-width="2"/>
<line x1="1420.9" y1="1032" x2="1420.9" y2="1036.6" stroke="#000" stroke-width="2"/>
<line x1="1425.4" y1="1032" x2="1425.4" y2="1036.6" stroke="#000" stroke-width="2"/>
<line x1="1429.4" y1="1032" x2="1429.4" y2="1036.6" stroke="#000" stroke-width="2"/>
<text x="1339.9" y="1073.6" font-size="18" font-weight="bold" transform="rotate(-45 1339.9 1073.6)">10<tspan font-size="11" dy="-7.5" dx="0.6">5</tspan></text>
<line x1="1433" y1="1032" x2="1433" y2="1040" stroke="#000" stroke-width="1.8"/>
<text x="1417.8" y="1073.6" font-size="18" font-weight="bold" transform="rotate(-45 1417.8 1073.6)">10<tspan font-size="11" dy="-7.5" dx="0.6">6</tspan></text>
<text x="1118.6" y="1098.9" font-size="18.5" font-weight="bold" textLength="241" lengthAdjust="spacingAndGlyphs">log (Conc in copies/5µl)</text>
<text x="984.7" y="960.7" font-size="21" font-weight="bold" transform="rotate(-90 984.7 960.7)" textLength="108.5" lengthAdjust="spacingAndGlyphs">Average Ct</text>
<text x="1278.2" y="825.3" font-size="24.5" textLength="113" lengthAdjust="spacingAndGlyphs" fill="#1a1a1a" stroke="#1a1a1a" stroke-width="0.3">R<tspan font-size="16.5" dy="-9.5">2</tspan><tspan dy="9.5"> 0.9849</tspan></text>
<polygon points="1852.4,101 1864.9,101 1852.4,110" fill="#0a7a0a"/>
<polygon points="1923.6,101 1936.1,101 1923.6,110" fill="#0a7a0a"/>
<polygon points="1852.4,145.7 1864.9,145.7 1852.4,154.7" fill="#0a7a0a"/>
<polygon points="1923.6,145.7 1936.1,145.7 1923.6,154.7" fill="#0a7a0a"/>
<polygon points="1852.4,191.2 1864.9,191.2 1852.4,200.2" fill="#0a7a0a"/>
<polygon points="1923.6,191.2 1936.1,191.2 1923.6,200.2" fill="#0a7a0a"/>
<polygon points="1852.4,235.3 1864.9,235.3 1852.4,244.3" fill="#0a7a0a"/>
<polygon points="1923.6,235.3 1936.1,235.3 1923.6,244.3" fill="#0a7a0a"/>
<polygon points="1852.4,279.5 1864.9,279.5 1852.4,288.5" fill="#0a7a0a"/>
<polygon points="1923.6,279.5 1936.1,279.5 1923.6,288.5" fill="#0a7a0a"/>
<line x1="1448.4" y1="144.5" x2="1992.6" y2="144.5" stroke="#000" stroke-width="1.8"/>
<line x1="1448.4" y1="190" x2="1992.6" y2="190" stroke="#000" stroke-width="1.8"/>
<line x1="1448.4" y1="234.1" x2="1992.6" y2="234.1" stroke="#000" stroke-width="1.8"/>
<line x1="1448.4" y1="278.3" x2="1992.6" y2="278.3" stroke="#000" stroke-width="1.8"/>
<line x1="1639" y1="99.8" x2="1639" y2="323.7" stroke="#000" stroke-width="1.8"/>
<line x1="1710.3" y1="99.8" x2="1710.3" y2="323.7" stroke="#000" stroke-width="1.8"/>
<line x1="1780.5" y1="99.8" x2="1780.5" y2="323.7" stroke="#000" stroke-width="1.8"/>
<line x1="1851.4" y1="55.2" x2="1851.4" y2="323.7" stroke="#000" stroke-width="1.8"/>
<line x1="1922.6" y1="55.2" x2="1922.6" y2="323.7" stroke="#000" stroke-width="1.8"/>
<line x1="1567.4" y1="55.2" x2="1567.4" y2="323.7" stroke="#000" stroke-width="2.6"/>
<line x1="1448.4" y1="99.8" x2="1992.6" y2="99.8" stroke="#000" stroke-width="2.8"/>
<line x1="1448.4" y1="278.3" x2="1992.6" y2="278.3" stroke="#000" stroke-width="2.2"/>
<rect x="1448.4" y="55.2" width="544.2" height="268.5" fill="none" stroke="#000" stroke-width="2.6"/>
<text x="1451.2" y="89.6" font-size="25.5" textLength="116.4" lengthAdjust="spacingAndGlyphs">copies/5µl</text>
<text x="1709.4" y="89.6" font-size="25.5" text-anchor="middle" textLength="107" lengthAdjust="spacingAndGlyphs">replicates</text>
<text x="1887.5" y="89.6" font-size="25.5" text-anchor="middle" textLength="60" lengthAdjust="spacingAndGlyphs">mean</text>
<text x="1958.1" y="89.6" font-size="25.5" text-anchor="middle" textLength="62" lengthAdjust="spacingAndGlyphs">stdev</text>
<text x="1561.8" y="133.6" font-size="30" text-anchor="end" textLength="98.1" lengthAdjust="spacingAndGlyphs">500000</text>
<text x="1604" y="133.6" font-size="30" text-anchor="middle" textLength="57.6" lengthAdjust="spacingAndGlyphs">11.3</text>
<text x="1675.5" y="133.6" font-size="30" text-anchor="middle" textLength="57.6" lengthAdjust="spacingAndGlyphs">12.1</text>
<text x="1746.2" y="133.6" font-size="30" text-anchor="middle" textLength="57.6" lengthAdjust="spacingAndGlyphs">10.8</text>
<text x="1816.8" y="133.6" font-size="30" text-anchor="middle" textLength="57.6" lengthAdjust="spacingAndGlyphs">10.8</text>
<text x="1888.6" y="133.6" font-size="30" text-anchor="middle" textLength="57.6" lengthAdjust="spacingAndGlyphs" fill="#e00000">11.2</text>
<text x="1959.2" y="133.6" font-size="30" text-anchor="middle" textLength="41.4" lengthAdjust="spacingAndGlyphs" fill="#e00000">0.6</text>
<text x="1561.8" y="179.1" font-size="30" text-anchor="end" textLength="81.8" lengthAdjust="spacingAndGlyphs">50000</text>
<text x="1604" y="179.1" font-size="30" text-anchor="middle" textLength="57.6" lengthAdjust="spacingAndGlyphs">13.2</text>
<text x="1675.5" y="179.1" font-size="30" text-anchor="middle" textLength="57.6" lengthAdjust="spacingAndGlyphs">12.6</text>
<text x="1746.2" y="179.1" font-size="30" text-anchor="middle" textLength="57.6" lengthAdjust="spacingAndGlyphs">12.6</text>
<text x="1816.8" y="179.1" font-size="30" text-anchor="middle" textLength="57.6" lengthAdjust="spacingAndGlyphs">13.8</text>
<text x="1888.6" y="179.1" font-size="30" text-anchor="middle" textLength="57.6" lengthAdjust="spacingAndGlyphs" fill="#e00000">13.1</text>
<text x="1959.2" y="179.1" font-size="30" text-anchor="middle" textLength="41.4" lengthAdjust="spacingAndGlyphs" fill="#e00000">0.6</text>
<text x="1561.8" y="223.2" font-size="30" text-anchor="end" textLength="65.4" lengthAdjust="spacingAndGlyphs">5000</text>
<text x="1604" y="223.2" font-size="30" text-anchor="middle" textLength="57.6" lengthAdjust="spacingAndGlyphs">14.8</text>
<text x="1675.5" y="223.2" font-size="30" text-anchor="middle" textLength="57.6" lengthAdjust="spacingAndGlyphs">14.4</text>
<text x="1746.2" y="223.2" font-size="30" text-anchor="middle" textLength="57.6" lengthAdjust="spacingAndGlyphs">14.1</text>
<text x="1816.8" y="223.2" font-size="30" text-anchor="middle" textLength="57.6" lengthAdjust="spacingAndGlyphs">13.0</text>
<text x="1888.6" y="223.2" font-size="30" text-anchor="middle" textLength="57.6" lengthAdjust="spacingAndGlyphs" fill="#e00000">14.1</text>
<text x="1959.2" y="223.2" font-size="30" text-anchor="middle" textLength="41.4" lengthAdjust="spacingAndGlyphs" fill="#e00000">0.8</text>
<text x="1561.8" y="267.4" font-size="30" text-anchor="end" textLength="49.1" lengthAdjust="spacingAndGlyphs">500</text>
<text x="1604" y="267.4" font-size="30" text-anchor="middle" textLength="57.6" lengthAdjust="spacingAndGlyphs">18.3</text>
<text x="1675.5" y="267.4" font-size="30" text-anchor="middle" textLength="57.6" lengthAdjust="spacingAndGlyphs">17.4</text>
<text x="1746.2" y="267.4" font-size="30" text-anchor="middle" textLength="57.6" lengthAdjust="spacingAndGlyphs">16.0</text>
<text x="1816.8" y="267.4" font-size="30" text-anchor="middle" textLength="57.6" lengthAdjust="spacingAndGlyphs">16.5</text>
<text x="1888.6" y="267.4" font-size="30" text-anchor="middle" textLength="57.6" lengthAdjust="spacingAndGlyphs" fill="#e00000">17.1</text>
<text x="1959.2" y="267.4" font-size="30" text-anchor="middle" textLength="41.4" lengthAdjust="spacingAndGlyphs" fill="#e00000">1.0</text>
<text x="1561.8" y="312.8" font-size="30" text-anchor="end" textLength="32.7" lengthAdjust="spacingAndGlyphs">50</text>
<text x="1604" y="312.8" font-size="30" text-anchor="middle" textLength="57.6" lengthAdjust="spacingAndGlyphs">19.2</text>
<text x="1675.5" y="312.8" font-size="30" text-anchor="middle" textLength="57.6" lengthAdjust="spacingAndGlyphs">18.6</text>
<text x="1746.2" y="312.8" font-size="30" text-anchor="middle" textLength="57.6" lengthAdjust="spacingAndGlyphs">17.4</text>
<text x="1816.8" y="312.8" font-size="30" text-anchor="middle" textLength="57.6" lengthAdjust="spacingAndGlyphs">19.4</text>
<text x="1888.6" y="312.8" font-size="30" text-anchor="middle" textLength="57.6" lengthAdjust="spacingAndGlyphs" fill="#e00000">18.6</text>
<text x="1959.2" y="312.8" font-size="30" text-anchor="middle" textLength="41.4" lengthAdjust="spacingAndGlyphs" fill="#e00000">0.9</text>
<polygon points="1851.7,477.6 1864.2,477.6 1851.7,486.6" fill="#0a7a0a"/>
<polygon points="1922.6,477.6 1935.1,477.6 1922.6,486.6" fill="#0a7a0a"/>
<polygon points="1851.7,520.7 1864.2,520.7 1851.7,529.7" fill="#0a7a0a"/>
<polygon points="1922.6,520.7 1935.1,520.7 1922.6,529.7" fill="#0a7a0a"/>
<polygon points="1851.7,564.5 1864.2,564.5 1851.7,573.5" fill="#0a7a0a"/>
<polygon points="1922.6,564.5 1935.1,564.5 1922.6,573.5" fill="#0a7a0a"/>
<polygon points="1851.7,608 1864.2,608 1851.7,617" fill="#0a7a0a"/>
<polygon points="1922.6,608 1935.1,608 1922.6,617" fill="#0a7a0a"/>
<polygon points="1851.7,652.1 1864.2,652.1 1851.7,661.1" fill="#0a7a0a"/>
<polygon points="1922.6,652.1 1935.1,652.1 1922.6,661.1" fill="#0a7a0a"/>
<line x1="1448.4" y1="519.5" x2="1992.6" y2="519.5" stroke="#000" stroke-width="1.8"/>
<line x1="1448.4" y1="563.3" x2="1992.6" y2="563.3" stroke="#000" stroke-width="1.8"/>
<line x1="1448.4" y1="606.8" x2="1992.6" y2="606.8" stroke="#000" stroke-width="1.8"/>
<line x1="1448.4" y1="650.9" x2="1992.6" y2="650.9" stroke="#000" stroke-width="1.8"/>
<line x1="1637.4" y1="476.4" x2="1637.4" y2="693.7" stroke="#000" stroke-width="1.8"/>
<line x1="1707.8" y1="476.4" x2="1707.8" y2="693.7" stroke="#000" stroke-width="1.8"/>
<line x1="1779.5" y1="476.4" x2="1779.5" y2="693.7" stroke="#000" stroke-width="1.8"/>
<line x1="1850.7" y1="432.9" x2="1850.7" y2="693.7" stroke="#000" stroke-width="1.8"/>
<line x1="1921.6" y1="432.9" x2="1921.6" y2="693.7" stroke="#000" stroke-width="1.8"/>
<line x1="1565.5" y1="432.9" x2="1565.5" y2="693.7" stroke="#000" stroke-width="2.6"/>
<line x1="1448.4" y1="476.4" x2="1992.6" y2="476.4" stroke="#000" stroke-width="2.8"/>
<line x1="1448.4" y1="650.9" x2="1992.6" y2="650.9" stroke="#000" stroke-width="2.2"/>
<rect x="1448.4" y="432.9" width="544.2" height="260.8" fill="none" stroke="#000" stroke-width="2.6"/>
<text x="1451.2" y="466.2" font-size="25.5" textLength="114.5" lengthAdjust="spacingAndGlyphs">copies/5µl</text>
<text x="1708.1" y="466.2" font-size="25.5" text-anchor="middle" textLength="107" lengthAdjust="spacingAndGlyphs">replicates</text>
<text x="1886.7" y="466.2" font-size="25.5" text-anchor="middle" textLength="60" lengthAdjust="spacingAndGlyphs">mean</text>
<text x="1957.6" y="466.2" font-size="25.5" text-anchor="middle" textLength="62" lengthAdjust="spacingAndGlyphs">stdev</text>
<text x="1559.9" y="508.6" font-size="30" text-anchor="end" textLength="98.1" lengthAdjust="spacingAndGlyphs">500000</text>
<text x="1602.2" y="508.6" font-size="30" text-anchor="middle" textLength="57.6" lengthAdjust="spacingAndGlyphs">11.3</text>
<text x="1673.4" y="508.6" font-size="30" text-anchor="middle" textLength="57.6" lengthAdjust="spacingAndGlyphs">11.6</text>
<text x="1744.5" y="508.6" font-size="30" text-anchor="middle" textLength="57.6" lengthAdjust="spacingAndGlyphs">12.1</text>
<text x="1815.9" y="508.6" font-size="30" text-anchor="middle" textLength="57.6" lengthAdjust="spacingAndGlyphs">11.8</text>
<text x="1887.8" y="508.6" font-size="30" text-anchor="middle" textLength="57.6" lengthAdjust="spacingAndGlyphs" fill="#e00000">11.7</text>
<text x="1958.7" y="508.6" font-size="30" text-anchor="middle" textLength="41.4" lengthAdjust="spacingAndGlyphs" fill="#e00000">0.4</text>
<text x="1559.9" y="552.4" font-size="30" text-anchor="end" textLength="81.8" lengthAdjust="spacingAndGlyphs">50000</text>
<text x="1602.2" y="552.4" font-size="30" text-anchor="middle" textLength="57.6" lengthAdjust="spacingAndGlyphs">12.5</text>
<text x="1673.4" y="552.4" font-size="30" text-anchor="middle" textLength="57.6" lengthAdjust="spacingAndGlyphs">13.0</text>
<text x="1744.5" y="552.4" font-size="30" text-anchor="middle" textLength="57.6" lengthAdjust="spacingAndGlyphs">12.8</text>
<text x="1815.9" y="552.4" font-size="30" text-anchor="middle" textLength="57.6" lengthAdjust="spacingAndGlyphs">12.4</text>
<text x="1887.8" y="552.4" font-size="30" text-anchor="middle" textLength="57.6" lengthAdjust="spacingAndGlyphs" fill="#e00000">12.7</text>
<text x="1958.7" y="552.4" font-size="30" text-anchor="middle" textLength="41.4" lengthAdjust="spacingAndGlyphs" fill="#e00000">0.3</text>
<text x="1559.9" y="595.9" font-size="30" text-anchor="end" textLength="65.4" lengthAdjust="spacingAndGlyphs">5000</text>
<text x="1602.2" y="595.9" font-size="30" text-anchor="middle" textLength="57.6" lengthAdjust="spacingAndGlyphs">13.8</text>
<text x="1673.4" y="595.9" font-size="30" text-anchor="middle" textLength="57.6" lengthAdjust="spacingAndGlyphs">14.0</text>
<text x="1744.5" y="595.9" font-size="30" text-anchor="middle" textLength="57.6" lengthAdjust="spacingAndGlyphs">13.9</text>
<text x="1815.9" y="595.9" font-size="30" text-anchor="middle" textLength="57.6" lengthAdjust="spacingAndGlyphs">14.1</text>
<text x="1887.8" y="595.9" font-size="30" text-anchor="middle" textLength="57.6" lengthAdjust="spacingAndGlyphs" fill="#e00000">14.0</text>
<text x="1958.7" y="595.9" font-size="30" text-anchor="middle" textLength="41.4" lengthAdjust="spacingAndGlyphs" fill="#e00000">0.2</text>
<text x="1559.9" y="640" font-size="30" text-anchor="end" textLength="49.1" lengthAdjust="spacingAndGlyphs">500</text>
<text x="1602.2" y="640" font-size="30" text-anchor="middle" textLength="57.6" lengthAdjust="spacingAndGlyphs">14.9</text>
<text x="1673.4" y="640" font-size="30" text-anchor="middle" textLength="57.6" lengthAdjust="spacingAndGlyphs">15.4</text>
<text x="1744.5" y="640" font-size="30" text-anchor="middle" textLength="57.6" lengthAdjust="spacingAndGlyphs">15.8</text>
<text x="1815.9" y="640" font-size="30" text-anchor="middle" textLength="57.6" lengthAdjust="spacingAndGlyphs">16.4</text>
<text x="1887.8" y="640" font-size="30" text-anchor="middle" textLength="57.6" lengthAdjust="spacingAndGlyphs" fill="#e00000">15.6</text>
<text x="1958.7" y="640" font-size="30" text-anchor="middle" textLength="41.4" lengthAdjust="spacingAndGlyphs" fill="#e00000">0.6</text>
<text x="1559.9" y="682.8" font-size="30" text-anchor="end" textLength="32.7" lengthAdjust="spacingAndGlyphs">50</text>
<text x="1602.2" y="682.8" font-size="30" text-anchor="middle" textLength="57.6" lengthAdjust="spacingAndGlyphs">19.0</text>
<text x="1673.4" y="682.8" font-size="30" text-anchor="middle" textLength="57.6" lengthAdjust="spacingAndGlyphs">17.7</text>
<text x="1744.5" y="682.8" font-size="30" text-anchor="middle" textLength="57.6" lengthAdjust="spacingAndGlyphs">16.0</text>
<text x="1815.9" y="682.8" font-size="30" text-anchor="middle" textLength="57.6" lengthAdjust="spacingAndGlyphs">16.2</text>
<text x="1887.8" y="682.8" font-size="30" text-anchor="middle" textLength="57.6" lengthAdjust="spacingAndGlyphs" fill="#e00000">17.2</text>
<text x="1958.7" y="682.8" font-size="30" text-anchor="middle" textLength="41.4" lengthAdjust="spacingAndGlyphs" fill="#e00000">1.4</text>
<polygon points="1852.4,848.6 1864.9,848.6 1852.4,857.6" fill="#0a7a0a"/>
<polygon points="1923.6,848.6 1936.1,848.6 1923.6,857.6" fill="#0a7a0a"/>
<polygon points="1852.4,893.4 1864.9,893.4 1852.4,902.4" fill="#0a7a0a"/>
<polygon points="1923.6,893.4 1936.1,893.4 1923.6,902.4" fill="#0a7a0a"/>
<polygon points="1852.4,937.9 1864.9,937.9 1852.4,946.9" fill="#0a7a0a"/>
<polygon points="1923.6,937.9 1936.1,937.9 1923.6,946.9" fill="#0a7a0a"/>
<polygon points="1852.4,983.7 1864.9,983.7 1852.4,992.7" fill="#0a7a0a"/>
<polygon points="1923.6,983.7 1936.1,983.7 1923.6,992.7" fill="#0a7a0a"/>
<polygon points="1852.4,1027.5 1864.9,1027.5 1852.4,1036.5" fill="#0a7a0a"/>
<polygon points="1923.6,1027.5 1936.1,1027.5 1923.6,1036.5" fill="#0a7a0a"/>
<line x1="1448.4" y1="892.2" x2="1992.6" y2="892.2" stroke="#000" stroke-width="1.8"/>
<line x1="1448.4" y1="936.7" x2="1992.6" y2="936.7" stroke="#000" stroke-width="1.8"/>
<line x1="1448.4" y1="982.5" x2="1992.6" y2="982.5" stroke="#000" stroke-width="1.8"/>
<line x1="1448.4" y1="1026.3" x2="1992.6" y2="1026.3" stroke="#000" stroke-width="1.8"/>
<line x1="1639" y1="847.4" x2="1639" y2="1071.1" stroke="#000" stroke-width="1.8"/>
<line x1="1710.3" y1="847.4" x2="1710.3" y2="1071.1" stroke="#000" stroke-width="1.8"/>
<line x1="1780.5" y1="847.4" x2="1780.5" y2="1071.1" stroke="#000" stroke-width="1.8"/>
<line x1="1851.4" y1="802.9" x2="1851.4" y2="1071.1" stroke="#000" stroke-width="1.8"/>
<line x1="1922.6" y1="802.9" x2="1922.6" y2="1071.1" stroke="#000" stroke-width="1.8"/>
<line x1="1567.4" y1="802.9" x2="1567.4" y2="1071.1" stroke="#000" stroke-width="2.6"/>
<line x1="1448.4" y1="847.4" x2="1992.6" y2="847.4" stroke="#000" stroke-width="2.8"/>
<line x1="1448.4" y1="1026.3" x2="1992.6" y2="1026.3" stroke="#000" stroke-width="2.2"/>
<rect x="1448.4" y="802.9" width="544.2" height="268.2" fill="none" stroke="#000" stroke-width="2.6"/>
<text x="1451.2" y="837.2" font-size="25.5" textLength="116.4" lengthAdjust="spacingAndGlyphs">copies/5µl</text>
<text x="1709.4" y="837.2" font-size="25.5" text-anchor="middle" textLength="107" lengthAdjust="spacingAndGlyphs">replicates</text>
<text x="1887.5" y="837.2" font-size="25.5" text-anchor="middle" textLength="60" lengthAdjust="spacingAndGlyphs">mean</text>
<text x="1958.1" y="837.2" font-size="25.5" text-anchor="middle" textLength="62" lengthAdjust="spacingAndGlyphs">stdev</text>
<text x="1561.8" y="881.3" font-size="30" text-anchor="end" textLength="98.1" lengthAdjust="spacingAndGlyphs">500000</text>
<text x="1604" y="881.3" font-size="30" text-anchor="middle" textLength="41.4" lengthAdjust="spacingAndGlyphs">8.2</text>
<text x="1675.5" y="881.3" font-size="30" text-anchor="middle" textLength="41.4" lengthAdjust="spacingAndGlyphs">8.3</text>
<text x="1746.2" y="881.3" font-size="30" text-anchor="middle" textLength="41.4" lengthAdjust="spacingAndGlyphs">8.0</text>
<text x="1816.8" y="881.3" font-size="30" text-anchor="middle" textLength="41.4" lengthAdjust="spacingAndGlyphs">8.0</text>
<text x="1888.6" y="881.3" font-size="30" text-anchor="middle" textLength="41.4" lengthAdjust="spacingAndGlyphs" fill="#e00000">8.1</text>
<text x="1959.2" y="881.3" font-size="30" text-anchor="middle" textLength="41.4" lengthAdjust="spacingAndGlyphs" fill="#e00000">0.1</text>
<text x="1561.8" y="925.8" font-size="30" text-anchor="end" textLength="81.8" lengthAdjust="spacingAndGlyphs">50000</text>
<text x="1604" y="925.8" font-size="30" text-anchor="middle" textLength="41.4" lengthAdjust="spacingAndGlyphs">9.1</text>
<text x="1675.5" y="925.8" font-size="30" text-anchor="middle" textLength="41.4" lengthAdjust="spacingAndGlyphs">8.7</text>
<text x="1746.2" y="925.8" font-size="30" text-anchor="middle" textLength="41.4" lengthAdjust="spacingAndGlyphs">8.9</text>
<text x="1816.8" y="925.8" font-size="30" text-anchor="middle" textLength="41.4" lengthAdjust="spacingAndGlyphs">8.4</text>
<text x="1888.6" y="925.8" font-size="30" text-anchor="middle" textLength="41.4" lengthAdjust="spacingAndGlyphs" fill="#e00000">8.8</text>
<text x="1959.2" y="925.8" font-size="30" text-anchor="middle" textLength="41.4" lengthAdjust="spacingAndGlyphs" fill="#e00000">0.3</text>
<text x="1561.8" y="971.6" font-size="30" text-anchor="end" textLength="65.4" lengthAdjust="spacingAndGlyphs">5000</text>
<text x="1604" y="971.6" font-size="30" text-anchor="middle" textLength="57.6" lengthAdjust="spacingAndGlyphs">10.1</text>
<text x="1675.5" y="971.6" font-size="30" text-anchor="middle" textLength="57.6" lengthAdjust="spacingAndGlyphs">10.2</text>
<text x="1746.2" y="971.6" font-size="30" text-anchor="middle" textLength="57.6" lengthAdjust="spacingAndGlyphs">10.2</text>
<text x="1816.8" y="971.6" font-size="30" text-anchor="middle" textLength="57.6" lengthAdjust="spacingAndGlyphs">10.1</text>
<text x="1888.6" y="971.6" font-size="30" text-anchor="middle" textLength="57.6" lengthAdjust="spacingAndGlyphs" fill="#e00000">10.2</text>
<text x="1959.2" y="971.6" font-size="30" text-anchor="middle" textLength="41.4" lengthAdjust="spacingAndGlyphs" fill="#e00000">0.1</text>
<text x="1561.8" y="1015.4" font-size="30" text-anchor="end" textLength="49.1" lengthAdjust="spacingAndGlyphs">500</text>
<text x="1604" y="1015.4" font-size="30" text-anchor="middle" textLength="57.6" lengthAdjust="spacingAndGlyphs">11.4</text>
<text x="1675.5" y="1015.4" font-size="30" text-anchor="middle" textLength="57.6" lengthAdjust="spacingAndGlyphs">11.1</text>
<text x="1746.2" y="1015.4" font-size="30" text-anchor="middle" textLength="57.6" lengthAdjust="spacingAndGlyphs">11.1</text>
<text x="1816.8" y="1015.4" font-size="30" text-anchor="middle" textLength="57.6" lengthAdjust="spacingAndGlyphs">11.0</text>
<text x="1888.6" y="1015.4" font-size="30" text-anchor="middle" textLength="57.6" lengthAdjust="spacingAndGlyphs" fill="#e00000">11.1</text>
<text x="1959.2" y="1015.4" font-size="30" text-anchor="middle" textLength="41.4" lengthAdjust="spacingAndGlyphs" fill="#e00000">0.2</text>
<text x="1561.8" y="1060.2" font-size="30" text-anchor="end" textLength="32.7" lengthAdjust="spacingAndGlyphs">50</text>
<text x="1604" y="1060.2" font-size="30" text-anchor="middle" textLength="57.6" lengthAdjust="spacingAndGlyphs">13.4</text>
<text x="1675.5" y="1060.2" font-size="30" text-anchor="middle" textLength="57.6" lengthAdjust="spacingAndGlyphs">12.9</text>
<text x="1746.2" y="1060.2" font-size="30" text-anchor="middle" textLength="57.6" lengthAdjust="spacingAndGlyphs">12.2</text>
<text x="1816.8" y="1060.2" font-size="30" text-anchor="middle" textLength="57.6" lengthAdjust="spacingAndGlyphs">12.3</text>
<text x="1888.6" y="1060.2" font-size="30" text-anchor="middle" textLength="57.6" lengthAdjust="spacingAndGlyphs" fill="#e00000">12.7</text>
<text x="1959.2" y="1060.2" font-size="30" text-anchor="middle" textLength="41.4" lengthAdjust="spacingAndGlyphs" fill="#e00000">0.5</text>
</svg>
</body></html>
